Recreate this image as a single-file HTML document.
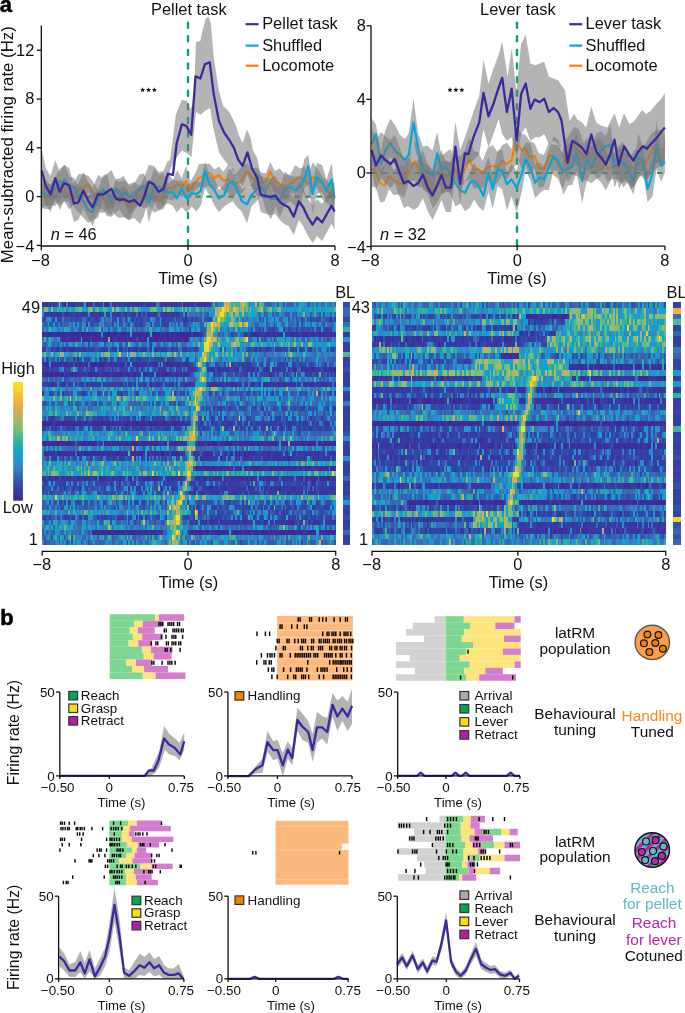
<!DOCTYPE html>
<html><head><meta charset="utf-8"><title>Figure</title>
<style>
html,body{margin:0;padding:0;background:#fff;overflow:hidden;}
svg{display:block;font-family:"Liberation Sans",sans-serif;will-change:transform;}
</style></head><body>
<svg width="685" height="1013" viewBox="0 0 685 1013">
<rect width="685" height="1013" fill="#fff"/>
<text x="-0.3" y="11.8" font-size="22" text-anchor="start" fill="#000" font-weight="bold" stroke="#000" stroke-width="0.5">a</text>
<line x1="41.3" y1="196.6" x2="335.0" y2="196.6" stroke="#04a95b" stroke-width="2.2" stroke-dasharray="5.5 5.5"/>
<line x1="188.0" y1="22.7" x2="188.0" y2="246.0" stroke="#04a95b" stroke-width="2.4" stroke-dasharray="5 8.6" stroke-linecap="round"/>
<polygon points="41.8,185.1 45.8,182.8 50.5,185.3 55.3,180.6 59.7,179.3 64.1,182.9 69.2,187.3 73.9,183.1 78.2,174.2 83.5,174.0 88.2,175.8 92.6,180.9 98.1,189.4 102.8,190.7 107.2,191.0 111.5,192.5 115.9,188.4 119.6,188.7 123.9,185.8 129.1,193.0 134.2,191.3 139.4,185.7 143.8,184.8 148.9,181.2 154.0,183.2 158.6,193.8 163.5,182.9 167.8,172.8 173.0,180.1 177.3,170.1 181.7,178.5 186.1,165.7 190.5,181.2 194.9,174.0 199.2,164.1 203.6,163.8 209.5,163.8 214.6,169.5 218.9,166.6 223.3,171.7 228.4,164.1 232.8,173.9 236.0,173.9 241.1,167.2 247.0,163.1 252.1,168.8 256.4,167.2 261.5,172.4 265.9,173.4 270.3,162.0 274.7,171.1 279.8,168.6 284.9,174.6 290.0,174.9 295.1,165.3 300.2,168.5 304.6,166.7 308.3,174.7 312.6,162.6 317.0,167.8 322.1,176.0 326.5,180.2 331.6,184.5 334.5,181.7 334.5,203.8 331.6,208.1 326.5,202.7 322.1,199.0 317.0,187.0 312.6,189.5 308.3,198.9 304.6,195.1 300.2,187.0 295.1,194.2 290.0,192.5 284.9,201.2 279.8,195.2 274.7,192.7 270.3,183.7 265.9,193.8 261.5,190.4 256.4,191.0 252.1,187.6 247.0,186.8 241.1,194.2 236.0,193.7 232.8,198.4 228.4,193.3 223.3,190.5 218.9,185.9 214.6,190.7 209.5,186.2 203.6,186.9 199.2,186.9 194.9,190.3 190.5,199.1 186.1,194.5 181.7,196.9 177.3,193.4 173.0,200.7 167.8,198.9 163.5,209.0 158.6,210.5 154.0,212.7 148.9,206.1 143.8,209.1 139.4,203.5 134.2,210.6 129.1,220.4 123.9,216.8 119.6,209.6 115.9,212.7 111.5,216.8 107.2,216.3 102.8,209.6 98.1,207.8 92.6,200.6 88.2,192.1 83.5,199.1 78.2,204.8 73.9,204.0 69.2,209.5 64.1,201.0 59.7,205.7 55.3,201.2 50.5,209.1 45.8,208.9 41.8,208.2" fill="#777777" fill-opacity="0.55"/>
<polyline points="41.8,196.2 45.8,197.7 50.5,196.9 55.3,189.6 59.7,191.8 64.1,191.1 69.2,195.5 73.9,196.2 78.2,189.6 83.5,186.7 88.2,184.5 92.6,192.6 98.1,198.4 102.8,198.4 107.2,202.0 111.5,204.2 115.9,199.9 119.6,199.9 123.9,201.3 129.1,207.2 134.2,201.3 139.4,195.5 143.8,198.4 148.9,195.5 154.0,198.4 158.6,201.3 163.5,197.7 167.8,188.2 173.0,188.2 177.3,183.8 181.7,186.7 186.1,180.9 190.5,189.6 194.9,182.3 199.2,178.0 203.6,175.8 209.5,172.8 214.6,178.0 218.9,175.0 223.3,180.9 228.4,179.4 232.8,183.8 236.0,183.1 241.1,181.6 247.0,171.4 252.1,178.0 256.4,180.9 261.5,182.3 265.9,181.6 270.3,171.4 274.7,181.6 279.8,183.8 284.9,186.7 290.0,183.8 295.1,180.1 300.2,178.0 304.6,180.1 308.3,183.8 312.6,177.2 317.0,178.7 322.1,183.8 326.5,189.6 331.6,194.0 334.5,194.0" fill="none" stroke="#f58200" stroke-width="2.2" stroke-linejoin="round" />
<polygon points="41.8,178.1 45.8,180.1 50.5,184.8 55.3,177.0 59.7,168.9 64.8,164.7 69.2,176.5 73.9,177.7 78.2,185.6 83.5,192.7 88.2,198.2 92.6,194.0 98.1,189.9 102.8,175.5 107.2,173.9 111.5,192.9 115.9,178.8 119.6,178.5 123.9,176.1 129.1,186.3 134.2,183.5 139.4,174.4 143.8,173.5 148.9,185.9 154.0,167.4 158.6,174.5 163.5,173.2 167.8,183.5 173.0,179.5 176.6,180.5 181.7,180.8 186.8,185.3 191.9,182.8 196.3,181.4 200.7,182.1 205.1,161.5 209.5,175.6 214.6,178.4 218.9,190.0 224.1,185.2 228.4,170.1 232.8,167.8 236.0,176.9 241.8,189.0 247.0,187.1 251.3,187.7 256.4,172.2 261.5,176.0 265.9,186.5 271.0,179.0 275.4,184.4 279.8,188.1 284.9,171.4 290.0,176.1 295.1,176.7 300.2,175.7 304.6,159.0 308.3,154.9 312.6,182.8 317.0,163.0 322.1,165.0 326.5,179.8 331.6,163.1 334.5,189.0 334.5,217.3 331.6,195.8 326.5,202.0 322.1,192.0 317.0,193.7 312.6,213.6 308.3,185.0 304.6,187.7 300.2,206.3 295.1,206.0 290.0,201.0 284.9,205.4 279.8,217.5 275.4,206.4 271.0,219.4 265.9,210.2 261.5,194.5 256.4,201.6 251.3,206.6 247.0,223.4 241.8,211.4 236.0,206.0 232.8,201.3 228.4,203.6 224.1,206.8 218.9,211.9 214.6,206.1 209.5,195.0 205.1,187.9 200.7,205.7 196.3,211.4 191.9,206.4 186.8,212.6 181.7,207.0 176.6,212.4 173.0,205.9 167.8,203.3 163.5,205.8 158.6,199.0 154.0,203.5 148.9,222.7 143.8,194.1 139.4,203.3 134.2,209.2 129.1,214.2 123.9,200.9 119.6,203.8 115.9,199.8 111.5,215.0 107.2,213.6 102.8,198.4 98.1,217.6 92.6,220.2 88.2,222.9 83.5,217.7 78.2,212.0 73.9,206.5 69.2,199.2 64.8,195.4 59.7,200.6 55.3,206.1 50.5,205.0 45.8,205.7 41.8,207.8" fill="#777777" fill-opacity="0.55"/>
<polyline points="41.8,191.8 45.8,196.2 50.5,192.6 55.3,188.2 59.7,185.3 64.8,179.4 69.2,186.0 73.9,187.4 78.2,194.0 83.5,201.3 88.2,210.1 92.6,212.3 98.1,198.4 102.8,189.6 107.2,194.0 111.5,202.0 115.9,188.2 119.6,194.0 123.9,192.6 129.1,196.2 134.2,196.2 139.4,189.6 143.8,186.0 148.9,202.8 154.0,187.4 158.6,186.7 163.5,189.6 167.8,192.6 173.0,191.8 176.6,198.4 181.7,188.9 186.8,198.4 191.9,193.3 196.3,194.0 200.7,191.1 205.1,171.4 209.5,183.8 214.6,190.4 218.9,198.4 224.1,195.5 228.4,183.8 232.8,181.6 236.0,186.7 241.8,201.3 247.0,204.2 251.3,195.5 256.4,189.6 261.5,186.7 265.9,194.7 271.0,199.1 275.4,198.4 279.8,199.9 284.9,189.6 290.0,186.7 295.1,190.4 300.2,186.7 304.6,178.0 308.3,166.3 312.6,194.0 317.0,177.2 322.1,181.6 326.5,191.1 331.6,179.4 334.5,198.4" fill="none" stroke="#05a6d8" stroke-width="2.2" stroke-linejoin="round" />
<polygon points="41.8,150.0 45.8,168.0 50.5,176.0 55.3,160.0 59.7,172.0 64.1,165.0 69.2,168.0 73.9,186.0 78.2,184.0 83.5,172.0 88.2,182.0 92.6,188.0 98.1,175.0 102.8,178.0 107.2,174.0 111.5,170.0 115.9,180.0 119.6,182.0 123.9,180.0 129.1,184.0 134.2,182.0 140.1,186.0 143.8,178.0 148.9,165.0 154.0,166.0 158.6,172.0 163.5,171.0 167.8,160.4 170.0,160.7 175.9,114.8 181.6,100.0 187.0,100.7 190.0,108.9 193.7,103.0 195.9,42.2 200.4,40.7 201.9,33.3 205.6,19.0 208.5,16.5 210.7,23.0 213.7,57.0 218.9,91.1 223.3,105.9 229.3,111.9 235.2,123.7 239.6,137.0 242.6,143.0 247.0,129.6 250.7,138.5 253.0,150.4 257.2,158.0 260.8,176.0 265.9,178.0 271.0,178.0 275.4,176.0 279.8,184.0 284.2,186.0 288.6,189.0 293.7,198.0 298.8,182.0 303.2,189.0 307.5,198.0 312.6,206.0 317.0,199.0 322.1,204.0 326.5,196.0 331.6,187.0 334.5,193.0 334.5,230.0 331.6,224.0 326.5,233.0 322.1,241.0 317.0,236.0 312.6,243.0 307.5,235.0 303.2,226.0 298.8,220.0 293.7,235.0 288.6,226.0 284.2,224.0 279.8,220.0 275.4,214.0 271.0,215.0 265.9,214.0 260.8,212.0 257.2,196.0 252.1,188.0 247.4,174.0 242.6,186.0 238.1,180.0 233.7,172.0 229.3,166.0 224.1,160.0 218.9,151.9 213.0,126.7 210.0,108.1 205.6,110.4 200.4,114.8 195.9,111.9 191.5,157.0 187.0,153.3 181.9,150.4 177.4,156.3 170.0,170.0 167.8,183.0 163.5,206.0 158.6,210.0 154.0,202.0 148.9,198.0 143.8,216.0 140.1,224.0 134.2,218.0 129.1,220.0 123.9,217.0 119.6,218.0 115.9,216.0 111.5,208.0 107.2,210.0 102.8,213.0 98.1,212.0 92.6,226.0 88.2,218.0 83.5,209.0 78.2,220.0 73.9,222.0 69.2,203.0 64.1,201.0 59.7,210.0 55.3,197.0 50.5,212.0 45.8,205.0 41.8,190.0" fill="#777777" fill-opacity="0.55"/>
<polyline points="41.8,170.7 45.8,186.0 50.5,194.3 55.3,178.2 59.7,191.8 64.1,183.1 69.2,185.3 73.9,203.5 78.2,202.5 83.5,190.4 88.2,200.6 92.6,207.4 98.1,194.0 102.8,194.7 107.2,191.8 111.5,188.9 115.9,198.4 119.6,199.9 123.9,199.1 129.1,202.0 134.2,199.9 140.1,205.7 143.8,197.7 148.9,181.6 154.0,184.5 158.6,191.8 163.5,188.9 167.8,173.6 173.0,175.0 176.7,143.0 181.9,124.4 186.3,125.9 191.2,134.8 195.5,76.3 200.4,78.5 204.8,64.4 209.7,62.2 213.7,94.1 218.9,120.7 224.1,132.6 229.3,140.0 233.7,147.4 238.1,159.3 242.6,165.9 247.4,152.4 252.1,168.5 257.2,178.0 260.8,194.7 265.9,196.2 271.0,196.9 275.4,195.5 279.8,202.0 284.2,205.0 288.6,207.2 293.7,216.6 298.8,201.3 303.2,207.2 307.5,216.6 312.6,224.7 317.0,217.4 322.1,222.5 326.5,214.5 331.6,205.7 334.5,211.5" fill="none" stroke="#3b2a9e" stroke-width="2.3" stroke-linejoin="round" />
<path d="M41.3,25.5 V246.0 H335.0" fill="none" stroke="#111" stroke-width="1.3"/>
<line x1="36.699999999999996" y1="245.4" x2="41.3" y2="245.4" stroke="#111" stroke-width="1.3"/>
<text x="34.3" y="252.2" font-size="16.4" text-anchor="end" fill="#111" font-weight="normal" >−4</text>
<line x1="36.699999999999996" y1="196.6" x2="41.3" y2="196.6" stroke="#111" stroke-width="1.3"/>
<text x="34.3" y="202.0" font-size="16.4" text-anchor="end" fill="#111" font-weight="normal" >0</text>
<line x1="36.699999999999996" y1="147.8" x2="41.3" y2="147.8" stroke="#111" stroke-width="1.3"/>
<text x="34.3" y="153.2" font-size="16.4" text-anchor="end" fill="#111" font-weight="normal" >4</text>
<line x1="36.699999999999996" y1="99.0" x2="41.3" y2="99.0" stroke="#111" stroke-width="1.3"/>
<text x="34.3" y="104.4" font-size="16.4" text-anchor="end" fill="#111" font-weight="normal" >8</text>
<line x1="36.699999999999996" y1="50.2" x2="41.3" y2="50.2" stroke="#111" stroke-width="1.3"/>
<text x="34.3" y="55.6" font-size="16.4" text-anchor="end" fill="#111" font-weight="normal" >12</text>
<line x1="41.3" y1="246.0" x2="41.3" y2="250.2" stroke="#111" stroke-width="1.3"/>
<text x="40.5" y="265.6" font-size="16.4" text-anchor="middle" fill="#111" font-weight="normal" >−8</text>
<line x1="188.0" y1="246.0" x2="188.0" y2="250.2" stroke="#111" stroke-width="1.3"/>
<text x="188.0" y="265.6" font-size="16.4" text-anchor="middle" fill="#111" font-weight="normal" >0</text>
<line x1="335.0" y1="246.0" x2="335.0" y2="250.2" stroke="#111" stroke-width="1.3"/>
<text x="335.0" y="265.6" font-size="16.4" text-anchor="middle" fill="#111" font-weight="normal" >8</text>
<text x="188.0" y="283.7" font-size="16.4" text-anchor="middle" fill="#111" font-weight="normal" >Time (s)</text>
<text x="188.8" y="15.3" font-size="16.4" text-anchor="middle" fill="#111" font-weight="normal" >Pellet task</text>
<line x1="245.6" y1="24.2" x2="258.6" y2="24.2" stroke="#3b2a9e" stroke-width="2.2"/>
<text x="262.2" y="29.4" font-size="16.4" text-anchor="start" fill="#111" font-weight="normal" >Pellet task</text>
<line x1="245.6" y1="45.6" x2="258.6" y2="45.6" stroke="#05a6d8" stroke-width="2.2"/>
<text x="262.2" y="50.8" font-size="16.4" text-anchor="start" fill="#111" font-weight="normal" >Shuffled</text>
<line x1="245.6" y1="65.7" x2="258.6" y2="65.7" stroke="#f58200" stroke-width="2.2"/>
<text x="262.2" y="70.9" font-size="16.4" text-anchor="start" fill="#111" font-weight="normal" >Locomote</text>
<polygon points="142.6,87.3 143.3,89.0 145.1,89.2 143.7,90.4 144.2,92.1 142.6,91.2 141.0,92.1 141.5,90.4 140.1,89.2 141.9,89.0" fill="#111"/>
<polygon points="148.5,87.3 149.2,89.0 151.0,89.2 149.6,90.4 150.1,92.1 148.5,91.2 146.9,92.1 147.4,90.4 146.0,89.2 147.8,89.0" fill="#111"/>
<polygon points="154.4,87.3 155.1,89.0 156.9,89.2 155.5,90.4 156.0,92.1 154.4,91.2 152.8,92.1 153.3,90.4 151.9,89.2 153.7,89.0" fill="#111"/>
<text x="50.7" y="239.9" font-size="16.4" fill="#111"><tspan font-style="italic">n</tspan> = 46</text>
<line x1="371.0" y1="173.0" x2="664.9" y2="173.0" stroke="#04a95b" stroke-width="2.2" stroke-dasharray="5.5 5.5"/>
<line x1="517.0" y1="22.7" x2="517.0" y2="246.1" stroke="#04a95b" stroke-width="2.4" stroke-dasharray="5 8.6" stroke-linecap="round"/>
<polygon points="371.8,156.4 375.8,154.0 380.2,170.4 384.6,166.0 389.0,159.8 393.4,169.9 399.2,166.2 404.3,165.4 408.7,158.5 414.5,139.7 418.9,149.9 423.3,162.2 427.7,165.8 432.5,172.3 437.2,171.1 441.5,161.2 445.9,160.4 451.0,161.7 455.4,156.1 460.5,155.8 465.0,150.1 469.2,137.8 474.2,151.1 478.4,152.3 482.6,160.8 487.7,147.8 492.7,145.1 497.7,152.5 502.2,145.3 506.9,142.7 511.6,149.3 515.3,125.6 518.7,129.7 522.0,134.1 525.4,134.5 529.6,140.8 534.6,143.4 538.8,153.2 543.9,154.9 548.9,142.0 553.6,144.7 558.1,145.1 562.3,152.8 564.7,141.6 569.5,134.5 574.2,126.7 578.9,129.2 583.7,142.8 588.4,137.2 593.2,143.0 597.9,138.3 602.6,140.7 607.4,155.1 612.1,151.7 616.8,154.1 621.6,141.6 626.3,146.5 631.1,155.2 635.8,149.0 640.5,151.4 646.1,142.3 650.8,133.9 654.7,131.1 659.5,129.6 664.9,133.6 664.9,163.5 659.5,163.3 654.7,163.2 650.8,171.3 646.1,181.4 640.5,174.9 635.8,183.9 631.1,189.5 626.3,181.1 621.6,183.5 616.8,179.5 612.1,179.1 607.4,182.0 602.6,171.5 597.9,173.2 593.2,173.6 588.4,169.6 583.7,170.6 578.9,165.4 574.2,164.9 569.5,171.0 564.7,183.2 562.3,188.9 558.1,178.8 553.6,175.3 548.9,167.4 543.9,186.3 538.8,188.3 534.6,168.1 529.6,174.8 525.4,164.6 522.0,169.5 518.7,161.6 515.3,165.5 511.6,171.4 506.9,178.9 502.2,175.5 497.7,182.0 492.7,186.1 487.7,180.2 482.6,188.3 478.4,187.8 474.2,188.9 469.2,179.5 465.0,181.9 460.5,188.9 455.4,179.4 451.0,191.7 445.9,192.5 441.5,193.8 437.2,202.8 432.5,207.9 427.7,193.5 423.3,187.1 418.9,187.4 414.5,180.0 408.7,182.4 404.3,197.7 399.2,194.4 393.4,194.9 389.0,188.9 384.6,201.5 380.2,202.5 375.8,187.3 371.8,186.7" fill="#777777" fill-opacity="0.55"/>
<polyline points="371.8,168.6 375.8,171.5 380.2,183.2 384.6,185.4 389.0,175.9 393.4,180.3 399.2,183.2 404.3,184.7 408.7,171.5 414.5,161.3 418.9,170.1 423.3,173.0 427.7,181.8 432.5,193.4 437.2,183.2 441.5,173.0 445.9,175.9 451.0,175.9 455.4,168.6 460.5,175.9 465.0,169.2 469.2,159.1 474.2,170.0 478.4,169.2 482.6,172.6 487.7,167.5 492.7,165.8 497.7,167.5 502.2,160.8 506.9,164.2 511.6,160.0 515.3,144.0 518.7,145.7 522.0,150.7 525.4,147.4 529.6,157.4 534.6,155.8 538.8,167.5 543.9,169.2 548.9,155.8 553.6,155.8 558.1,164.2 562.3,170.9 564.7,162.1 569.5,149.5 574.2,147.9 578.9,149.5 583.7,157.4 588.4,157.4 593.2,154.2 597.9,157.4 602.6,160.5 607.4,168.4 612.1,166.8 616.8,165.3 621.6,162.1 626.3,165.3 631.1,168.4 635.8,165.3 640.5,162.1 646.1,162.1 650.8,154.2 654.7,146.3 659.5,149.5 664.9,150.0" fill="none" stroke="#f58200" stroke-width="2.2" stroke-linejoin="round" />
<polygon points="371.8,118.4 375.8,124.0 380.9,151.3 385.3,129.9 390.4,118.8 395.5,125.7 399.9,135.1 405.0,138.9 408.7,133.3 413.5,98.4 418.2,133.3 422.8,146.4 427.7,145.7 432.5,150.4 437.2,132.1 441.5,156.0 445.9,152.2 451.0,149.1 455.4,171.0 460.5,169.8 465.0,182.0 470.0,172.2 474.2,162.8 478.4,169.5 483.5,171.3 488.5,156.6 492.7,174.6 497.7,150.5 502.2,150.1 506.9,173.0 511.6,163.6 516.7,171.3 521.2,150.6 525.7,142.7 530.4,143.1 535.1,163.8 539.7,162.4 544.2,166.3 548.9,148.9 553.6,136.2 558.1,139.7 563.2,155.0 567.9,143.6 572.3,143.2 576.6,134.2 582.1,155.1 586.8,141.4 591.6,147.3 596.3,133.2 601.1,131.3 605.8,136.1 610.2,124.5 614.5,154.1 618.7,145.2 623.2,151.5 627.9,154.4 633.4,167.7 638.2,133.5 642.9,146.1 647.6,171.5 652.4,159.2 656.6,120.6 661.1,155.6 664.9,138.3 664.9,172.4 661.1,182.1 656.6,168.9 652.4,196.5 647.6,202.3 642.9,172.0 638.2,170.2 633.4,195.1 627.9,181.8 623.2,187.7 618.7,176.4 614.5,187.9 610.2,160.1 605.8,164.3 601.1,176.3 596.3,179.0 591.6,183.2 586.8,180.7 582.1,203.0 576.6,172.0 572.3,184.8 567.9,185.8 563.2,194.9 558.1,171.5 553.6,169.8 548.9,190.3 544.2,189.8 539.7,193.3 535.1,198.2 530.4,180.2 525.7,170.6 521.2,194.1 516.7,212.7 511.6,196.2 506.9,210.3 502.2,189.4 497.7,186.1 492.7,208.8 488.5,191.9 483.5,210.9 478.4,206.6 474.2,199.2 470.0,207.5 465.0,211.2 460.5,203.4 455.4,206.5 451.0,194.9 445.9,189.8 441.5,195.5 437.2,173.1 432.5,195.0 427.7,193.2 422.8,189.4 418.2,161.2 413.5,142.1 408.7,165.4 405.0,184.8 399.9,179.7 395.5,166.2 390.4,156.8 385.3,165.9 380.9,176.1 375.8,160.4 371.8,156.0" fill="#777777" fill-opacity="0.55"/>
<polyline points="371.8,143.8 375.8,134.3 380.9,164.2 385.3,150.4 390.4,143.1 395.5,151.1 399.9,154.7 405.0,159.9 408.7,154.7 413.5,122.6 418.2,148.2 422.8,170.1 427.7,170.8 432.5,175.9 437.2,153.3 441.5,170.1 445.9,167.2 451.0,174.5 455.4,183.2 460.5,190.5 465.0,192.7 470.0,182.6 474.2,180.9 478.4,186.0 483.5,196.0 488.5,172.6 492.7,189.3 497.7,169.2 502.2,170.9 506.9,184.3 511.6,179.3 516.7,187.7 521.2,175.9 525.7,159.1 530.4,167.5 535.1,182.6 539.7,177.6 544.2,179.3 548.9,167.5 553.6,156.6 558.1,160.8 563.2,171.6 567.9,168.4 572.3,166.8 576.6,152.6 582.1,181.1 586.8,159.0 591.6,167.6 596.3,155.8 601.1,151.1 605.8,146.3 610.2,144.7 614.5,166.8 618.7,162.1 623.2,162.1 627.9,170.0 633.4,181.1 638.2,157.4 642.9,160.5 647.6,189.0 652.4,174.7 656.6,145.5 661.1,166.1 664.9,162.0" fill="none" stroke="#05a6d8" stroke-width="2.2" stroke-linejoin="round" />
<polygon points="371.8,128.0 375.8,140.0 380.9,132.0 385.3,136.0 390.4,140.0 394.8,135.0 399.2,146.0 403.9,160.0 408.2,158.0 413.5,163.0 418.2,160.0 422.8,150.0 427.7,164.0 432.5,170.0 437.2,160.0 441.5,150.0 445.9,162.0 451.0,163.0 455.4,122.0 460.2,150.0 465.0,137.3 473.4,112.1 479.3,95.4 483.5,60.1 488.5,83.6 493.5,68.5 498.6,55.1 502.2,41.7 507.6,77.2 511.7,48.0 516.4,92.0 521.0,44.5 525.7,34.6 530.4,63.5 535.5,65.2 539.7,63.5 544.2,61.8 548.9,76.9 553.6,78.6 558.1,80.3 561.5,85.3 565.0,90.3 569.5,121.1 574.2,113.9 577.4,119.5 582.1,122.6 586.1,127.4 591.3,106.8 596.3,122.6 601.1,125.8 607.4,127.4 614.5,113.2 619.2,127.4 624.0,113.2 629.5,124.2 634.2,121.1 642.1,110.0 646.1,113.9 650.8,110.8 656.3,103.7 661.1,98.9 664.9,93.0 664.9,160.0 661.1,165.3 656.3,168.4 651.6,173.2 646.8,181.1 642.9,174.7 638.2,177.9 633.4,187.4 628.7,182.6 624.0,177.9 619.2,189.0 614.5,168.4 610.5,181.1 605.8,190.5 601.1,182.6 596.3,177.9 591.6,171.6 586.8,181.1 582.1,179.5 577.4,176.3 572.6,174.7 567.6,182.6 561.5,149.1 558.1,144.0 553.6,140.7 548.9,144.0 544.2,134.0 539.7,137.3 535.5,137.3 530.4,140.7 525.7,127.2 521.2,134.0 516.7,157.4 511.6,137.3 506.9,140.7 502.2,134.0 498.6,118.9 493.5,134.0 488.5,147.4 483.5,128.9 479.3,154.1 473.4,160.8 465.0,165.8 460.2,205.0 455.4,172.0 451.0,212.0 445.9,212.0 441.5,200.0 437.2,210.0 432.5,220.0 427.7,211.0 422.8,198.0 418.2,207.0 413.5,210.0 408.2,206.0 403.9,208.0 399.2,196.0 394.8,183.0 390.4,188.0 385.3,183.0 380.9,178.0 375.8,190.0 371.8,172.0" fill="#777777" fill-opacity="0.55"/>
<polyline points="371.8,150.4 375.8,165.7 380.9,155.5 385.3,159.9 390.4,164.2 394.8,159.1 399.2,171.5 403.9,183.2 408.2,181.0 413.5,186.1 418.2,183.2 422.8,174.5 427.7,187.6 432.5,195.6 437.2,185.4 441.5,175.2 445.9,187.6 451.0,187.6 455.4,146.7 460.2,183.9 464.9,153.3 468.4,154.1 473.4,137.3 479.3,122.2 483.5,92.9 488.5,116.3 493.5,103.8 497.7,90.3 502.2,77.8 506.9,112.1 511.6,88.7 516.7,140.7 521.2,93.7 525.7,83.6 530.4,108.8 534.6,99.6 539.7,102.1 544.2,98.7 548.9,112.1 553.6,108.0 558.1,112.1 561.5,120.5 563.2,132.1 567.6,162.9 572.3,140.8 577.4,143.9 582.1,147.9 586.5,154.2 591.3,134.5 596.3,151.8 601.1,157.4 605.8,164.5 610.2,154.2 614.5,139.7 618.7,165.3 624.0,146.3 628.7,154.2 633.4,160.5 638.2,151.8 642.9,146.3 646.8,148.7 651.6,143.2 656.3,138.4 661.1,132.1 664.9,127.5" fill="none" stroke="#3b2a9e" stroke-width="2.3" stroke-linejoin="round" />
<path d="M371.0,25.5 V246.1 H664.9" fill="none" stroke="#111" stroke-width="1.3"/>
<line x1="366.4" y1="246.6" x2="371.0" y2="246.6" stroke="#111" stroke-width="1.3"/>
<text x="365.8" y="253.4" font-size="16.4" text-anchor="end" fill="#111" font-weight="normal" >−4</text>
<line x1="366.4" y1="173.0" x2="371.0" y2="173.0" stroke="#111" stroke-width="1.3"/>
<text x="365.8" y="178.4" font-size="16.4" text-anchor="end" fill="#111" font-weight="normal" >0</text>
<line x1="366.4" y1="99.4" x2="371.0" y2="99.4" stroke="#111" stroke-width="1.3"/>
<text x="365.8" y="104.8" font-size="16.4" text-anchor="end" fill="#111" font-weight="normal" >4</text>
<line x1="366.4" y1="25.8" x2="371.0" y2="25.8" stroke="#111" stroke-width="1.3"/>
<text x="365.8" y="31.2" font-size="16.4" text-anchor="end" fill="#111" font-weight="normal" >8</text>
<line x1="371.0" y1="246.1" x2="371.0" y2="250.29999999999998" stroke="#111" stroke-width="1.3"/>
<text x="370.2" y="265.6" font-size="16.4" text-anchor="middle" fill="#111" font-weight="normal" >−8</text>
<line x1="517.2" y1="246.1" x2="517.2" y2="250.29999999999998" stroke="#111" stroke-width="1.3"/>
<text x="517.2" y="265.6" font-size="16.4" text-anchor="middle" fill="#111" font-weight="normal" >0</text>
<line x1="664.9" y1="246.1" x2="664.9" y2="250.29999999999998" stroke="#111" stroke-width="1.3"/>
<text x="664.9" y="265.6" font-size="16.4" text-anchor="middle" fill="#111" font-weight="normal" >8</text>
<text x="517.0" y="283.7" font-size="16.4" text-anchor="middle" fill="#111" font-weight="normal" >Time (s)</text>
<text x="517.9" y="15.3" font-size="16.4" text-anchor="middle" fill="#111" font-weight="normal" >Lever task</text>
<line x1="569.3" y1="24.2" x2="582.3" y2="24.2" stroke="#3b2a9e" stroke-width="2.2"/>
<text x="585.6" y="29.4" font-size="16.4" text-anchor="start" fill="#111" font-weight="normal" >Lever task</text>
<line x1="569.3" y1="45.6" x2="582.3" y2="45.6" stroke="#05a6d8" stroke-width="2.2"/>
<text x="585.6" y="50.8" font-size="16.4" text-anchor="start" fill="#111" font-weight="normal" >Shuffled</text>
<line x1="569.3" y1="65.7" x2="582.3" y2="65.7" stroke="#f58200" stroke-width="2.2"/>
<text x="585.6" y="70.9" font-size="16.4" text-anchor="start" fill="#111" font-weight="normal" >Locomote</text>
<polygon points="450.0,87.3 450.7,89.0 452.5,89.2 451.1,90.4 451.6,92.1 450.0,91.2 448.4,92.1 448.9,90.4 447.5,89.2 449.3,89.0" fill="#111"/>
<polygon points="455.9,87.3 456.6,89.0 458.4,89.2 457.0,90.4 457.5,92.1 455.9,91.2 454.3,92.1 454.8,90.4 453.4,89.2 455.2,89.0" fill="#111"/>
<polygon points="461.8,87.3 462.5,89.0 464.3,89.2 462.9,90.4 463.4,92.1 461.8,91.2 460.2,92.1 460.7,90.4 459.3,89.2 461.1,89.0" fill="#111"/>
<text x="380.0" y="239.9" font-size="16.4" fill="#111"><tspan font-style="italic">n</tspan> = 32</text>
<text transform="translate(13.3,144.7) rotate(-90)" font-size="16.8" text-anchor="middle" fill="#111">Mean-subtracted firing rate (Hz)</text>
<g transform="translate(42.0,302.3) scale(1.83750,4.95306)" shape-rendering="crispEdges">
<path fill="#412896" d="M12 0h1v1H12zM77 0h1v1H77zM0 6h1v1H0zM3 6h3v1H3zM9 6h1v1H9zM11 6h2v1H11zM17 6h3v1H17zM21 6h5v1H21zM28 6h4v1H28zM33 6h1v1H33zM35 6h3v1H35zM39 6h2v1H39zM43 6h2v1H43zM50 6h1v1H50zM52 6h3v1H52zM56 6h3v1H56zM60 6h4v1H60zM65 6h1v1H65zM67 6h2v1H67zM70 6h2v1H70zM75 6h5v1H75zM82 6h3v1H82zM113 6h1v1H113zM115 6h2v1H115zM123 6h1v1H123zM130 6h1v1H130zM136 6h1v1H136zM138 6h1v1H138zM142 6h2v1H142zM147 6h1v1H147zM151 6h1v1H151zM153 6h1v1H153zM157 6h1v1H157zM16 7h2v1H16zM19 7h1v1H19zM23 7h1v1H23zM27 7h1v1H27zM37 7h1v1H37zM53 7h1v1H53zM61 7h2v1H61zM68 7h1v1H68zM70 7h1v1H70zM74 7h1v1H74zM78 7h2v1H78zM1 12h1v1H1zM10 12h1v1H10zM12 12h2v1H12zM16 12h1v1H16zM18 12h1v1H18zM20 12h1v1H20zM24 12h1v1H24zM26 12h1v1H26zM28 12h2v1H28zM31 12h1v1H31zM33 12h1v1H33zM40 12h1v1H40zM43 12h1v1H43zM46 12h1v1H46zM51 12h1v1H51zM61 12h2v1H61zM68 12h1v1H68zM70 12h1v1H70zM106 13h1v1H106zM122 13h1v1H122zM137 13h1v1H137zM159 13h1v1H159zM2 14h1v1H2zM4 14h2v1H4zM7 14h3v1H7zM11 14h1v1H11zM15 14h2v1H15zM18 14h1v1H18zM25 14h3v1H25zM30 14h1v1H30zM34 14h2v1H34zM41 14h2v1H41zM46 14h1v1H46zM50 14h1v1H50zM55 14h1v1H55zM60 14h1v1H60zM62 14h1v1H62zM67 14h2v1H67zM75 14h1v1H75zM78 14h1v1H78zM5 16h1v1H5zM80 16h1v1H80zM103 16h2v1H103zM121 16h1v1H121zM128 16h1v1H128zM132 16h1v1H132zM0 24h2v1H0zM4 24h1v1H4zM8 24h1v1H8zM10 24h6v1H10zM17 24h1v1H17zM20 24h2v1H20zM23 24h1v1H23zM30 24h1v1H30zM32 24h1v1H32zM34 24h1v1H34zM36 24h1v1H36zM38 24h1v1H38zM40 24h1v1H40zM45 24h2v1H45zM49 24h1v1H49zM51 24h1v1H51zM53 24h1v1H53zM55 24h1v1H55zM58 24h2v1H58zM61 24h1v1H61zM64 24h4v1H64zM71 24h3v1H71zM0 28h2v1H0zM3 28h1v1H3zM6 28h1v1H6zM8 28h2v1H8zM11 28h1v1H11zM13 28h3v1H13zM22 28h2v1H22zM25 28h1v1H25zM27 28h2v1H27zM34 28h1v1H34zM36 28h1v1H36zM41 28h1v1H41zM46 28h1v1H46zM48 28h4v1H48zM55 28h1v1H55zM58 28h1v1H58zM62 28h1v1H62zM67 28h1v1H67zM70 28h1v1H70zM72 28h2v1H72zM75 28h1v1H75zM85 28h1v1H85zM87 28h1v1H87zM90 28h1v1H90zM92 28h3v1H92zM99 28h5v1H99zM108 28h1v1H108zM110 28h2v1H110zM114 28h1v1H114zM117 28h1v1H117zM124 28h2v1H124zM127 28h1v1H127zM133 28h1v1H133zM141 28h2v1H141zM144 28h1v1H144zM146 28h3v1H146zM150 28h2v1H150zM154 28h1v1H154zM156 28h1v1H156zM159 28h1v1H159zM1 30h1v1H1zM8 30h1v1H8zM10 30h1v1H10zM19 30h1v1H19zM23 30h1v1H23zM28 30h1v1H28zM36 30h1v1H36zM41 30h1v1H41zM49 30h2v1H49zM52 30h3v1H52zM57 30h1v1H57zM65 30h2v1H65zM68 30h1v1H68zM71 30h4v1H71zM76 30h1v1H76zM110 30h1v1H110zM123 30h1v1H123zM134 31h1v1H134zM84 33h1v1H84zM93 33h1v1H93zM97 33h1v1H97zM101 33h1v1H101zM115 33h3v1H115zM123 33h2v1H123zM130 33h2v1H130zM134 33h1v1H134zM138 33h1v1H138zM143 33h1v1H143zM145 33h1v1H145zM157 33h2v1H157zM7 35h1v1H7zM15 35h1v1H15zM19 35h1v1H19zM31 35h1v1H31zM42 35h1v1H42zM48 35h1v1H48zM55 35h1v1H55zM58 35h1v1H58zM61 35h1v1H61zM88 35h1v1H88zM93 35h1v1H93zM111 35h1v1H111zM114 35h1v1H114zM141 35h1v1H141zM151 35h1v1H151zM154 35h2v1H154zM92 37h1v1H92zM110 37h1v1H110zM27 46h3v1H27zM31 46h3v1H31zM36 46h1v1H36zM39 46h1v1H39zM41 46h3v1H41zM46 46h1v1H46zM48 46h3v1H48zM53 46h1v1H53zM56 46h1v1H56zM81 46h1v1H81zM83 46h5v1H83zM89 46h2v1H89zM95 46h2v1H95zM98 46h2v1H98zM101 46h1v1H101zM104 46h3v1H104zM108 46h1v1H108zM110 46h4v1H110zM115 46h1v1H115zM119 46h4v1H119zM124 46h1v1H124zM126 46h2v1H126zM129 46h3v1H129zM134 46h1v1H134zM136 46h2v1H136zM140 46h2v1H140zM145 46h2v1H145zM148 46h1v1H148zM154 46h5v1H154z"/>
<path fill="#3e2d9b" d="M14 0h1v1H14zM24 0h1v1H24zM26 0h1v1H26zM57 0h1v1H57zM87 0h3v1H87zM5 2h1v1H5zM13 2h1v1H13zM31 2h1v1H31zM41 2h1v1H41zM45 2h1v1H45zM58 2h1v1H58zM67 2h1v1H67zM1 6h2v1H1zM7 6h2v1H7zM10 6h1v1H10zM13 6h3v1H13zM20 6h1v1H20zM26 6h2v1H26zM34 6h1v1H34zM38 6h1v1H38zM42 6h1v1H42zM45 6h1v1H45zM47 6h1v1H47zM49 6h1v1H49zM51 6h1v1H51zM55 6h1v1H55zM69 6h1v1H69zM72 6h3v1H72zM80 6h1v1H80zM85 6h1v1H85zM117 6h1v1H117zM122 6h1v1H122zM125 6h1v1H125zM128 6h2v1H128zM135 6h1v1H135zM140 6h1v1H140zM144 6h1v1H144zM146 6h1v1H146zM150 6h1v1H150zM159 6h1v1H159zM11 7h2v1H11zM15 7h1v1H15zM22 7h1v1H22zM25 7h1v1H25zM28 7h3v1H28zM33 7h2v1H33zM41 7h3v1H41zM45 7h1v1H45zM48 7h1v1H48zM50 7h1v1H50zM54 7h3v1H54zM59 7h2v1H59zM64 7h2v1H64zM71 7h3v1H71zM77 7h1v1H77zM12 9h1v1H12zM15 9h1v1H15zM47 9h1v1H47zM116 9h1v1H116zM2 12h1v1H2zM5 12h1v1H5zM7 12h1v1H7zM9 12h1v1H9zM22 12h1v1H22zM27 12h1v1H27zM32 12h1v1H32zM34 12h1v1H34zM37 12h1v1H37zM42 12h1v1H42zM50 12h1v1H50zM52 12h1v1H52zM54 12h2v1H54zM58 12h1v1H58zM64 12h1v1H64zM69 12h1v1H69zM71 12h1v1H71zM74 12h1v1H74zM78 12h1v1H78zM92 13h1v1H92zM96 13h1v1H96zM136 13h1v1H136zM141 13h1v1H141zM143 13h2v1H143zM147 13h1v1H147zM157 13h1v1H157zM0 14h2v1H0zM10 14h1v1H10zM13 14h1v1H13zM17 14h1v1H17zM21 14h1v1H21zM23 14h1v1H23zM29 14h1v1H29zM32 14h1v1H32zM36 14h1v1H36zM38 14h3v1H38zM43 14h1v1H43zM47 14h1v1H47zM49 14h1v1H49zM52 14h1v1H52zM63 14h1v1H63zM65 14h1v1H65zM69 14h1v1H69zM72 14h2v1H72zM79 14h1v1H79zM24 16h1v1H24zM42 16h1v1H42zM59 16h1v1H59zM78 16h1v1H78zM92 16h1v1H92zM97 16h2v1H97zM100 16h1v1H100zM105 16h1v1H105zM115 16h1v1H115zM122 16h1v1H122zM131 16h1v1H131zM135 16h1v1H135zM137 16h1v1H137zM142 16h1v1H142zM147 16h1v1H147zM5 23h1v1H5zM3 24h1v1H3zM7 24h1v1H7zM9 24h1v1H9zM16 24h1v1H16zM18 24h2v1H18zM24 24h1v1H24zM26 24h4v1H26zM33 24h1v1H33zM37 24h1v1H37zM41 24h2v1H41zM47 24h1v1H47zM50 24h1v1H50zM54 24h1v1H54zM57 24h1v1H57zM60 24h1v1H60zM62 24h1v1H62zM70 24h1v1H70zM74 24h3v1H74zM79 24h1v1H79zM92 24h1v1H92zM102 24h1v1H102zM144 24h1v1H144zM5 28h1v1H5zM7 28h1v1H7zM12 28h1v1H12zM16 28h1v1H16zM20 28h2v1H20zM24 28h1v1H24zM29 28h1v1H29zM38 28h2v1H38zM42 28h2v1H42zM45 28h1v1H45zM52 28h1v1H52zM54 28h1v1H54zM56 28h1v1H56zM59 28h3v1H59zM66 28h1v1H66zM71 28h1v1H71zM76 28h1v1H76zM86 28h1v1H86zM97 28h2v1H97zM105 28h1v1H105zM107 28h1v1H107zM109 28h1v1H109zM112 28h1v1H112zM115 28h1v1H115zM118 28h2v1H118zM122 28h2v1H122zM131 28h1v1H131zM135 28h1v1H135zM137 28h1v1H137zM139 28h2v1H139zM145 28h1v1H145zM153 28h1v1H153zM157 28h1v1H157zM3 30h1v1H3zM6 30h1v1H6zM9 30h1v1H9zM11 30h5v1H11zM17 30h1v1H17zM24 30h4v1H24zM29 30h2v1H29zM33 30h1v1H33zM39 30h1v1H39zM43 30h1v1H43zM45 30h1v1H45zM51 30h1v1H51zM70 30h1v1H70zM82 30h1v1H82zM89 30h2v1H89zM92 30h1v1H92zM103 30h1v1H103zM105 30h1v1H105zM107 30h1v1H107zM112 30h1v1H112zM115 30h1v1H115zM128 30h1v1H128zM132 30h1v1H132zM136 30h1v1H136zM150 30h1v1H150zM83 31h1v1H83zM97 31h1v1H97zM105 31h1v1H105zM142 31h1v1H142zM85 33h7v1H85zM94 33h2v1H94zM99 33h2v1H99zM103 33h1v1H103zM106 33h1v1H106zM108 33h1v1H108zM110 33h2v1H110zM113 33h1v1H113zM118 33h1v1H118zM127 33h1v1H127zM129 33h1v1H129zM133 33h1v1H133zM135 33h3v1H135zM140 33h2v1H140zM150 33h2v1H150zM154 33h1v1H154zM0 35h1v1H0zM4 35h1v1H4zM11 35h1v1H11zM13 35h1v1H13zM29 35h1v1H29zM32 35h3v1H32zM38 35h1v1H38zM40 35h1v1H40zM57 35h1v1H57zM60 35h1v1H60zM72 35h1v1H72zM74 35h1v1H74zM83 35h1v1H83zM91 35h1v1H91zM94 35h3v1H94zM103 35h1v1H103zM105 35h2v1H105zM108 35h2v1H108zM113 35h1v1H113zM115 35h1v1H115zM120 35h1v1H120zM124 35h2v1H124zM131 35h1v1H131zM143 35h1v1H143zM146 35h2v1H146zM149 35h1v1H149zM152 35h2v1H152zM156 35h1v1H156zM147 36h1v1H147zM91 37h1v1H91zM95 37h1v1H95zM107 37h1v1H107zM112 37h1v1H112zM124 37h1v1H124zM129 37h1v1H129zM136 37h2v1H136zM141 37h1v1H141zM158 37h1v1H158zM104 38h2v1H104zM113 38h1v1H113zM121 38h1v1H121zM134 38h1v1H134zM138 38h1v1H138zM152 38h1v1H152zM81 44h1v1H81zM83 44h1v1H83zM89 44h1v1H89zM92 44h1v1H92zM104 44h1v1H104zM110 44h1v1H110zM113 44h1v1H113zM121 44h1v1H121zM130 44h1v1H130zM134 44h3v1H134zM148 44h1v1H148zM150 44h1v1H150zM30 46h1v1H30zM34 46h1v1H34zM37 46h1v1H37zM40 46h1v1H40zM44 46h1v1H44zM47 46h1v1H47zM52 46h1v1H52zM55 46h1v1H55zM58 46h4v1H58zM80 46h1v1H80zM82 46h1v1H82zM94 46h1v1H94zM97 46h1v1H97zM100 46h1v1H100zM116 46h2v1H116zM123 46h1v1H123zM125 46h1v1H125zM128 46h1v1H128zM132 46h2v1H132zM135 46h1v1H135zM139 46h1v1H139zM144 46h1v1H144zM147 46h1v1H147z"/>
<path fill="#3c32a0" d="M0 0h3v1H0zM4 0h1v1H4zM17 0h1v1H17zM30 0h1v1H30zM34 0h2v1H34zM38 0h2v1H38zM47 0h1v1H47zM52 0h1v1H52zM54 0h1v1H54zM59 0h1v1H59zM61 0h1v1H61zM65 0h3v1H65zM70 0h2v1H70zM73 0h1v1H73zM78 0h2v1H78zM84 0h2v1H84zM90 0h2v1H90zM7 2h2v1H7zM10 2h1v1H10zM12 2h1v1H12zM15 2h1v1H15zM18 2h1v1H18zM23 2h1v1H23zM26 2h1v1H26zM39 2h1v1H39zM53 2h1v1H53zM55 2h1v1H55zM61 2h1v1H61zM71 2h1v1H71zM73 2h1v1H73zM78 2h1v1H78zM78 3h1v1H78zM157 3h1v1H157zM138 5h1v1H138zM6 6h1v1H6zM16 6h1v1H16zM46 6h1v1H46zM66 6h1v1H66zM86 6h1v1H86zM110 6h1v1H110zM119 6h1v1H119zM121 6h1v1H121zM124 6h1v1H124zM126 6h2v1H126zM132 6h2v1H132zM137 6h1v1H137zM139 6h1v1H139zM145 6h1v1H145zM148 6h2v1H148zM152 6h1v1H152zM154 6h3v1H154zM14 7h1v1H14zM18 7h1v1H18zM20 7h1v1H20zM24 7h1v1H24zM31 7h1v1H31zM35 7h1v1H35zM38 7h1v1H38zM40 7h1v1H40zM44 7h1v1H44zM47 7h1v1H47zM49 7h1v1H49zM58 7h1v1H58zM63 7h1v1H63zM66 7h1v1H66zM69 7h1v1H69zM75 7h2v1H75zM5 9h1v1H5zM8 9h1v1H8zM16 9h2v1H16zM39 9h1v1H39zM51 9h1v1H51zM61 9h2v1H61zM122 9h1v1H122zM0 12h1v1H0zM3 12h1v1H3zM6 12h1v1H6zM8 12h1v1H8zM15 12h1v1H15zM21 12h1v1H21zM23 12h1v1H23zM30 12h1v1H30zM36 12h1v1H36zM38 12h2v1H38zM44 12h1v1H44zM47 12h1v1H47zM53 12h1v1H53zM56 12h1v1H56zM60 12h1v1H60zM66 12h2v1H66zM72 12h2v1H72zM76 12h2v1H76zM79 12h1v1H79zM66 13h1v1H66zM80 13h2v1H80zM90 13h1v1H90zM98 13h1v1H98zM100 13h1v1H100zM111 13h1v1H111zM113 13h1v1H113zM115 13h1v1H115zM117 13h1v1H117zM121 13h1v1H121zM125 13h1v1H125zM128 13h1v1H128zM138 13h1v1H138zM142 13h1v1H142zM146 13h1v1H146zM148 13h2v1H148zM154 13h1v1H154zM156 13h1v1H156zM3 14h1v1H3zM6 14h1v1H6zM19 14h1v1H19zM22 14h1v1H22zM28 14h1v1H28zM33 14h1v1H33zM37 14h1v1H37zM45 14h1v1H45zM53 14h1v1H53zM56 14h1v1H56zM58 14h2v1H58zM64 14h1v1H64zM66 14h1v1H66zM70 14h1v1H70zM77 14h1v1H77zM116 14h1v1H116zM123 14h2v1H123zM3 16h1v1H3zM11 16h2v1H11zM28 16h1v1H28zM33 16h1v1H33zM62 16h1v1H62zM71 16h1v1H71zM75 16h1v1H75zM91 16h1v1H91zM93 16h4v1H93zM101 16h2v1H101zM107 16h1v1H107zM113 16h2v1H113zM120 16h1v1H120zM123 16h1v1H123zM126 16h1v1H126zM129 16h2v1H129zM134 16h1v1H134zM136 16h1v1H136zM143 16h4v1H143zM149 16h1v1H149zM152 16h4v1H152zM157 16h1v1H157zM159 16h1v1H159zM2 24h1v1H2zM5 24h1v1H5zM22 24h1v1H22zM31 24h1v1H31zM35 24h1v1H35zM39 24h1v1H39zM44 24h1v1H44zM48 24h1v1H48zM52 24h1v1H52zM56 24h1v1H56zM63 24h1v1H63zM68 24h2v1H68zM77 24h1v1H77zM86 24h1v1H86zM98 24h1v1H98zM101 24h1v1H101zM120 24h2v1H120zM134 24h1v1H134zM142 24h1v1H142zM156 24h1v1H156zM7 25h1v1H7zM130 25h1v1H130zM2 28h1v1H2zM4 28h1v1H4zM10 28h1v1H10zM17 28h1v1H17zM19 28h1v1H19zM26 28h1v1H26zM31 28h1v1H31zM35 28h1v1H35zM40 28h1v1H40zM44 28h1v1H44zM57 28h1v1H57zM63 28h2v1H63zM69 28h1v1H69zM74 28h1v1H74zM77 28h1v1H77zM91 28h1v1H91zM104 28h1v1H104zM113 28h1v1H113zM116 28h1v1H116zM120 28h2v1H120zM126 28h1v1H126zM128 28h1v1H128zM132 28h1v1H132zM138 28h1v1H138zM155 28h1v1H155zM158 28h1v1H158zM2 30h1v1H2zM4 30h2v1H4zM20 30h2v1H20zM31 30h2v1H31zM34 30h2v1H34zM38 30h1v1H38zM40 30h1v1H40zM42 30h1v1H42zM46 30h1v1H46zM48 30h1v1H48zM55 30h1v1H55zM58 30h6v1H58zM77 30h1v1H77zM84 30h1v1H84zM91 30h1v1H91zM96 30h1v1H96zM99 30h1v1H99zM113 30h2v1H113zM121 30h2v1H121zM127 30h1v1H127zM137 30h1v1H137zM141 30h1v1H141zM143 30h1v1H143zM145 30h2v1H145zM156 30h1v1H156zM158 30h2v1H158zM57 31h1v1H57zM86 31h1v1H86zM88 31h1v1H88zM95 31h1v1H95zM107 31h1v1H107zM110 31h2v1H110zM120 31h2v1H120zM123 31h1v1H123zM126 31h1v1H126zM129 31h1v1H129zM131 31h1v1H131zM133 31h1v1H133zM135 31h2v1H135zM147 31h1v1H147zM150 31h1v1H150zM153 31h1v1H153zM155 31h1v1H155zM158 31h1v1H158zM92 33h1v1H92zM105 33h1v1H105zM107 33h1v1H107zM114 33h1v1H114zM119 33h3v1H119zM125 33h2v1H125zM128 33h1v1H128zM139 33h1v1H139zM144 33h1v1H144zM146 33h1v1H146zM149 33h1v1H149zM152 33h2v1H152zM155 33h1v1H155zM159 33h1v1H159zM1 35h1v1H1zM5 35h1v1H5zM8 35h1v1H8zM14 35h1v1H14zM17 35h1v1H17zM22 35h4v1H22zM27 35h1v1H27zM35 35h1v1H35zM43 35h1v1H43zM47 35h1v1H47zM52 35h3v1H52zM56 35h1v1H56zM62 35h3v1H62zM68 35h1v1H68zM70 35h2v1H70zM73 35h1v1H73zM76 35h1v1H76zM84 35h2v1H84zM87 35h1v1H87zM89 35h1v1H89zM97 35h1v1H97zM99 35h1v1H99zM104 35h1v1H104zM107 35h1v1H107zM116 35h1v1H116zM118 35h1v1H118zM122 35h2v1H122zM126 35h3v1H126zM135 35h2v1H135zM139 35h2v1H139zM144 35h2v1H144zM148 35h1v1H148zM42 36h1v1H42zM123 36h1v1H123zM143 36h1v1H143zM148 36h1v1H148zM83 37h1v1H83zM89 37h2v1H89zM97 37h3v1H97zM104 37h1v1H104zM106 37h1v1H106zM119 37h1v1H119zM121 37h2v1H121zM127 37h2v1H127zM130 37h3v1H130zM135 37h1v1H135zM146 37h1v1H146zM152 37h1v1H152zM155 37h1v1H155zM157 37h1v1H157zM80 38h1v1H80zM82 38h2v1H82zM87 38h1v1H87zM93 38h2v1H93zM101 38h1v1H101zM103 38h1v1H103zM117 38h1v1H117zM123 38h2v1H123zM133 38h1v1H133zM141 38h1v1H141zM145 38h1v1H145zM147 38h1v1H147zM151 38h1v1H151zM154 38h1v1H154zM17 43h1v1H17zM56 43h1v1H56zM146 43h1v1H146zM93 44h1v1H93zM97 44h6v1H97zM105 44h3v1H105zM109 44h1v1H109zM111 44h1v1H111zM127 44h1v1H127zM131 44h1v1H131zM133 44h1v1H133zM145 44h1v1H145zM155 44h2v1H155zM158 44h2v1H158zM35 46h1v1H35zM38 46h1v1H38zM51 46h1v1H51zM54 46h1v1H54zM57 46h1v1H57zM63 46h3v1H63zM92 46h2v1H92zM107 46h1v1H107zM109 46h1v1H109zM118 46h1v1H118zM138 46h1v1H138zM142 46h2v1H142zM151 46h3v1H151zM159 46h1v1H159z"/>
<path fill="#3839a2" d="M11 0h1v1H11zM16 0h1v1H16zM21 0h1v1H21zM25 0h1v1H25zM29 0h1v1H29zM32 0h1v1H32zM42 0h1v1H42zM45 0h1v1H45zM49 0h1v1H49zM51 0h1v1H51zM53 0h1v1H53zM58 0h1v1H58zM64 0h1v1H64zM68 0h2v1H68zM72 0h1v1H72zM80 0h3v1H80zM86 0h1v1H86zM1 2h3v1H1zM14 2h1v1H14zM16 2h1v1H16zM19 2h4v1H19zM27 2h4v1H27zM33 2h1v1H33zM35 2h2v1H35zM40 2h1v1H40zM42 2h1v1H42zM49 2h2v1H49zM57 2h1v1H57zM59 2h1v1H59zM65 2h1v1H65zM69 2h1v1H69zM74 2h1v1H74zM76 2h1v1H76zM29 3h1v1H29zM66 3h1v1H66zM24 4h1v1H24zM157 5h1v1H157zM41 6h1v1H41zM64 6h1v1H64zM81 6h1v1H81zM103 6h1v1H103zM114 6h1v1H114zM118 6h1v1H118zM120 6h1v1H120zM134 6h1v1H134zM141 6h1v1H141zM158 6h1v1H158zM10 7h1v1H10zM13 7h1v1H13zM32 7h1v1H32zM39 7h1v1H39zM52 7h1v1H52zM67 7h1v1H67zM1 9h1v1H1zM7 9h1v1H7zM11 9h1v1H11zM14 9h1v1H14zM20 9h2v1H20zM23 9h1v1H23zM27 9h1v1H27zM32 9h4v1H32zM49 9h2v1H49zM53 9h3v1H53zM63 9h1v1H63zM65 9h1v1H65zM70 9h1v1H70zM76 9h1v1H76zM78 9h1v1H78zM118 9h1v1H118zM138 9h1v1H138zM146 9h1v1H146zM158 9h1v1H158zM34 11h1v1H34zM53 11h1v1H53zM65 11h1v1H65zM68 11h1v1H68zM71 11h1v1H71zM11 12h1v1H11zM14 12h1v1H14zM19 12h1v1H19zM35 12h1v1H35zM41 12h1v1H41zM49 12h1v1H49zM59 12h1v1H59zM75 12h1v1H75zM119 12h1v1H119zM126 12h1v1H126zM133 12h1v1H133zM154 12h1v1H154zM2 13h1v1H2zM5 13h1v1H5zM26 13h1v1H26zM33 13h1v1H33zM43 13h1v1H43zM65 13h1v1H65zM73 13h1v1H73zM82 13h2v1H82zM93 13h1v1H93zM97 13h1v1H97zM101 13h1v1H101zM104 13h1v1H104zM110 13h1v1H110zM112 13h1v1H112zM114 13h1v1H114zM120 13h1v1H120zM123 13h1v1H123zM127 13h1v1H127zM129 13h1v1H129zM131 13h2v1H131zM134 13h1v1H134zM145 13h1v1H145zM151 13h1v1H151zM153 13h1v1H153zM155 13h1v1H155zM158 13h1v1H158zM14 14h1v1H14zM20 14h1v1H20zM44 14h1v1H44zM48 14h1v1H48zM51 14h1v1H51zM57 14h1v1H57zM71 14h1v1H71zM74 14h1v1H74zM76 14h1v1H76zM131 14h1v1H131zM137 14h1v1H137zM146 14h1v1H146zM149 14h1v1H149zM2 16h1v1H2zM6 16h1v1H6zM21 16h1v1H21zM26 16h1v1H26zM30 16h2v1H30zM43 16h1v1H43zM47 16h1v1H47zM50 16h1v1H50zM52 16h1v1H52zM55 16h1v1H55zM60 16h1v1H60zM63 16h2v1H63zM77 16h1v1H77zM79 16h1v1H79zM106 16h1v1H106zM108 16h1v1H108zM110 16h2v1H110zM117 16h2v1H117zM124 16h2v1H124zM139 16h2v1H139zM148 16h1v1H148zM150 16h2v1H150zM22 18h1v1H22zM115 18h1v1H115zM93 21h1v1H93zM107 21h1v1H107zM119 21h2v1H119zM159 21h1v1H159zM15 23h1v1H15zM40 23h1v1H40zM50 23h1v1H50zM60 23h1v1H60zM62 23h1v1H62zM66 23h1v1H66zM146 23h1v1H146zM6 24h1v1H6zM25 24h1v1H25zM43 24h1v1H43zM78 24h1v1H78zM87 24h1v1H87zM94 24h1v1H94zM103 24h1v1H103zM108 24h1v1H108zM110 24h1v1H110zM113 24h1v1H113zM116 24h1v1H116zM118 24h1v1H118zM125 24h2v1H125zM129 24h1v1H129zM135 24h1v1H135zM137 24h1v1H137zM147 24h1v1H147zM149 24h1v1H149zM154 24h2v1H154zM1 25h1v1H1zM9 25h1v1H9zM35 25h1v1H35zM67 25h1v1H67zM74 25h1v1H74zM88 25h1v1H88zM119 25h1v1H119zM142 25h1v1H142zM145 25h1v1H145zM156 25h1v1H156zM32 28h1v1H32zM37 28h1v1H37zM47 28h1v1H47zM53 28h1v1H53zM65 28h1v1H65zM78 28h1v1H78zM84 28h1v1H84zM88 28h1v1H88zM106 28h1v1H106zM130 28h1v1H130zM136 28h1v1H136zM143 28h1v1H143zM16 30h1v1H16zM22 30h1v1H22zM37 30h1v1H37zM44 30h1v1H44zM67 30h1v1H67zM75 30h1v1H75zM83 30h1v1H83zM85 30h1v1H85zM87 30h2v1H87zM98 30h1v1H98zM102 30h1v1H102zM106 30h1v1H106zM111 30h1v1H111zM119 30h2v1H119zM124 30h3v1H124zM129 30h2v1H129zM133 30h1v1H133zM139 30h2v1H139zM142 30h1v1H142zM147 30h3v1H147zM151 30h3v1H151zM157 30h1v1H157zM6 31h2v1H6zM35 31h1v1H35zM42 31h1v1H42zM44 31h1v1H44zM61 31h1v1H61zM84 31h1v1H84zM87 31h1v1H87zM89 31h2v1H89zM99 31h1v1H99zM109 31h1v1H109zM112 31h1v1H112zM114 31h1v1H114zM116 31h1v1H116zM118 31h1v1H118zM122 31h1v1H122zM125 31h1v1H125zM127 31h2v1H127zM130 31h1v1H130zM132 31h1v1H132zM138 31h2v1H138zM141 31h1v1H141zM149 31h1v1H149zM151 31h1v1H151zM154 31h1v1H154zM83 33h1v1H83zM96 33h1v1H96zM98 33h1v1H98zM102 33h1v1H102zM112 33h1v1H112zM132 33h1v1H132zM142 33h1v1H142zM147 33h2v1H147zM6 35h1v1H6zM12 35h1v1H12zM16 35h1v1H16zM18 35h1v1H18zM20 35h2v1H20zM28 35h1v1H28zM36 35h1v1H36zM44 35h1v1H44zM50 35h1v1H50zM59 35h1v1H59zM67 35h1v1H67zM69 35h1v1H69zM77 35h1v1H77zM86 35h1v1H86zM92 35h1v1H92zM101 35h1v1H101zM110 35h1v1H110zM119 35h1v1H119zM121 35h1v1H121zM130 35h1v1H130zM133 35h2v1H133zM138 35h1v1H138zM157 35h2v1H157zM11 36h1v1H11zM15 36h1v1H15zM18 36h1v1H18zM37 36h1v1H37zM66 36h1v1H66zM71 36h1v1H71zM82 36h1v1H82zM86 36h1v1H86zM95 36h1v1H95zM99 36h1v1H99zM101 36h2v1H101zM111 36h1v1H111zM152 36h1v1H152zM156 36h1v1H156zM0 37h1v1H0zM12 37h1v1H12zM51 37h1v1H51zM53 37h1v1H53zM55 37h1v1H55zM72 37h1v1H72zM84 37h1v1H84zM87 37h2v1H87zM94 37h1v1H94zM100 37h1v1H100zM102 37h2v1H102zM105 37h1v1H105zM108 37h1v1H108zM113 37h3v1H113zM125 37h1v1H125zM133 37h1v1H133zM139 37h1v1H139zM143 37h1v1H143zM148 37h1v1H148zM153 37h2v1H153zM53 38h1v1H53zM81 38h1v1H81zM86 38h1v1H86zM88 38h1v1H88zM91 38h2v1H91zM95 38h2v1H95zM106 38h3v1H106zM110 38h2v1H110zM115 38h2v1H115zM125 38h1v1H125zM127 38h1v1H127zM129 38h1v1H129zM131 38h1v1H131zM135 38h1v1H135zM137 38h1v1H137zM139 38h2v1H139zM143 38h1v1H143zM146 38h1v1H146zM148 38h1v1H148zM153 38h1v1H153zM155 38h1v1H155zM157 38h1v1H157zM159 38h1v1H159zM101 40h1v1H101zM109 40h1v1H109zM126 40h1v1H126zM84 41h1v1H84zM93 41h2v1H93zM107 41h1v1H107zM112 41h1v1H112zM115 41h1v1H115zM119 41h1v1H119zM121 41h1v1H121zM134 41h1v1H134zM137 41h1v1H137zM154 41h1v1H154zM133 42h1v1H133zM144 42h1v1H144zM1 43h1v1H1zM4 43h1v1H4zM9 43h1v1H9zM30 43h1v1H30zM33 43h2v1H33zM41 43h2v1H41zM82 43h1v1H82zM92 43h1v1H92zM96 43h1v1H96zM110 43h1v1H110zM123 43h1v1H123zM139 43h1v1H139zM143 43h1v1H143zM152 43h1v1H152zM84 44h1v1H84zM86 44h3v1H86zM91 44h1v1H91zM94 44h2v1H94zM103 44h1v1H103zM112 44h1v1H112zM117 44h2v1H117zM122 44h1v1H122zM124 44h2v1H124zM132 44h1v1H132zM137 44h1v1H137zM141 44h1v1H141zM149 44h1v1H149zM151 44h1v1H151zM154 44h1v1H154zM45 46h1v1H45zM88 46h1v1H88zM103 46h1v1H103z"/>
<path fill="#333fa4" d="M5 0h3v1H5zM20 0h1v1H20zM31 0h1v1H31zM36 0h1v1H36zM40 0h2v1H40zM43 0h2v1H43zM46 0h1v1H46zM48 0h1v1H48zM50 0h1v1H50zM56 0h1v1H56zM60 0h1v1H60zM75 0h1v1H75zM4 2h1v1H4zM6 2h1v1H6zM9 2h1v1H9zM24 2h1v1H24zM32 2h1v1H32zM38 2h1v1H38zM44 2h1v1H44zM48 2h1v1H48zM52 2h1v1H52zM60 2h1v1H60zM64 2h1v1H64zM66 2h1v1H66zM68 2h1v1H68zM70 2h1v1H70zM72 2h1v1H72zM6 3h1v1H6zM9 3h1v1H9zM15 3h1v1H15zM21 3h1v1H21zM25 3h1v1H25zM30 3h1v1H30zM39 3h1v1H39zM42 3h1v1H42zM49 3h1v1H49zM51 3h1v1H51zM54 3h1v1H54zM58 3h1v1H58zM69 3h1v1H69zM77 3h1v1H77zM81 3h1v1H81zM84 3h1v1H84zM141 3h1v1H141zM156 3h1v1H156zM159 3h1v1H159zM26 4h1v1H26zM53 4h1v1H53zM66 4h1v1H66zM68 4h1v1H68zM80 5h1v1H80zM120 5h1v1H120zM125 5h2v1H125zM151 5h1v1H151zM154 5h2v1H154zM26 7h1v1H26zM46 7h1v1H46zM0 9h1v1H0zM13 9h1v1H13zM18 9h1v1H18zM22 9h1v1H22zM25 9h2v1H25zM38 9h1v1H38zM40 9h1v1H40zM42 9h2v1H42zM56 9h1v1H56zM59 9h1v1H59zM66 9h2v1H66zM71 9h1v1H71zM73 9h1v1H73zM84 9h1v1H84zM113 9h1v1H113zM127 9h4v1H127zM132 9h1v1H132zM136 9h1v1H136zM141 9h1v1H141zM2 11h1v1H2zM17 11h1v1H17zM19 11h1v1H19zM31 11h1v1H31zM41 11h1v1H41zM45 11h1v1H45zM79 11h1v1H79zM80 12h1v1H80zM89 12h1v1H89zM94 12h1v1H94zM101 12h1v1H101zM103 12h1v1H103zM107 12h1v1H107zM109 12h1v1H109zM111 12h3v1H111zM129 12h3v1H129zM136 12h1v1H136zM156 12h1v1H156zM0 13h2v1H0zM3 13h1v1H3zM12 13h1v1H12zM14 13h1v1H14zM20 13h2v1H20zM27 13h2v1H27zM31 13h1v1H31zM38 13h1v1H38zM48 13h1v1H48zM51 13h1v1H51zM54 13h1v1H54zM63 13h1v1H63zM75 13h1v1H75zM79 13h1v1H79zM91 13h1v1H91zM95 13h1v1H95zM99 13h1v1H99zM102 13h1v1H102zM105 13h1v1H105zM109 13h1v1H109zM126 13h1v1H126zM150 13h1v1H150zM12 14h1v1H12zM24 14h1v1H24zM31 14h1v1H31zM93 14h1v1H93zM95 14h2v1H95zM105 14h1v1H105zM110 14h2v1H110zM125 14h2v1H125zM128 14h1v1H128zM133 14h1v1H133zM143 14h2v1H143zM155 14h1v1H155zM157 14h1v1H157zM159 14h1v1H159zM1 16h1v1H1zM4 16h1v1H4zM7 16h1v1H7zM14 16h3v1H14zM18 16h1v1H18zM20 16h1v1H20zM22 16h1v1H22zM27 16h1v1H27zM29 16h1v1H29zM34 16h1v1H34zM36 16h5v1H36zM45 16h1v1H45zM48 16h1v1H48zM53 16h1v1H53zM56 16h1v1H56zM67 16h1v1H67zM69 16h2v1H69zM73 16h1v1H73zM76 16h1v1H76zM81 16h2v1H81zM90 16h1v1H90zM99 16h1v1H99zM127 16h1v1H127zM133 16h1v1H133zM0 18h1v1H0zM11 18h1v1H11zM23 18h1v1H23zM43 18h1v1H43zM51 18h1v1H51zM72 18h1v1H72zM91 18h1v1H91zM125 18h1v1H125zM157 18h1v1H157zM159 18h1v1H159zM89 21h1v1H89zM96 21h2v1H96zM102 21h1v1H102zM115 21h1v1H115zM126 21h1v1H126zM132 21h1v1H132zM141 21h2v1H141zM145 21h1v1H145zM155 21h1v1H155zM6 23h1v1H6zM30 23h3v1H30zM35 23h1v1H35zM46 23h2v1H46zM54 23h2v1H54zM58 23h1v1H58zM64 23h1v1H64zM71 23h1v1H71zM86 23h1v1H86zM88 23h1v1H88zM92 23h1v1H92zM99 23h1v1H99zM111 23h1v1H111zM120 23h1v1H120zM129 23h1v1H129zM152 23h1v1H152zM80 24h1v1H80zM90 24h1v1H90zM95 24h1v1H95zM99 24h2v1H99zM106 24h2v1H106zM111 24h1v1H111zM114 24h1v1H114zM117 24h1v1H117zM119 24h1v1H119zM122 24h3v1H122zM127 24h1v1H127zM133 24h1v1H133zM136 24h1v1H136zM140 24h1v1H140zM143 24h1v1H143zM150 24h1v1H150zM153 24h1v1H153zM0 25h1v1H0zM3 25h1v1H3zM5 25h1v1H5zM13 25h3v1H13zM17 25h1v1H17zM25 25h1v1H25zM28 25h1v1H28zM30 25h1v1H30zM36 25h1v1H36zM43 25h1v1H43zM45 25h2v1H45zM49 25h1v1H49zM51 25h1v1H51zM53 25h3v1H53zM59 25h1v1H59zM63 25h1v1H63zM68 25h2v1H68zM85 25h1v1H85zM90 25h1v1H90zM96 25h1v1H96zM100 25h1v1H100zM105 25h1v1H105zM115 25h2v1H115zM125 25h1v1H125zM129 25h1v1H129zM134 25h2v1H134zM140 25h1v1H140zM146 25h1v1H146zM151 25h1v1H151zM154 25h2v1H154zM89 28h1v1H89zM95 28h2v1H95zM152 28h1v1H152zM64 30h1v1H64zM94 30h1v1H94zM100 30h1v1H100zM108 30h2v1H108zM116 30h2v1H116zM144 30h1v1H144zM155 30h1v1H155zM11 31h1v1H11zM21 31h1v1H21zM26 31h1v1H26zM32 31h1v1H32zM36 31h1v1H36zM38 31h1v1H38zM40 31h1v1H40zM43 31h1v1H43zM50 31h1v1H50zM52 31h1v1H52zM54 31h1v1H54zM91 31h3v1H91zM98 31h1v1H98zM101 31h2v1H101zM113 31h1v1H113zM117 31h1v1H117zM124 31h1v1H124zM137 31h1v1H137zM140 31h1v1H140zM143 31h1v1H143zM148 31h1v1H148zM156 31h1v1H156zM122 33h1v1H122zM3 35h1v1H3zM10 35h1v1H10zM26 35h1v1H26zM37 35h1v1H37zM39 35h1v1H39zM41 35h1v1H41zM75 35h1v1H75zM100 35h1v1H100zM102 35h1v1H102zM112 35h1v1H112zM159 35h1v1H159zM1 36h1v1H1zM9 36h2v1H9zM12 36h1v1H12zM32 36h2v1H32zM48 36h3v1H48zM61 36h1v1H61zM69 36h1v1H69zM75 36h1v1H75zM81 36h1v1H81zM85 36h1v1H85zM88 36h1v1H88zM98 36h1v1H98zM103 36h3v1H103zM107 36h1v1H107zM112 36h1v1H112zM114 36h1v1H114zM116 36h1v1H116zM122 36h1v1H122zM126 36h1v1H126zM129 36h1v1H129zM131 36h1v1H131zM140 36h1v1H140zM142 36h1v1H142zM154 36h1v1H154zM158 36h1v1H158zM10 37h1v1H10zM17 37h1v1H17zM20 37h1v1H20zM24 37h1v1H24zM27 37h1v1H27zM34 37h1v1H34zM41 37h1v1H41zM47 37h1v1H47zM65 37h1v1H65zM70 37h2v1H70zM82 37h1v1H82zM93 37h1v1H93zM109 37h1v1H109zM117 37h1v1H117zM126 37h1v1H126zM134 37h1v1H134zM138 37h1v1H138zM140 37h1v1H140zM150 37h2v1H150zM156 37h1v1H156zM159 37h1v1H159zM20 38h1v1H20zM45 38h1v1H45zM56 38h1v1H56zM85 38h1v1H85zM90 38h1v1H90zM98 38h1v1H98zM102 38h1v1H102zM114 38h1v1H114zM126 38h1v1H126zM149 38h1v1H149zM156 38h1v1H156zM158 38h1v1H158zM12 40h1v1H12zM14 40h1v1H14zM58 40h1v1H58zM64 40h1v1H64zM132 40h1v1H132zM149 40h1v1H149zM85 41h1v1H85zM92 41h1v1H92zM97 41h1v1H97zM100 41h1v1H100zM105 41h1v1H105zM111 41h1v1H111zM124 41h1v1H124zM138 41h1v1H138zM142 41h1v1H142zM147 41h1v1H147zM156 41h1v1H156zM85 42h1v1H85zM95 42h1v1H95zM109 42h1v1H109zM127 42h2v1H127zM131 42h1v1H131zM12 43h3v1H12zM20 43h2v1H20zM32 43h1v1H32zM35 43h1v1H35zM43 43h1v1H43zM48 43h1v1H48zM51 43h1v1H51zM53 43h2v1H53zM58 43h1v1H58zM79 43h1v1H79zM89 43h1v1H89zM94 43h2v1H94zM97 43h1v1H97zM104 43h1v1H104zM109 43h1v1H109zM115 43h1v1H115zM119 43h1v1H119zM130 43h2v1H130zM134 43h1v1H134zM136 43h2v1H136zM144 43h1v1H144zM148 43h1v1H148zM150 43h1v1H150zM155 43h3v1H155zM116 44h1v1H116zM128 44h2v1H128zM138 44h1v1H138zM140 44h1v1H140zM152 44h1v1H152zM157 44h1v1H157zM62 46h1v1H62zM91 46h1v1H91zM114 46h1v1H114z"/>
<path fill="#3248a8" d="M3 0h1v1H3zM15 0h1v1H15zM18 0h2v1H18zM22 0h1v1H22zM27 0h1v1H27zM55 0h1v1H55zM74 0h1v1H74zM17 2h1v1H17zM47 2h1v1H47zM62 2h1v1H62zM0 3h2v1H0zM8 3h1v1H8zM10 3h1v1H10zM18 3h2v1H18zM28 3h1v1H28zM38 3h1v1H38zM45 3h1v1H45zM53 3h1v1H53zM62 3h1v1H62zM65 3h1v1H65zM67 3h2v1H67zM71 3h1v1H71zM73 3h1v1H73zM79 3h1v1H79zM88 3h1v1H88zM91 3h1v1H91zM138 3h1v1H138zM144 3h1v1H144zM146 3h1v1H146zM149 3h1v1H149zM151 3h1v1H151zM10 4h1v1H10zM27 4h1v1H27zM38 4h1v1H38zM47 4h1v1H47zM50 4h2v1H50zM54 4h1v1H54zM59 4h1v1H59zM67 4h1v1H67zM77 4h2v1H77zM118 5h1v1H118zM123 5h2v1H123zM127 5h1v1H127zM131 5h1v1H131zM134 5h2v1H134zM141 5h2v1H141zM144 5h2v1H144zM147 5h1v1H147zM149 5h2v1H149zM87 6h1v1H87zM111 6h1v1H111zM126 7h1v1H126zM25 8h1v1H25zM59 8h1v1H59zM6 9h1v1H6zM9 9h1v1H9zM19 9h1v1H19zM24 9h1v1H24zM28 9h1v1H28zM31 9h1v1H31zM37 9h1v1H37zM45 9h1v1H45zM48 9h1v1H48zM64 9h1v1H64zM72 9h1v1H72zM77 9h1v1H77zM80 9h1v1H80zM82 9h2v1H82zM112 9h1v1H112zM115 9h1v1H115zM119 9h1v1H119zM121 9h1v1H121zM123 9h2v1H123zM131 9h1v1H131zM133 9h1v1H133zM135 9h1v1H135zM137 9h1v1H137zM140 9h1v1H140zM145 9h1v1H145zM157 9h1v1H157zM0 11h1v1H0zM8 11h1v1H8zM21 11h1v1H21zM23 11h3v1H23zM32 11h1v1H32zM35 11h1v1H35zM37 11h1v1H37zM42 11h1v1H42zM48 11h2v1H48zM51 11h2v1H51zM55 11h1v1H55zM57 11h1v1H57zM61 11h4v1H61zM69 11h2v1H69zM123 11h1v1H123zM132 11h1v1H132zM57 12h1v1H57zM81 12h1v1H81zM99 12h1v1H99zM104 12h1v1H104zM108 12h1v1H108zM110 12h1v1H110zM122 12h2v1H122zM128 12h1v1H128zM137 12h1v1H137zM140 12h2v1H140zM146 12h2v1H146zM6 13h3v1H6zM13 13h1v1H13zM22 13h1v1H22zM24 13h1v1H24zM30 13h1v1H30zM32 13h1v1H32zM34 13h1v1H34zM36 13h1v1H36zM40 13h1v1H40zM42 13h1v1H42zM44 13h3v1H44zM52 13h1v1H52zM57 13h1v1H57zM61 13h1v1H61zM64 13h1v1H64zM67 13h1v1H67zM69 13h1v1H69zM74 13h1v1H74zM77 13h1v1H77zM84 13h1v1H84zM103 13h1v1H103zM130 13h1v1H130zM80 14h1v1H80zM97 14h1v1H97zM101 14h1v1H101zM108 14h2v1H108zM113 14h2v1H113zM119 14h1v1H119zM121 14h2v1H121zM145 14h1v1H145zM152 14h1v1H152zM129 15h1v1H129zM135 15h1v1H135zM0 16h1v1H0zM9 16h2v1H9zM25 16h1v1H25zM35 16h1v1H35zM41 16h1v1H41zM54 16h1v1H54zM58 16h1v1H58zM61 16h1v1H61zM65 16h1v1H65zM68 16h1v1H68zM156 16h1v1H156zM4 18h2v1H4zM13 18h1v1H13zM21 18h1v1H21zM30 18h2v1H30zM41 18h2v1H41zM52 18h1v1H52zM63 18h2v1H63zM75 18h1v1H75zM77 18h1v1H77zM94 18h1v1H94zM98 18h1v1H98zM108 18h1v1H108zM111 18h2v1H111zM120 18h1v1H120zM122 18h1v1H122zM131 18h1v1H131zM143 18h1v1H143zM150 18h2v1H150zM1 20h1v1H1zM29 20h1v1H29zM58 20h1v1H58zM72 20h1v1H72zM74 20h1v1H74zM87 21h1v1H87zM95 21h1v1H95zM101 21h1v1H101zM103 21h1v1H103zM109 21h2v1H109zM116 21h1v1H116zM122 21h1v1H122zM130 21h2v1H130zM137 21h1v1H137zM158 21h1v1H158zM91 22h1v1H91zM95 22h1v1H95zM121 22h1v1H121zM123 22h1v1H123zM3 23h2v1H3zM9 23h1v1H9zM12 23h3v1H12zM17 23h1v1H17zM20 23h1v1H20zM24 23h1v1H24zM28 23h1v1H28zM33 23h1v1H33zM38 23h1v1H38zM42 23h1v1H42zM44 23h2v1H44zM49 23h1v1H49zM63 23h1v1H63zM65 23h1v1H65zM72 23h1v1H72zM74 23h1v1H74zM77 23h1v1H77zM93 23h1v1H93zM96 23h2v1H96zM112 23h1v1H112zM124 23h1v1H124zM127 23h2v1H127zM133 23h1v1H133zM136 23h1v1H136zM85 24h1v1H85zM93 24h1v1H93zM97 24h1v1H97zM104 24h1v1H104zM128 24h1v1H128zM130 24h1v1H130zM139 24h1v1H139zM141 24h1v1H141zM158 24h1v1H158zM6 25h1v1H6zM16 25h1v1H16zM20 25h3v1H20zM27 25h1v1H27zM29 25h1v1H29zM31 25h2v1H31zM39 25h1v1H39zM41 25h1v1H41zM44 25h1v1H44zM47 25h1v1H47zM50 25h1v1H50zM52 25h1v1H52zM58 25h1v1H58zM61 25h2v1H61zM65 25h2v1H65zM72 25h2v1H72zM87 25h1v1H87zM94 25h1v1H94zM99 25h1v1H99zM101 25h1v1H101zM103 25h1v1H103zM108 25h3v1H108zM112 25h1v1H112zM120 25h2v1H120zM123 25h1v1H123zM126 25h2v1H126zM131 25h1v1H131zM133 25h1v1H133zM139 25h1v1H139zM143 25h1v1H143zM147 25h1v1H147zM149 25h2v1H149zM152 25h1v1H152zM157 25h1v1H157zM86 26h1v1H86zM122 26h1v1H122zM140 26h1v1H140zM50 29h1v1H50zM7 30h1v1H7zM69 30h1v1H69zM118 30h1v1H118zM2 31h2v1H2zM5 31h1v1H5zM14 31h1v1H14zM17 31h2v1H17zM20 31h1v1H20zM27 31h1v1H27zM31 31h1v1H31zM37 31h1v1H37zM39 31h1v1H39zM47 31h1v1H47zM55 31h1v1H55zM59 31h1v1H59zM63 31h1v1H63zM65 31h3v1H65zM69 31h1v1H69zM73 31h1v1H73zM94 31h1v1H94zM106 31h1v1H106zM115 31h1v1H115zM152 31h1v1H152zM159 31h1v1H159zM2 35h1v1H2zM65 35h1v1H65zM90 35h1v1H90zM132 35h1v1H132zM2 36h1v1H2zM5 36h1v1H5zM7 36h2v1H7zM17 36h1v1H17zM20 36h1v1H20zM25 36h1v1H25zM29 36h3v1H29zM34 36h2v1H34zM38 36h1v1H38zM40 36h1v1H40zM45 36h1v1H45zM54 36h2v1H54zM64 36h1v1H64zM67 36h2v1H67zM72 36h1v1H72zM80 36h1v1H80zM83 36h1v1H83zM87 36h1v1H87zM92 36h1v1H92zM97 36h1v1H97zM106 36h1v1H106zM108 36h2v1H108zM127 36h1v1H127zM132 36h4v1H132zM138 36h2v1H138zM144 36h1v1H144zM146 36h1v1H146zM150 36h2v1H150zM153 36h1v1H153zM157 36h1v1H157zM159 36h1v1H159zM4 37h1v1H4zM6 37h2v1H6zM11 37h1v1H11zM16 37h1v1H16zM19 37h1v1H19zM21 37h1v1H21zM32 37h1v1H32zM38 37h1v1H38zM40 37h1v1H40zM42 37h2v1H42zM52 37h1v1H52zM58 37h1v1H58zM62 37h1v1H62zM64 37h1v1H64zM68 37h1v1H68zM73 37h1v1H73zM96 37h1v1H96zM101 37h1v1H101zM123 37h1v1H123zM4 38h2v1H4zM9 38h1v1H9zM16 38h1v1H16zM30 38h2v1H30zM33 38h3v1H33zM37 38h3v1H37zM47 38h1v1H47zM63 38h2v1H63zM71 38h1v1H71zM120 38h1v1H120zM130 38h1v1H130zM136 38h1v1H136zM4 40h1v1H4zM9 40h2v1H9zM15 40h1v1H15zM18 40h4v1H18zM27 40h1v1H27zM33 40h2v1H33zM40 40h1v1H40zM44 40h1v1H44zM46 40h1v1H46zM48 40h1v1H48zM50 40h2v1H50zM54 40h2v1H54zM67 40h1v1H67zM79 40h1v1H79zM85 40h1v1H85zM90 40h1v1H90zM99 40h2v1H99zM102 40h1v1H102zM104 40h1v1H104zM111 40h1v1H111zM122 40h2v1H122zM133 40h1v1H133zM137 40h1v1H137zM143 40h1v1H143zM150 40h1v1H150zM155 40h2v1H155zM55 41h1v1H55zM80 41h1v1H80zM82 41h1v1H82zM88 41h1v1H88zM109 41h2v1H109zM113 41h1v1H113zM118 41h1v1H118zM122 41h1v1H122zM125 41h1v1H125zM129 41h1v1H129zM131 41h1v1H131zM133 41h1v1H133zM135 41h1v1H135zM141 41h1v1H141zM143 41h1v1H143zM148 41h1v1H148zM151 41h1v1H151zM153 41h1v1H153zM155 41h1v1H155zM81 42h1v1H81zM86 42h1v1H86zM88 42h1v1H88zM96 42h1v1H96zM98 42h1v1H98zM101 42h1v1H101zM116 42h1v1H116zM123 42h1v1H123zM130 42h1v1H130zM136 42h1v1H136zM146 42h1v1H146zM152 42h1v1H152zM16 43h1v1H16zM23 43h2v1H23zM37 43h1v1H37zM44 43h1v1H44zM47 43h1v1H47zM62 43h2v1H62zM67 43h1v1H67zM77 43h2v1H77zM86 43h1v1H86zM99 43h1v1H99zM106 43h2v1H106zM111 43h1v1H111zM118 43h1v1H118zM129 43h1v1H129zM132 43h1v1H132zM135 43h1v1H135zM141 43h2v1H141zM147 43h1v1H147zM151 43h1v1H151zM50 44h1v1H50zM80 44h1v1H80zM82 44h1v1H82zM108 44h1v1H108zM114 44h1v1H114zM119 44h2v1H119zM143 44h1v1H143zM146 44h2v1H146zM140 45h1v1H140zM46 48h1v1H46zM108 48h1v1H108zM141 48h1v1H141z"/>
<path fill="#3253ab" d="M11 2h1v1H11zM43 2h1v1H43zM46 2h1v1H46zM75 2h1v1H75zM90 2h1v1H90zM132 2h1v1H132zM138 2h1v1H138zM153 2h1v1H153zM12 3h2v1H12zM16 3h2v1H16zM20 3h1v1H20zM24 3h1v1H24zM26 3h2v1H26zM31 3h1v1H31zM40 3h1v1H40zM43 3h1v1H43zM48 3h1v1H48zM50 3h1v1H50zM52 3h1v1H52zM56 3h2v1H56zM63 3h1v1H63zM70 3h1v1H70zM74 3h3v1H74zM80 3h1v1H80zM82 3h2v1H82zM86 3h1v1H86zM90 3h1v1H90zM118 3h1v1H118zM120 3h1v1H120zM134 3h1v1H134zM147 3h2v1H147zM150 3h1v1H150zM154 3h2v1H154zM1 4h1v1H1zM5 4h1v1H5zM7 4h1v1H7zM18 4h1v1H18zM21 4h1v1H21zM28 4h1v1H28zM30 4h1v1H30zM42 4h2v1H42zM55 4h1v1H55zM61 4h3v1H61zM65 4h1v1H65zM74 4h1v1H74zM126 4h1v1H126zM139 4h1v1H139zM141 4h1v1H141zM153 4h1v1H153zM36 5h1v1H36zM87 5h1v1H87zM114 5h1v1H114zM116 5h2v1H116zM132 5h1v1H132zM139 5h1v1H139zM143 5h1v1H143zM153 5h1v1H153zM105 6h1v1H105zM112 6h1v1H112zM51 7h1v1H51zM117 7h1v1H117zM121 7h1v1H121zM151 7h1v1H151zM155 7h1v1H155zM1 8h1v1H1zM13 8h1v1H13zM34 8h1v1H34zM42 8h1v1H42zM46 8h1v1H46zM3 9h1v1H3zM10 9h1v1H10zM29 9h2v1H29zM58 9h1v1H58zM68 9h2v1H68zM79 9h1v1H79zM81 9h1v1H81zM97 9h1v1H97zM106 9h1v1H106zM111 9h1v1H111zM114 9h1v1H114zM117 9h1v1H117zM120 9h1v1H120zM142 9h1v1H142zM144 9h1v1H144zM151 9h1v1H151zM155 9h1v1H155zM3 11h1v1H3zM6 11h1v1H6zM10 11h2v1H10zM13 11h1v1H13zM15 11h1v1H15zM38 11h1v1H38zM43 11h2v1H43zM50 11h1v1H50zM54 11h1v1H54zM56 11h1v1H56zM59 11h2v1H59zM66 11h1v1H66zM72 11h1v1H72zM78 11h1v1H78zM83 11h1v1H83zM111 11h1v1H111zM139 11h1v1H139zM17 12h1v1H17zM90 12h1v1H90zM95 12h2v1H95zM105 12h2v1H105zM114 12h2v1H114zM118 12h1v1H118zM138 12h1v1H138zM142 12h2v1H142zM145 12h1v1H145zM148 12h1v1H148zM150 12h1v1H150zM153 12h1v1H153zM157 12h1v1H157zM4 13h1v1H4zM15 13h1v1H15zM19 13h1v1H19zM25 13h1v1H25zM35 13h1v1H35zM39 13h1v1H39zM49 13h1v1H49zM55 13h1v1H55zM70 13h2v1H70zM94 13h1v1H94zM116 13h1v1H116zM135 13h1v1H135zM152 13h1v1H152zM81 14h1v1H81zM94 14h1v1H94zM100 14h1v1H100zM102 14h2v1H102zM106 14h2v1H106zM118 14h1v1H118zM120 14h1v1H120zM134 14h1v1H134zM139 14h2v1H139zM147 14h2v1H147zM150 14h1v1H150zM153 14h1v1H153zM158 14h1v1H158zM12 15h2v1H12zM52 15h1v1H52zM55 15h1v1H55zM77 15h1v1H77zM44 16h1v1H44zM49 16h1v1H49zM116 16h1v1H116zM8 18h2v1H8zM16 18h1v1H16zM19 18h2v1H19zM26 18h1v1H26zM35 18h1v1H35zM37 18h1v1H37zM45 18h2v1H45zM50 18h1v1H50zM60 18h1v1H60zM66 18h1v1H66zM70 18h1v1H70zM76 18h1v1H76zM79 18h1v1H79zM102 18h4v1H102zM107 18h1v1H107zM109 18h1v1H109zM113 18h1v1H113zM118 18h1v1H118zM124 18h1v1H124zM128 18h1v1H128zM135 18h1v1H135zM138 18h1v1H138zM140 18h2v1H140zM155 18h2v1H155zM96 19h1v1H96zM108 19h1v1H108zM129 19h1v1H129zM14 20h1v1H14zM18 20h1v1H18zM24 20h1v1H24zM27 20h1v1H27zM31 20h2v1H31zM41 20h1v1H41zM60 20h1v1H60zM62 20h2v1H62zM69 20h1v1H69zM77 20h1v1H77zM89 20h1v1H89zM100 20h1v1H100zM103 20h1v1H103zM106 20h1v1H106zM111 20h1v1H111zM90 21h2v1H90zM94 21h1v1H94zM98 21h2v1H98zM104 21h1v1H104zM108 21h1v1H108zM114 21h1v1H114zM125 21h1v1H125zM127 21h2v1H127zM133 21h1v1H133zM135 21h2v1H135zM138 21h3v1H138zM146 21h4v1H146zM154 21h1v1H154zM97 22h1v1H97zM114 22h1v1H114zM131 22h1v1H131zM134 22h1v1H134zM140 22h1v1H140zM147 22h1v1H147zM149 22h1v1H149zM153 22h1v1H153zM158 22h1v1H158zM1 23h1v1H1zM7 23h1v1H7zM16 23h1v1H16zM19 23h1v1H19zM21 23h1v1H21zM27 23h1v1H27zM29 23h1v1H29zM34 23h1v1H34zM36 23h1v1H36zM43 23h1v1H43zM52 23h1v1H52zM56 23h1v1H56zM61 23h1v1H61zM69 23h2v1H69zM79 23h1v1H79zM85 23h1v1H85zM100 23h1v1H100zM104 23h1v1H104zM108 23h1v1H108zM113 23h1v1H113zM115 23h1v1H115zM131 23h2v1H131zM137 23h1v1H137zM140 23h1v1H140zM143 23h1v1H143zM147 23h2v1H147zM153 23h1v1H153zM115 24h1v1H115zM131 24h2v1H131zM138 24h1v1H138zM148 24h1v1H148zM8 25h1v1H8zM11 25h2v1H11zM37 25h1v1H37zM56 25h1v1H56zM60 25h1v1H60zM64 25h1v1H64zM75 25h1v1H75zM78 25h1v1H78zM86 25h1v1H86zM91 25h1v1H91zM95 25h1v1H95zM106 25h1v1H106zM113 25h1v1H113zM138 25h1v1H138zM141 25h1v1H141zM144 25h1v1H144zM148 25h1v1H148zM153 25h1v1H153zM159 25h1v1H159zM120 26h1v1H120zM139 26h1v1H139zM30 28h1v1H30zM83 28h1v1H83zM55 29h1v1H55zM109 29h1v1H109zM133 29h1v1H133zM153 29h1v1H153zM95 30h1v1H95zM134 30h1v1H134zM138 30h1v1H138zM9 31h1v1H9zM13 31h1v1H13zM24 31h1v1H24zM29 31h2v1H29zM46 31h1v1H46zM48 31h1v1H48zM70 31h1v1H70zM74 31h1v1H74zM77 31h2v1H77zM119 31h1v1H119zM146 31h1v1H146zM82 33h1v1H82zM9 35h1v1H9zM21 36h1v1H21zM27 36h1v1H27zM41 36h1v1H41zM44 36h1v1H44zM53 36h1v1H53zM70 36h1v1H70zM73 36h1v1H73zM94 36h1v1H94zM100 36h1v1H100zM110 36h1v1H110zM117 36h1v1H117zM120 36h1v1H120zM128 36h1v1H128zM136 36h2v1H136zM141 36h1v1H141zM1 37h3v1H1zM9 37h1v1H9zM13 37h2v1H13zM18 37h1v1H18zM23 37h1v1H23zM26 37h1v1H26zM28 37h1v1H28zM30 37h1v1H30zM33 37h1v1H33zM37 37h1v1H37zM61 37h1v1H61zM149 37h1v1H149zM0 38h3v1H0zM6 38h1v1H6zM8 38h1v1H8zM10 38h1v1H10zM13 38h1v1H13zM17 38h1v1H17zM36 38h1v1H36zM41 38h1v1H41zM51 38h2v1H51zM54 38h1v1H54zM60 38h1v1H60zM62 38h1v1H62zM65 38h1v1H65zM97 38h1v1H97zM118 38h1v1H118zM6 40h2v1H6zM23 40h2v1H23zM26 40h1v1H26zM30 40h1v1H30zM52 40h1v1H52zM60 40h1v1H60zM84 40h1v1H84zM86 40h1v1H86zM88 40h2v1H88zM91 40h2v1H91zM96 40h1v1H96zM105 40h2v1H105zM118 40h3v1H118zM134 40h1v1H134zM142 40h1v1H142zM146 40h1v1H146zM151 40h1v1H151zM154 40h1v1H154zM157 40h1v1H157zM10 41h2v1H10zM23 41h1v1H23zM30 41h1v1H30zM33 41h1v1H33zM39 41h1v1H39zM41 41h1v1H41zM53 41h1v1H53zM86 41h1v1H86zM89 41h1v1H89zM96 41h1v1H96zM99 41h1v1H99zM101 41h1v1H101zM106 41h1v1H106zM108 41h1v1H108zM117 41h1v1H117zM127 41h2v1H127zM140 41h1v1H140zM149 41h2v1H149zM158 41h1v1H158zM89 42h1v1H89zM91 42h1v1H91zM93 42h1v1H93zM97 42h1v1H97zM100 42h1v1H100zM102 42h2v1H102zM110 42h1v1H110zM112 42h1v1H112zM119 42h1v1H119zM125 42h2v1H125zM145 42h1v1H145zM151 42h1v1H151zM153 42h1v1H153zM157 42h1v1H157zM0 43h1v1H0zM2 43h2v1H2zM8 43h1v1H8zM11 43h1v1H11zM15 43h1v1H15zM31 43h1v1H31zM36 43h1v1H36zM38 43h2v1H38zM45 43h1v1H45zM57 43h1v1H57zM60 43h2v1H60zM80 43h1v1H80zM85 43h1v1H85zM91 43h1v1H91zM93 43h1v1H93zM98 43h1v1H98zM100 43h3v1H100zM116 43h1v1H116zM120 43h1v1H120zM125 43h1v1H125zM128 43h1v1H128zM154 43h1v1H154zM32 44h1v1H32zM37 44h1v1H37zM47 44h1v1H47zM58 44h1v1H58zM61 44h1v1H61zM65 44h1v1H65zM90 44h1v1H90zM96 44h1v1H96zM96 45h1v1H96zM124 45h1v1H124zM126 45h1v1H126zM139 45h1v1H139zM154 45h1v1H154zM25 46h1v1H25zM76 46h1v1H76zM79 46h1v1H79zM5 47h1v1H5zM16 47h1v1H16zM1 48h1v1H1zM9 48h1v1H9zM13 48h1v1H13zM16 48h1v1H16zM21 48h1v1H21zM25 48h1v1H25zM82 48h1v1H82zM92 48h1v1H92zM117 48h1v1H117zM133 48h1v1H133zM159 48h1v1H159z"/>
<path fill="#345daf" d="M8 0h1v1H8zM10 0h1v1H10zM83 0h1v1H83zM94 0h1v1H94zM123 0h1v1H123zM128 0h1v1H128zM131 0h1v1H131zM144 0h2v1H144zM54 2h1v1H54zM83 2h1v1H83zM86 2h1v1H86zM121 2h1v1H121zM125 2h1v1H125zM128 2h1v1H128zM133 2h2v1H133zM146 2h1v1H146zM151 2h1v1H151zM157 2h1v1H157zM5 3h1v1H5zM14 3h1v1H14zM34 3h1v1H34zM36 3h1v1H36zM46 3h1v1H46zM55 3h1v1H55zM85 3h1v1H85zM89 3h1v1H89zM92 3h1v1H92zM122 3h1v1H122zM126 3h1v1H126zM129 3h1v1H129zM136 3h1v1H136zM139 3h1v1H139zM142 3h1v1H142zM145 3h1v1H145zM158 3h1v1H158zM2 4h1v1H2zM4 4h1v1H4zM8 4h1v1H8zM12 4h2v1H12zM20 4h1v1H20zM29 4h1v1H29zM34 4h2v1H34zM40 4h1v1H40zM46 4h1v1H46zM52 4h1v1H52zM70 4h1v1H70zM79 4h1v1H79zM86 4h2v1H86zM116 4h1v1H116zM122 4h1v1H122zM138 4h1v1H138zM156 4h1v1H156zM158 4h1v1H158zM20 5h1v1H20zM32 5h1v1H32zM39 5h1v1H39zM51 5h1v1H51zM54 5h1v1H54zM83 5h1v1H83zM86 5h1v1H86zM88 5h1v1H88zM119 5h1v1H119zM122 5h1v1H122zM128 5h1v1H128zM133 5h1v1H133zM136 5h2v1H136zM140 5h1v1H140zM146 5h1v1H146zM156 5h1v1H156zM88 6h1v1H88zM96 6h1v1H96zM101 6h1v1H101zM104 6h1v1H104zM109 6h1v1H109zM86 7h1v1H86zM113 7h1v1H113zM119 7h1v1H119zM132 7h1v1H132zM142 7h1v1H142zM144 7h1v1H144zM156 7h1v1H156zM6 8h1v1H6zM8 8h2v1H8zM22 8h1v1H22zM29 8h1v1H29zM38 8h1v1H38zM45 8h1v1H45zM51 8h1v1H51zM58 8h1v1H58zM62 8h2v1H62zM71 8h1v1H71zM73 8h1v1H73zM4 9h1v1H4zM44 9h1v1H44zM52 9h1v1H52zM99 9h1v1H99zM125 9h1v1H125zM148 9h1v1H148zM159 9h1v1H159zM121 10h1v1H121zM5 11h1v1H5zM14 11h1v1H14zM18 11h1v1H18zM20 11h1v1H20zM29 11h1v1H29zM33 11h1v1H33zM46 11h1v1H46zM73 11h3v1H73zM97 11h1v1H97zM112 11h1v1H112zM115 11h1v1H115zM128 11h2v1H128zM134 11h1v1H134zM136 11h1v1H136zM143 11h2v1H143zM158 11h1v1H158zM45 12h1v1H45zM82 12h2v1H82zM116 12h1v1H116zM132 12h1v1H132zM139 12h1v1H139zM152 12h1v1H152zM158 12h1v1H158zM37 13h1v1H37zM50 13h1v1H50zM60 13h1v1H60zM62 13h1v1H62zM139 13h1v1H139zM98 14h1v1H98zM135 14h1v1H135zM154 14h1v1H154zM2 15h1v1H2zM5 15h1v1H5zM7 15h1v1H7zM10 15h1v1H10zM14 15h1v1H14zM18 15h1v1H18zM20 15h1v1H20zM41 15h1v1H41zM50 15h1v1H50zM59 15h1v1H59zM61 15h1v1H61zM63 15h1v1H63zM66 15h1v1H66zM73 15h1v1H73zM82 15h1v1H82zM93 15h1v1H93zM96 15h1v1H96zM98 15h1v1H98zM107 15h1v1H107zM111 15h1v1H111zM118 15h1v1H118zM124 15h1v1H124zM130 15h2v1H130zM141 15h1v1H141zM151 15h1v1H151zM153 15h1v1H153zM155 15h1v1H155zM19 16h1v1H19zM72 16h1v1H72zM6 18h1v1H6zM12 18h1v1H12zM14 18h2v1H14zM24 18h1v1H24zM32 18h1v1H32zM34 18h1v1H34zM44 18h1v1H44zM58 18h1v1H58zM61 18h1v1H61zM65 18h1v1H65zM73 18h1v1H73zM92 18h1v1H92zM95 18h1v1H95zM116 18h2v1H116zM127 18h1v1H127zM132 18h2v1H132zM136 18h2v1H136zM142 18h1v1H142zM148 18h1v1H148zM153 18h1v1H153zM97 19h1v1H97zM0 20h1v1H0zM2 20h2v1H2zM5 20h2v1H5zM10 20h1v1H10zM16 20h1v1H16zM19 20h2v1H19zM28 20h1v1H28zM36 20h1v1H36zM50 20h1v1H50zM53 20h1v1H53zM56 20h1v1H56zM66 20h1v1H66zM70 20h2v1H70zM75 20h1v1H75zM94 20h1v1H94zM116 20h1v1H116zM119 20h1v1H119zM126 20h1v1H126zM139 20h1v1H139zM142 20h1v1H142zM155 20h1v1H155zM19 21h1v1H19zM80 21h1v1H80zM100 21h1v1H100zM105 21h1v1H105zM111 21h1v1H111zM124 21h1v1H124zM143 21h1v1H143zM153 21h1v1H153zM93 22h1v1H93zM101 22h1v1H101zM110 22h1v1H110zM115 22h3v1H115zM120 22h1v1H120zM129 22h1v1H129zM136 22h1v1H136zM142 22h3v1H142zM156 22h1v1H156zM8 23h1v1H8zM22 23h1v1H22zM25 23h1v1H25zM57 23h1v1H57zM73 23h1v1H73zM76 23h1v1H76zM80 23h1v1H80zM91 23h1v1H91zM101 23h1v1H101zM103 23h1v1H103zM105 23h1v1H105zM114 23h1v1H114zM119 23h1v1H119zM126 23h1v1H126zM145 23h1v1H145zM149 23h3v1H149zM154 23h1v1H154zM157 23h3v1H157zM84 24h1v1H84zM96 24h1v1H96zM145 24h1v1H145zM2 25h1v1H2zM89 25h1v1H89zM102 25h1v1H102zM117 25h1v1H117zM96 26h1v1H96zM103 26h1v1H103zM110 26h1v1H110zM112 26h1v1H112zM123 26h1v1H123zM130 26h1v1H130zM144 26h1v1H144zM148 26h1v1H148zM150 26h2v1H150zM18 28h1v1H18zM3 29h1v1H3zM42 29h1v1H42zM48 29h1v1H48zM58 29h2v1H58zM61 29h1v1H61zM64 29h1v1H64zM69 29h1v1H69zM72 29h1v1H72zM84 29h1v1H84zM86 29h1v1H86zM88 29h1v1H88zM93 29h3v1H93zM102 29h1v1H102zM105 29h1v1H105zM111 29h1v1H111zM118 29h1v1H118zM121 29h1v1H121zM123 29h1v1H123zM130 29h2v1H130zM137 29h1v1H137zM86 30h1v1H86zM10 31h1v1H10zM16 31h1v1H16zM25 31h1v1H25zM41 31h1v1H41zM45 31h1v1H45zM157 31h1v1H157zM82 35h1v1H82zM142 35h1v1H142zM0 36h1v1H0zM14 36h1v1H14zM23 36h1v1H23zM26 36h1v1H26zM36 36h1v1H36zM57 36h1v1H57zM62 36h1v1H62zM91 36h1v1H91zM121 36h1v1H121zM25 37h1v1H25zM29 37h1v1H29zM49 37h1v1H49zM60 37h1v1H60zM85 37h2v1H85zM142 37h1v1H142zM145 37h1v1H145zM7 38h1v1H7zM11 38h1v1H11zM24 38h3v1H24zM42 38h1v1H42zM44 38h1v1H44zM67 38h1v1H67zM69 38h1v1H69zM78 38h2v1H78zM89 38h1v1H89zM109 38h1v1H109zM112 38h1v1H112zM122 38h1v1H122zM1 40h1v1H1zM11 40h1v1H11zM41 40h1v1H41zM45 40h1v1H45zM56 40h1v1H56zM65 40h1v1H65zM83 40h1v1H83zM87 40h1v1H87zM95 40h1v1H95zM103 40h1v1H103zM107 40h1v1H107zM116 40h1v1H116zM125 40h1v1H125zM129 40h1v1H129zM136 40h1v1H136zM141 40h1v1H141zM0 41h1v1H0zM2 41h2v1H2zM6 41h1v1H6zM8 41h1v1H8zM14 41h1v1H14zM18 41h1v1H18zM20 41h1v1H20zM24 41h1v1H24zM26 41h1v1H26zM35 41h1v1H35zM38 41h1v1H38zM48 41h1v1H48zM54 41h1v1H54zM58 41h1v1H58zM62 41h1v1H62zM65 41h1v1H65zM67 41h1v1H67zM98 41h1v1H98zM136 41h1v1H136zM144 41h2v1H144zM152 41h1v1H152zM82 42h1v1H82zM87 42h1v1H87zM92 42h1v1H92zM99 42h1v1H99zM111 42h1v1H111zM114 42h1v1H114zM124 42h1v1H124zM132 42h1v1H132zM134 42h1v1H134zM138 42h4v1H138zM143 42h1v1H143zM148 42h1v1H148zM150 42h1v1H150zM154 42h2v1H154zM5 43h2v1H5zM28 43h2v1H28zM76 43h1v1H76zM81 43h1v1H81zM87 43h1v1H87zM145 43h1v1H145zM149 43h1v1H149zM159 43h1v1H159zM1 44h2v1H1zM5 44h1v1H5zM9 44h1v1H9zM14 44h2v1H14zM20 44h1v1H20zM31 44h1v1H31zM41 44h1v1H41zM51 44h1v1H51zM53 44h1v1H53zM66 44h1v1H66zM77 44h2v1H77zM139 44h1v1H139zM144 44h1v1H144zM86 45h1v1H86zM100 45h1v1H100zM108 45h1v1H108zM110 45h1v1H110zM123 45h1v1H123zM136 45h1v1H136zM142 45h1v1H142zM151 45h1v1H151zM156 45h2v1H156zM0 46h1v1H0zM2 46h1v1H2zM6 46h1v1H6zM20 46h1v1H20zM67 46h1v1H67zM1 47h1v1H1zM12 47h1v1H12zM30 47h1v1H30zM38 47h1v1H38zM50 47h1v1H50zM123 47h1v1H123zM133 47h1v1H133zM2 48h1v1H2zM29 48h1v1H29zM31 48h1v1H31zM33 48h1v1H33zM50 48h1v1H50zM67 48h1v1H67zM79 48h1v1H79zM81 48h1v1H81zM104 48h1v1H104zM107 48h1v1H107zM109 48h2v1H109zM123 48h4v1H123zM135 48h1v1H135zM146 48h3v1H146zM152 48h1v1H152zM154 48h1v1H154z"/>
<path fill="#3767b3" d="M28 0h1v1H28zM63 0h1v1H63zM92 0h1v1H92zM122 0h1v1H122zM124 0h1v1H124zM133 0h4v1H133zM138 0h1v1H138zM149 0h1v1H149zM152 0h1v1H152zM157 0h1v1H157zM159 0h1v1H159zM56 2h1v1H56zM81 2h1v1H81zM88 2h2v1H88zM118 2h1v1H118zM122 2h1v1H122zM127 2h1v1H127zM136 2h2v1H136zM150 2h1v1H150zM159 2h1v1H159zM72 3h1v1H72zM109 3h1v1H109zM130 3h1v1H130zM153 3h1v1H153zM11 4h1v1H11zM16 4h1v1H16zM36 4h2v1H36zM45 4h1v1H45zM72 4h1v1H72zM117 4h1v1H117zM130 4h2v1H130zM134 4h3v1H134zM142 4h1v1H142zM144 4h1v1H144zM146 4h1v1H146zM149 4h2v1H149zM152 4h1v1H152zM155 4h1v1H155zM157 4h1v1H157zM0 5h1v1H0zM16 5h1v1H16zM23 5h1v1H23zM40 5h1v1H40zM44 5h2v1H44zM49 5h1v1H49zM64 5h1v1H64zM67 5h2v1H67zM75 5h1v1H75zM78 5h1v1H78zM101 5h1v1H101zM112 5h1v1H112zM98 6h1v1H98zM108 6h1v1H108zM2 7h1v1H2zM120 7h1v1H120zM122 7h1v1H122zM124 7h1v1H124zM141 7h1v1H141zM145 7h1v1H145zM153 7h2v1H153zM157 7h1v1H157zM11 8h1v1H11zM28 8h1v1H28zM43 8h1v1H43zM55 8h1v1H55zM66 8h1v1H66zM76 8h3v1H76zM57 9h1v1H57zM74 9h1v1H74zM107 9h1v1H107zM147 9h1v1H147zM150 9h1v1H150zM148 10h1v1H148zM40 11h1v1H40zM113 11h1v1H113zM119 11h2v1H119zM122 11h1v1H122zM124 11h1v1H124zM126 11h1v1H126zM131 11h1v1H131zM137 11h2v1H137zM141 11h1v1H141zM145 11h2v1H145zM151 11h1v1H151zM153 11h1v1H153zM155 11h3v1H155zM159 11h1v1H159zM97 12h2v1H97zM41 13h1v1H41zM108 13h1v1H108zM119 13h1v1H119zM140 13h1v1H140zM90 14h1v1H90zM127 14h1v1H127zM1 15h1v1H1zM4 15h1v1H4zM8 15h1v1H8zM17 15h1v1H17zM19 15h1v1H19zM29 15h1v1H29zM32 15h1v1H32zM35 15h1v1H35zM38 15h3v1H38zM47 15h1v1H47zM58 15h1v1H58zM62 15h1v1H62zM65 15h1v1H65zM69 15h1v1H69zM71 15h1v1H71zM80 15h2v1H80zM83 15h1v1H83zM92 15h1v1H92zM94 15h1v1H94zM100 15h1v1H100zM108 15h1v1H108zM110 15h1v1H110zM126 15h1v1H126zM147 15h1v1H147zM152 15h1v1H152zM158 15h1v1H158zM13 16h1v1H13zM23 16h1v1H23zM89 16h1v1H89zM138 16h1v1H138zM13 17h1v1H13zM55 17h1v1H55zM57 17h1v1H57zM64 17h1v1H64zM73 17h1v1H73zM98 17h1v1H98zM120 17h1v1H120zM150 17h1v1H150zM48 18h1v1H48zM74 18h1v1H74zM96 18h1v1H96zM99 18h1v1H99zM101 18h1v1H101zM106 18h1v1H106zM144 18h1v1H144zM146 18h1v1H146zM80 19h1v1H80zM91 19h1v1H91zM94 19h2v1H94zM109 19h2v1H109zM112 19h1v1H112zM116 19h1v1H116zM120 19h2v1H120zM131 19h1v1H131zM133 19h1v1H133zM137 19h1v1H137zM143 19h2v1H143zM149 19h1v1H149zM151 19h1v1H151zM153 19h1v1H153zM155 19h1v1H155zM8 20h2v1H8zM11 20h1v1H11zM23 20h1v1H23zM35 20h1v1H35zM47 20h3v1H47zM51 20h2v1H51zM55 20h1v1H55zM64 20h1v1H64zM76 20h1v1H76zM92 20h1v1H92zM97 20h1v1H97zM102 20h1v1H102zM104 20h1v1H104zM110 20h1v1H110zM112 20h1v1H112zM123 20h3v1H123zM127 20h1v1H127zM130 20h2v1H130zM136 20h2v1H136zM149 20h1v1H149zM154 20h1v1H154zM158 20h1v1H158zM25 21h1v1H25zM88 21h1v1H88zM118 21h1v1H118zM89 22h1v1H89zM92 22h1v1H92zM94 22h1v1H94zM100 22h1v1H100zM105 22h2v1H105zM111 22h1v1H111zM118 22h1v1H118zM122 22h1v1H122zM124 22h1v1H124zM127 22h1v1H127zM139 22h1v1H139zM141 22h1v1H141zM151 22h1v1H151zM154 22h2v1H154zM37 23h1v1H37zM68 23h1v1H68zM102 23h1v1H102zM106 23h1v1H106zM89 24h1v1H89zM38 25h1v1H38zM48 25h1v1H48zM57 25h1v1H57zM107 25h1v1H107zM55 26h2v1H55zM89 26h1v1H89zM91 26h1v1H91zM93 26h1v1H93zM95 26h1v1H95zM102 26h1v1H102zM104 26h1v1H104zM114 26h1v1H114zM119 26h1v1H119zM124 26h1v1H124zM128 26h2v1H128zM133 26h1v1H133zM135 26h1v1H135zM137 26h2v1H137zM142 26h1v1H142zM146 26h2v1H146zM149 26h1v1H149zM152 26h5v1H152zM100 27h1v1H100zM107 27h1v1H107zM122 27h1v1H122zM127 27h1v1H127zM141 27h1v1H141zM1 29h1v1H1zM6 29h1v1H6zM8 29h1v1H8zM14 29h4v1H14zM44 29h1v1H44zM71 29h1v1H71zM85 29h1v1H85zM90 29h1v1H90zM98 29h1v1H98zM108 29h1v1H108zM113 29h1v1H113zM120 29h1v1H120zM124 29h1v1H124zM127 29h1v1H127zM135 29h1v1H135zM142 29h1v1H142zM145 29h2v1H145zM148 29h1v1H148zM155 29h1v1H155zM81 30h1v1H81zM1 31h1v1H1zM68 31h1v1H68zM25 32h1v1H25zM104 33h1v1H104zM30 35h1v1H30zM45 35h1v1H45zM51 35h1v1H51zM81 35h1v1H81zM129 35h1v1H129zM47 36h1v1H47zM52 36h1v1H52zM96 36h1v1H96zM149 36h1v1H149zM31 37h1v1H31zM66 37h1v1H66zM81 37h1v1H81zM111 37h1v1H111zM116 37h1v1H116zM120 37h1v1H120zM147 37h1v1H147zM32 38h1v1H32zM73 38h1v1H73zM119 38h1v1H119zM132 38h1v1H132zM150 38h1v1H150zM0 40h1v1H0zM28 40h1v1H28zM35 40h1v1H35zM43 40h1v1H43zM93 40h1v1H93zM113 40h1v1H113zM1 41h1v1H1zM5 41h1v1H5zM16 41h1v1H16zM21 41h2v1H21zM25 41h1v1H25zM27 41h2v1H27zM31 41h1v1H31zM37 41h1v1H37zM45 41h2v1H45zM49 41h2v1H49zM56 41h2v1H56zM60 41h1v1H60zM66 41h1v1H66zM81 41h1v1H81zM108 42h1v1H108zM129 42h1v1H129zM137 42h1v1H137zM19 43h1v1H19zM22 43h1v1H22zM3 44h1v1H3zM19 44h1v1H19zM21 44h1v1H21zM24 44h1v1H24zM29 44h1v1H29zM40 44h1v1H40zM42 44h1v1H42zM45 44h1v1H45zM59 44h2v1H59zM62 44h2v1H62zM48 45h1v1H48zM80 45h2v1H80zM88 45h1v1H88zM90 45h1v1H90zM92 45h2v1H92zM99 45h1v1H99zM103 45h1v1H103zM105 45h2v1H105zM111 45h1v1H111zM114 45h1v1H114zM120 45h2v1H120zM125 45h1v1H125zM127 45h2v1H127zM134 45h1v1H134zM143 45h1v1H143zM145 45h1v1H145zM147 45h1v1H147zM159 45h1v1H159zM5 46h1v1H5zM10 46h2v1H10zM16 46h1v1H16zM18 46h1v1H18zM24 46h1v1H24zM66 46h1v1H66zM0 47h1v1H0zM9 47h1v1H9zM22 47h2v1H22zM25 47h1v1H25zM34 47h1v1H34zM40 47h1v1H40zM49 47h1v1H49zM52 47h1v1H52zM57 47h1v1H57zM59 47h1v1H59zM61 47h2v1H61zM78 47h1v1H78zM86 47h1v1H86zM121 47h1v1H121zM125 47h1v1H125zM127 47h2v1H127zM142 47h2v1H142zM3 48h2v1H3zM6 48h1v1H6zM14 48h1v1H14zM26 48h1v1H26zM30 48h1v1H30zM32 48h1v1H32zM38 48h1v1H38zM42 48h2v1H42zM48 48h1v1H48zM52 48h3v1H52zM56 48h2v1H56zM84 48h2v1H84zM90 48h1v1H90zM101 48h1v1H101zM103 48h1v1H103zM106 48h1v1H106zM111 48h1v1H111zM113 48h2v1H113zM119 48h2v1H119zM122 48h1v1H122zM127 48h1v1H127zM130 48h1v1H130zM134 48h1v1H134zM143 48h1v1H143zM153 48h1v1H153z"/>
<path fill="#3770b8" d="M95 0h1v1H95zM121 0h1v1H121zM139 0h1v1H139zM147 0h1v1H147zM153 0h1v1H153zM156 0h1v1H156zM51 2h1v1H51zM80 2h1v1H80zM84 2h2v1H84zM126 2h1v1H126zM131 2h1v1H131zM143 2h1v1H143zM22 3h2v1H22zM111 3h1v1H111zM119 3h1v1H119zM140 3h1v1H140zM152 3h1v1H152zM14 4h1v1H14zM49 4h1v1H49zM80 4h2v1H80zM83 4h1v1H83zM123 4h1v1H123zM127 4h1v1H127zM2 5h1v1H2zM8 5h1v1H8zM19 5h1v1H19zM21 5h1v1H21zM25 5h1v1H25zM27 5h1v1H27zM38 5h1v1H38zM43 5h1v1H43zM53 5h1v1H53zM55 5h1v1H55zM57 5h1v1H57zM72 5h1v1H72zM77 5h1v1H77zM79 5h1v1H79zM104 5h1v1H104zM107 5h1v1H107zM113 5h1v1H113zM158 5h1v1H158zM97 6h1v1H97zM102 6h1v1H102zM106 6h1v1H106zM0 7h1v1H0zM6 7h2v1H6zM80 7h1v1H80zM112 7h1v1H112zM114 7h1v1H114zM127 7h1v1H127zM136 7h1v1H136zM138 7h2v1H138zM150 7h1v1H150zM2 8h1v1H2zM5 8h1v1H5zM17 8h1v1H17zM27 8h1v1H27zM30 8h1v1H30zM50 8h1v1H50zM52 8h1v1H52zM54 8h1v1H54zM56 8h1v1H56zM67 8h1v1H67zM2 9h1v1H2zM75 9h1v1H75zM85 9h1v1H85zM83 10h1v1H83zM112 10h2v1H112zM125 10h1v1H125zM152 10h1v1H152zM16 11h1v1H16zM26 11h1v1H26zM58 11h1v1H58zM84 11h1v1H84zM110 11h1v1H110zM117 11h2v1H117zM125 11h1v1H125zM127 11h1v1H127zM130 11h1v1H130zM147 11h2v1H147zM152 11h1v1H152zM25 12h1v1H25zM63 12h1v1H63zM91 12h1v1H91zM9 13h1v1H9zM23 13h1v1H23zM53 13h1v1H53zM85 13h1v1H85zM82 14h1v1H82zM104 14h1v1H104zM132 14h1v1H132zM156 14h1v1H156zM0 15h1v1H0zM6 15h1v1H6zM9 15h1v1H9zM15 15h2v1H15zM23 15h1v1H23zM26 15h1v1H26zM36 15h1v1H36zM42 15h3v1H42zM49 15h1v1H49zM76 15h1v1H76zM79 15h1v1H79zM103 15h2v1H103zM109 15h1v1H109zM117 15h1v1H117zM125 15h1v1H125zM127 15h1v1H127zM139 15h1v1H139zM142 15h1v1H142zM144 15h1v1H144zM149 15h1v1H149zM154 15h1v1H154zM159 15h1v1H159zM46 16h1v1H46zM57 16h1v1H57zM66 16h1v1H66zM3 17h1v1H3zM15 17h1v1H15zM22 17h1v1H22zM25 17h1v1H25zM27 17h1v1H27zM39 17h1v1H39zM53 17h1v1H53zM65 17h1v1H65zM77 17h1v1H77zM99 17h1v1H99zM105 17h1v1H105zM110 17h1v1H110zM112 17h1v1H112zM146 17h2v1H146zM57 18h1v1H57zM87 18h1v1H87zM89 18h1v1H89zM110 18h1v1H110zM154 18h1v1H154zM43 19h1v1H43zM89 19h1v1H89zM92 19h2v1H92zM98 19h2v1H98zM139 19h2v1H139zM148 19h1v1H148zM150 19h1v1H150zM15 20h1v1H15zM21 20h1v1H21zM25 20h2v1H25zM37 20h1v1H37zM57 20h1v1H57zM87 20h1v1H87zM93 20h1v1H93zM95 20h1v1H95zM113 20h2v1H113zM117 20h2v1H117zM132 20h1v1H132zM135 20h1v1H135zM138 20h1v1H138zM140 20h1v1H140zM145 20h1v1H145zM147 20h2v1H147zM150 20h1v1H150zM152 20h1v1H152zM156 20h1v1H156zM6 21h1v1H6zM16 21h1v1H16zM23 21h1v1H23zM26 21h2v1H26zM47 21h1v1H47zM49 21h1v1H49zM53 21h2v1H53zM68 21h1v1H68zM86 21h1v1H86zM35 22h1v1H35zM69 22h1v1H69zM85 22h1v1H85zM102 22h1v1H102zM112 22h1v1H112zM126 22h1v1H126zM128 22h1v1H128zM130 22h1v1H130zM152 22h1v1H152zM159 22h1v1H159zM10 23h1v1H10zM122 23h1v1H122zM130 23h1v1H130zM142 23h1v1H142zM109 24h1v1H109zM4 25h1v1H4zM18 25h1v1H18zM71 25h1v1H71zM76 25h1v1H76zM23 26h1v1H23zM41 26h1v1H41zM49 26h1v1H49zM94 26h1v1H94zM107 26h2v1H107zM113 26h1v1H113zM118 26h1v1H118zM121 26h1v1H121zM143 26h1v1H143zM157 26h1v1H157zM2 27h1v1H2zM85 27h1v1H85zM95 27h1v1H95zM110 27h1v1H110zM128 27h1v1H128zM132 27h1v1H132zM143 27h1v1H143zM148 27h1v1H148zM11 29h3v1H11zM18 29h2v1H18zM21 29h1v1H21zM28 29h1v1H28zM31 29h1v1H31zM35 29h1v1H35zM37 29h1v1H37zM45 29h1v1H45zM47 29h1v1H47zM87 29h1v1H87zM91 29h2v1H91zM96 29h2v1H96zM107 29h1v1H107zM122 29h1v1H122zM125 29h1v1H125zM128 29h1v1H128zM150 29h1v1H150zM152 29h1v1H152zM158 29h1v1H158zM18 30h1v1H18zM78 30h1v1H78zM93 30h1v1H93zM101 30h1v1H101zM104 30h1v1H104zM12 31h1v1H12zM60 31h1v1H60zM62 31h1v1H62zM76 31h1v1H76zM108 31h1v1H108zM87 32h1v1H87zM104 32h1v1H104zM134 32h1v1H134zM140 32h1v1H140zM54 33h1v1H54zM57 33h1v1H57zM156 33h1v1H156zM78 35h1v1H78zM137 35h1v1H137zM150 35h1v1H150zM3 36h1v1H3zM22 36h1v1H22zM46 36h1v1H46zM60 36h1v1H60zM76 36h1v1H76zM84 36h1v1H84zM145 36h1v1H145zM8 37h1v1H8zM144 37h1v1H144zM70 38h1v1H70zM72 38h1v1H72zM38 40h1v1H38zM59 40h1v1H59zM77 40h1v1H77zM9 41h1v1H9zM19 41h1v1H19zM44 41h1v1H44zM95 41h1v1H95zM104 41h1v1H104zM130 41h1v1H130zM13 42h1v1H13zM15 42h1v1H15zM43 42h1v1H43zM63 42h1v1H63zM66 43h1v1H66zM90 43h1v1H90zM113 43h1v1H113zM138 43h1v1H138zM26 44h3v1H26zM33 44h1v1H33zM44 44h1v1H44zM49 44h1v1H49zM52 44h1v1H52zM56 44h1v1H56zM64 44h1v1H64zM76 44h1v1H76zM6 45h1v1H6zM17 45h1v1H17zM19 45h2v1H19zM29 45h1v1H29zM33 45h1v1H33zM38 45h1v1H38zM53 45h1v1H53zM56 45h1v1H56zM64 45h2v1H64zM83 45h1v1H83zM85 45h1v1H85zM98 45h1v1H98zM101 45h1v1H101zM104 45h1v1H104zM109 45h1v1H109zM112 45h2v1H112zM116 45h1v1H116zM132 45h1v1H132zM3 46h1v1H3zM13 46h1v1H13zM17 46h1v1H17zM19 46h1v1H19zM23 46h1v1H23zM26 46h1v1H26zM4 47h1v1H4zM8 47h1v1H8zM39 47h1v1H39zM41 47h1v1H41zM45 47h1v1H45zM51 47h1v1H51zM53 47h1v1H53zM55 47h1v1H55zM79 47h2v1H79zM106 47h1v1H106zM113 47h1v1H113zM117 47h1v1H117zM122 47h1v1H122zM146 47h1v1H146zM151 47h1v1H151zM156 47h1v1H156zM5 48h1v1H5zM11 48h1v1H11zM22 48h1v1H22zM24 48h1v1H24zM27 48h1v1H27zM34 48h1v1H34zM39 48h1v1H39zM75 48h2v1H75zM87 48h1v1H87zM91 48h1v1H91zM97 48h2v1H97zM102 48h1v1H102zM115 48h1v1H115zM137 48h1v1H137zM139 48h1v1H139zM142 48h1v1H142zM145 48h1v1H145zM155 48h1v1H155zM158 48h1v1H158z"/>
<path fill="#3779bd" d="M97 0h1v1H97zM117 0h1v1H117zM125 0h2v1H125zM155 0h1v1H155zM63 2h1v1H63zM82 2h1v1H82zM117 2h1v1H117zM130 2h1v1H130zM140 2h1v1H140zM147 2h1v1H147zM149 2h1v1H149zM155 2h1v1H155zM11 3h1v1H11zM44 3h1v1H44zM61 3h1v1H61zM110 3h1v1H110zM115 3h1v1H115zM0 4h1v1H0zM56 4h1v1H56zM71 4h1v1H71zM85 4h1v1H85zM115 4h1v1H115zM119 4h1v1H119zM125 4h1v1H125zM137 4h1v1H137zM9 5h1v1H9zM11 5h1v1H11zM15 5h1v1H15zM17 5h1v1H17zM28 5h1v1H28zM47 5h1v1H47zM50 5h1v1H50zM52 5h1v1H52zM60 5h2v1H60zM65 5h2v1H65zM97 5h1v1H97zM100 5h1v1H100zM82 7h1v1H82zM85 7h1v1H85zM148 7h1v1H148zM159 7h1v1H159zM0 8h1v1H0zM7 8h1v1H7zM20 8h1v1H20zM35 8h2v1H35zM64 8h1v1H64zM68 8h1v1H68zM70 8h1v1H70zM72 8h1v1H72zM75 8h1v1H75zM36 9h1v1H36zM46 9h1v1H46zM101 9h1v1H101zM104 9h1v1H104zM109 9h1v1H109zM126 9h1v1H126zM74 10h1v1H74zM104 10h1v1H104zM116 10h1v1H116zM118 10h3v1H118zM122 10h3v1H122zM128 10h2v1H128zM141 10h1v1H141zM144 10h1v1H144zM146 10h2v1H146zM155 10h2v1H155zM158 10h2v1H158zM4 11h1v1H4zM100 11h1v1H100zM107 11h1v1H107zM135 11h1v1H135zM120 12h1v1H120zM10 13h1v1H10zM16 13h1v1H16zM68 13h1v1H68zM78 13h1v1H78zM107 13h1v1H107zM129 14h1v1H129zM21 15h1v1H21zM37 15h1v1H37zM46 15h1v1H46zM48 15h1v1H48zM90 15h1v1H90zM112 15h1v1H112zM114 15h1v1H114zM128 15h1v1H128zM136 15h1v1H136zM145 15h1v1H145zM8 16h1v1H8zM32 16h1v1H32zM109 16h1v1H109zM112 16h1v1H112zM141 16h1v1H141zM158 16h1v1H158zM0 17h1v1H0zM16 17h1v1H16zM23 17h2v1H23zM28 17h1v1H28zM30 17h1v1H30zM33 17h1v1H33zM36 17h1v1H36zM41 17h1v1H41zM44 17h2v1H44zM48 17h1v1H48zM50 17h1v1H50zM56 17h1v1H56zM59 17h1v1H59zM61 17h3v1H61zM74 17h1v1H74zM107 17h1v1H107zM125 17h1v1H125zM128 17h1v1H128zM141 17h1v1H141zM143 17h1v1H143zM148 17h1v1H148zM151 17h1v1H151zM1 18h1v1H1zM90 18h1v1H90zM114 18h1v1H114zM22 19h1v1H22zM88 19h1v1H88zM114 19h1v1H114zM126 19h1v1H126zM132 19h1v1H132zM136 19h1v1H136zM141 19h1v1H141zM145 19h1v1H145zM90 20h2v1H90zM101 20h1v1H101zM105 20h1v1H105zM107 20h1v1H107zM109 20h1v1H109zM121 20h1v1H121zM144 20h1v1H144zM159 20h1v1H159zM0 21h2v1H0zM3 21h1v1H3zM10 21h2v1H10zM15 21h1v1H15zM20 21h1v1H20zM22 21h1v1H22zM29 21h2v1H29zM37 21h1v1H37zM40 21h1v1H40zM45 21h1v1H45zM51 21h1v1H51zM55 21h1v1H55zM58 21h1v1H58zM65 21h3v1H65zM72 21h1v1H72zM75 21h1v1H75zM78 21h2v1H78zM112 21h1v1H112zM117 21h1v1H117zM6 22h1v1H6zM22 22h1v1H22zM58 22h1v1H58zM65 22h1v1H65zM80 22h1v1H80zM86 22h1v1H86zM104 22h1v1H104zM137 22h1v1H137zM0 23h1v1H0zM11 23h1v1H11zM26 23h1v1H26zM41 23h1v1H41zM48 23h1v1H48zM121 23h1v1H121zM91 24h1v1H91zM105 24h1v1H105zM151 24h2v1H151zM10 25h1v1H10zM19 25h1v1H19zM84 25h1v1H84zM93 25h1v1H93zM111 25h1v1H111zM114 25h1v1H114zM124 25h1v1H124zM137 25h1v1H137zM158 25h1v1H158zM6 26h5v1H6zM13 26h1v1H13zM20 26h1v1H20zM31 26h1v1H31zM34 26h1v1H34zM42 26h1v1H42zM44 26h1v1H44zM47 26h1v1H47zM51 26h1v1H51zM57 26h1v1H57zM64 26h1v1H64zM74 26h3v1H74zM85 26h1v1H85zM134 26h1v1H134zM158 26h1v1H158zM14 27h1v1H14zM29 27h1v1H29zM69 27h2v1H69zM86 27h1v1H86zM89 27h1v1H89zM91 27h1v1H91zM98 27h1v1H98zM108 27h1v1H108zM111 27h2v1H111zM121 27h1v1H121zM126 27h1v1H126zM133 27h1v1H133zM137 27h1v1H137zM139 27h2v1H139zM146 27h2v1H146zM149 27h1v1H149zM151 27h1v1H151zM149 28h1v1H149zM4 29h1v1H4zM23 29h2v1H23zM27 29h1v1H27zM29 29h1v1H29zM34 29h1v1H34zM40 29h1v1H40zM46 29h1v1H46zM53 29h2v1H53zM70 29h1v1H70zM101 29h1v1H101zM103 29h1v1H103zM115 29h1v1H115zM134 29h1v1H134zM157 29h1v1H157zM0 30h1v1H0zM34 31h1v1H34zM64 31h1v1H64zM100 31h1v1H100zM0 32h1v1H0zM26 32h1v1H26zM41 32h1v1H41zM52 32h1v1H52zM54 32h1v1H54zM65 32h1v1H65zM67 32h1v1H67zM108 32h2v1H108zM115 32h1v1H115zM120 32h2v1H120zM128 32h1v1H128zM149 32h1v1H149zM14 33h1v1H14zM22 33h1v1H22zM27 33h1v1H27zM43 33h1v1H43zM47 33h1v1H47zM53 33h1v1H53zM62 33h1v1H62zM72 33h2v1H72zM46 35h1v1H46zM98 35h1v1H98zM43 36h1v1H43zM44 37h1v1H44zM56 37h1v1H56zM118 37h1v1H118zM15 38h1v1H15zM18 38h1v1H18zM21 38h1v1H21zM57 38h1v1H57zM29 40h1v1H29zM39 40h1v1H39zM97 40h1v1H97zM145 40h1v1H145zM153 40h1v1H153zM36 41h1v1H36zM78 41h1v1H78zM116 41h1v1H116zM120 41h1v1H120zM123 41h1v1H123zM132 41h1v1H132zM139 41h1v1H139zM5 42h1v1H5zM9 42h1v1H9zM12 42h1v1H12zM50 42h1v1H50zM58 42h1v1H58zM117 42h1v1H117zM149 42h1v1H149zM7 43h1v1H7zM40 43h1v1H40zM59 43h1v1H59zM88 43h1v1H88zM126 43h1v1H126zM153 43h1v1H153zM158 43h1v1H158zM8 44h1v1H8zM18 44h1v1H18zM43 44h1v1H43zM79 44h1v1H79zM0 45h1v1H0zM8 45h1v1H8zM21 45h1v1H21zM24 45h1v1H24zM27 45h1v1H27zM45 45h2v1H45zM49 45h1v1H49zM51 45h2v1H51zM54 45h1v1H54zM61 45h1v1H61zM66 45h2v1H66zM77 45h1v1H77zM79 45h1v1H79zM102 45h1v1H102zM122 45h1v1H122zM135 45h1v1H135zM4 46h1v1H4zM19 47h1v1H19zM28 47h1v1H28zM35 47h1v1H35zM47 47h1v1H47zM54 47h1v1H54zM66 47h1v1H66zM75 47h1v1H75zM83 47h3v1H83zM94 47h1v1H94zM108 47h1v1H108zM110 47h2v1H110zM116 47h1v1H116zM120 47h1v1H120zM124 47h1v1H124zM135 47h3v1H135zM141 47h1v1H141zM153 47h2v1H153zM7 48h1v1H7zM18 48h1v1H18zM41 48h1v1H41zM65 48h2v1H65zM96 48h1v1H96z"/>
<path fill="#3382c3" d="M37 0h1v1H37zM62 0h1v1H62zM76 0h1v1H76zM96 0h1v1H96zM113 0h1v1H113zM146 0h1v1H146zM13 1h1v1H13zM28 1h1v1H28zM88 1h1v1H88zM91 1h1v1H91zM121 1h1v1H121zM0 2h1v1H0zM79 2h1v1H79zM92 2h1v1H92zM145 2h1v1H145zM2 3h1v1H2zM35 3h1v1H35zM37 3h1v1H37zM60 3h1v1H60zM106 3h1v1H106zM112 3h2v1H112zM116 3h1v1H116zM132 3h1v1H132zM135 3h1v1H135zM137 3h1v1H137zM143 3h1v1H143zM23 4h1v1H23zM32 4h1v1H32zM57 4h1v1H57zM75 4h1v1H75zM114 4h1v1H114zM118 4h1v1H118zM26 5h1v1H26zM34 5h1v1H34zM89 5h1v1H89zM109 5h1v1H109zM121 5h1v1H121zM148 5h1v1H148zM95 6h1v1H95zM99 6h1v1H99zM107 6h1v1H107zM3 7h1v1H3zM8 7h1v1H8zM98 7h1v1H98zM147 7h1v1H147zM23 8h1v1H23zM60 8h1v1H60zM80 8h1v1H80zM112 8h1v1H112zM123 8h1v1H123zM128 8h1v1H128zM135 8h1v1H135zM143 8h1v1H143zM148 8h1v1H148zM96 9h1v1H96zM110 9h1v1H110zM134 9h1v1H134zM152 9h1v1H152zM154 9h1v1H154zM16 10h1v1H16zM64 10h1v1H64zM84 10h1v1H84zM110 10h1v1H110zM114 10h1v1H114zM133 10h1v1H133zM138 10h1v1H138zM149 10h1v1H149zM151 10h1v1H151zM153 10h1v1H153zM7 11h1v1H7zM36 11h1v1H36zM67 11h1v1H67zM95 11h2v1H95zM108 11h1v1H108zM133 11h1v1H133zM154 11h1v1H154zM151 12h1v1H151zM159 12h1v1H159zM56 13h1v1H56zM72 13h1v1H72zM118 13h1v1H118zM133 13h1v1H133zM130 14h1v1H130zM136 14h1v1H136zM142 14h1v1H142zM27 15h1v1H27zM84 15h1v1H84zM134 15h1v1H134zM83 16h1v1H83zM1 17h1v1H1zM8 17h2v1H8zM12 17h1v1H12zM17 17h1v1H17zM31 17h1v1H31zM46 17h1v1H46zM68 17h1v1H68zM71 17h1v1H71zM75 17h1v1H75zM78 17h2v1H78zM103 17h1v1H103zM109 17h1v1H109zM113 17h1v1H113zM122 17h1v1H122zM127 17h1v1H127zM132 17h1v1H132zM134 17h1v1H134zM136 17h2v1H136zM149 17h1v1H149zM154 17h1v1H154zM157 17h1v1H157zM7 18h1v1H7zM78 18h1v1H78zM100 18h1v1H100zM31 19h1v1H31zM39 19h1v1H39zM102 19h2v1H102zM106 19h1v1H106zM122 20h1v1H122zM157 20h1v1H157zM5 21h1v1H5zM28 21h1v1H28zM31 21h1v1H31zM33 21h1v1H33zM41 21h1v1H41zM56 21h1v1H56zM59 21h2v1H59zM62 21h1v1H62zM76 21h1v1H76zM92 21h1v1H92zM1 22h1v1H1zM12 22h1v1H12zM17 22h1v1H17zM31 22h1v1H31zM36 22h2v1H36zM39 22h1v1H39zM42 22h1v1H42zM56 22h1v1H56zM59 22h1v1H59zM62 22h1v1H62zM72 22h2v1H72zM75 22h1v1H75zM108 22h1v1H108zM150 22h1v1H150zM2 23h1v1H2zM78 23h1v1H78zM94 23h1v1H94zM110 23h1v1H110zM155 23h1v1H155zM146 24h1v1H146zM157 24h1v1H157zM159 24h1v1H159zM33 25h1v1H33zM40 25h1v1H40zM42 25h1v1H42zM118 25h1v1H118zM128 25h1v1H128zM136 25h1v1H136zM0 26h1v1H0zM15 26h1v1H15zM17 26h2v1H17zM24 26h1v1H24zM28 26h1v1H28zM32 26h1v1H32zM39 26h1v1H39zM48 26h1v1H48zM50 26h1v1H50zM52 26h1v1H52zM60 26h1v1H60zM67 26h1v1H67zM69 26h1v1H69zM71 26h1v1H71zM77 26h1v1H77zM88 26h1v1H88zM141 26h1v1H141zM23 27h1v1H23zM49 27h1v1H49zM55 27h1v1H55zM62 27h1v1H62zM68 27h1v1H68zM88 27h1v1H88zM105 27h1v1H105zM129 27h2v1H129zM142 27h1v1H142zM145 27h1v1H145zM153 27h1v1H153zM155 27h2v1H155zM159 27h1v1H159zM73 29h1v1H73zM99 29h1v1H99zM126 29h1v1H126zM138 29h1v1H138zM131 30h1v1H131zM154 30h1v1H154zM0 31h1v1H0zM33 31h1v1H33zM85 31h1v1H85zM103 31h1v1H103zM2 32h1v1H2zM11 32h1v1H11zM13 32h1v1H13zM18 32h2v1H18zM48 32h1v1H48zM70 32h2v1H70zM84 32h2v1H84zM88 32h1v1H88zM90 32h1v1H90zM92 32h1v1H92zM94 32h1v1H94zM114 32h1v1H114zM122 32h1v1H122zM126 32h1v1H126zM130 32h1v1H130zM132 32h1v1H132zM5 33h1v1H5zM11 33h1v1H11zM17 33h1v1H17zM24 33h1v1H24zM28 33h1v1H28zM37 33h2v1H37zM48 33h2v1H48zM55 33h1v1H55zM66 33h1v1H66zM68 33h1v1H68zM42 34h1v1H42zM49 34h1v1H49zM73 34h1v1H73zM102 34h1v1H102zM107 34h1v1H107zM118 34h1v1H118zM128 34h1v1H128zM133 34h1v1H133zM135 34h1v1H135zM141 34h1v1H141zM147 34h1v1H147zM151 34h1v1H151zM155 34h1v1H155zM117 35h1v1H117zM16 36h1v1H16zM19 36h1v1H19zM63 36h1v1H63zM89 36h1v1H89zM124 36h2v1H124zM15 37h1v1H15zM74 37h1v1H74zM14 38h1v1H14zM28 38h1v1H28zM99 38h1v1H99zM144 38h1v1H144zM115 39h1v1H115zM138 39h1v1H138zM149 39h1v1H149zM153 39h1v1H153zM16 40h1v1H16zM25 40h1v1H25zM31 40h1v1H31zM61 40h1v1H61zM63 40h1v1H63zM66 40h1v1H66zM127 40h1v1H127zM135 40h1v1H135zM158 40h1v1H158zM7 41h1v1H7zM8 42h1v1H8zM32 42h1v1H32zM34 42h1v1H34zM42 42h1v1H42zM44 42h1v1H44zM53 42h1v1H53zM104 42h1v1H104zM107 42h1v1H107zM10 43h1v1H10zM49 43h1v1H49zM122 43h1v1H122zM13 44h1v1H13zM25 44h1v1H25zM67 44h1v1H67zM4 45h1v1H4zM18 45h1v1H18zM32 45h1v1H32zM35 45h1v1H35zM50 45h1v1H50zM62 45h2v1H62zM89 45h1v1H89zM153 45h1v1H153zM14 46h1v1H14zM2 47h1v1H2zM13 47h1v1H13zM20 47h1v1H20zM67 47h1v1H67zM88 47h1v1H88zM92 47h2v1H92zM96 47h1v1H96zM101 47h1v1H101zM115 47h1v1H115zM130 47h2v1H130zM138 47h1v1H138zM147 47h2v1H147zM150 47h1v1H150zM159 47h1v1H159zM36 48h2v1H36zM132 48h1v1H132zM156 48h1v1H156z"/>
<path fill="#2d8bc9" d="M130 0h1v1H130zM4 1h1v1H4zM7 1h1v1H7zM44 1h1v1H44zM46 1h2v1H46zM55 1h3v1H55zM63 1h1v1H63zM65 1h1v1H65zM82 1h1v1H82zM86 1h1v1H86zM90 1h1v1H90zM133 1h1v1H133zM142 1h1v1H142zM144 1h1v1H144zM147 1h1v1H147zM152 1h1v1H152zM25 2h1v1H25zM37 2h1v1H37zM87 2h1v1H87zM3 3h1v1H3zM32 3h1v1H32zM108 3h1v1H108zM123 3h2v1H123zM39 4h1v1H39zM44 4h1v1H44zM120 4h1v1H120zM124 4h1v1H124zM41 5h1v1H41zM56 5h1v1H56zM73 5h1v1H73zM98 5h1v1H98zM106 5h1v1H106zM32 6h1v1H32zM100 6h1v1H100zM116 7h1v1H116zM125 7h1v1H125zM152 7h1v1H152zM12 8h1v1H12zM14 8h1v1H14zM16 8h1v1H16zM49 8h1v1H49zM81 8h1v1H81zM83 8h2v1H83zM109 8h1v1H109zM120 8h1v1H120zM125 8h1v1H125zM139 8h1v1H139zM142 8h1v1H142zM150 8h1v1H150zM152 8h1v1H152zM41 9h1v1H41zM102 9h1v1H102zM149 9h1v1H149zM3 10h1v1H3zM14 10h1v1H14zM21 10h1v1H21zM25 10h1v1H25zM27 10h1v1H27zM29 10h1v1H29zM43 10h1v1H43zM76 10h2v1H76zM127 10h1v1H127zM130 10h1v1H130zM140 10h1v1H140zM154 10h1v1H154zM157 10h1v1H157zM12 11h1v1H12zM47 11h1v1H47zM76 11h1v1H76zM91 11h1v1H91zM99 11h1v1H99zM106 11h1v1H106zM140 11h1v1H140zM150 11h1v1H150zM4 12h1v1H4zM92 12h1v1H92zM127 12h1v1H127zM134 12h1v1H134zM155 12h1v1H155zM89 14h1v1H89zM99 14h1v1H99zM117 14h1v1H117zM141 14h1v1H141zM64 15h1v1H64zM75 15h1v1H75zM106 15h1v1H106zM146 15h1v1H146zM17 16h1v1H17zM11 17h1v1H11zM14 17h1v1H14zM29 17h1v1H29zM35 17h1v1H35zM52 17h1v1H52zM72 17h1v1H72zM135 17h1v1H135zM144 17h1v1H144zM158 17h1v1H158zM2 18h1v1H2zM27 18h1v1H27zM49 18h1v1H49zM54 18h1v1H54zM69 18h1v1H69zM130 18h1v1H130zM152 18h1v1H152zM11 19h1v1H11zM14 19h1v1H14zM16 19h1v1H16zM33 19h3v1H33zM48 19h1v1H48zM50 19h1v1H50zM60 19h1v1H60zM65 19h1v1H65zM73 19h1v1H73zM75 19h1v1H75zM154 19h1v1H154zM159 19h1v1H159zM34 20h1v1H34zM42 20h1v1H42zM86 20h1v1H86zM8 21h1v1H8zM13 21h2v1H13zM46 21h1v1H46zM63 21h1v1H63zM82 21h1v1H82zM106 21h1v1H106zM121 21h1v1H121zM123 21h1v1H123zM2 22h1v1H2zM10 22h2v1H10zM14 22h1v1H14zM18 22h1v1H18zM20 22h1v1H20zM30 22h1v1H30zM48 22h5v1H48zM76 22h1v1H76zM88 22h1v1H88zM109 22h1v1H109zM119 22h1v1H119zM67 23h1v1H67zM89 23h1v1H89zM118 23h1v1H118zM135 23h1v1H135zM88 24h1v1H88zM112 24h1v1H112zM97 25h1v1H97zM132 25h1v1H132zM5 26h1v1H5zM11 26h1v1H11zM33 26h1v1H33zM59 26h1v1H59zM62 26h1v1H62zM106 26h1v1H106zM109 26h1v1H109zM116 26h1v1H116zM3 27h1v1H3zM10 27h1v1H10zM19 27h1v1H19zM24 27h1v1H24zM44 27h1v1H44zM52 27h1v1H52zM54 27h1v1H54zM56 27h1v1H56zM61 27h1v1H61zM64 27h1v1H64zM71 27h1v1H71zM87 27h1v1H87zM90 27h1v1H90zM101 27h1v1H101zM104 27h1v1H104zM113 27h1v1H113zM43 29h1v1H43zM83 29h1v1H83zM114 29h1v1H114zM144 29h1v1H144zM4 31h1v1H4zM15 31h1v1H15zM51 31h1v1H51zM104 31h1v1H104zM5 32h1v1H5zM9 32h1v1H9zM16 32h1v1H16zM20 32h1v1H20zM23 32h1v1H23zM29 32h1v1H29zM34 32h2v1H34zM43 32h1v1H43zM50 32h1v1H50zM55 32h1v1H55zM57 32h1v1H57zM69 32h1v1H69zM91 32h1v1H91zM93 32h1v1H93zM96 32h1v1H96zM98 32h1v1H98zM101 32h1v1H101zM103 32h1v1H103zM105 32h2v1H105zM110 32h1v1H110zM117 32h1v1H117zM137 32h1v1H137zM143 32h1v1H143zM154 32h2v1H154zM1 33h1v1H1zM16 33h1v1H16zM29 33h2v1H29zM34 33h1v1H34zM39 33h1v1H39zM44 33h2v1H44zM50 33h1v1H50zM58 33h1v1H58zM60 33h1v1H60zM63 33h1v1H63zM70 33h1v1H70zM76 33h1v1H76zM11 34h1v1H11zM41 34h1v1H41zM54 34h1v1H54zM61 34h1v1H61zM86 34h1v1H86zM91 34h2v1H91zM94 34h1v1H94zM96 34h1v1H96zM105 34h1v1H105zM112 34h1v1H112zM115 34h1v1H115zM122 34h2v1H122zM126 34h1v1H126zM129 34h1v1H129zM136 34h1v1H136zM138 34h1v1H138zM143 34h1v1H143zM49 35h1v1H49zM66 35h1v1H66zM6 36h1v1H6zM24 36h1v1H24zM39 36h1v1H39zM79 36h1v1H79zM113 36h1v1H113zM35 37h1v1H35zM48 37h1v1H48zM67 37h1v1H67zM75 37h1v1H75zM3 38h1v1H3zM43 38h1v1H43zM46 38h1v1H46zM50 38h1v1H50zM58 38h1v1H58zM84 38h1v1H84zM142 38h1v1H142zM35 39h1v1H35zM44 39h1v1H44zM54 39h1v1H54zM97 39h1v1H97zM111 39h1v1H111zM128 39h1v1H128zM133 39h1v1H133zM137 39h1v1H137zM154 39h1v1H154zM156 39h1v1H156zM2 40h1v1H2zM5 40h1v1H5zM13 40h1v1H13zM82 40h1v1H82zM110 40h1v1H110zM117 40h1v1H117zM128 40h1v1H128zM130 40h2v1H130zM42 41h1v1H42zM68 41h1v1H68zM87 41h1v1H87zM4 42h1v1H4zM6 42h1v1H6zM10 42h2v1H10zM16 42h1v1H16zM20 42h1v1H20zM22 42h1v1H22zM25 42h1v1H25zM37 42h1v1H37zM40 42h2v1H40zM45 42h1v1H45zM48 42h1v1H48zM51 42h1v1H51zM55 42h1v1H55zM57 42h1v1H57zM67 42h1v1H67zM105 42h1v1H105zM142 42h1v1H142zM18 43h1v1H18zM27 43h1v1H27zM46 43h1v1H46zM52 43h1v1H52zM124 43h1v1H124zM140 43h1v1H140zM10 44h1v1H10zM57 44h1v1H57zM123 44h1v1H123zM126 44h1v1H126zM1 45h1v1H1zM31 45h1v1H31zM34 45h1v1H34zM47 45h1v1H47zM55 45h1v1H55zM94 45h1v1H94zM155 45h1v1H155zM9 46h1v1H9zM18 47h1v1H18zM21 47h1v1H21zM24 47h1v1H24zM95 47h1v1H95zM129 47h1v1H129zM8 48h1v1H8zM20 48h1v1H20zM58 48h2v1H58zM68 48h1v1H68zM118 48h1v1H118zM128 48h1v1H128zM157 48h1v1H157z"/>
<path fill="#2493ce" d="M13 0h1v1H13zM114 0h1v1H114zM150 0h1v1H150zM24 1h1v1H24zM36 1h1v1H36zM49 1h1v1H49zM72 1h1v1H72zM81 1h1v1H81zM92 1h1v1H92zM130 1h1v1H130zM132 1h1v1H132zM137 1h2v1H137zM153 1h1v1H153zM158 1h1v1H158zM111 2h1v1H111zM120 2h1v1H120zM135 2h1v1H135zM154 2h1v1H154zM128 3h1v1H128zM131 3h1v1H131zM133 3h1v1H133zM6 4h1v1H6zM25 4h1v1H25zM31 4h1v1H31zM33 4h1v1H33zM69 4h1v1H69zM73 4h1v1H73zM89 4h1v1H89zM112 4h2v1H112zM121 4h1v1H121zM154 4h1v1H154zM3 5h1v1H3zM37 5h1v1H37zM63 5h1v1H63zM82 5h1v1H82zM102 5h1v1H102zM110 5h1v1H110zM152 5h1v1H152zM159 5h1v1H159zM93 6h1v1H93zM83 7h1v1H83zM104 7h1v1H104zM123 7h1v1H123zM135 7h1v1H135zM158 7h1v1H158zM19 8h1v1H19zM86 8h1v1H86zM111 8h1v1H111zM113 8h1v1H113zM117 8h2v1H117zM127 8h1v1H127zM131 8h1v1H131zM140 8h1v1H140zM144 8h1v1H144zM154 8h1v1H154zM157 8h2v1H157zM86 9h1v1H86zM100 9h1v1H100zM139 9h1v1H139zM6 10h1v1H6zM19 10h1v1H19zM24 10h1v1H24zM26 10h1v1H26zM37 10h1v1H37zM44 10h1v1H44zM47 10h1v1H47zM51 10h2v1H51zM61 10h1v1H61zM71 10h1v1H71zM81 10h1v1H81zM99 10h1v1H99zM106 10h1v1H106zM108 10h1v1H108zM131 10h1v1H131zM145 10h1v1H145zM28 11h1v1H28zM39 11h1v1H39zM65 12h1v1H65zM93 12h1v1H93zM29 13h1v1H29zM47 13h1v1H47zM91 14h1v1H91zM74 15h1v1H74zM102 15h1v1H102zM150 15h1v1H150zM157 15h1v1H157zM51 16h1v1H51zM81 17h1v1H81zM89 17h1v1H89zM102 17h1v1H102zM28 18h1v1H28zM47 18h1v1H47zM56 18h1v1H56zM93 18h1v1H93zM97 18h1v1H97zM123 18h1v1H123zM145 18h1v1H145zM3 19h1v1H3zM5 19h1v1H5zM25 19h1v1H25zM37 19h1v1H37zM59 19h1v1H59zM64 19h1v1H64zM74 19h1v1H74zM77 19h1v1H77zM122 19h1v1H122zM124 19h1v1H124zM130 19h1v1H130zM142 19h1v1H142zM30 20h1v1H30zM39 20h2v1H39zM45 20h1v1H45zM54 20h1v1H54zM98 20h1v1H98zM12 21h1v1H12zM21 21h1v1H21zM52 21h1v1H52zM77 21h1v1H77zM134 21h1v1H134zM151 21h1v1H151zM156 21h1v1H156zM9 22h1v1H9zM43 22h1v1H43zM99 22h1v1H99zM132 22h1v1H132zM145 22h1v1H145zM23 23h1v1H23zM53 23h1v1H53zM125 23h1v1H125zM138 23h1v1H138zM81 24h1v1H81zM34 25h1v1H34zM77 25h1v1H77zM92 25h1v1H92zM16 26h1v1H16zM97 26h1v1H97zM111 26h1v1H111zM0 27h1v1H0zM20 27h1v1H20zM22 27h1v1H22zM26 27h1v1H26zM30 27h2v1H30zM34 27h2v1H34zM38 27h1v1H38zM41 27h1v1H41zM43 27h1v1H43zM53 27h1v1H53zM65 27h1v1H65zM72 27h1v1H72zM76 27h1v1H76zM96 27h1v1H96zM109 27h1v1H109zM68 28h1v1H68zM129 28h1v1H129zM0 29h1v1H0zM5 29h1v1H5zM26 29h1v1H26zM30 29h1v1H30zM33 29h1v1H33zM36 29h1v1H36zM67 29h1v1H67zM89 29h1v1H89zM104 29h1v1H104zM132 29h1v1H132zM143 29h1v1H143zM97 30h1v1H97zM22 31h1v1H22zM53 31h1v1H53zM56 31h1v1H56zM71 31h1v1H71zM7 32h1v1H7zM17 32h1v1H17zM22 32h1v1H22zM36 32h1v1H36zM44 32h1v1H44zM47 32h1v1H47zM51 32h1v1H51zM58 32h1v1H58zM89 32h1v1H89zM97 32h1v1H97zM99 32h1v1H99zM119 32h1v1H119zM124 32h1v1H124zM158 32h1v1H158zM0 33h1v1H0zM4 33h1v1H4zM26 33h1v1H26zM33 33h1v1H33zM56 33h1v1H56zM61 33h1v1H61zM74 33h1v1H74zM2 34h1v1H2zM9 34h2v1H9zM12 34h1v1H12zM20 34h1v1H20zM33 34h1v1H33zM40 34h1v1H40zM57 34h1v1H57zM65 34h2v1H65zM69 34h1v1H69zM82 34h1v1H82zM84 34h1v1H84zM87 34h1v1H87zM99 34h1v1H99zM110 34h1v1H110zM116 34h1v1H116zM124 34h1v1H124zM131 34h1v1H131zM153 34h1v1H153zM13 36h1v1H13zM28 36h1v1H28zM51 36h1v1H51zM59 36h1v1H59zM118 36h1v1H118zM5 37h1v1H5zM45 37h1v1H45zM50 37h1v1H50zM48 38h1v1H48zM77 38h1v1H77zM100 38h1v1H100zM2 39h1v1H2zM12 39h1v1H12zM16 39h1v1H16zM32 39h1v1H32zM40 39h1v1H40zM51 39h2v1H51zM58 39h1v1H58zM65 39h1v1H65zM67 39h1v1H67zM72 39h1v1H72zM79 39h1v1H79zM86 39h1v1H86zM91 39h2v1H91zM94 39h3v1H94zM106 39h1v1H106zM122 39h1v1H122zM126 39h1v1H126zM140 39h1v1H140zM144 39h1v1H144zM81 40h1v1H81zM98 40h1v1H98zM108 40h1v1H108zM114 40h1v1H114zM148 40h1v1H148zM43 41h1v1H43zM47 41h1v1H47zM52 41h1v1H52zM75 41h2v1H75zM91 41h1v1H91zM102 41h2v1H102zM114 41h1v1H114zM18 42h2v1H18zM29 42h2v1H29zM60 42h1v1H60zM62 42h1v1H62zM66 42h1v1H66zM69 42h1v1H69zM121 42h1v1H121zM159 42h1v1H159zM26 43h1v1H26zM65 43h1v1H65zM103 43h1v1H103zM105 43h1v1H105zM108 43h1v1H108zM17 44h1v1H17zM22 44h1v1H22zM39 44h1v1H39zM11 45h1v1H11zM26 45h1v1H26zM41 45h1v1H41zM68 45h1v1H68zM95 45h1v1H95zM138 45h1v1H138zM158 45h1v1H158zM1 46h1v1H1zM32 47h1v1H32zM99 47h1v1H99zM105 47h1v1H105zM112 47h1v1H112zM0 48h1v1H0zM44 48h1v1H44zM62 48h1v1H62zM64 48h1v1H64zM80 48h1v1H80zM100 48h1v1H100zM131 48h1v1H131zM136 48h1v1H136z"/>
<path fill="#199bd2" d="M33 0h1v1H33zM115 0h1v1H115zM143 0h1v1H143zM0 1h1v1H0zM6 1h1v1H6zM14 1h1v1H14zM16 1h2v1H16zM31 1h1v1H31zM37 1h1v1H37zM52 1h1v1H52zM54 1h1v1H54zM73 1h1v1H73zM77 1h1v1H77zM79 1h1v1H79zM125 1h1v1H125zM134 1h2v1H134zM139 1h1v1H139zM141 1h1v1H141zM149 1h1v1H149zM154 1h1v1H154zM77 2h1v1H77zM93 2h1v1H93zM110 2h1v1H110zM123 2h1v1H123zM129 2h1v1H129zM139 2h1v1H139zM33 3h1v1H33zM87 3h1v1H87zM117 3h1v1H117zM127 3h1v1H127zM48 4h1v1H48zM64 4h1v1H64zM76 4h1v1H76zM140 4h1v1H140zM148 4h1v1H148zM5 5h1v1H5zM30 5h1v1H30zM84 5h1v1H84zM94 6h1v1H94zM57 7h1v1H57zM84 7h1v1H84zM95 7h1v1H95zM99 7h1v1H99zM103 7h1v1H103zM115 7h1v1H115zM146 7h1v1H146zM149 7h1v1H149zM3 8h1v1H3zM24 8h1v1H24zM26 8h1v1H26zM48 8h1v1H48zM79 8h1v1H79zM108 8h1v1H108zM122 8h1v1H122zM149 8h1v1H149zM153 8h1v1H153zM159 8h1v1H159zM143 9h1v1H143zM4 10h1v1H4zM12 10h1v1H12zM28 10h1v1H28zM31 10h1v1H31zM38 10h1v1H38zM45 10h1v1H45zM59 10h1v1H59zM67 10h1v1H67zM80 10h1v1H80zM86 10h1v1H86zM93 10h1v1H93zM97 10h1v1H97zM117 10h1v1H117zM137 10h1v1H137zM1 11h1v1H1zM22 11h1v1H22zM81 11h2v1H81zM94 11h1v1H94zM102 11h3v1H102zM142 11h1v1H142zM117 12h1v1H117zM135 12h1v1H135zM144 12h1v1H144zM149 12h1v1H149zM11 13h1v1H11zM89 13h1v1H89zM115 14h1v1H115zM60 15h1v1H60zM67 15h2v1H67zM72 15h1v1H72zM105 15h1v1H105zM143 15h1v1H143zM87 16h1v1H87zM4 17h1v1H4zM19 17h1v1H19zM70 17h1v1H70zM115 17h1v1H115zM130 17h1v1H130zM159 17h1v1H159zM3 18h1v1H3zM17 18h1v1H17zM55 18h1v1H55zM88 18h1v1H88zM126 18h1v1H126zM139 18h1v1H139zM147 18h1v1H147zM8 19h1v1H8zM17 19h1v1H17zM23 19h2v1H23zM26 19h1v1H26zM30 19h1v1H30zM58 19h1v1H58zM66 19h1v1H66zM78 19h1v1H78zM90 19h1v1H90zM125 19h1v1H125zM138 19h1v1H138zM147 19h1v1H147zM158 19h1v1H158zM7 20h1v1H7zM22 20h1v1H22zM68 20h1v1H68zM73 20h1v1H73zM79 20h1v1H79zM129 20h1v1H129zM35 21h1v1H35zM38 21h1v1H38zM50 21h1v1H50zM129 21h1v1H129zM152 21h1v1H152zM16 22h1v1H16zM23 22h1v1H23zM38 22h1v1H38zM54 22h2v1H54zM57 22h1v1H57zM63 22h1v1H63zM103 22h1v1H103zM18 23h1v1H18zM39 23h1v1H39zM51 23h1v1H51zM59 23h1v1H59zM75 23h1v1H75zM109 23h1v1H109zM116 23h1v1H116zM123 23h1v1H123zM141 23h1v1H141zM23 25h1v1H23zM26 25h1v1H26zM2 26h1v1H2zM25 26h1v1H25zM73 26h1v1H73zM90 26h1v1H90zM99 26h1v1H99zM105 26h1v1H105zM132 26h1v1H132zM145 26h1v1H145zM17 27h1v1H17zM33 27h1v1H33zM37 27h1v1H37zM39 27h1v1H39zM50 27h1v1H50zM59 27h1v1H59zM84 27h1v1H84zM22 29h1v1H22zM52 29h1v1H52zM56 29h1v1H56zM65 29h2v1H65zM117 29h1v1H117zM119 29h1v1H119zM140 29h1v1H140zM8 31h1v1H8zM19 31h1v1H19zM28 31h1v1H28zM79 31h1v1H79zM82 31h1v1H82zM144 31h1v1H144zM6 32h1v1H6zM37 32h1v1H37zM60 32h1v1H60zM64 32h1v1H64zM77 32h1v1H77zM129 32h1v1H129zM135 32h1v1H135zM59 33h1v1H59zM4 34h1v1H4zM15 34h1v1H15zM18 34h1v1H18zM31 34h1v1H31zM34 34h1v1H34zM36 34h1v1H36zM43 34h1v1H43zM51 34h1v1H51zM59 34h1v1H59zM67 34h1v1H67zM76 34h1v1H76zM121 34h1v1H121zM134 34h1v1H134zM137 34h1v1H137zM4 36h1v1H4zM56 36h1v1H56zM58 36h1v1H58zM119 36h1v1H119zM36 37h1v1H36zM69 37h1v1H69zM19 38h1v1H19zM27 38h1v1H27zM40 38h1v1H40zM55 38h1v1H55zM61 38h1v1H61zM3 39h1v1H3zM5 39h2v1H5zM9 39h1v1H9zM14 39h1v1H14zM19 39h1v1H19zM25 39h1v1H25zM46 39h1v1H46zM48 39h1v1H48zM53 39h1v1H53zM55 39h1v1H55zM68 39h1v1H68zM70 39h1v1H70zM81 39h1v1H81zM89 39h1v1H89zM105 39h1v1H105zM107 39h1v1H107zM109 39h1v1H109zM117 39h1v1H117zM130 39h1v1H130zM142 39h1v1H142zM152 39h1v1H152zM155 39h1v1H155zM8 40h1v1H8zM42 40h1v1H42zM69 40h1v1H69zM72 40h1v1H72zM121 40h1v1H121zM139 40h2v1H139zM147 40h1v1H147zM152 40h1v1H152zM4 41h1v1H4zM29 41h1v1H29zM32 41h1v1H32zM90 41h1v1H90zM157 41h1v1H157zM2 42h1v1H2zM94 42h1v1H94zM118 42h1v1H118zM156 42h1v1H156zM55 43h1v1H55zM69 43h2v1H69zM114 43h1v1H114zM117 43h1v1H117zM23 44h1v1H23zM48 44h1v1H48zM153 44h1v1H153zM7 45h1v1H7zM14 45h1v1H14zM28 45h1v1H28zM78 45h1v1H78zM82 45h1v1H82zM107 45h1v1H107zM117 45h1v1H117zM150 45h1v1H150zM152 45h1v1H152zM7 46h1v1H7zM68 46h1v1H68zM70 46h1v1H70zM149 46h1v1H149zM29 47h1v1H29zM31 47h1v1H31zM44 47h1v1H44zM68 47h1v1H68zM119 47h1v1H119zM149 47h1v1H149zM12 48h1v1H12zM35 48h1v1H35zM55 48h1v1H55zM77 48h1v1H77zM140 48h1v1H140zM149 48h1v1H149z"/>
<path fill="#149fd0" d="M98 0h1v1H98zM127 0h1v1H127zM151 0h1v1H151zM158 0h1v1H158zM9 1h1v1H9zM39 1h1v1H39zM64 1h1v1H64zM70 1h1v1H70zM83 1h1v1H83zM136 1h1v1H136zM143 1h1v1H143zM34 2h1v1H34zM107 2h1v1H107zM7 3h1v1H7zM41 3h1v1H41zM59 3h1v1H59zM114 3h1v1H114zM121 3h1v1H121zM3 4h1v1H3zM17 4h1v1H17zM22 4h1v1H22zM41 4h1v1H41zM58 4h1v1H58zM60 4h1v1H60zM99 4h1v1H99zM101 4h1v1H101zM129 4h1v1H129zM6 5h2v1H6zM10 5h1v1H10zM18 5h1v1H18zM33 5h1v1H33zM35 5h1v1H35zM71 5h1v1H71zM74 5h1v1H74zM81 5h1v1H81zM99 5h1v1H99zM108 5h1v1H108zM111 5h1v1H111zM115 5h1v1H115zM5 7h1v1H5zM87 7h1v1H87zM102 7h1v1H102zM130 7h1v1H130zM134 7h1v1H134zM140 7h1v1H140zM10 8h1v1H10zM40 8h1v1H40zM95 9h1v1H95zM105 9h1v1H105zM153 9h1v1H153zM2 10h1v1H2zM15 10h1v1H15zM96 10h1v1H96zM101 10h1v1H101zM105 10h1v1H105zM107 10h1v1H107zM143 10h1v1H143zM30 11h1v1H30zM98 11h1v1H98zM121 11h1v1H121zM88 12h1v1H88zM121 12h1v1H121zM58 13h1v1H58zM76 13h1v1H76zM86 13h1v1H86zM83 14h1v1H83zM25 15h1v1H25zM51 15h1v1H51zM56 15h2v1H56zM116 15h1v1H116zM120 15h1v1H120zM156 15h1v1H156zM85 16h1v1H85zM7 17h1v1H7zM21 17h1v1H21zM82 17h1v1H82zM100 17h1v1H100zM124 17h1v1H124zM152 17h1v1H152zM18 18h1v1H18zM25 18h1v1H25zM38 18h1v1H38zM53 18h1v1H53zM59 18h1v1H59zM67 18h2v1H67zM80 18h1v1H80zM129 18h1v1H129zM158 18h1v1H158zM1 19h1v1H1zM4 20h1v1H4zM33 20h1v1H33zM46 20h1v1H46zM88 20h1v1H88zM96 20h1v1H96zM115 20h1v1H115zM153 20h1v1H153zM9 21h1v1H9zM57 21h1v1H57zM74 21h1v1H74zM144 21h1v1H144zM0 22h1v1H0zM34 22h1v1H34zM40 22h1v1H40zM96 22h1v1H96zM135 22h1v1H135zM146 22h1v1H146zM98 23h1v1H98zM134 23h1v1H134zM139 23h1v1H139zM24 25h1v1H24zM1 26h1v1H1zM12 26h1v1H12zM40 26h1v1H40zM61 26h1v1H61zM115 26h1v1H115zM117 26h1v1H117zM127 26h1v1H127zM16 27h1v1H16zM93 27h1v1H93zM116 27h1v1H116zM124 27h1v1H124zM134 27h1v1H134zM138 27h1v1H138zM79 28h1v1H79zM38 29h1v1H38zM106 29h1v1H106zM151 29h1v1H151zM56 30h1v1H56zM23 31h1v1H23zM72 31h1v1H72zM30 32h1v1H30zM45 32h1v1H45zM111 32h1v1H111zM133 32h1v1H133zM151 32h2v1H151zM65 33h1v1H65zM75 33h1v1H75zM77 33h1v1H77zM109 33h1v1H109zM17 34h1v1H17zM26 34h1v1H26zM50 34h1v1H50zM52 34h1v1H52zM63 34h1v1H63zM75 34h1v1H75zM97 34h1v1H97zM139 34h1v1H139zM65 36h1v1H65zM74 36h1v1H74zM90 36h1v1H90zM93 36h1v1H93zM130 36h1v1H130zM46 37h1v1H46zM54 37h1v1H54zM57 37h1v1H57zM12 38h1v1H12zM59 38h1v1H59zM27 39h2v1H27zM50 39h1v1H50zM82 39h1v1H82zM112 39h3v1H112zM134 39h1v1H134zM136 39h1v1H136zM148 39h1v1H148zM3 40h1v1H3zM17 40h1v1H17zM32 40h1v1H32zM57 40h1v1H57zM80 40h1v1H80zM94 40h1v1H94zM159 40h1v1H159zM63 41h1v1H63zM146 41h1v1H146zM159 41h1v1H159zM28 42h1v1H28zM38 42h2v1H38zM47 42h1v1H47zM65 42h1v1H65zM113 42h1v1H113zM135 42h1v1H135zM158 42h1v1H158zM75 43h1v1H75zM127 43h1v1H127zM4 44h1v1H4zM12 44h1v1H12zM46 44h1v1H46zM59 45h1v1H59zM97 45h1v1H97zM146 45h1v1H146zM8 46h1v1H8zM21 46h2v1H21zM69 46h1v1H69zM75 46h1v1H75zM77 46h2v1H77zM102 46h1v1H102zM11 47h1v1H11zM97 47h1v1H97zM109 47h1v1H109zM114 47h1v1H114zM139 47h1v1H139zM155 47h1v1H155zM23 48h1v1H23zM40 48h1v1H40zM51 48h1v1H51zM70 48h1v1H70zM89 48h1v1H89zM99 48h1v1H99zM129 48h1v1H129z"/>
<path fill="#0fa3cd" d="M112 0h1v1H112zM140 0h1v1H140zM142 0h1v1H142zM23 1h1v1H23zM43 1h1v1H43zM58 1h1v1H58zM93 1h1v1H93zM131 1h1v1H131zM150 1h1v1H150zM91 2h1v1H91zM114 2h2v1H114zM124 2h1v1H124zM141 2h1v1H141zM152 2h1v1H152zM156 2h1v1H156zM4 3h1v1H4zM105 3h1v1H105zM125 3h1v1H125zM15 4h1v1H15zM19 4h1v1H19zM82 4h1v1H82zM84 4h1v1H84zM100 4h1v1H100zM132 4h1v1H132zM145 4h1v1H145zM147 4h1v1H147zM151 4h1v1H151zM159 4h1v1H159zM1 5h1v1H1zM46 5h1v1H46zM62 5h1v1H62zM85 5h1v1H85zM95 5h1v1H95zM103 5h1v1H103zM107 7h1v1H107zM129 7h1v1H129zM21 8h1v1H21zM31 8h2v1H31zM37 8h1v1H37zM39 8h1v1H39zM57 8h1v1H57zM61 8h1v1H61zM65 8h1v1H65zM94 8h1v1H94zM98 8h1v1H98zM110 8h1v1H110zM60 9h1v1H60zM87 9h1v1H87zM94 9h1v1H94zM108 9h1v1H108zM156 9h1v1H156zM7 10h1v1H7zM22 10h1v1H22zM40 10h1v1H40zM78 10h1v1H78zM85 10h1v1H85zM91 10h1v1H91zM139 10h1v1H139zM27 11h1v1H27zM80 11h1v1H80zM114 11h1v1H114zM116 11h1v1H116zM87 12h1v1H87zM18 13h1v1H18zM59 13h1v1H59zM54 14h1v1H54zM92 14h1v1H92zM112 14h1v1H112zM22 15h1v1H22zM33 15h1v1H33zM45 15h1v1H45zM91 15h1v1H91zM115 15h1v1H115zM119 15h1v1H119zM137 15h1v1H137zM74 16h1v1H74zM86 16h1v1H86zM119 16h1v1H119zM18 17h1v1H18zM42 17h1v1H42zM67 17h1v1H67zM91 17h1v1H91zM108 17h1v1H108zM116 17h2v1H116zM138 17h1v1H138zM142 17h1v1H142zM29 18h1v1H29zM36 18h1v1H36zM40 18h1v1H40zM62 18h1v1H62zM119 18h1v1H119zM121 18h1v1H121zM2 19h1v1H2zM19 19h1v1H19zM63 19h1v1H63zM111 19h1v1H111zM119 19h1v1H119zM135 19h1v1H135zM146 19h1v1H146zM13 20h1v1H13zM43 20h1v1H43zM59 20h1v1H59zM65 20h1v1H65zM133 20h1v1H133zM141 20h1v1H141zM143 20h1v1H143zM151 20h1v1H151zM43 21h1v1H43zM71 21h1v1H71zM113 21h1v1H113zM150 21h1v1H150zM157 21h1v1H157zM3 22h1v1H3zM8 22h1v1H8zM32 22h2v1H32zM81 22h1v1H81zM87 22h1v1H87zM113 22h1v1H113zM148 22h1v1H148zM90 23h1v1H90zM117 23h1v1H117zM70 25h1v1H70zM21 26h1v1H21zM29 26h1v1H29zM35 26h1v1H35zM66 26h1v1H66zM68 26h1v1H68zM98 26h1v1H98zM125 26h1v1H125zM131 26h1v1H131zM136 26h1v1H136zM46 27h1v1H46zM103 27h1v1H103zM114 27h1v1H114zM154 27h1v1H154zM33 28h1v1H33zM100 29h1v1H100zM79 30h1v1H79zM58 31h1v1H58zM56 32h1v1H56zM75 32h1v1H75zM125 32h1v1H125zM131 32h1v1H131zM136 32h1v1H136zM148 32h1v1H148zM7 33h1v1H7zM15 33h1v1H15zM36 33h1v1H36zM41 33h1v1H41zM64 33h1v1H64zM22 34h1v1H22zM45 34h1v1H45zM140 34h1v1H140zM22 37h1v1H22zM80 37h1v1H80zM22 38h2v1H22zM66 38h1v1H66zM0 39h1v1H0zM26 39h1v1H26zM78 39h1v1H78zM151 39h1v1H151zM49 40h1v1H49zM53 40h1v1H53zM62 40h1v1H62zM124 40h1v1H124zM12 41h1v1H12zM17 41h1v1H17zM34 41h1v1H34zM51 41h1v1H51zM61 41h1v1H61zM36 42h1v1H36zM70 42h1v1H70zM80 42h1v1H80zM115 42h1v1H115zM120 42h1v1H120zM25 43h1v1H25zM50 43h1v1H50zM64 43h1v1H64zM121 43h1v1H121zM85 44h1v1H85zM23 45h1v1H23zM30 45h1v1H30zM40 45h1v1H40zM44 45h1v1H44zM58 45h1v1H58zM74 45h1v1H74zM130 45h1v1H130zM141 45h1v1H141zM15 46h1v1H15zM150 46h1v1H150zM6 47h1v1H6zM37 47h1v1H37zM42 47h1v1H42zM76 47h1v1H76zM89 47h1v1H89zM107 47h1v1H107zM144 47h1v1H144zM10 48h1v1H10zM17 48h1v1H17zM45 48h1v1H45zM63 48h1v1H63zM83 48h1v1H83zM86 48h1v1H86zM88 48h1v1H88zM116 48h1v1H116zM121 48h1v1H121z"/>
<path fill="#17a8c1" d="M129 0h1v1H129zM137 0h1v1H137zM141 0h1v1H141zM148 0h1v1H148zM3 1h1v1H3zM11 1h1v1H11zM22 1h1v1H22zM74 1h1v1H74zM114 1h1v1H114zM120 1h1v1H120zM145 1h2v1H145zM155 1h1v1H155zM104 2h1v1H104zM108 2h1v1H108zM119 2h1v1H119zM144 2h1v1H144zM158 2h1v1H158zM47 3h1v1H47zM64 3h1v1H64zM9 4h1v1H9zM143 4h1v1H143zM14 5h1v1H14zM29 5h1v1H29zM69 5h1v1H69zM129 5h2v1H129zM48 6h1v1H48zM131 6h1v1H131zM81 7h1v1H81zM131 7h1v1H131zM133 7h1v1H133zM143 7h1v1H143zM33 8h1v1H33zM41 8h1v1H41zM44 8h1v1H44zM93 8h1v1H93zM97 8h1v1H97zM99 8h4v1H99zM116 8h1v1H116zM133 8h1v1H133zM151 8h1v1H151zM93 9h1v1H93zM23 10h1v1H23zM57 10h1v1H57zM92 10h1v1H92zM102 10h1v1H102zM115 10h1v1H115zM126 10h1v1H126zM9 11h1v1H9zM93 11h1v1H93zM101 11h1v1H101zM149 11h1v1H149zM100 12h1v1H100zM124 12h1v1H124zM61 14h1v1H61zM85 14h1v1H85zM88 14h1v1H88zM3 15h1v1H3zM11 15h1v1H11zM24 15h1v1H24zM34 15h1v1H34zM53 15h1v1H53zM89 15h1v1H89zM95 15h1v1H95zM97 15h1v1H97zM133 15h1v1H133zM138 15h1v1H138zM88 16h1v1H88zM10 17h1v1H10zM47 17h1v1H47zM66 17h1v1H66zM96 17h2v1H96zM118 17h1v1H118zM123 17h1v1H123zM129 17h1v1H129zM131 17h1v1H131zM39 18h1v1H39zM81 18h1v1H81zM134 18h1v1H134zM12 19h1v1H12zM38 19h1v1H38zM61 19h1v1H61zM87 19h1v1H87zM104 19h2v1H104zM113 19h1v1H113zM115 19h1v1H115zM123 19h1v1H123zM127 19h2v1H127zM134 19h1v1H134zM17 20h1v1H17zM38 20h1v1H38zM44 20h1v1H44zM61 20h1v1H61zM67 20h1v1H67zM99 20h1v1H99zM24 21h1v1H24zM36 21h1v1H36zM47 22h1v1H47zM61 22h1v1H61zM90 22h1v1H90zM98 22h1v1H98zM138 22h1v1H138zM95 23h1v1H95zM144 23h1v1H144zM83 24h1v1H83zM22 26h1v1H22zM43 26h1v1H43zM46 26h1v1H46zM92 26h1v1H92zM100 26h2v1H100zM7 27h1v1H7zM32 27h1v1H32zM48 27h1v1H48zM74 27h1v1H74zM92 27h1v1H92zM97 27h1v1H97zM99 27h1v1H99zM117 27h1v1H117zM136 27h1v1H136zM150 27h1v1H150zM2 29h1v1H2zM10 29h1v1H10zM51 29h1v1H51zM63 29h1v1H63zM116 29h1v1H116zM129 29h1v1H129zM149 29h1v1H149zM159 29h1v1H159zM96 31h1v1H96zM145 31h1v1H145zM53 32h1v1H53zM59 32h1v1H59zM62 32h1v1H62zM118 32h1v1H118zM123 32h1v1H123zM139 32h1v1H139zM153 32h1v1H153zM8 33h1v1H8zM13 33h1v1H13zM20 33h1v1H20zM31 33h1v1H31zM42 33h1v1H42zM71 33h1v1H71zM19 34h1v1H19zM39 34h1v1H39zM81 34h1v1H81zM85 34h1v1H85zM155 36h1v1H155zM39 37h1v1H39zM76 37h1v1H76zM49 38h1v1H49zM10 39h1v1H10zM33 39h1v1H33zM62 39h1v1H62zM69 39h1v1H69zM22 40h1v1H22zM36 40h1v1H36zM47 40h1v1H47zM78 40h1v1H78zM115 40h1v1H115zM138 40h1v1H138zM13 41h1v1H13zM40 41h1v1H40zM59 41h1v1H59zM70 41h1v1H70zM77 41h1v1H77zM27 42h1v1H27zM31 42h1v1H31zM79 42h1v1H79zM122 42h1v1H122zM147 42h1v1H147zM0 44h1v1H0zM11 44h1v1H11zM38 44h1v1H38zM54 44h1v1H54zM75 44h1v1H75zM115 44h1v1H115zM15 45h1v1H15zM25 45h1v1H25zM42 45h1v1H42zM57 45h1v1H57zM87 45h1v1H87zM91 45h1v1H91zM115 45h1v1H115zM118 45h2v1H118zM133 45h1v1H133zM144 45h1v1H144zM12 46h1v1H12zM26 47h1v1H26zM43 47h1v1H43zM63 47h1v1H63zM70 47h1v1H70zM91 47h1v1H91zM100 47h1v1H100zM118 47h1v1H118zM19 48h1v1H19zM28 48h1v1H28zM49 48h1v1H49zM94 48h1v1H94zM112 48h1v1H112zM138 48h1v1H138z"/>
<path fill="#1facb5" d="M23 0h1v1H23zM132 0h1v1H132zM154 0h1v1H154zM32 1h1v1H32zM112 1h1v1H112zM116 1h1v1H116zM122 1h1v1H122zM127 1h1v1H127zM151 1h1v1H151zM156 1h2v1H156zM101 2h1v1H101zM116 2h1v1H116zM94 3h1v1H94zM100 3h3v1H100zM97 4h2v1H97zM128 4h1v1H128zM133 4h1v1H133zM12 5h2v1H12zM22 5h1v1H22zM42 5h1v1H42zM70 5h1v1H70zM9 7h1v1H9zM128 7h1v1H128zM4 8h1v1H4zM53 8h1v1H53zM69 8h1v1H69zM124 8h1v1H124zM138 8h1v1H138zM147 8h1v1H147zM92 9h1v1H92zM13 10h1v1H13zM39 10h1v1H39zM58 10h1v1H58zM65 10h1v1H65zM150 10h1v1H150zM77 11h1v1H77zM105 11h1v1H105zM48 12h1v1H48zM125 12h1v1H125zM84 14h1v1H84zM28 15h1v1H28zM54 15h1v1H54zM70 15h1v1H70zM122 15h1v1H122zM140 15h1v1H140zM84 16h1v1H84zM2 17h1v1H2zM5 17h1v1H5zM32 17h1v1H32zM76 17h1v1H76zM90 17h1v1H90zM101 17h1v1H101zM106 17h1v1H106zM145 17h1v1H145zM7 19h1v1H7zM28 19h1v1H28zM32 19h1v1H32zM54 19h1v1H54zM57 19h1v1H57zM82 19h1v1H82zM107 19h1v1H107zM117 19h1v1H117zM152 19h1v1H152zM12 20h1v1H12zM78 20h1v1H78zM81 20h1v1H81zM2 21h1v1H2zM4 21h1v1H4zM34 21h1v1H34zM81 21h1v1H81zM83 21h1v1H83zM28 22h1v1H28zM46 22h1v1H46zM60 22h1v1H60zM68 22h1v1H68zM79 22h1v1H79zM107 22h1v1H107zM125 22h1v1H125zM157 22h1v1H157zM156 23h1v1H156zM14 26h1v1H14zM27 26h1v1H27zM30 26h1v1H30zM36 26h1v1H36zM38 26h1v1H38zM72 26h1v1H72zM83 26h1v1H83zM87 26h1v1H87zM1 27h1v1H1zM25 27h1v1H25zM57 27h1v1H57zM115 27h1v1H115zM82 28h1v1H82zM7 29h1v1H7zM9 29h1v1H9zM39 29h1v1H39zM41 29h1v1H41zM77 29h1v1H77zM136 29h1v1H136zM139 29h1v1H139zM141 29h1v1H141zM154 29h1v1H154zM1 32h1v1H1zM3 32h1v1H3zM12 32h1v1H12zM38 32h1v1H38zM76 32h1v1H76zM100 32h1v1H100zM145 32h1v1H145zM156 32h1v1H156zM159 32h1v1H159zM12 33h1v1H12zM18 33h1v1H18zM46 33h1v1H46zM47 34h1v1H47zM70 34h1v1H70zM113 34h1v1H113zM119 34h1v1H119zM127 34h1v1H127zM146 34h1v1H146zM152 34h1v1H152zM156 34h1v1H156zM29 38h1v1H29zM23 39h1v1H23zM29 39h1v1H29zM37 39h1v1H37zM60 39h1v1H60zM64 39h1v1H64zM93 39h1v1H93zM118 39h1v1H118zM123 39h1v1H123zM125 39h1v1H125zM139 39h1v1H139zM83 41h1v1H83zM0 42h2v1H0zM90 42h1v1H90zM6 44h1v1H6zM16 44h1v1H16zM30 44h1v1H30zM35 44h1v1H35zM3 45h1v1H3zM5 45h1v1H5zM13 45h1v1H13zM22 45h1v1H22zM148 45h2v1H148zM3 47h1v1H3zM10 47h1v1H10zM33 47h1v1H33zM56 47h1v1H56zM58 47h1v1H58zM73 47h1v1H73zM77 47h1v1H77zM158 47h1v1H158zM15 48h1v1H15zM47 48h1v1H47zM78 48h1v1H78zM150 48h1v1H150z"/>
<path fill="#29b0a5" d="M103 0h1v1H103zM10 1h1v1H10zM42 1h1v1H42zM53 1h1v1H53zM67 1h1v1H67zM75 1h1v1H75zM85 1h1v1H85zM115 1h1v1H115zM148 1h1v1H148zM112 2h2v1H112zM76 5h1v1H76zM59 6h1v1H59zM21 7h1v1H21zM97 7h1v1H97zM108 7h1v1H108zM118 7h1v1H118zM15 8h1v1H15zM87 8h1v1H87zM121 8h1v1H121zM129 8h1v1H129zM155 8h1v1H155zM103 9h1v1H103zM8 10h2v1H8zM30 10h1v1H30zM53 10h2v1H53zM62 10h2v1H62zM73 10h1v1H73zM79 10h1v1H79zM82 10h1v1H82zM136 10h1v1H136zM85 11h1v1H85zM30 15h2v1H30zM99 15h1v1H99zM113 15h1v1H113zM121 15h1v1H121zM132 15h1v1H132zM20 17h1v1H20zM54 17h1v1H54zM69 17h1v1H69zM80 17h1v1H80zM111 17h1v1H111zM119 17h1v1H119zM121 17h1v1H121zM139 17h1v1H139zM4 19h1v1H4zM9 19h1v1H9zM27 19h1v1H27zM46 19h1v1H46zM67 19h1v1H67zM100 19h1v1H100zM118 19h1v1H118zM156 19h2v1H156zM85 20h1v1H85zM108 20h1v1H108zM120 20h1v1H120zM128 20h1v1H128zM146 20h1v1H146zM42 21h1v1H42zM61 21h1v1H61zM69 21h2v1H69zM5 22h1v1H5zM45 22h1v1H45zM70 22h1v1H70zM77 22h1v1H77zM84 22h1v1H84zM133 22h1v1H133zM81 23h1v1H81zM79 25h1v1H79zM83 25h1v1H83zM19 26h1v1H19zM53 26h1v1H53zM79 26h1v1H79zM159 26h1v1H159zM5 27h1v1H5zM28 27h1v1H28zM45 27h1v1H45zM47 27h1v1H47zM94 27h1v1H94zM106 27h1v1H106zM118 27h1v1H118zM158 27h1v1H158zM81 28h1v1H81zM25 29h1v1H25zM57 29h1v1H57zM62 29h1v1H62zM78 29h1v1H78zM110 29h1v1H110zM147 29h1v1H147zM135 30h1v1H135zM8 32h1v1H8zM15 32h1v1H15zM21 32h1v1H21zM28 32h1v1H28zM40 32h1v1H40zM46 32h1v1H46zM63 32h1v1H63zM73 32h1v1H73zM112 32h1v1H112zM116 32h1v1H116zM127 32h1v1H127zM2 33h1v1H2zM9 33h2v1H9zM40 33h1v1H40zM51 33h1v1H51zM24 34h1v1H24zM48 34h1v1H48zM104 34h1v1H104zM108 34h1v1H108zM132 34h1v1H132zM142 34h1v1H142zM144 34h1v1H144zM157 34h1v1H157zM77 36h1v1H77zM59 37h1v1H59zM79 37h1v1H79zM74 38h1v1H74zM8 39h1v1H8zM24 39h1v1H24zM34 39h1v1H34zM56 39h2v1H56zM85 39h1v1H85zM90 39h1v1H90zM121 39h1v1H121zM131 39h1v1H131zM37 40h1v1H37zM15 41h1v1H15zM64 41h1v1H64zM49 42h1v1H49zM61 42h1v1H61zM64 42h1v1H64zM76 42h2v1H76zM68 43h1v1H68zM133 43h1v1H133zM7 44h1v1H7zM2 45h1v1H2zM10 45h1v1H10zM16 45h1v1H16zM39 45h1v1H39zM43 45h1v1H43zM69 45h1v1H69zM73 45h1v1H73zM129 45h1v1H129zM137 45h1v1H137zM60 47h1v1H60zM65 47h1v1H65zM82 47h1v1H82zM87 47h1v1H87zM90 47h1v1H90zM98 47h1v1H98zM102 47h1v1H102zM140 47h1v1H140zM60 48h1v1H60zM93 48h1v1H93zM95 48h1v1H95zM144 48h1v1H144z"/>
<path fill="#34b495" d="M93 0h1v1H93zM105 0h3v1H105zM120 0h1v1H120zM12 1h1v1H12zM35 1h1v1H35zM62 1h1v1H62zM87 1h1v1H87zM89 1h1v1H89zM126 1h1v1H126zM140 1h1v1H140zM100 2h1v1H100zM148 2h1v1H148zM109 4h1v1H109zM24 5h1v1H24zM48 5h1v1H48zM58 5h2v1H58zM94 5h1v1H94zM4 7h1v1H4zM137 7h1v1H137zM18 8h1v1H18zM74 8h1v1H74zM82 8h1v1H82zM136 8h1v1H136zM0 10h1v1H0zM17 10h1v1H17zM33 10h1v1H33zM56 10h1v1H56zM66 10h1v1H66zM84 12h1v1H84zM124 13h1v1H124zM78 15h1v1H78zM85 15h1v1H85zM101 15h1v1H101zM123 15h1v1H123zM34 17h1v1H34zM37 17h2v1H37zM40 17h1v1H40zM51 17h1v1H51zM10 18h1v1H10zM20 19h2v1H20zM47 19h1v1H47zM49 19h1v1H49zM52 19h2v1H52zM70 19h1v1H70zM81 19h1v1H81zM7 21h1v1H7zM17 21h2v1H17zM32 21h1v1H32zM4 22h1v1H4zM21 22h1v1H21zM29 22h1v1H29zM41 22h1v1H41zM71 22h1v1H71zM81 25h1v1H81zM4 26h1v1H4zM26 26h1v1H26zM63 26h1v1H63zM65 26h1v1H65zM70 26h1v1H70zM6 27h1v1H6zM18 27h1v1H18zM119 27h1v1H119zM123 27h1v1H123zM144 27h1v1H144zM152 27h1v1H152zM80 28h1v1H80zM60 29h1v1H60zM112 29h1v1H112zM156 29h1v1H156zM10 32h1v1H10zM31 32h1v1H31zM42 32h1v1H42zM49 32h1v1H49zM66 32h1v1H66zM86 32h1v1H86zM95 32h1v1H95zM107 32h1v1H107zM146 32h1v1H146zM23 33h1v1H23zM35 33h1v1H35zM52 33h1v1H52zM0 34h1v1H0zM13 34h2v1H13zM35 34h1v1H35zM58 34h1v1H58zM68 34h1v1H68zM90 34h1v1H90zM98 34h1v1H98zM103 34h1v1H103zM106 34h1v1H106zM109 34h1v1H109zM117 34h1v1H117zM4 39h1v1H4zM13 39h1v1H13zM17 39h1v1H17zM20 39h2v1H20zM31 39h1v1H31zM36 39h1v1H36zM47 39h1v1H47zM73 39h2v1H73zM127 39h1v1H127zM143 39h1v1H143zM76 40h1v1H76zM3 42h1v1H3zM17 42h1v1H17zM21 42h1v1H21zM26 42h1v1H26zM33 42h1v1H33zM56 42h1v1H56zM72 42h1v1H72zM71 43h1v1H71zM112 43h1v1H112zM36 44h1v1H36zM9 45h1v1H9zM37 45h1v1H37zM75 45h2v1H75zM84 45h1v1H84zM7 47h1v1H7zM14 47h1v1H14zM17 47h1v1H17zM48 47h1v1H48zM69 47h1v1H69zM103 47h1v1H103zM126 47h1v1H126zM132 47h1v1H132zM134 47h1v1H134zM74 48h1v1H74zM105 48h1v1H105z"/>
<path fill="#4ab88c" d="M119 0h1v1H119zM8 1h1v1H8zM18 1h2v1H18zM27 1h1v1H27zM29 1h1v1H29zM33 1h2v1H33zM80 1h1v1H80zM107 1h1v1H107zM110 1h1v1H110zM99 3h1v1H99zM88 4h1v1H88zM106 4h1v1H106zM4 5h1v1H4zM89 6h1v1H89zM1 7h1v1H1zM88 7h1v1H88zM96 7h1v1H96zM109 7h1v1H109zM95 8h1v1H95zM115 8h1v1H115zM132 8h1v1H132zM18 10h1v1H18zM41 10h1v1H41zM69 10h2v1H69zM90 10h1v1H90zM98 10h1v1H98zM134 10h1v1H134zM90 11h1v1H90zM17 13h1v1H17zM87 14h1v1H87zM138 14h1v1H138zM148 15h1v1H148zM6 17h1v1H6zM43 17h1v1H43zM49 17h1v1H49zM58 17h1v1H58zM60 17h1v1H60zM104 17h1v1H104zM114 17h1v1H114zM126 17h1v1H126zM140 17h1v1H140zM153 17h1v1H153zM156 17h1v1H156zM13 19h1v1H13zM29 19h1v1H29zM40 19h1v1H40zM42 19h1v1H42zM56 19h1v1H56zM84 19h1v1H84zM101 19h1v1H101zM44 21h1v1H44zM15 22h1v1H15zM26 22h2v1H26zM44 22h1v1H44zM64 22h1v1H64zM74 22h1v1H74zM87 23h1v1H87zM80 25h1v1H80zM37 26h1v1H37zM45 26h1v1H45zM54 26h1v1H54zM58 26h1v1H58zM78 26h1v1H78zM12 27h1v1H12zM21 27h1v1H21zM27 27h1v1H27zM66 27h2v1H66zM102 27h1v1H102zM120 27h1v1H120zM32 29h1v1H32zM68 29h1v1H68zM75 29h1v1H75zM47 30h1v1H47zM75 31h1v1H75zM74 32h1v1H74zM82 32h1v1H82zM102 32h1v1H102zM138 32h1v1H138zM142 32h1v1H142zM25 33h1v1H25zM32 33h1v1H32zM1 34h1v1H1zM30 34h1v1H30zM37 34h1v1H37zM62 34h1v1H62zM64 34h1v1H64zM72 34h1v1H72zM93 34h1v1H93zM130 34h1v1H130zM150 34h1v1H150zM154 34h1v1H154zM115 36h1v1H115zM1 39h1v1H1zM15 39h1v1H15zM18 39h1v1H18zM41 39h1v1H41zM59 39h1v1H59zM63 39h1v1H63zM102 39h1v1H102zM108 39h1v1H108zM116 39h1v1H116zM119 39h2v1H119zM135 39h1v1H135zM146 39h1v1H146zM157 39h1v1H157zM68 40h1v1H68zM144 40h1v1H144zM7 42h1v1H7zM14 42h1v1H14zM24 42h1v1H24zM35 42h1v1H35zM59 42h1v1H59zM71 42h1v1H71zM75 42h1v1H75zM78 42h1v1H78zM106 42h1v1H106zM84 43h1v1H84zM34 44h1v1H34zM71 45h1v1H71zM27 47h1v1H27zM36 47h1v1H36zM46 47h1v1H46zM157 47h1v1H157zM61 48h1v1H61z"/>
<path fill="#60bc83" d="M104 0h1v1H104zM111 0h1v1H111zM118 0h1v1H118zM15 1h1v1H15zM21 1h1v1H21zM25 1h1v1H25zM30 1h1v1H30zM48 1h1v1H48zM50 1h1v1H50zM59 1h2v1H59zM78 1h1v1H78zM84 1h1v1H84zM95 1h1v1H95zM102 1h2v1H102zM117 1h1v1H117zM123 1h1v1H123zM128 1h1v1H128zM159 1h1v1H159zM102 2h1v1H102zM104 3h1v1H104zM104 4h2v1H104zM31 5h1v1H31zM91 5h1v1H91zM105 5h1v1H105zM100 7h2v1H100zM114 8h1v1H114zM119 8h1v1H119zM126 8h1v1H126zM134 8h1v1H134zM156 8h1v1H156zM98 9h1v1H98zM32 10h1v1H32zM34 10h1v1H34zM103 10h1v1H103zM109 10h1v1H109zM111 10h1v1H111zM132 10h1v1H132zM142 10h1v1H142zM109 11h1v1H109zM151 14h1v1H151zM26 17h1v1H26zM84 17h1v1H84zM95 17h1v1H95zM155 17h1v1H155zM18 19h1v1H18zM36 19h1v1H36zM45 19h1v1H45zM68 19h1v1H68zM72 19h1v1H72zM76 19h1v1H76zM86 19h1v1H86zM7 22h1v1H7zM25 22h1v1H25zM66 22h2v1H66zM3 26h1v1H3zM84 26h1v1H84zM15 27h1v1H15zM60 27h1v1H60zM79 27h1v1H79zM157 27h1v1H157zM20 29h1v1H20zM81 31h1v1H81zM4 32h1v1H4zM14 32h1v1H14zM24 32h1v1H24zM150 32h1v1H150zM157 32h1v1H157zM6 33h1v1H6zM19 33h1v1H19zM67 33h1v1H67zM78 33h1v1H78zM3 34h1v1H3zM8 34h1v1H8zM23 34h1v1H23zM27 34h1v1H27zM32 34h1v1H32zM44 34h1v1H44zM53 34h1v1H53zM83 34h1v1H83zM88 34h2v1H88zM148 34h1v1H148zM11 39h1v1H11zM22 39h1v1H22zM39 39h1v1H39zM83 39h1v1H83zM98 39h2v1H98zM104 39h1v1H104zM145 39h1v1H145zM147 39h1v1H147zM158 39h1v1H158zM126 41h1v1H126zM23 42h1v1H23zM52 42h1v1H52zM54 42h1v1H54zM12 45h1v1H12zM60 45h1v1H60zM71 46h1v1H71zM104 47h1v1H104zM145 47h1v1H145zM152 47h1v1H152zM69 48h1v1H69z"/>
<path fill="#74bd7b" d="M1 1h1v1H1zM20 1h1v1H20zM41 1h1v1H41zM45 1h1v1H45zM51 1h1v1H51zM61 1h1v1H61zM69 1h1v1H69zM108 1h1v1H108zM111 1h1v1H111zM106 2h1v1H106zM93 3h1v1H93zM97 3h1v1H97zM107 3h1v1H107zM90 4h1v1H90zM95 4h1v1H95zM36 7h1v1H36zM105 7h1v1H105zM103 8h1v1H103zM106 8h1v1H106zM130 8h1v1H130zM91 9h1v1H91zM1 10h1v1H1zM36 10h1v1H36zM49 10h2v1H49zM55 10h1v1H55zM68 10h1v1H68zM75 10h1v1H75zM100 10h1v1H100zM88 13h1v1H88zM86 14h1v1H86zM33 18h1v1H33zM82 18h1v1H82zM51 19h1v1H51zM55 19h1v1H55zM62 19h1v1H62zM79 19h1v1H79zM134 20h1v1H134zM39 21h1v1H39zM73 21h1v1H73zM13 22h1v1H13zM19 22h1v1H19zM53 22h1v1H53zM78 22h1v1H78zM82 22h1v1H82zM122 25h1v1H122zM4 27h1v1H4zM11 27h1v1H11zM36 27h1v1H36zM40 27h1v1H40zM42 27h1v1H42zM63 27h1v1H63zM73 27h1v1H73zM125 27h1v1H125zM134 28h1v1H134zM39 32h1v1H39zM61 32h1v1H61zM141 32h1v1H141zM144 32h1v1H144zM147 32h1v1H147zM3 33h1v1H3zM21 33h1v1H21zM69 33h1v1H69zM81 33h1v1H81zM7 34h1v1H7zM21 34h1v1H21zM46 34h1v1H46zM77 34h2v1H77zM95 34h1v1H95zM111 34h1v1H111zM114 34h1v1H114zM145 34h1v1H145zM149 34h1v1H149zM159 34h1v1H159zM77 37h1v1H77zM76 38h1v1H76zM128 38h1v1H128zM42 39h1v1H42zM45 39h1v1H45zM49 39h1v1H49zM61 39h1v1H61zM71 39h1v1H71zM87 39h1v1H87zM103 39h1v1H103zM124 39h1v1H124zM129 39h1v1H129zM132 39h1v1H132zM70 40h2v1H70zM112 40h1v1H112zM46 42h1v1H46zM69 44h2v1H69zM81 47h1v1H81z"/>
<path fill="#86bb74" d="M108 0h1v1H108zM40 1h1v1H40zM66 1h1v1H66zM68 1h1v1H68zM71 1h1v1H71zM118 1h1v1H118zM124 1h1v1H124zM129 1h1v1H129zM142 2h1v1H142zM103 3h1v1H103zM91 4h1v1H91zM96 5h1v1H96zM47 8h1v1H47zM85 8h1v1H85zM107 8h1v1H107zM141 8h1v1H141zM146 8h1v1H146zM5 10h1v1H5zM11 10h1v1H11zM35 10h1v1H35zM60 10h1v1H60zM92 11h1v1H92zM88 17h1v1H88zM0 19h1v1H0zM6 19h1v1H6zM10 19h1v1H10zM69 19h1v1H69zM80 20h1v1H80zM48 21h1v1H48zM75 27h1v1H75zM77 27h1v1H77zM131 27h1v1H131zM135 27h1v1H135zM76 29h1v1H76zM27 32h1v1H27zM32 32h2v1H32zM68 32h1v1H68zM78 32h1v1H78zM113 32h1v1H113zM80 33h1v1H80zM5 34h1v1H5zM16 34h1v1H16zM38 34h1v1H38zM71 34h1v1H71zM100 34h1v1H100zM120 34h1v1H120zM125 34h1v1H125zM63 37h1v1H63zM30 39h1v1H30zM38 39h1v1H38zM101 39h1v1H101zM159 39h1v1H159zM142 44h1v1H142zM74 47h1v1H74z"/>
<path fill="#97b96e" d="M102 0h1v1H102zM2 1h1v1H2zM5 1h1v1H5zM76 1h1v1H76zM95 2h1v1H95zM99 2h1v1H99zM105 2h1v1H105zM95 3h1v1H95zM98 3h1v1H98zM105 8h1v1H105zM145 8h1v1H145zM20 10h1v1H20zM48 10h1v1H48zM94 10h1v1H94zM86 11h2v1H86zM89 11h1v1H89zM86 18h1v1H86zM44 19h1v1H44zM85 19h1v1H85zM82 20h1v1H82zM24 22h1v1H24zM104 25h1v1H104zM13 27h1v1H13zM83 27h1v1H83zM74 29h1v1H74zM81 29h1v1H81zM80 31h1v1H80zM6 34h1v1H6zM55 34h2v1H55zM80 35h1v1H80zM43 39h1v1H43zM66 39h1v1H66zM88 39h1v1H88zM100 39h1v1H100zM73 40h1v1H73zM71 41h1v1H71zM79 41h1v1H79zM68 42h1v1H68zM74 42h1v1H74zM72 46h1v1H72zM72 48h1v1H72z"/>
<path fill="#a6b76a" d="M110 0h1v1H110zM26 1h1v1H26zM113 1h1v1H113zM109 2h1v1H109zM90 5h1v1H90zM91 6h1v1H91zM89 7h1v1H89zM92 7h1v1H92zM106 7h1v1H106zM137 8h1v1H137zM10 10h1v1H10zM85 18h1v1H85zM84 20h1v1H84zM64 21h1v1H64zM84 23h1v1H84zM98 25h1v1H98zM81 26h1v1H81zM78 27h1v1H78zM80 30h1v1H80zM72 32h1v1H72zM28 34h2v1H28zM78 37h1v1H78zM68 38h1v1H68zM80 39h1v1H80zM110 39h1v1H110zM150 39h1v1H150zM72 44h1v1H72zM72 45h1v1H72zM131 45h1v1H131z"/>
<path fill="#b5b565" d="M9 0h1v1H9zM101 0h1v1H101zM38 1h1v1H38zM106 1h1v1H106zM93 5h1v1H93zM92 8h1v1H92zM72 10h1v1H72zM88 10h1v1H88zM95 10h1v1H95zM86 12h1v1H86zM86 15h1v1H86zM93 17h2v1H93zM71 18h1v1H71zM83 18h1v1H83zM85 21h1v1H85zM82 23h2v1H82zM82 24h1v1H82zM83 32h1v1H83zM75 39h1v1H75zM141 39h1v1H141zM72 43h1v1H72zM70 45h1v1H70zM15 47h1v1H15zM73 48h1v1H73z"/>
<path fill="#c0b260" d="M116 0h1v1H116zM94 1h1v1H94zM96 1h2v1H96zM94 2h1v1H94zM96 4h1v1H96zM102 4h1v1H102zM94 7h1v1H94zM110 7h1v1H110zM96 8h1v1H96zM89 10h1v1H89zM87 17h1v1H87zM92 17h1v1H92zM126 26h1v1H126zM9 27h1v1H9zM73 41h1v1H73zM71 44h1v1H71zM64 47h1v1H64zM72 47h1v1H72z"/>
<path fill="#cbae5b" d="M100 0h1v1H100zM109 1h1v1H109zM103 2h1v1H103zM110 4h1v1H110zM90 6h1v1H90zM46 10h1v1H46zM102 12h1v1H102zM87 13h1v1H87zM88 15h1v1H88zM83 22h1v1H83zM80 26h1v1H80zM8 27h1v1H8zM79 33h1v1H79zM101 34h1v1H101zM74 41h1v1H74zM73 42h1v1H73zM83 43h1v1H83zM71 48h1v1H71z"/>
<path fill="#d7ac55" d="M119 1h1v1H119zM93 4h1v1H93zM107 4h1v1H107zM104 8h1v1H104zM135 10h1v1H135zM133 17h1v1H133zM82 25h1v1H82zM80 27h1v1H80zM79 29h1v1H79zM49 31h1v1H49zM79 32h1v1H79zM79 35h1v1H79z"/>
<path fill="#e3ac4b" d="M99 0h1v1H99zM100 1h1v1H100zM96 2h1v1H96zM83 17h1v1H83zM149 18h1v1H149zM41 19h1v1H41zM71 19h1v1H71zM80 29h1v1H80zM77 39h1v1H77zM84 39h1v1H84z"/>
<path fill="#f0ac42" d="M109 0h1v1H109zM105 1h1v1H105zM103 4h1v1H103zM92 6h1v1H92zM91 8h1v1H91zM85 17h1v1H85zM84 18h1v1H84zM82 27h1v1H82zM49 29h1v1H49zM82 29h1v1H82zM25 34h1v1H25zM72 41h1v1H72zM84 42h1v1H84zM36 45h1v1H36zM151 48h1v1H151z"/>
<path fill="#f7b338" d="M94 4h1v1H94zM108 4h1v1H108zM93 7h1v1H93zM81 27h1v1H81zM80 32h2v1H80zM78 36h1v1H78zM74 46h1v1H74z"/>
<path fill="#f7be2f" d="M99 1h1v1H99zM104 1h1v1H104zM111 4h1v1H111zM87 10h1v1H87zM85 12h1v1H85zM7 39h1v1H7zM55 44h1v1H55z"/>
<path fill="#f6c727" d="M92 5h1v1H92zM89 9h1v1H89zM42 10h1v1H42zM83 20h1v1H83zM107 23h1v1H107zM74 40h1v1H74zM69 41h1v1H69zM73 44h2v1H73z"/>
<path fill="#f5d120" d="M101 1h1v1H101zM15 19h1v1H15zM83 19h1v1H83zM84 21h1v1H84zM58 27h1v1H58zM60 34h1v1H60zM79 34h2v1H79z"/>
<path fill="#f3d820" d="M91 7h1v1H91zM86 17h1v1H86zM82 26h1v1H82zM74 34h1v1H74zM75 40h1v1H75zM68 44h1v1H68zM73 46h1v1H73z"/>
<path fill="#f1de23" d="M111 7h1v1H111zM88 8h1v1H88zM87 15h1v1H87zM51 27h1v1H51zM158 34h1v1H158z"/>
<path fill="#eee426" d="M98 1h1v1H98zM97 2h2v1H97zM96 3h1v1H96zM92 4h1v1H92zM90 7h1v1H90zM89 8h2v1H89zM88 9h1v1H88zM90 9h1v1H90zM88 11h1v1H88zM75 38h1v1H75zM76 39h1v1H76zM83 42h1v1H83zM73 43h2v1H73zM71 47h1v1H71z"/>
</g>
<g transform="translate(372.0,302.3) scale(1.83750,5.64419)" shape-rendering="crispEdges">
<path fill="#412896" d="M84 2h2v1H84zM89 2h1v1H89zM95 2h1v1H95zM98 2h2v1H98zM103 2h1v1H103zM105 2h1v1H105zM1 6h1v1H1zM18 6h1v1H18zM22 6h1v1H22zM25 6h1v1H25zM72 6h2v1H72zM36 7h1v1H36zM70 9h1v1H70zM75 9h1v1H75zM124 11h1v1H124zM129 11h2v1H129zM133 11h1v1H133zM135 11h1v1H135zM143 11h3v1H143zM157 11h1v1H157zM159 11h1v1H159zM1 13h1v1H1zM15 13h1v1H15zM17 13h1v1H17zM37 13h2v1H37zM114 13h2v1H114zM119 13h1v1H119zM127 13h1v1H127zM134 13h2v1H134zM145 13h5v1H145zM156 13h2v1H156zM159 13h1v1H159zM92 15h1v1H92zM96 15h2v1H96zM113 15h1v1H113zM126 15h1v1H126zM132 15h1v1H132zM134 15h1v1H134zM138 15h1v1H138zM148 15h1v1H148zM1 17h1v1H1zM3 17h1v1H3zM5 17h1v1H5zM8 17h1v1H8zM11 17h2v1H11zM21 17h3v1H21zM27 17h5v1H27zM34 17h1v1H34zM37 17h2v1H37zM40 17h1v1H40zM42 17h1v1H42zM44 17h2v1H44zM47 17h1v1H47zM58 17h1v1H58zM63 17h3v1H63zM93 17h1v1H93zM99 17h2v1H99zM122 17h2v1H122zM132 17h1v1H132zM141 17h1v1H141zM155 17h1v1H155zM1 21h3v1H1zM5 21h3v1H5zM10 21h1v1H10zM13 21h5v1H13zM19 21h1v1H19zM21 21h5v1H21zM27 21h2v1H27zM30 21h1v1H30zM32 21h1v1H32zM38 21h1v1H38zM42 21h1v1H42zM44 21h1v1H44zM46 21h2v1H46zM49 21h2v1H49zM52 21h3v1H52zM58 21h1v1H58zM61 21h1v1H61zM65 21h1v1H65zM67 21h6v1H67zM77 21h1v1H77zM86 21h3v1H86zM90 21h1v1H90zM92 21h1v1H92zM94 21h2v1H94zM97 21h2v1H97zM101 21h2v1H101zM104 21h5v1H104zM110 21h5v1H110zM116 21h1v1H116zM118 21h1v1H118zM120 21h1v1H120zM123 21h1v1H123zM125 21h2v1H125zM128 21h1v1H128zM133 21h2v1H133zM138 21h2v1H138zM142 21h1v1H142zM144 21h5v1H144zM150 21h4v1H150zM157 21h1v1H157zM60 24h1v1H60zM18 25h2v1H18zM32 25h1v1H32zM34 25h1v1H34zM47 25h1v1H47zM57 25h1v1H57zM77 25h1v1H77zM86 25h1v1H86zM91 25h4v1H91zM100 25h1v1H100zM116 25h1v1H116zM123 25h1v1H123zM126 25h1v1H126zM128 25h1v1H128zM132 25h1v1H132zM137 25h1v1H137zM139 25h1v1H139zM142 25h1v1H142zM146 25h1v1H146zM150 25h1v1H150zM153 25h1v1H153zM155 25h2v1H155zM16 27h1v1H16zM143 28h1v1H143zM14 32h1v1H14zM21 32h1v1H21zM82 32h1v1H82zM87 32h1v1H87zM103 32h1v1H103zM111 32h1v1H111zM145 32h1v1H145zM149 32h1v1H149zM20 35h1v1H20zM22 35h2v1H22zM25 35h1v1H25zM28 35h3v1H28zM36 35h2v1H36zM43 35h2v1H43zM46 35h1v1H46zM51 35h1v1H51zM55 35h3v1H55zM59 35h2v1H59zM67 35h1v1H67zM69 35h1v1H69zM81 35h3v1H81zM85 35h5v1H85zM92 35h2v1H92zM95 35h1v1H95zM98 35h3v1H98zM103 35h2v1H103zM107 35h2v1H107zM110 35h1v1H110zM112 35h2v1H112zM116 35h3v1H116zM120 35h8v1H120zM130 35h4v1H130zM135 35h1v1H135zM138 35h2v1H138zM143 35h1v1H143zM146 35h1v1H146zM150 35h1v1H150zM154 35h3v1H154zM158 35h2v1H158zM89 40h1v1H89zM99 40h1v1H99zM148 40h1v1H148z"/>
<path fill="#3e2d9b" d="M86 2h3v1H86zM100 2h1v1H100zM104 2h1v1H104zM11 6h1v1H11zM24 6h1v1H24zM42 6h1v1H42zM49 6h1v1H49zM68 6h1v1H68zM7 7h2v1H7zM58 7h1v1H58zM67 7h1v1H67zM70 7h1v1H70zM72 9h1v1H72zM77 9h3v1H77zM110 11h2v1H110zM114 11h1v1H114zM116 11h1v1H116zM118 11h2v1H118zM123 11h1v1H123zM128 11h1v1H128zM132 11h1v1H132zM141 11h1v1H141zM146 11h1v1H146zM148 11h3v1H148zM153 11h1v1H153zM155 11h2v1H155zM2 13h1v1H2zM5 13h1v1H5zM7 13h1v1H7zM19 13h1v1H19zM23 13h1v1H23zM26 13h1v1H26zM33 13h1v1H33zM35 13h1v1H35zM41 13h1v1H41zM44 13h1v1H44zM50 13h2v1H50zM113 13h1v1H113zM121 13h4v1H121zM128 13h2v1H128zM131 13h1v1H131zM139 13h1v1H139zM141 13h1v1H141zM150 13h2v1H150zM155 13h1v1H155zM13 15h1v1H13zM31 15h1v1H31zM49 15h1v1H49zM55 15h1v1H55zM75 15h1v1H75zM80 15h1v1H80zM82 15h1v1H82zM103 15h1v1H103zM107 15h1v1H107zM114 15h2v1H114zM117 15h1v1H117zM119 15h3v1H119zM123 15h1v1H123zM127 15h4v1H127zM137 15h1v1H137zM141 15h2v1H141zM144 15h1v1H144zM153 15h1v1H153zM2 17h1v1H2zM4 17h1v1H4zM9 17h1v1H9zM14 17h1v1H14zM16 17h1v1H16zM19 17h1v1H19zM24 17h1v1H24zM33 17h1v1H33zM35 17h1v1H35zM39 17h1v1H39zM48 17h1v1H48zM54 17h1v1H54zM56 17h1v1H56zM62 17h1v1H62zM92 17h1v1H92zM95 17h1v1H95zM98 17h1v1H98zM108 17h1v1H108zM115 17h1v1H115zM119 17h1v1H119zM126 17h1v1H126zM128 17h1v1H128zM137 17h2v1H137zM140 17h1v1H140zM146 17h1v1H146zM149 17h1v1H149zM151 17h2v1H151zM0 21h1v1H0zM4 21h1v1H4zM8 21h1v1H8zM11 21h2v1H11zM18 21h1v1H18zM20 21h1v1H20zM26 21h1v1H26zM29 21h1v1H29zM31 21h1v1H31zM33 21h3v1H33zM37 21h1v1H37zM39 21h3v1H39zM43 21h1v1H43zM48 21h1v1H48zM51 21h1v1H51zM56 21h2v1H56zM62 21h1v1H62zM66 21h1v1H66zM73 21h4v1H73zM91 21h1v1H91zM93 21h1v1H93zM96 21h1v1H96zM109 21h1v1H109zM117 21h1v1H117zM119 21h1v1H119zM121 21h1v1H121zM127 21h1v1H127zM129 21h1v1H129zM135 21h3v1H135zM154 21h3v1H154zM15 23h1v1H15zM18 23h1v1H18zM35 23h1v1H35zM40 23h1v1H40zM51 23h1v1H51zM23 24h1v1H23zM59 24h1v1H59zM0 25h1v1H0zM2 25h1v1H2zM12 25h1v1H12zM15 25h1v1H15zM26 25h1v1H26zM46 25h1v1H46zM48 25h1v1H48zM52 25h1v1H52zM63 25h1v1H63zM65 25h1v1H65zM69 25h1v1H69zM90 25h1v1H90zM96 25h1v1H96zM98 25h1v1H98zM101 25h2v1H101zM104 25h2v1H104zM108 25h2v1H108zM112 25h1v1H112zM117 25h1v1H117zM119 25h1v1H119zM122 25h1v1H122zM124 25h1v1H124zM133 25h2v1H133zM136 25h1v1H136zM138 25h1v1H138zM140 25h1v1H140zM143 25h1v1H143zM149 25h1v1H149zM151 25h1v1H151zM157 25h1v1H157zM159 25h1v1H159zM5 27h1v1H5zM10 27h1v1H10zM29 27h1v1H29zM34 27h2v1H34zM40 27h1v1H40zM49 27h1v1H49zM54 27h1v1H54zM58 27h1v1H58zM107 28h1v1H107zM130 28h1v1H130zM5 32h1v1H5zM11 32h1v1H11zM34 32h2v1H34zM55 32h1v1H55zM57 32h1v1H57zM95 32h1v1H95zM104 32h1v1H104zM110 32h1v1H110zM115 32h1v1H115zM121 32h1v1H121zM134 32h1v1H134zM137 32h1v1H137zM140 32h1v1H140zM153 32h1v1H153zM21 35h1v1H21zM24 35h1v1H24zM26 35h2v1H26zM32 35h3v1H32zM39 35h2v1H39zM42 35h1v1H42zM47 35h4v1H47zM52 35h1v1H52zM61 35h1v1H61zM64 35h2v1H64zM70 35h2v1H70zM91 35h1v1H91zM105 35h2v1H105zM115 35h1v1H115zM119 35h1v1H119zM128 35h2v1H128zM136 35h2v1H136zM141 35h2v1H141zM147 35h3v1H147zM151 35h3v1H151zM157 35h1v1H157zM4 38h1v1H4zM24 38h1v1H24zM38 38h1v1H38zM46 38h1v1H46zM104 39h1v1H104zM115 39h1v1H115zM156 39h1v1H156zM80 40h1v1H80zM94 40h1v1H94zM102 40h2v1H102zM105 40h1v1H105zM115 40h2v1H115z"/>
<path fill="#3c32a0" d="M90 2h1v1H90zM92 2h2v1H92zM96 2h1v1H96zM101 2h1v1H101zM106 2h1v1H106zM92 3h1v1H92zM57 4h1v1H57zM81 5h1v1H81zM86 5h2v1H86zM97 5h1v1H97zM4 6h2v1H4zM8 6h2v1H8zM26 6h1v1H26zM32 6h1v1H32zM34 6h1v1H34zM38 6h3v1H38zM59 6h1v1H59zM62 6h1v1H62zM66 6h1v1H66zM69 6h1v1H69zM74 6h3v1H74zM79 6h1v1H79zM13 7h1v1H13zM16 7h2v1H16zM22 7h1v1H22zM26 7h1v1H26zM45 7h1v1H45zM55 7h1v1H55zM76 7h2v1H76zM71 9h1v1H71zM73 9h2v1H73zM76 9h1v1H76zM107 11h3v1H107zM112 11h2v1H112zM115 11h1v1H115zM121 11h2v1H121zM125 11h3v1H125zM134 11h1v1H134zM136 11h5v1H136zM152 11h1v1H152zM6 13h1v1H6zM16 13h1v1H16zM18 13h1v1H18zM20 13h1v1H20zM25 13h1v1H25zM28 13h1v1H28zM31 13h1v1H31zM42 13h1v1H42zM45 13h1v1H45zM53 13h2v1H53zM56 13h1v1H56zM58 13h1v1H58zM109 13h2v1H109zM117 13h1v1H117zM130 13h1v1H130zM132 13h2v1H132zM136 13h1v1H136zM142 13h1v1H142zM152 13h1v1H152zM154 13h1v1H154zM158 13h1v1H158zM2 15h1v1H2zM5 15h1v1H5zM8 15h1v1H8zM14 15h1v1H14zM16 15h1v1H16zM20 15h1v1H20zM25 15h1v1H25zM35 15h1v1H35zM40 15h1v1H40zM42 15h2v1H42zM46 15h1v1H46zM48 15h1v1H48zM50 15h1v1H50zM57 15h1v1H57zM59 15h1v1H59zM61 15h1v1H61zM68 15h1v1H68zM77 15h1v1H77zM81 15h1v1H81zM90 15h2v1H90zM94 15h1v1H94zM98 15h3v1H98zM102 15h1v1H102zM104 15h3v1H104zM108 15h2v1H108zM111 15h2v1H111zM118 15h1v1H118zM131 15h1v1H131zM133 15h1v1H133zM136 15h1v1H136zM140 15h1v1H140zM143 15h1v1H143zM151 15h1v1H151zM155 15h1v1H155zM157 15h1v1H157zM159 15h1v1H159zM53 16h1v1H53zM0 17h1v1H0zM17 17h1v1H17zM32 17h1v1H32zM36 17h1v1H36zM49 17h4v1H49zM55 17h1v1H55zM57 17h1v1H57zM59 17h2v1H59zM67 17h1v1H67zM80 17h3v1H80zM89 17h3v1H89zM96 17h2v1H96zM101 17h2v1H101zM104 17h1v1H104zM106 17h1v1H106zM110 17h1v1H110zM113 17h2v1H113zM118 17h1v1H118zM121 17h1v1H121zM129 17h2v1H129zM143 17h2v1H143zM148 17h1v1H148zM150 17h1v1H150zM154 17h1v1H154zM156 17h1v1H156zM158 17h1v1H158zM123 18h1v1H123zM9 21h1v1H9zM36 21h1v1H36zM45 21h1v1H45zM55 21h1v1H55zM63 21h2v1H63zM78 21h1v1H78zM84 21h1v1H84zM89 21h1v1H89zM103 21h1v1H103zM115 21h1v1H115zM122 21h1v1H122zM130 21h3v1H130zM141 21h1v1H141zM158 21h2v1H158zM4 23h1v1H4zM16 23h1v1H16zM31 23h1v1H31zM38 23h1v1H38zM56 23h1v1H56zM64 23h1v1H64zM69 23h2v1H69zM140 23h1v1H140zM12 24h1v1H12zM19 24h1v1H19zM27 24h1v1H27zM31 24h1v1H31zM36 24h1v1H36zM66 24h1v1H66zM6 25h2v1H6zM9 25h1v1H9zM13 25h2v1H13zM17 25h1v1H17zM21 25h4v1H21zM27 25h2v1H27zM31 25h1v1H31zM33 25h1v1H33zM35 25h1v1H35zM38 25h1v1H38zM40 25h2v1H40zM43 25h2v1H43zM51 25h1v1H51zM54 25h1v1H54zM56 25h1v1H56zM59 25h4v1H59zM68 25h1v1H68zM73 25h1v1H73zM75 25h1v1H75zM85 25h1v1H85zM88 25h1v1H88zM95 25h1v1H95zM106 25h1v1H106zM110 25h2v1H110zM113 25h3v1H113zM118 25h1v1H118zM127 25h1v1H127zM131 25h1v1H131zM141 25h1v1H141zM144 25h2v1H144zM147 25h1v1H147zM10 26h1v1H10zM75 26h1v1H75zM130 26h1v1H130zM2 27h1v1H2zM12 27h1v1H12zM18 27h1v1H18zM21 27h2v1H21zM25 27h1v1H25zM30 27h1v1H30zM36 27h1v1H36zM39 27h1v1H39zM44 27h1v1H44zM50 27h1v1H50zM55 27h1v1H55zM57 27h1v1H57zM65 27h2v1H65zM68 27h2v1H68zM94 27h1v1H94zM115 27h1v1H115zM130 27h1v1H130zM155 27h1v1H155zM25 28h1v1H25zM85 28h1v1H85zM90 28h1v1H90zM97 28h1v1H97zM109 28h1v1H109zM120 28h1v1H120zM122 28h3v1H122zM128 28h1v1H128zM138 28h1v1H138zM148 28h1v1H148zM91 29h1v1H91zM100 29h1v1H100zM0 32h1v1H0zM3 32h2v1H3zM16 32h1v1H16zM26 32h1v1H26zM32 32h1v1H32zM37 32h1v1H37zM39 32h2v1H39zM43 32h1v1H43zM49 32h1v1H49zM60 32h1v1H60zM63 32h1v1H63zM83 32h1v1H83zM89 32h2v1H89zM92 32h1v1H92zM94 32h1v1H94zM96 32h1v1H96zM100 32h1v1H100zM102 32h1v1H102zM105 32h2v1H105zM109 32h1v1H109zM114 32h1v1H114zM116 32h1v1H116zM120 32h1v1H120zM130 32h2v1H130zM138 32h2v1H138zM147 32h2v1H147zM150 32h1v1H150zM155 32h1v1H155zM158 32h2v1H158zM19 35h1v1H19zM31 35h1v1H31zM38 35h1v1H38zM41 35h1v1H41zM45 35h1v1H45zM53 35h2v1H53zM62 35h2v1H62zM66 35h1v1H66zM68 35h1v1H68zM80 35h1v1H80zM84 35h1v1H84zM90 35h1v1H90zM94 35h1v1H94zM101 35h1v1H101zM109 35h1v1H109zM111 35h1v1H111zM134 35h1v1H134zM140 35h1v1H140zM145 35h1v1H145zM15 36h1v1H15zM20 36h1v1H20zM119 37h1v1H119zM135 37h1v1H135zM1 38h1v1H1zM6 38h1v1H6zM13 38h1v1H13zM15 38h1v1H15zM28 38h1v1H28zM30 38h1v1H30zM32 38h2v1H32zM43 38h1v1H43zM54 38h1v1H54zM79 38h1v1H79zM91 39h1v1H91zM99 39h1v1H99zM109 39h1v1H109zM116 39h1v1H116zM126 39h1v1H126zM135 39h1v1H135zM140 39h1v1H140zM143 39h1v1H143zM151 39h1v1H151zM29 40h1v1H29zM53 40h1v1H53zM58 40h1v1H58zM83 40h2v1H83zM91 40h1v1H91zM95 40h1v1H95zM97 40h1v1H97zM104 40h1v1H104zM107 40h1v1H107zM112 40h1v1H112zM117 40h1v1H117zM120 40h1v1H120zM127 40h2v1H127zM133 40h2v1H133zM136 40h1v1H136zM141 40h1v1H141zM143 40h2v1H143zM149 40h1v1H149zM155 40h1v1H155zM159 40h1v1H159z"/>
<path fill="#3839a2" d="M3 2h1v1H3zM7 2h1v1H7zM31 2h1v1H31zM41 2h1v1H41zM48 2h1v1H48zM60 2h2v1H60zM77 2h1v1H77zM94 2h1v1H94zM97 2h1v1H97zM102 2h1v1H102zM88 3h1v1H88zM0 4h2v1H0zM23 4h1v1H23zM39 4h1v1H39zM46 4h1v1H46zM55 4h1v1H55zM62 4h1v1H62zM66 4h1v1H66zM70 4h1v1H70zM72 4h1v1H72zM74 4h2v1H74zM80 5h1v1H80zM84 5h1v1H84zM99 5h1v1H99zM7 6h1v1H7zM10 6h1v1H10zM13 6h3v1H13zM19 6h2v1H19zM23 6h1v1H23zM28 6h2v1H28zM33 6h1v1H33zM35 6h2v1H35zM45 6h3v1H45zM50 6h1v1H50zM53 6h2v1H53zM60 6h1v1H60zM63 6h2v1H63zM67 6h1v1H67zM77 6h1v1H77zM80 6h1v1H80zM82 6h1v1H82zM1 7h1v1H1zM3 7h1v1H3zM5 7h1v1H5zM9 7h1v1H9zM15 7h1v1H15zM21 7h1v1H21zM25 7h1v1H25zM27 7h2v1H27zM37 7h2v1H37zM40 7h1v1H40zM43 7h1v1H43zM48 7h3v1H48zM54 7h1v1H54zM57 7h1v1H57zM62 7h2v1H62zM65 7h1v1H65zM68 7h1v1H68zM74 7h2v1H74zM50 10h1v1H50zM53 10h1v1H53zM154 11h1v1H154zM3 13h2v1H3zM8 13h3v1H8zM12 13h2v1H12zM22 13h1v1H22zM30 13h1v1H30zM36 13h1v1H36zM40 13h1v1H40zM43 13h1v1H43zM48 13h2v1H48zM52 13h1v1H52zM116 13h1v1H116zM120 13h1v1H120zM125 13h2v1H125zM137 13h2v1H137zM140 13h1v1H140zM153 13h1v1H153zM1 15h1v1H1zM3 15h2v1H3zM7 15h1v1H7zM9 15h2v1H9zM12 15h1v1H12zM23 15h2v1H23zM30 15h1v1H30zM33 15h2v1H33zM36 15h1v1H36zM44 15h1v1H44zM51 15h1v1H51zM53 15h2v1H53zM58 15h1v1H58zM65 15h1v1H65zM71 15h2v1H71zM74 15h1v1H74zM76 15h1v1H76zM79 15h1v1H79zM83 15h1v1H83zM89 15h1v1H89zM95 15h1v1H95zM110 15h1v1H110zM116 15h1v1H116zM135 15h1v1H135zM152 15h1v1H152zM156 15h1v1H156zM158 15h1v1H158zM0 16h1v1H0zM11 16h1v1H11zM6 17h2v1H6zM13 17h1v1H13zM15 17h1v1H15zM18 17h1v1H18zM25 17h1v1H25zM43 17h1v1H43zM46 17h1v1H46zM53 17h1v1H53zM61 17h1v1H61zM88 17h1v1H88zM94 17h1v1H94zM105 17h1v1H105zM107 17h1v1H107zM111 17h2v1H111zM116 17h1v1H116zM133 17h4v1H133zM139 17h1v1H139zM147 17h1v1H147zM153 17h1v1H153zM159 17h1v1H159zM1 18h1v1H1zM5 18h1v1H5zM9 18h1v1H9zM18 18h1v1H18zM20 18h1v1H20zM54 18h2v1H54zM58 18h1v1H58zM88 18h1v1H88zM93 18h1v1H93zM102 18h1v1H102zM116 18h1v1H116zM124 18h1v1H124zM139 18h1v1H139zM157 18h1v1H157zM59 21h1v1H59zM85 21h1v1H85zM140 21h1v1H140zM149 21h1v1H149zM130 22h1v1H130zM134 22h1v1H134zM145 22h1v1H145zM3 23h1v1H3zM12 23h1v1H12zM14 23h1v1H14zM19 23h1v1H19zM24 23h1v1H24zM32 23h1v1H32zM42 23h1v1H42zM46 23h1v1H46zM55 23h1v1H55zM59 23h2v1H59zM62 23h1v1H62zM67 23h1v1H67zM72 23h1v1H72zM76 23h1v1H76zM125 23h1v1H125zM144 23h1v1H144zM1 24h1v1H1zM3 24h1v1H3zM7 24h1v1H7zM11 24h1v1H11zM15 24h2v1H15zM21 24h1v1H21zM24 24h2v1H24zM28 24h3v1H28zM35 24h1v1H35zM39 24h1v1H39zM48 24h1v1H48zM51 24h1v1H51zM55 24h1v1H55zM57 24h2v1H57zM61 24h2v1H61zM65 24h1v1H65zM70 24h1v1H70zM72 24h1v1H72zM75 24h1v1H75zM108 24h1v1H108zM1 25h1v1H1zM4 25h2v1H4zM8 25h1v1H8zM10 25h1v1H10zM29 25h1v1H29zM37 25h1v1H37zM39 25h1v1H39zM42 25h1v1H42zM45 25h1v1H45zM49 25h2v1H49zM55 25h1v1H55zM64 25h1v1H64zM66 25h1v1H66zM71 25h2v1H71zM74 25h1v1H74zM83 25h2v1H83zM120 25h1v1H120zM125 25h1v1H125zM129 25h1v1H129zM135 25h1v1H135zM148 25h1v1H148zM158 25h1v1H158zM2 26h1v1H2zM8 26h1v1H8zM11 26h1v1H11zM13 26h1v1H13zM27 26h1v1H27zM33 26h1v1H33zM37 26h1v1H37zM48 26h1v1H48zM51 26h1v1H51zM53 26h1v1H53zM61 26h1v1H61zM85 26h1v1H85zM90 26h1v1H90zM111 26h1v1H111zM116 26h2v1H116zM120 26h1v1H120zM0 27h1v1H0zM4 27h1v1H4zM6 27h2v1H6zM9 27h1v1H9zM15 27h1v1H15zM17 27h1v1H17zM20 27h1v1H20zM27 27h1v1H27zM31 27h1v1H31zM33 27h1v1H33zM38 27h1v1H38zM41 27h1v1H41zM47 27h1v1H47zM52 27h1v1H52zM67 27h1v1H67zM72 27h2v1H72zM75 27h1v1H75zM77 27h1v1H77zM86 27h1v1H86zM101 27h1v1H101zM104 27h1v1H104zM111 27h1v1H111zM122 27h1v1H122zM134 27h1v1H134zM137 27h1v1H137zM146 27h1v1H146zM151 27h1v1H151zM5 28h1v1H5zM12 28h2v1H12zM17 28h1v1H17zM27 28h1v1H27zM29 28h2v1H29zM33 28h1v1H33zM42 28h1v1H42zM61 28h1v1H61zM66 28h1v1H66zM95 28h2v1H95zM98 28h1v1H98zM103 28h1v1H103zM108 28h1v1H108zM111 28h1v1H111zM118 28h1v1H118zM125 28h2v1H125zM132 28h2v1H132zM139 28h2v1H139zM157 28h1v1H157zM40 29h1v1H40zM63 29h1v1H63zM2 32h1v1H2zM13 32h1v1H13zM17 32h1v1H17zM22 32h1v1H22zM24 32h2v1H24zM29 32h1v1H29zM33 32h1v1H33zM44 32h3v1H44zM48 32h1v1H48zM54 32h1v1H54zM56 32h1v1H56zM58 32h2v1H58zM62 32h1v1H62zM84 32h2v1H84zM88 32h1v1H88zM91 32h1v1H91zM97 32h1v1H97zM107 32h1v1H107zM113 32h1v1H113zM117 32h1v1H117zM122 32h2v1H122zM128 32h2v1H128zM136 32h1v1H136zM141 32h4v1H141zM152 32h1v1H152zM154 32h1v1H154zM72 35h1v1H72zM96 35h1v1H96zM102 35h1v1H102zM12 36h1v1H12zM22 36h1v1H22zM40 36h1v1H40zM50 36h2v1H50zM66 36h1v1H66zM80 37h1v1H80zM84 37h1v1H84zM88 37h1v1H88zM93 37h1v1H93zM101 37h3v1H101zM117 37h1v1H117zM120 37h1v1H120zM137 37h1v1H137zM139 37h1v1H139zM155 37h1v1H155zM159 37h1v1H159zM11 38h1v1H11zM16 38h1v1H16zM19 38h2v1H19zM27 38h1v1H27zM29 38h1v1H29zM31 38h1v1H31zM34 38h1v1H34zM44 38h1v1H44zM51 38h1v1H51zM53 38h1v1H53zM77 38h1v1H77zM80 39h1v1H80zM82 39h2v1H82zM85 39h1v1H85zM90 39h1v1H90zM92 39h1v1H92zM94 39h1v1H94zM97 39h1v1H97zM100 39h1v1H100zM110 39h2v1H110zM113 39h1v1H113zM117 39h2v1H117zM124 39h1v1H124zM128 39h1v1H128zM131 39h2v1H131zM141 39h2v1H141zM145 39h2v1H145zM153 39h3v1H153zM158 39h2v1H158zM2 40h1v1H2zM18 40h1v1H18zM38 40h2v1H38zM49 40h1v1H49zM81 40h1v1H81zM85 40h2v1H85zM90 40h1v1H90zM93 40h1v1H93zM100 40h2v1H100zM106 40h1v1H106zM111 40h1v1H111zM119 40h1v1H119zM121 40h4v1H121zM126 40h1v1H126zM129 40h1v1H129zM131 40h1v1H131zM140 40h1v1H140zM142 40h1v1H142zM145 40h1v1H145zM157 40h2v1H157z"/>
<path fill="#333fa4" d="M12 2h1v1H12zM19 2h1v1H19zM26 2h1v1H26zM28 2h1v1H28zM46 2h1v1H46zM56 2h1v1H56zM63 2h1v1H63zM68 2h1v1H68zM91 2h1v1H91zM85 3h1v1H85zM90 3h1v1H90zM98 3h1v1H98zM103 3h1v1H103zM14 4h1v1H14zM18 4h1v1H18zM28 4h1v1H28zM30 4h1v1H30zM34 4h1v1H34zM38 4h1v1H38zM50 4h1v1H50zM59 4h1v1H59zM64 4h1v1H64zM67 4h1v1H67zM78 4h1v1H78zM90 5h1v1H90zM94 5h1v1H94zM96 5h1v1H96zM98 5h1v1H98zM2 6h2v1H2zM12 6h1v1H12zM30 6h1v1H30zM48 6h1v1H48zM51 6h1v1H51zM61 6h1v1H61zM70 6h1v1H70zM85 6h2v1H85zM90 6h1v1H90zM0 7h1v1H0zM11 7h1v1H11zM19 7h2v1H19zM23 7h2v1H23zM35 7h1v1H35zM41 7h2v1H41zM44 7h1v1H44zM47 7h1v1H47zM51 7h1v1H51zM64 7h1v1H64zM66 7h1v1H66zM69 7h1v1H69zM72 7h2v1H72zM79 7h2v1H79zM87 7h1v1H87zM94 7h1v1H94zM6 10h2v1H6zM13 10h1v1H13zM16 10h1v1H16zM22 10h1v1H22zM31 10h1v1H31zM36 10h1v1H36zM47 10h1v1H47zM51 10h1v1H51zM0 13h1v1H0zM24 13h1v1H24zM27 13h1v1H27zM29 13h1v1H29zM32 13h1v1H32zM46 13h2v1H46zM57 13h1v1H57zM59 13h1v1H59zM0 15h1v1H0zM6 15h1v1H6zM11 15h1v1H11zM15 15h1v1H15zM17 15h3v1H17zM22 15h1v1H22zM27 15h1v1H27zM29 15h1v1H29zM32 15h1v1H32zM37 15h1v1H37zM41 15h1v1H41zM56 15h1v1H56zM60 15h1v1H60zM64 15h1v1H64zM66 15h1v1H66zM122 15h1v1H122zM125 15h1v1H125zM147 15h1v1H147zM150 15h1v1H150zM154 15h1v1H154zM6 16h1v1H6zM8 16h1v1H8zM24 16h3v1H24zM30 16h1v1H30zM35 16h1v1H35zM44 16h1v1H44zM64 16h1v1H64zM26 17h1v1H26zM109 17h1v1H109zM125 17h1v1H125zM127 17h1v1H127zM0 18h1v1H0zM8 18h1v1H8zM14 18h1v1H14zM17 18h1v1H17zM37 18h1v1H37zM43 18h1v1H43zM45 18h1v1H45zM56 18h2v1H56zM64 18h2v1H64zM94 18h1v1H94zM99 18h1v1H99zM103 18h1v1H103zM108 18h1v1H108zM115 18h1v1H115zM130 18h1v1H130zM135 18h2v1H135zM141 18h1v1H141zM144 18h1v1H144zM148 18h1v1H148zM152 18h3v1H152zM156 18h1v1H156zM159 18h1v1H159zM79 21h1v1H79zM143 21h1v1H143zM9 22h1v1H9zM14 22h1v1H14zM35 22h1v1H35zM44 22h1v1H44zM61 22h1v1H61zM99 22h1v1H99zM111 22h1v1H111zM133 22h1v1H133zM146 22h1v1H146zM1 23h1v1H1zM13 23h1v1H13zM17 23h1v1H17zM20 23h1v1H20zM23 23h1v1H23zM26 23h5v1H26zM33 23h2v1H33zM39 23h1v1H39zM43 23h2v1H43zM48 23h1v1H48zM50 23h1v1H50zM53 23h2v1H53zM61 23h1v1H61zM63 23h1v1H63zM65 23h2v1H65zM71 23h1v1H71zM86 23h1v1H86zM88 23h1v1H88zM96 23h1v1H96zM101 23h1v1H101zM109 23h1v1H109zM119 23h1v1H119zM121 23h1v1H121zM126 23h1v1H126zM128 23h1v1H128zM133 23h1v1H133zM143 23h1v1H143zM157 23h1v1H157zM4 24h3v1H4zM8 24h2v1H8zM17 24h2v1H17zM20 24h1v1H20zM32 24h1v1H32zM40 24h2v1H40zM45 24h1v1H45zM68 24h2v1H68zM74 24h1v1H74zM76 24h2v1H76zM102 24h1v1H102zM112 24h1v1H112zM117 24h1v1H117zM120 24h1v1H120zM124 24h1v1H124zM132 24h1v1H132zM135 24h1v1H135zM139 24h2v1H139zM143 24h1v1H143zM147 24h1v1H147zM156 24h1v1H156zM158 24h1v1H158zM16 25h1v1H16zM30 25h1v1H30zM36 25h1v1H36zM53 25h1v1H53zM97 25h1v1H97zM1 26h1v1H1zM4 26h1v1H4zM7 26h1v1H7zM21 26h1v1H21zM32 26h1v1H32zM34 26h1v1H34zM38 26h2v1H38zM45 26h1v1H45zM47 26h1v1H47zM50 26h1v1H50zM58 26h2v1H58zM62 26h1v1H62zM91 26h2v1H91zM94 26h2v1H94zM100 26h1v1H100zM102 26h1v1H102zM107 26h2v1H107zM114 26h1v1H114zM122 26h1v1H122zM126 26h1v1H126zM131 26h1v1H131zM133 26h3v1H133zM137 26h1v1H137zM143 26h2v1H143zM146 26h1v1H146zM148 26h2v1H148zM153 26h1v1H153zM158 26h1v1H158zM13 27h1v1H13zM37 27h1v1H37zM43 27h1v1H43zM45 27h2v1H45zM60 27h3v1H60zM64 27h1v1H64zM71 27h1v1H71zM74 27h1v1H74zM89 27h1v1H89zM91 27h1v1H91zM96 27h1v1H96zM100 27h1v1H100zM105 27h2v1H105zM108 27h1v1H108zM113 27h1v1H113zM116 27h2v1H116zM125 27h3v1H125zM131 27h1v1H131zM133 27h1v1H133zM135 27h1v1H135zM149 27h2v1H149zM153 27h1v1H153zM156 27h2v1H156zM2 28h1v1H2zM6 28h1v1H6zM10 28h1v1H10zM15 28h2v1H15zM20 28h2v1H20zM28 28h1v1H28zM37 28h1v1H37zM41 28h1v1H41zM43 28h1v1H43zM45 28h1v1H45zM48 28h2v1H48zM53 28h2v1H53zM57 28h1v1H57zM59 28h2v1H59zM62 28h3v1H62zM70 28h1v1H70zM94 28h1v1H94zM100 28h1v1H100zM105 28h1v1H105zM119 28h1v1H119zM121 28h1v1H121zM129 28h1v1H129zM153 28h2v1H153zM156 28h1v1H156zM158 28h2v1H158zM1 29h1v1H1zM9 29h1v1H9zM12 29h1v1H12zM20 29h1v1H20zM23 29h1v1H23zM28 29h1v1H28zM30 29h3v1H30zM35 29h2v1H35zM38 29h1v1H38zM45 29h1v1H45zM49 29h1v1H49zM51 29h1v1H51zM56 29h1v1H56zM61 29h2v1H61zM72 29h1v1H72zM74 29h1v1H74zM97 29h2v1H97zM103 29h1v1H103zM108 29h1v1H108zM113 29h2v1H113zM119 29h1v1H119zM131 29h1v1H131zM133 29h2v1H133zM144 29h1v1H144zM153 29h2v1H153zM8 32h3v1H8zM15 32h1v1H15zM18 32h2v1H18zM30 32h2v1H30zM38 32h1v1H38zM41 32h2v1H41zM47 32h1v1H47zM50 32h1v1H50zM61 32h1v1H61zM64 32h1v1H64zM86 32h1v1H86zM98 32h1v1H98zM118 32h2v1H118zM124 32h2v1H124zM127 32h1v1H127zM135 32h1v1H135zM109 34h2v1H109zM153 34h1v1H153zM157 34h1v1H157zM97 35h1v1H97zM0 36h1v1H0zM5 36h2v1H5zM8 36h1v1H8zM23 36h1v1H23zM31 36h2v1H31zM43 36h1v1H43zM48 36h1v1H48zM57 36h1v1H57zM64 36h1v1H64zM67 36h1v1H67zM85 37h1v1H85zM90 37h2v1H90zM95 37h1v1H95zM97 37h1v1H97zM100 37h1v1H100zM109 37h1v1H109zM115 37h1v1H115zM122 37h1v1H122zM125 37h5v1H125zM134 37h1v1H134zM147 37h1v1H147zM152 37h1v1H152zM154 37h1v1H154zM7 38h1v1H7zM10 38h1v1H10zM17 38h2v1H17zM21 38h3v1H21zM25 38h2v1H25zM35 38h3v1H35zM39 38h4v1H39zM47 38h2v1H47zM30 39h1v1H30zM81 39h1v1H81zM88 39h2v1H88zM93 39h1v1H93zM95 39h1v1H95zM98 39h1v1H98zM101 39h1v1H101zM106 39h3v1H106zM119 39h3v1H119zM123 39h1v1H123zM129 39h1v1H129zM134 39h1v1H134zM137 39h3v1H137zM148 39h2v1H148zM157 39h1v1H157zM3 40h3v1H3zM11 40h1v1H11zM15 40h1v1H15zM31 40h1v1H31zM37 40h1v1H37zM41 40h1v1H41zM48 40h1v1H48zM52 40h1v1H52zM60 40h1v1H60zM62 40h1v1H62zM67 40h1v1H67zM78 40h1v1H78zM82 40h1v1H82zM87 40h2v1H87zM92 40h1v1H92zM98 40h1v1H98zM109 40h1v1H109zM114 40h1v1H114zM118 40h1v1H118zM138 40h2v1H138zM150 40h2v1H150zM154 40h1v1H154zM156 40h1v1H156z"/>
<path fill="#3248a8" d="M85 0h1v1H85zM128 0h1v1H128zM150 0h1v1H150zM1 2h1v1H1zM4 2h1v1H4zM6 2h1v1H6zM16 2h1v1H16zM20 2h1v1H20zM32 2h1v1H32zM37 2h1v1H37zM50 2h1v1H50zM54 2h2v1H54zM57 2h1v1H57zM70 2h3v1H70zM74 2h1v1H74zM76 2h1v1H76zM79 2h1v1H79zM91 3h1v1H91zM93 3h3v1H93zM101 3h2v1H101zM104 3h1v1H104zM9 4h1v1H9zM11 4h1v1H11zM19 4h1v1H19zM21 4h2v1H21zM29 4h1v1H29zM31 4h1v1H31zM42 4h1v1H42zM53 4h1v1H53zM58 4h1v1H58zM63 4h1v1H63zM68 4h2v1H68zM71 4h1v1H71zM73 4h1v1H73zM82 5h2v1H82zM88 5h2v1H88zM92 5h1v1H92zM21 6h1v1H21zM31 6h1v1H31zM37 6h1v1H37zM52 6h1v1H52zM58 6h1v1H58zM71 6h1v1H71zM84 6h1v1H84zM87 6h2v1H87zM91 6h3v1H91zM2 7h1v1H2zM12 7h1v1H12zM29 7h1v1H29zM34 7h1v1H34zM46 7h1v1H46zM52 7h1v1H52zM59 7h2v1H59zM81 7h1v1H81zM92 7h2v1H92zM17 9h1v1H17zM22 9h1v1H22zM58 9h1v1H58zM100 9h2v1H100zM114 9h1v1H114zM123 9h1v1H123zM0 10h1v1H0zM2 10h1v1H2zM5 10h1v1H5zM11 10h1v1H11zM17 10h1v1H17zM19 10h1v1H19zM33 10h3v1H33zM37 10h2v1H37zM41 10h1v1H41zM46 10h1v1H46zM49 10h1v1H49zM52 10h1v1H52zM39 13h1v1H39zM26 15h1v1H26zM38 15h1v1H38zM47 15h1v1H47zM62 15h1v1H62zM139 15h1v1H139zM3 16h1v1H3zM17 16h2v1H17zM22 16h1v1H22zM28 16h1v1H28zM31 16h1v1H31zM34 16h1v1H34zM38 16h1v1H38zM40 16h1v1H40zM45 16h1v1H45zM47 16h1v1H47zM50 16h1v1H50zM55 16h1v1H55zM57 16h2v1H57zM61 16h1v1H61zM155 16h1v1H155zM124 17h1v1H124zM3 18h2v1H3zM11 18h1v1H11zM13 18h1v1H13zM15 18h2v1H15zM21 18h1v1H21zM28 18h1v1H28zM32 18h1v1H32zM34 18h1v1H34zM36 18h1v1H36zM38 18h1v1H38zM40 18h1v1H40zM49 18h2v1H49zM52 18h2v1H52zM92 18h1v1H92zM100 18h1v1H100zM104 18h1v1H104zM110 18h3v1H110zM117 18h3v1H117zM122 18h1v1H122zM125 18h1v1H125zM131 18h1v1H131zM133 18h1v1H133zM140 18h1v1H140zM143 18h1v1H143zM146 18h2v1H146zM149 18h2v1H149zM158 18h1v1H158zM106 20h1v1H106zM99 21h1v1H99zM1 22h1v1H1zM5 22h1v1H5zM20 22h1v1H20zM22 22h1v1H22zM24 22h2v1H24zM31 22h1v1H31zM39 22h3v1H39zM47 22h3v1H47zM54 22h1v1H54zM57 22h1v1H57zM60 22h1v1H60zM69 22h2v1H69zM74 22h2v1H74zM96 22h1v1H96zM101 22h2v1H101zM104 22h1v1H104zM107 22h1v1H107zM110 22h1v1H110zM113 22h1v1H113zM117 22h2v1H117zM120 22h1v1H120zM126 22h1v1H126zM129 22h1v1H129zM131 22h1v1H131zM139 22h2v1H139zM143 22h1v1H143zM147 22h1v1H147zM150 22h1v1H150zM157 22h1v1H157zM159 22h1v1H159zM7 23h1v1H7zM10 23h1v1H10zM22 23h1v1H22zM37 23h1v1H37zM45 23h1v1H45zM49 23h1v1H49zM57 23h1v1H57zM68 23h1v1H68zM78 23h1v1H78zM84 23h1v1H84zM91 23h1v1H91zM93 23h1v1H93zM100 23h1v1H100zM103 23h3v1H103zM108 23h1v1H108zM111 23h1v1H111zM113 23h2v1H113zM116 23h1v1H116zM120 23h1v1H120zM130 23h1v1H130zM147 23h2v1H147zM150 23h2v1H150zM155 23h2v1H155zM0 24h1v1H0zM2 24h1v1H2zM13 24h1v1H13zM22 24h1v1H22zM26 24h1v1H26zM34 24h1v1H34zM37 24h1v1H37zM42 24h3v1H42zM46 24h2v1H46zM52 24h2v1H52zM67 24h1v1H67zM71 24h1v1H71zM87 24h1v1H87zM89 24h1v1H89zM93 24h1v1H93zM96 24h2v1H96zM105 24h1v1H105zM110 24h2v1H110zM116 24h1v1H116zM119 24h1v1H119zM122 24h2v1H122zM126 24h1v1H126zM130 24h2v1H130zM134 24h1v1H134zM136 24h1v1H136zM142 24h1v1H142zM146 24h1v1H146zM150 24h2v1H150zM67 25h1v1H67zM87 25h1v1H87zM0 26h1v1H0zM5 26h1v1H5zM9 26h1v1H9zM12 26h1v1H12zM15 26h1v1H15zM17 26h1v1H17zM19 26h2v1H19zM23 26h3v1H23zM36 26h1v1H36zM41 26h1v1H41zM49 26h1v1H49zM55 26h1v1H55zM63 26h1v1H63zM68 26h1v1H68zM70 26h2v1H70zM84 26h1v1H84zM86 26h2v1H86zM96 26h1v1H96zM99 26h1v1H99zM101 26h1v1H101zM104 26h2v1H104zM119 26h1v1H119zM123 26h1v1H123zM132 26h1v1H132zM138 26h2v1H138zM141 26h1v1H141zM145 26h1v1H145zM147 26h1v1H147zM150 26h1v1H150zM154 26h3v1H154zM1 27h1v1H1zM11 27h1v1H11zM14 27h1v1H14zM19 27h1v1H19zM24 27h1v1H24zM32 27h1v1H32zM48 27h1v1H48zM51 27h1v1H51zM53 27h1v1H53zM56 27h1v1H56zM76 27h1v1H76zM83 27h3v1H83zM87 27h1v1H87zM92 27h1v1H92zM95 27h1v1H95zM98 27h2v1H98zM103 27h1v1H103zM107 27h1v1H107zM110 27h1v1H110zM112 27h1v1H112zM129 27h1v1H129zM139 27h1v1H139zM141 27h1v1H141zM145 27h1v1H145zM147 27h2v1H147zM154 27h1v1H154zM0 28h1v1H0zM3 28h1v1H3zM8 28h1v1H8zM11 28h1v1H11zM23 28h1v1H23zM34 28h2v1H34zM44 28h1v1H44zM51 28h2v1H51zM55 28h1v1H55zM68 28h2v1H68zM72 28h2v1H72zM76 28h1v1H76zM84 28h1v1H84zM89 28h1v1H89zM91 28h1v1H91zM99 28h1v1H99zM101 28h1v1H101zM106 28h1v1H106zM134 28h2v1H134zM141 28h2v1H141zM144 28h2v1H144zM149 28h2v1H149zM0 29h1v1H0zM3 29h1v1H3zM6 29h1v1H6zM16 29h3v1H16zM21 29h1v1H21zM29 29h1v1H29zM33 29h2v1H33zM43 29h2v1H43zM47 29h1v1H47zM50 29h1v1H50zM52 29h1v1H52zM57 29h3v1H57zM65 29h1v1H65zM67 29h1v1H67zM69 29h1v1H69zM71 29h1v1H71zM83 29h4v1H83zM88 29h1v1H88zM92 29h1v1H92zM94 29h1v1H94zM107 29h1v1H107zM116 29h2v1H116zM121 29h1v1H121zM139 29h1v1H139zM143 29h1v1H143zM152 29h1v1H152zM155 29h1v1H155zM159 29h1v1H159zM146 30h1v1H146zM7 32h1v1H7zM79 32h2v1H79zM99 32h1v1H99zM133 32h1v1H133zM146 32h1v1H146zM157 32h1v1H157zM116 33h1v1H116zM55 34h1v1H55zM99 34h1v1H99zM102 34h1v1H102zM108 34h1v1H108zM113 34h1v1H113zM115 34h1v1H115zM120 34h1v1H120zM122 34h1v1H122zM128 34h2v1H128zM139 34h1v1H139zM144 34h1v1H144zM3 36h1v1H3zM11 36h1v1H11zM14 36h1v1H14zM16 36h1v1H16zM19 36h1v1H19zM36 36h1v1H36zM39 36h1v1H39zM42 36h1v1H42zM44 36h1v1H44zM46 36h1v1H46zM53 36h2v1H53zM60 36h4v1H60zM70 36h2v1H70zM92 37h1v1H92zM96 37h1v1H96zM104 37h1v1H104zM108 37h1v1H108zM111 37h1v1H111zM116 37h1v1H116zM118 37h1v1H118zM131 37h1v1H131zM133 37h1v1H133zM145 37h2v1H145zM150 37h2v1H150zM156 37h1v1H156zM0 38h1v1H0zM50 38h1v1H50zM52 38h1v1H52zM78 38h1v1H78zM128 38h1v1H128zM20 39h1v1H20zM22 39h1v1H22zM52 39h1v1H52zM84 39h1v1H84zM87 39h1v1H87zM96 39h1v1H96zM102 39h1v1H102zM105 39h1v1H105zM112 39h1v1H112zM125 39h1v1H125zM130 39h1v1H130zM1 40h1v1H1zM8 40h1v1H8zM10 40h1v1H10zM14 40h1v1H14zM19 40h2v1H19zM26 40h2v1H26zM32 40h5v1H32zM42 40h3v1H42zM46 40h1v1H46zM55 40h1v1H55zM57 40h1v1H57zM64 40h1v1H64zM69 40h1v1H69zM73 40h1v1H73zM76 40h1v1H76zM110 40h1v1H110zM135 40h1v1H135zM146 40h1v1H146zM152 40h1v1H152zM89 41h1v1H89zM97 41h1v1H97zM109 41h1v1H109zM143 41h1v1H143z"/>
<path fill="#3253ab" d="M1 0h1v1H1zM48 0h1v1H48zM60 0h1v1H60zM62 0h1v1H62zM71 0h1v1H71zM79 0h1v1H79zM93 0h1v1H93zM103 0h1v1H103zM113 0h1v1H113zM118 0h3v1H118zM127 0h1v1H127zM141 0h2v1H141zM159 0h1v1H159zM9 2h1v1H9zM11 2h1v1H11zM14 2h1v1H14zM18 2h1v1H18zM30 2h1v1H30zM33 2h1v1H33zM38 2h2v1H38zM42 2h1v1H42zM45 2h1v1H45zM47 2h1v1H47zM58 2h1v1H58zM64 2h2v1H64zM67 2h1v1H67zM78 2h1v1H78zM86 3h2v1H86zM89 3h1v1H89zM96 3h1v1H96zM100 3h1v1H100zM7 4h1v1H7zM10 4h1v1H10zM13 4h1v1H13zM20 4h1v1H20zM25 4h1v1H25zM27 4h1v1H27zM32 4h1v1H32zM37 4h1v1H37zM41 4h1v1H41zM49 4h1v1H49zM91 4h1v1H91zM91 5h1v1H91zM6 6h1v1H6zM81 6h1v1H81zM83 6h1v1H83zM10 7h1v1H10zM61 7h1v1H61zM82 7h1v1H82zM1 9h1v1H1zM15 9h1v1H15zM31 9h2v1H31zM35 9h1v1H35zM39 9h1v1H39zM44 9h1v1H44zM46 9h1v1H46zM92 9h1v1H92zM99 9h1v1H99zM109 9h1v1H109zM111 9h1v1H111zM116 9h1v1H116zM127 9h1v1H127zM137 9h1v1H137zM141 9h1v1H141zM144 9h1v1H144zM150 9h1v1H150zM1 10h1v1H1zM9 10h1v1H9zM14 10h1v1H14zM23 10h2v1H23zM28 10h1v1H28zM30 10h1v1H30zM42 10h2v1H42zM48 10h1v1H48zM107 10h1v1H107zM113 10h1v1H113zM122 10h2v1H122zM155 10h1v1H155zM55 13h1v1H55zM112 13h1v1H112zM45 15h1v1H45zM67 15h1v1H67zM73 15h1v1H73zM145 15h1v1H145zM149 15h1v1H149zM2 16h1v1H2zM7 16h1v1H7zM12 16h1v1H12zM16 16h1v1H16zM33 16h1v1H33zM36 16h1v1H36zM39 16h1v1H39zM42 16h1v1H42zM51 16h1v1H51zM95 16h1v1H95zM108 16h1v1H108zM140 16h1v1H140zM83 17h1v1H83zM117 17h1v1H117zM12 18h1v1H12zM22 18h1v1H22zM33 18h1v1H33zM35 18h1v1H35zM39 18h1v1H39zM41 18h1v1H41zM46 18h2v1H46zM62 18h1v1H62zM97 18h2v1H97zM105 18h1v1H105zM113 18h1v1H113zM120 18h1v1H120zM127 18h2v1H127zM132 18h1v1H132zM137 18h2v1H137zM142 18h1v1H142zM8 19h1v1H8zM43 19h1v1H43zM56 19h1v1H56zM73 19h1v1H73zM110 20h1v1H110zM0 22h1v1H0zM3 22h2v1H3zM28 22h1v1H28zM33 22h1v1H33zM36 22h1v1H36zM38 22h1v1H38zM46 22h1v1H46zM55 22h1v1H55zM59 22h1v1H59zM67 22h2v1H67zM73 22h1v1H73zM77 22h1v1H77zM109 22h1v1H109zM112 22h1v1H112zM116 22h1v1H116zM121 22h2v1H121zM135 22h1v1H135zM137 22h1v1H137zM144 22h1v1H144zM151 22h1v1H151zM153 22h1v1H153zM158 22h1v1H158zM21 23h1v1H21zM58 23h1v1H58zM73 23h1v1H73zM89 23h1v1H89zM92 23h1v1H92zM94 23h2v1H94zM99 23h1v1H99zM107 23h1v1H107zM112 23h1v1H112zM117 23h2v1H117zM122 23h1v1H122zM131 23h2v1H131zM134 23h1v1H134zM136 23h1v1H136zM138 23h1v1H138zM142 23h1v1H142zM145 23h1v1H145zM153 23h1v1H153zM64 24h1v1H64zM92 24h1v1H92zM94 24h2v1H94zM98 24h1v1H98zM100 24h1v1H100zM103 24h2v1H103zM113 24h1v1H113zM121 24h1v1H121zM125 24h1v1H125zM129 24h1v1H129zM137 24h2v1H137zM141 24h1v1H141zM159 24h1v1H159zM11 25h1v1H11zM78 25h1v1H78zM130 25h1v1H130zM6 26h1v1H6zM28 26h2v1H28zM54 26h1v1H54zM56 26h1v1H56zM65 26h3v1H65zM76 26h1v1H76zM106 26h1v1H106zM109 26h1v1H109zM115 26h1v1H115zM118 26h1v1H118zM121 26h1v1H121zM124 26h1v1H124zM157 26h1v1H157zM23 27h1v1H23zM42 27h1v1H42zM88 27h1v1H88zM93 27h1v1H93zM114 27h1v1H114zM118 27h1v1H118zM123 27h1v1H123zM132 27h1v1H132zM136 27h1v1H136zM138 27h1v1H138zM140 27h1v1H140zM143 27h2v1H143zM7 28h1v1H7zM14 28h1v1H14zM19 28h1v1H19zM31 28h2v1H31zM38 28h1v1H38zM46 28h1v1H46zM50 28h1v1H50zM71 28h1v1H71zM75 28h1v1H75zM87 28h1v1H87zM114 28h1v1H114zM117 28h1v1H117zM127 28h1v1H127zM137 28h1v1H137zM8 29h1v1H8zM11 29h1v1H11zM19 29h1v1H19zM37 29h1v1H37zM46 29h1v1H46zM48 29h1v1H48zM53 29h2v1H53zM75 29h1v1H75zM90 29h1v1H90zM93 29h1v1H93zM95 29h1v1H95zM99 29h1v1H99zM101 29h1v1H101zM104 29h1v1H104zM106 29h1v1H106zM110 29h1v1H110zM112 29h1v1H112zM128 29h1v1H128zM136 29h3v1H136zM141 29h1v1H141zM147 29h1v1H147zM149 29h3v1H149zM156 29h1v1H156zM158 29h1v1H158zM32 30h1v1H32zM36 30h1v1H36zM103 30h1v1H103zM106 30h1v1H106zM156 30h1v1H156zM36 32h1v1H36zM51 32h1v1H51zM132 32h1v1H132zM156 32h1v1H156zM54 33h1v1H54zM56 33h1v1H56zM80 33h1v1H80zM147 33h1v1H147zM10 34h1v1H10zM96 34h1v1H96zM117 34h2v1H117zM124 34h2v1H124zM133 34h1v1H133zM136 34h1v1H136zM138 34h1v1H138zM140 34h1v1H140zM142 34h1v1H142zM148 34h1v1H148zM154 34h2v1H154zM1 36h1v1H1zM10 36h1v1H10zM17 36h1v1H17zM21 36h1v1H21zM29 36h1v1H29zM33 36h1v1H33zM38 36h1v1H38zM49 36h1v1H49zM52 36h1v1H52zM55 36h2v1H55zM65 36h1v1H65zM69 36h1v1H69zM78 36h1v1H78zM93 36h1v1H93zM97 36h1v1H97zM119 36h1v1H119zM149 36h2v1H149zM82 37h1v1H82zM94 37h1v1H94zM98 37h1v1H98zM106 37h2v1H106zM112 37h1v1H112zM114 37h1v1H114zM123 37h2v1H123zM132 37h1v1H132zM138 37h1v1H138zM140 37h2v1H140zM143 37h1v1H143zM148 37h1v1H148zM3 38h1v1H3zM8 38h2v1H8zM76 38h1v1H76zM89 38h1v1H89zM121 38h1v1H121zM134 38h1v1H134zM1 39h1v1H1zM6 39h1v1H6zM18 39h1v1H18zM24 39h1v1H24zM28 39h1v1H28zM42 39h1v1H42zM51 39h1v1H51zM79 39h1v1H79zM133 39h1v1H133zM13 40h1v1H13zM24 40h1v1H24zM28 40h1v1H28zM56 40h1v1H56zM63 40h1v1H63zM68 40h1v1H68zM147 40h1v1H147zM103 41h1v1H103zM108 41h1v1H108zM118 41h1v1H118zM124 41h1v1H124zM128 41h1v1H128zM135 41h1v1H135zM140 41h1v1H140zM147 41h1v1H147zM150 41h1v1H150zM158 41h1v1H158z"/>
<path fill="#345daf" d="M16 0h1v1H16zM35 0h1v1H35zM38 0h1v1H38zM45 0h1v1H45zM64 0h1v1H64zM69 0h1v1H69zM74 0h1v1H74zM77 0h1v1H77zM96 0h1v1H96zM98 0h1v1H98zM104 0h1v1H104zM107 0h2v1H107zM112 0h1v1H112zM115 0h1v1H115zM121 0h1v1H121zM123 0h1v1H123zM125 0h1v1H125zM131 0h2v1H131zM135 0h1v1H135zM146 0h1v1H146zM153 0h1v1H153zM2 2h1v1H2zM21 2h1v1H21zM23 2h1v1H23zM29 2h1v1H29zM34 2h1v1H34zM44 2h1v1H44zM49 2h1v1H49zM52 2h1v1H52zM59 2h1v1H59zM6 4h1v1H6zM24 4h1v1H24zM26 4h1v1H26zM44 4h2v1H44zM56 4h1v1H56zM76 4h1v1H76zM88 4h1v1H88zM93 4h1v1H93zM100 4h1v1H100zM95 5h1v1H95zM17 6h1v1H17zM57 6h1v1H57zM94 6h1v1H94zM14 7h1v1H14zM33 7h1v1H33zM6 9h2v1H6zM14 9h1v1H14zM20 9h1v1H20zM28 9h1v1H28zM36 9h1v1H36zM40 9h1v1H40zM47 9h3v1H47zM51 9h2v1H51zM56 9h1v1H56zM61 9h1v1H61zM66 9h1v1H66zM69 9h1v1H69zM98 9h1v1H98zM103 9h1v1H103zM110 9h1v1H110zM113 9h1v1H113zM120 9h1v1H120zM126 9h1v1H126zM130 9h1v1H130zM132 9h1v1H132zM135 9h1v1H135zM143 9h1v1H143zM147 9h1v1H147zM151 9h1v1H151zM159 9h1v1H159zM15 10h1v1H15zM21 10h1v1H21zM29 10h1v1H29zM40 10h1v1H40zM112 10h1v1H112zM116 10h1v1H116zM128 10h1v1H128zM144 10h1v1H144zM148 10h1v1H148zM159 10h1v1H159zM0 11h1v1H0zM10 11h1v1H10zM19 11h1v1H19zM25 11h1v1H25zM28 11h2v1H28zM34 11h1v1H34zM36 11h1v1H36zM41 11h1v1H41zM52 11h1v1H52zM120 11h1v1H120zM70 15h1v1H70zM93 15h1v1H93zM21 16h1v1H21zM41 16h1v1H41zM54 16h1v1H54zM104 16h1v1H104zM113 16h1v1H113zM119 16h1v1H119zM124 16h1v1H124zM126 16h2v1H126zM131 16h1v1H131zM141 16h1v1H141zM143 16h1v1H143zM149 16h1v1H149zM151 16h2v1H151zM157 16h2v1H157zM87 17h1v1H87zM19 18h1v1H19zM42 18h1v1H42zM51 18h1v1H51zM59 18h1v1H59zM66 18h1v1H66zM126 18h1v1H126zM19 19h1v1H19zM37 19h1v1H37zM39 19h1v1H39zM79 19h1v1H79zM104 19h1v1H104zM135 19h1v1H135zM152 19h1v1H152zM87 20h1v1H87zM91 20h1v1H91zM113 20h1v1H113zM117 20h2v1H117zM124 20h1v1H124zM131 20h1v1H131zM139 20h1v1H139zM149 20h1v1H149zM153 20h1v1H153zM124 21h1v1H124zM18 22h1v1H18zM23 22h1v1H23zM43 22h1v1H43zM62 22h1v1H62zM72 22h1v1H72zM76 22h1v1H76zM78 22h1v1H78zM103 22h1v1H103zM114 22h2v1H114zM125 22h1v1H125zM127 22h1v1H127zM36 23h1v1H36zM52 23h1v1H52zM77 23h1v1H77zM135 23h1v1H135zM99 24h1v1H99zM109 24h1v1H109zM114 24h2v1H114zM144 24h1v1H144zM153 24h2v1H153zM157 24h1v1H157zM20 25h1v1H20zM76 25h1v1H76zM14 26h1v1H14zM46 26h1v1H46zM52 26h1v1H52zM74 26h1v1H74zM97 26h1v1H97zM103 26h1v1H103zM97 27h1v1H97zM119 27h1v1H119zM159 27h1v1H159zM9 28h1v1H9zM26 28h1v1H26zM4 29h2v1H4zM10 29h1v1H10zM26 29h1v1H26zM76 29h1v1H76zM89 29h1v1H89zM96 29h1v1H96zM102 29h1v1H102zM118 29h1v1H118zM120 29h1v1H120zM124 29h3v1H124zM146 29h1v1H146zM18 30h1v1H18zM22 30h1v1H22zM40 30h2v1H40zM47 30h1v1H47zM49 30h1v1H49zM54 30h1v1H54zM71 30h1v1H71zM98 30h1v1H98zM101 30h2v1H101zM110 30h1v1H110zM115 30h1v1H115zM118 30h1v1H118zM130 30h3v1H130zM148 30h1v1H148zM155 30h1v1H155zM110 31h1v1H110zM114 31h1v1H114zM3 33h1v1H3zM96 33h1v1H96zM98 33h1v1H98zM107 33h1v1H107zM120 33h2v1H120zM146 33h1v1H146zM154 33h1v1H154zM3 34h2v1H3zM16 34h1v1H16zM18 34h1v1H18zM20 34h2v1H20zM23 34h1v1H23zM26 34h2v1H26zM29 34h1v1H29zM39 34h1v1H39zM58 34h2v1H58zM61 34h1v1H61zM64 34h1v1H64zM67 34h2v1H67zM72 34h1v1H72zM95 34h1v1H95zM104 34h1v1H104zM111 34h1v1H111zM114 34h1v1H114zM123 34h1v1H123zM132 34h1v1H132zM135 34h1v1H135zM137 34h1v1H137zM141 34h1v1H141zM146 34h1v1H146zM2 36h1v1H2zM9 36h1v1H9zM26 36h1v1H26zM35 36h1v1H35zM83 36h2v1H83zM90 36h1v1H90zM96 36h1v1H96zM122 36h1v1H122zM124 36h1v1H124zM128 36h1v1H128zM136 36h2v1H136zM144 36h1v1H144zM87 37h1v1H87zM113 37h1v1H113zM157 37h1v1H157zM85 38h1v1H85zM104 38h1v1H104zM112 38h1v1H112zM114 38h1v1H114zM116 38h2v1H116zM132 38h1v1H132zM138 38h1v1H138zM142 38h1v1H142zM148 38h1v1H148zM157 38h1v1H157zM159 38h1v1H159zM2 39h1v1H2zM4 39h1v1H4zM8 39h1v1H8zM10 39h2v1H10zM29 39h1v1H29zM31 39h1v1H31zM40 39h1v1H40zM43 39h1v1H43zM46 39h1v1H46zM49 39h1v1H49zM76 39h1v1H76zM127 39h1v1H127zM30 40h1v1H30zM47 40h1v1H47zM50 40h1v1H50zM54 40h1v1H54zM59 40h1v1H59zM60 41h1v1H60zM80 41h2v1H80zM83 41h1v1H83zM88 41h1v1H88zM91 41h1v1H91zM94 41h1v1H94zM98 41h1v1H98zM105 41h2v1H105zM113 41h1v1H113zM116 41h1v1H116zM119 41h1v1H119zM129 41h2v1H129zM132 41h1v1H132zM137 41h1v1H137zM141 41h1v1H141zM146 41h1v1H146zM157 41h1v1H157zM46 42h1v1H46z"/>
<path fill="#3767b3" d="M0 0h1v1H0zM7 0h1v1H7zM14 0h1v1H14zM23 0h1v1H23zM27 0h4v1H27zM37 0h1v1H37zM39 0h2v1H39zM42 0h1v1H42zM44 0h1v1H44zM53 0h1v1H53zM65 0h2v1H65zM72 0h2v1H72zM82 0h2v1H82zM90 0h1v1H90zM99 0h1v1H99zM102 0h1v1H102zM109 0h2v1H109zM129 0h1v1H129zM133 0h2v1H133zM138 0h1v1H138zM143 0h1v1H143zM155 0h1v1H155zM6 3h1v1H6zM12 3h1v1H12zM20 3h1v1H20zM97 3h1v1H97zM36 4h1v1H36zM83 4h3v1H83zM98 4h2v1H98zM27 6h1v1H27zM89 6h1v1H89zM18 7h1v1H18zM53 7h1v1H53zM84 7h1v1H84zM4 9h2v1H4zM33 9h1v1H33zM43 9h1v1H43zM64 9h1v1H64zM93 9h1v1H93zM97 9h1v1H97zM115 9h1v1H115zM121 9h1v1H121zM128 9h2v1H128zM139 9h2v1H139zM146 9h1v1H146zM148 9h1v1H148zM153 9h1v1H153zM157 9h1v1H157zM3 10h2v1H3zM54 10h1v1H54zM109 10h1v1H109zM129 10h1v1H129zM132 10h1v1H132zM137 10h2v1H137zM143 10h1v1H143zM145 10h2v1H145zM152 10h1v1H152zM154 10h1v1H154zM156 10h1v1H156zM2 11h1v1H2zM6 11h2v1H6zM12 11h1v1H12zM16 11h1v1H16zM18 11h1v1H18zM21 11h1v1H21zM27 11h1v1H27zM32 11h2v1H32zM39 11h2v1H39zM42 11h2v1H42zM49 11h1v1H49zM131 11h1v1H131zM52 15h1v1H52zM63 15h1v1H63zM88 15h1v1H88zM124 15h1v1H124zM146 15h1v1H146zM14 16h1v1H14zM23 16h1v1H23zM27 16h1v1H27zM82 16h1v1H82zM92 16h1v1H92zM96 16h3v1H96zM112 16h1v1H112zM121 16h2v1H121zM128 16h1v1H128zM137 16h2v1H137zM142 16h1v1H142zM145 16h3v1H145zM153 16h1v1H153zM103 17h1v1H103zM44 18h1v1H44zM48 18h1v1H48zM90 18h1v1H90zM96 18h1v1H96zM155 18h1v1H155zM0 19h1v1H0zM12 19h1v1H12zM18 19h1v1H18zM20 19h1v1H20zM26 19h1v1H26zM36 19h1v1H36zM41 19h1v1H41zM52 19h1v1H52zM58 19h1v1H58zM72 19h1v1H72zM90 19h2v1H90zM105 19h1v1H105zM110 19h1v1H110zM120 19h2v1H120zM123 19h1v1H123zM128 19h1v1H128zM131 19h1v1H131zM142 19h2v1H142zM153 19h1v1H153zM88 20h1v1H88zM98 20h2v1H98zM102 20h1v1H102zM105 20h1v1H105zM108 20h2v1H108zM116 20h1v1H116zM127 20h1v1H127zM132 20h1v1H132zM138 20h1v1H138zM142 20h1v1H142zM146 20h1v1H146zM158 20h2v1H158zM12 22h1v1H12zM29 22h1v1H29zM34 22h1v1H34zM45 22h1v1H45zM65 22h1v1H65zM124 22h1v1H124zM128 22h1v1H128zM141 22h1v1H141zM0 23h1v1H0zM9 23h1v1H9zM79 23h1v1H79zM87 23h1v1H87zM102 23h1v1H102zM127 23h1v1H127zM50 24h1v1H50zM63 24h1v1H63zM83 24h1v1H83zM90 24h1v1H90zM101 24h1v1H101zM25 25h1v1H25zM22 26h1v1H22zM26 26h1v1H26zM72 26h1v1H72zM88 26h1v1H88zM127 26h1v1H127zM28 27h1v1H28zM4 28h1v1H4zM39 28h1v1H39zM88 28h1v1H88zM92 28h1v1H92zM151 28h1v1H151zM55 29h1v1H55zM82 29h1v1H82zM105 29h1v1H105zM132 29h1v1H132zM2 30h2v1H2zM10 30h1v1H10zM14 30h2v1H14zM19 30h1v1H19zM27 30h2v1H27zM30 30h1v1H30zM33 30h1v1H33zM39 30h1v1H39zM46 30h1v1H46zM50 30h1v1H50zM52 30h1v1H52zM56 30h2v1H56zM59 30h1v1H59zM61 30h3v1H61zM88 30h1v1H88zM90 30h1v1H90zM104 30h2v1H104zM108 30h1v1H108zM112 30h1v1H112zM117 30h1v1H117zM124 30h1v1H124zM129 30h1v1H129zM135 30h1v1H135zM138 30h3v1H138zM143 30h1v1H143zM151 30h2v1H151zM154 30h1v1H154zM157 30h2v1H157zM2 31h1v1H2zM6 31h1v1H6zM41 31h1v1H41zM86 31h1v1H86zM118 31h1v1H118zM126 31h1v1H126zM23 32h1v1H23zM52 32h1v1H52zM112 32h1v1H112zM14 33h1v1H14zM16 33h1v1H16zM27 33h1v1H27zM45 33h2v1H45zM50 33h2v1H50zM53 33h1v1H53zM61 33h1v1H61zM63 33h1v1H63zM89 33h1v1H89zM95 33h1v1H95zM101 33h1v1H101zM105 33h1v1H105zM108 33h1v1H108zM113 33h1v1H113zM123 33h1v1H123zM136 33h1v1H136zM138 33h4v1H138zM151 33h1v1H151zM153 33h1v1H153zM156 33h1v1H156zM1 34h2v1H1zM6 34h1v1H6zM8 34h1v1H8zM14 34h1v1H14zM17 34h1v1H17zM25 34h1v1H25zM38 34h1v1H38zM40 34h3v1H40zM47 34h1v1H47zM56 34h1v1H56zM60 34h1v1H60zM98 34h1v1H98zM101 34h1v1H101zM112 34h1v1H112zM126 34h1v1H126zM11 35h2v1H11zM14 35h1v1H14zM35 35h1v1H35zM34 36h1v1H34zM82 36h1v1H82zM86 36h1v1H86zM91 36h1v1H91zM101 36h1v1H101zM103 36h1v1H103zM105 36h1v1H105zM107 36h2v1H107zM111 36h2v1H111zM114 36h2v1H114zM117 36h1v1H117zM125 36h1v1H125zM129 36h1v1H129zM131 36h3v1H131zM145 36h1v1H145zM147 36h1v1H147zM158 36h1v1H158zM136 37h1v1H136zM49 38h1v1H49zM109 38h1v1H109zM118 38h1v1H118zM122 38h1v1H122zM126 38h1v1H126zM149 38h1v1H149zM156 38h1v1H156zM5 39h1v1H5zM12 39h2v1H12zM16 39h1v1H16zM19 39h1v1H19zM23 39h1v1H23zM35 39h1v1H35zM41 39h1v1H41zM47 39h2v1H47zM6 40h1v1H6zM9 40h1v1H9zM23 40h1v1H23zM132 40h1v1H132zM137 40h1v1H137zM153 40h1v1H153zM16 41h1v1H16zM51 41h1v1H51zM78 41h1v1H78zM85 41h1v1H85zM95 41h1v1H95zM102 41h1v1H102zM104 41h1v1H104zM110 41h2v1H110zM123 41h1v1H123zM125 41h1v1H125zM127 41h1v1H127zM131 41h1v1H131zM133 41h2v1H133zM148 41h1v1H148zM152 41h1v1H152zM156 41h1v1H156zM0 42h1v1H0zM3 42h1v1H3zM5 42h1v1H5zM7 42h1v1H7zM16 42h1v1H16zM22 42h1v1H22zM35 42h1v1H35zM38 42h1v1H38zM60 42h2v1H60zM65 42h1v1H65zM70 42h1v1H70zM73 42h2v1H73zM81 42h1v1H81zM83 42h1v1H83zM131 42h1v1H131z"/>
<path fill="#3770b8" d="M3 0h2v1H3zM20 0h1v1H20zM24 0h1v1H24zM33 0h2v1H33zM41 0h1v1H41zM55 0h1v1H55zM58 0h1v1H58zM63 0h1v1H63zM70 0h1v1H70zM75 0h1v1H75zM89 0h1v1H89zM111 0h1v1H111zM122 0h1v1H122zM137 0h1v1H137zM139 0h1v1H139zM144 0h1v1H144zM148 0h1v1H148zM18 1h1v1H18zM50 1h1v1H50zM17 2h1v1H17zM27 2h1v1H27zM53 2h1v1H53zM9 3h1v1H9zM13 3h2v1H13zM34 3h1v1H34zM45 3h1v1H45zM47 3h3v1H47zM52 3h1v1H52zM59 3h1v1H59zM8 4h1v1H8zM52 4h1v1H52zM90 4h1v1H90zM85 5h1v1H85zM0 6h1v1H0zM55 6h2v1H55zM65 6h1v1H65zM78 6h1v1H78zM89 7h2v1H89zM116 8h1v1H116zM25 9h1v1H25zM62 9h1v1H62zM65 9h1v1H65zM133 9h1v1H133zM142 9h1v1H142zM149 9h1v1H149zM126 10h1v1H126zM134 10h1v1H134zM139 10h1v1H139zM142 10h1v1H142zM149 10h1v1H149zM3 11h2v1H3zM14 11h1v1H14zM17 11h1v1H17zM53 11h1v1H53zM117 11h1v1H117zM151 11h1v1H151zM138 12h1v1H138zM14 13h1v1H14zM143 13h2v1H143zM28 15h1v1H28zM4 16h1v1H4zM10 16h1v1H10zM15 16h1v1H15zM32 16h1v1H32zM56 16h1v1H56zM81 16h1v1H81zM90 16h1v1H90zM93 16h1v1H93zM105 16h3v1H105zM115 16h1v1H115zM117 16h2v1H117zM123 16h1v1H123zM134 16h1v1H134zM136 16h1v1H136zM20 17h1v1H20zM2 18h1v1H2zM7 18h1v1H7zM10 18h1v1H10zM24 18h1v1H24zM81 18h2v1H81zM89 18h1v1H89zM91 18h1v1H91zM3 19h1v1H3zM9 19h1v1H9zM15 19h2v1H15zM24 19h2v1H24zM31 19h1v1H31zM35 19h1v1H35zM38 19h1v1H38zM42 19h1v1H42zM54 19h1v1H54zM57 19h1v1H57zM60 19h4v1H60zM66 19h1v1H66zM68 19h1v1H68zM71 19h1v1H71zM76 19h1v1H76zM78 19h1v1H78zM80 19h1v1H80zM88 19h2v1H88zM95 19h1v1H95zM97 19h1v1H97zM100 19h1v1H100zM102 19h1v1H102zM108 19h1v1H108zM115 19h2v1H115zM127 19h1v1H127zM145 19h2v1H145zM150 19h1v1H150zM156 19h1v1H156zM92 20h2v1H92zM96 20h2v1H96zM103 20h1v1H103zM111 20h1v1H111zM114 20h1v1H114zM119 20h1v1H119zM129 20h1v1H129zM135 20h1v1H135zM141 20h1v1H141zM147 20h2v1H147zM152 20h1v1H152zM157 20h1v1H157zM83 21h1v1H83zM13 22h1v1H13zM21 22h1v1H21zM30 22h1v1H30zM88 22h2v1H88zM95 22h1v1H95zM105 22h1v1H105zM108 22h1v1H108zM119 22h1v1H119zM123 22h1v1H123zM6 23h1v1H6zM41 23h1v1H41zM98 23h1v1H98zM139 23h1v1H139zM49 24h1v1H49zM152 24h1v1H152zM40 26h1v1H40zM89 26h1v1H89zM82 27h1v1H82zM158 27h1v1H158zM22 28h1v1H22zM40 28h1v1H40zM67 28h1v1H67zM77 28h1v1H77zM82 28h1v1H82zM112 28h2v1H112zM152 28h1v1H152zM15 29h1v1H15zM27 29h1v1H27zM0 30h1v1H0zM12 30h1v1H12zM16 30h1v1H16zM34 30h1v1H34zM37 30h1v1H37zM42 30h1v1H42zM45 30h1v1H45zM58 30h1v1H58zM68 30h1v1H68zM91 30h1v1H91zM109 30h1v1H109zM111 30h1v1H111zM113 30h1v1H113zM119 30h1v1H119zM133 30h1v1H133zM136 30h2v1H136zM145 30h1v1H145zM153 30h1v1H153zM159 30h1v1H159zM7 31h1v1H7zM18 31h1v1H18zM29 31h1v1H29zM31 31h1v1H31zM42 31h1v1H42zM47 31h1v1H47zM64 31h2v1H64zM82 31h1v1H82zM95 31h1v1H95zM98 31h1v1H98zM103 31h1v1H103zM106 31h1v1H106zM130 31h1v1H130zM133 31h1v1H133zM138 31h1v1H138zM149 31h1v1H149zM158 31h1v1H158zM66 32h1v1H66zM72 32h1v1H72zM126 32h1v1H126zM151 32h1v1H151zM0 33h1v1H0zM2 33h1v1H2zM8 33h1v1H8zM11 33h1v1H11zM21 33h1v1H21zM25 33h2v1H25zM31 33h1v1H31zM38 33h1v1H38zM44 33h1v1H44zM49 33h1v1H49zM52 33h1v1H52zM62 33h1v1H62zM64 33h2v1H64zM69 33h1v1H69zM73 33h1v1H73zM84 33h1v1H84zM86 33h1v1H86zM111 33h1v1H111zM117 33h1v1H117zM129 33h1v1H129zM131 33h1v1H131zM137 33h1v1H137zM142 33h1v1H142zM155 33h1v1H155zM15 34h1v1H15zM19 34h1v1H19zM24 34h1v1H24zM37 34h1v1H37zM45 34h1v1H45zM50 34h1v1H50zM63 34h1v1H63zM66 34h1v1H66zM69 34h1v1H69zM100 34h1v1H100zM106 34h1v1H106zM152 34h1v1H152zM3 35h1v1H3zM7 35h1v1H7zM9 35h2v1H9zM13 35h1v1H13zM15 35h1v1H15zM18 35h1v1H18zM4 36h1v1H4zM13 36h1v1H13zM18 36h1v1H18zM100 36h1v1H100zM104 36h1v1H104zM106 36h1v1H106zM109 36h1v1H109zM121 36h1v1H121zM130 36h1v1H130zM134 36h1v1H134zM138 36h3v1H138zM151 36h1v1H151zM155 36h1v1H155zM99 37h1v1H99zM105 37h1v1H105zM130 37h1v1H130zM86 38h2v1H86zM92 38h1v1H92zM94 38h1v1H94zM96 38h1v1H96zM107 38h1v1H107zM110 38h1v1H110zM124 38h1v1H124zM127 38h1v1H127zM136 38h2v1H136zM140 38h2v1H140zM146 38h1v1H146zM150 38h1v1H150zM152 38h1v1H152zM33 39h1v1H33zM36 39h4v1H36zM44 39h1v1H44zM122 39h1v1H122zM152 39h1v1H152zM16 40h1v1H16zM51 40h1v1H51zM9 41h1v1H9zM18 41h1v1H18zM22 41h2v1H22zM32 41h2v1H32zM36 41h1v1H36zM44 41h2v1H44zM65 41h1v1H65zM71 41h1v1H71zM74 41h1v1H74zM82 41h1v1H82zM100 41h1v1H100zM149 41h1v1H149zM151 41h1v1H151zM6 42h1v1H6zM8 42h1v1H8zM11 42h1v1H11zM14 42h1v1H14zM24 42h4v1H24zM30 42h1v1H30zM34 42h1v1H34zM36 42h1v1H36zM43 42h1v1H43zM45 42h1v1H45zM47 42h2v1H47zM50 42h1v1H50zM52 42h1v1H52zM54 42h2v1H54zM67 42h1v1H67zM84 42h1v1H84zM87 42h1v1H87zM94 42h1v1H94zM103 42h1v1H103zM115 42h1v1H115zM117 42h1v1H117zM125 42h1v1H125zM157 42h1v1H157z"/>
<path fill="#3779bd" d="M8 0h1v1H8zM19 0h1v1H19zM46 0h1v1H46zM78 0h1v1H78zM33 1h1v1H33zM44 1h1v1H44zM46 1h1v1H46zM52 1h1v1H52zM60 1h1v1H60zM153 1h2v1H153zM8 2h1v1H8zM10 2h1v1H10zM40 2h1v1H40zM1 3h1v1H1zM17 3h1v1H17zM25 3h1v1H25zM29 3h2v1H29zM32 3h1v1H32zM36 3h3v1H36zM42 3h2v1H42zM55 3h1v1H55zM81 3h1v1H81zM5 4h1v1H5zM51 4h1v1H51zM79 4h1v1H79zM81 4h1v1H81zM87 4h1v1H87zM92 4h1v1H92zM95 4h1v1H95zM103 4h1v1H103zM3 5h1v1H3zM11 5h1v1H11zM14 5h1v1H14zM19 5h1v1H19zM29 5h1v1H29zM33 5h1v1H33zM51 5h1v1H51zM6 7h1v1H6zM56 7h1v1H56zM83 7h1v1H83zM51 8h1v1H51zM123 8h1v1H123zM16 9h1v1H16zM27 9h1v1H27zM124 9h1v1H124zM145 9h1v1H145zM158 9h1v1H158zM39 10h1v1H39zM45 10h1v1H45zM110 10h1v1H110zM157 10h1v1H157zM15 11h1v1H15zM26 11h1v1H26zM37 11h1v1H37zM45 11h1v1H45zM140 12h1v1H140zM34 13h1v1H34zM125 14h1v1H125zM20 16h1v1H20zM43 16h1v1H43zM52 16h1v1H52zM63 16h1v1H63zM132 16h1v1H132zM145 17h1v1H145zM26 18h1v1H26zM80 18h1v1H80zM109 18h1v1H109zM129 18h1v1H129zM2 19h1v1H2zM17 19h1v1H17zM23 19h1v1H23zM30 19h1v1H30zM40 19h1v1H40zM44 19h1v1H44zM50 19h2v1H50zM55 19h1v1H55zM64 19h1v1H64zM67 19h1v1H67zM70 19h1v1H70zM74 19h2v1H74zM86 19h2v1H86zM101 19h1v1H101zM106 19h1v1H106zM136 19h1v1H136zM151 19h1v1H151zM154 19h2v1H154zM13 20h1v1H13zM20 20h1v1H20zM30 20h2v1H30zM86 20h1v1H86zM104 20h1v1H104zM107 20h1v1H107zM121 20h1v1H121zM134 20h1v1H134zM140 20h1v1H140zM151 20h1v1H151zM17 22h1v1H17zM27 22h1v1H27zM84 22h2v1H84zM90 22h1v1H90zM47 23h1v1H47zM74 23h1v1H74zM110 23h1v1H110zM154 23h1v1H154zM158 23h1v1H158zM33 24h1v1H33zM38 24h1v1H38zM73 24h1v1H73zM84 24h1v1H84zM106 24h1v1H106zM127 24h1v1H127zM58 25h1v1H58zM129 26h1v1H129zM102 27h1v1H102zM142 27h1v1H142zM24 28h1v1H24zM58 28h1v1H58zM65 28h1v1H65zM93 28h1v1H93zM131 28h1v1H131zM136 28h1v1H136zM68 29h1v1H68zM122 29h1v1H122zM25 30h1v1H25zM67 30h1v1H67zM81 30h1v1H81zM99 30h1v1H99zM114 30h1v1H114zM125 30h1v1H125zM142 30h1v1H142zM147 30h1v1H147zM11 31h1v1H11zM25 31h1v1H25zM28 31h1v1H28zM30 31h1v1H30zM38 31h1v1H38zM40 31h1v1H40zM46 31h1v1H46zM48 31h1v1H48zM52 31h1v1H52zM61 31h1v1H61zM68 31h2v1H68zM73 31h1v1H73zM83 31h2v1H83zM87 31h2v1H87zM91 31h1v1H91zM93 31h2v1H93zM96 31h1v1H96zM107 31h2v1H107zM111 31h1v1H111zM115 31h2v1H115zM119 31h2v1H119zM127 31h1v1H127zM137 31h1v1H137zM143 31h1v1H143zM145 31h1v1H145zM151 31h1v1H151zM154 31h1v1H154zM1 32h1v1H1zM12 32h1v1H12zM53 32h1v1H53zM65 32h1v1H65zM5 33h1v1H5zM19 33h2v1H19zM23 33h1v1H23zM39 33h2v1H39zM43 33h1v1H43zM58 33h1v1H58zM71 33h1v1H71zM81 33h2v1H81zM104 33h1v1H104zM132 33h1v1H132zM7 34h1v1H7zM11 34h1v1H11zM70 34h1v1H70zM78 34h1v1H78zM144 35h1v1H144zM30 36h1v1H30zM79 36h1v1H79zM92 36h1v1H92zM142 36h1v1H142zM152 36h1v1H152zM154 36h1v1H154zM156 36h1v1H156zM83 37h1v1H83zM110 37h1v1H110zM158 37h1v1H158zM93 38h1v1H93zM131 38h1v1H131zM144 38h1v1H144zM0 39h1v1H0zM7 39h1v1H7zM15 39h1v1H15zM26 39h1v1H26zM114 39h1v1H114zM144 39h1v1H144zM147 39h1v1H147zM12 40h1v1H12zM25 40h1v1H25zM45 40h1v1H45zM71 40h1v1H71zM130 40h1v1H130zM1 41h1v1H1zM3 41h1v1H3zM11 41h1v1H11zM13 41h1v1H13zM28 41h1v1H28zM35 41h1v1H35zM49 41h1v1H49zM52 41h1v1H52zM54 41h2v1H54zM66 41h1v1H66zM69 41h2v1H69zM76 41h1v1H76zM79 41h1v1H79zM96 41h1v1H96zM101 41h1v1H101zM153 41h1v1H153zM159 41h1v1H159zM10 42h1v1H10zM13 42h1v1H13zM18 42h2v1H18zM29 42h1v1H29zM39 42h2v1H39zM68 42h1v1H68zM72 42h1v1H72zM75 42h1v1H75zM77 42h2v1H77zM80 42h1v1H80zM85 42h1v1H85zM90 42h1v1H90zM92 42h1v1H92zM101 42h1v1H101zM114 42h1v1H114zM118 42h1v1H118zM120 42h1v1H120zM124 42h1v1H124zM127 42h1v1H127zM130 42h1v1H130zM132 42h1v1H132zM135 42h1v1H135zM140 42h1v1H140zM146 42h1v1H146zM153 42h2v1H153zM158 42h1v1H158z"/>
<path fill="#3382c3" d="M50 0h1v1H50zM67 0h1v1H67zM76 0h1v1H76zM86 0h1v1H86zM100 0h1v1H100zM158 0h1v1H158zM1 1h1v1H1zM4 1h1v1H4zM8 1h1v1H8zM10 1h1v1H10zM23 1h1v1H23zM49 1h1v1H49zM51 1h1v1H51zM59 1h1v1H59zM62 1h1v1H62zM66 1h1v1H66zM70 1h1v1H70zM72 1h1v1H72zM66 2h1v1H66zM69 2h1v1H69zM75 2h1v1H75zM11 3h1v1H11zM16 3h1v1H16zM18 3h1v1H18zM24 3h1v1H24zM50 3h2v1H50zM17 4h1v1H17zM54 4h1v1H54zM61 4h1v1H61zM65 4h1v1H65zM102 4h1v1H102zM4 5h2v1H4zM9 5h1v1H9zM20 5h2v1H20zM28 5h1v1H28zM32 5h1v1H32zM47 5h1v1H47zM58 5h1v1H58zM101 5h1v1H101zM112 5h3v1H112zM116 5h1v1H116zM119 5h1v1H119zM124 5h1v1H124zM147 5h1v1H147zM151 5h1v1H151zM30 7h1v1H30zM32 7h1v1H32zM85 7h1v1H85zM113 7h1v1H113zM0 8h1v1H0zM36 8h1v1H36zM46 8h1v1H46zM48 8h1v1H48zM101 8h1v1H101zM105 8h1v1H105zM126 8h1v1H126zM133 8h1v1H133zM144 8h1v1H144zM146 8h2v1H146zM150 8h1v1H150zM155 8h1v1H155zM10 9h1v1H10zM95 9h1v1H95zM25 10h1v1H25zM111 10h1v1H111zM118 10h1v1H118zM120 10h1v1H120zM13 11h1v1H13zM142 11h1v1H142zM81 12h1v1H81zM114 12h1v1H114zM127 12h1v1H127zM151 12h1v1H151zM71 13h1v1H71zM93 13h2v1H93zM97 13h2v1H97zM108 13h1v1H108zM0 14h1v1H0zM34 14h1v1H34zM100 14h1v1H100zM105 14h1v1H105zM107 14h1v1H107zM117 14h1v1H117zM130 14h1v1H130zM21 15h1v1H21zM69 15h1v1H69zM78 15h1v1H78zM84 15h1v1H84zM101 15h1v1H101zM9 16h1v1H9zM13 16h1v1H13zM49 16h1v1H49zM67 16h1v1H67zM72 16h1v1H72zM78 16h2v1H78zM83 16h1v1H83zM129 16h1v1H129zM150 16h1v1H150zM10 17h1v1H10zM157 17h1v1H157zM23 18h1v1H23zM25 18h1v1H25zM29 18h1v1H29zM31 18h1v1H31zM114 18h1v1H114zM145 18h1v1H145zM14 19h1v1H14zM27 19h1v1H27zM48 19h2v1H48zM96 19h1v1H96zM113 19h1v1H113zM126 19h1v1H126zM132 19h1v1H132zM139 19h1v1H139zM2 20h1v1H2zM32 20h2v1H32zM37 20h1v1H37zM71 20h1v1H71zM95 20h1v1H95zM112 20h1v1H112zM123 20h1v1H123zM137 20h1v1H137zM156 20h1v1H156zM80 21h1v1H80zM8 22h1v1H8zM32 22h1v1H32zM64 22h1v1H64zM91 22h1v1H91zM93 22h2v1H93zM106 22h1v1H106zM138 22h1v1H138zM142 22h1v1H142zM8 23h1v1H8zM106 23h1v1H106zM115 23h1v1H115zM88 24h1v1H88zM91 24h1v1H91zM145 24h1v1H145zM70 25h1v1H70zM89 25h1v1H89zM3 26h1v1H3zM30 26h1v1H30zM35 26h1v1H35zM42 26h1v1H42zM64 26h1v1H64zM69 26h1v1H69zM125 26h1v1H125zM136 26h1v1H136zM140 26h1v1H140zM151 26h2v1H151zM3 27h1v1H3zM78 27h1v1H78zM90 27h1v1H90zM74 28h1v1H74zM81 28h1v1H81zM102 28h1v1H102zM2 29h1v1H2zM64 29h1v1H64zM109 29h1v1H109zM135 29h1v1H135zM142 29h1v1H142zM120 30h1v1H120zM0 31h1v1H0zM3 31h1v1H3zM21 31h1v1H21zM24 31h1v1H24zM27 31h1v1H27zM50 31h1v1H50zM54 31h1v1H54zM56 31h1v1H56zM63 31h1v1H63zM71 31h1v1H71zM85 31h1v1H85zM101 31h1v1H101zM105 31h1v1H105zM112 31h1v1H112zM125 31h1v1H125zM135 31h1v1H135zM139 31h1v1H139zM144 31h1v1H144zM68 32h1v1H68zM71 32h1v1H71zM6 33h2v1H6zM10 33h1v1H10zM29 33h1v1H29zM32 33h1v1H32zM35 33h1v1H35zM66 33h1v1H66zM83 33h1v1H83zM106 33h1v1H106zM115 33h1v1H115zM143 33h2v1H143zM30 34h1v1H30zM46 34h1v1H46zM85 34h1v1H85zM17 35h1v1H17zM27 36h1v1H27zM47 36h1v1H47zM68 36h1v1H68zM76 36h1v1H76zM25 37h1v1H25zM81 37h1v1H81zM12 38h1v1H12zM113 38h1v1H113zM145 38h1v1H145zM154 38h1v1H154zM53 39h1v1H53zM103 39h1v1H103zM0 40h1v1H0zM21 40h1v1H21zM65 40h1v1H65zM74 40h1v1H74zM77 40h1v1H77zM2 41h1v1H2zM4 41h1v1H4zM6 41h1v1H6zM10 41h1v1H10zM39 41h1v1H39zM47 41h2v1H47zM64 41h1v1H64zM67 41h1v1H67zM92 41h1v1H92zM112 41h1v1H112zM136 41h1v1H136zM28 42h1v1H28zM33 42h1v1H33zM88 42h1v1H88zM108 42h1v1H108zM112 42h1v1H112zM133 42h2v1H133zM138 42h1v1H138zM141 42h1v1H141zM143 42h1v1H143z"/>
<path fill="#2d8bc9" d="M21 0h1v1H21zM25 0h1v1H25zM36 0h1v1H36zM47 0h1v1H47zM106 0h1v1H106zM149 0h1v1H149zM6 1h1v1H6zM9 1h1v1H9zM11 1h1v1H11zM20 1h1v1H20zM24 1h1v1H24zM55 1h1v1H55zM57 1h1v1H57zM61 1h1v1H61zM101 1h1v1H101zM104 1h1v1H104zM106 1h1v1H106zM123 1h1v1H123zM134 1h1v1H134zM141 1h1v1H141zM149 1h1v1H149zM22 2h1v1H22zM35 2h1v1H35zM51 2h1v1H51zM8 3h1v1H8zM22 3h1v1H22zM31 3h1v1H31zM35 3h1v1H35zM46 3h1v1H46zM54 3h1v1H54zM80 3h1v1H80zM4 4h1v1H4zM15 4h2v1H15zM33 4h1v1H33zM43 4h1v1H43zM146 4h1v1H146zM8 5h1v1H8zM15 5h1v1H15zM22 5h1v1H22zM36 5h1v1H36zM39 5h1v1H39zM44 5h1v1H44zM46 5h1v1H46zM49 5h1v1H49zM59 5h1v1H59zM93 5h1v1H93zM103 5h2v1H103zM121 5h1v1H121zM125 5h1v1H125zM129 5h1v1H129zM133 5h1v1H133zM137 5h2v1H137zM141 5h2v1H141zM153 5h2v1H153zM44 6h1v1H44zM31 7h1v1H31zM96 7h1v1H96zM111 7h1v1H111zM117 7h1v1H117zM129 7h1v1H129zM132 7h1v1H132zM3 8h1v1H3zM9 8h1v1H9zM13 8h1v1H13zM15 8h1v1H15zM21 8h1v1H21zM37 8h1v1H37zM41 8h1v1H41zM59 8h1v1H59zM81 8h2v1H81zM95 8h1v1H95zM97 8h1v1H97zM104 8h1v1H104zM107 8h2v1H107zM124 8h2v1H124zM135 8h1v1H135zM138 8h1v1H138zM140 8h2v1H140zM145 8h1v1H145zM157 8h1v1H157zM24 9h1v1H24zM45 9h1v1H45zM50 9h1v1H50zM53 9h1v1H53zM59 9h1v1H59zM88 9h2v1H88zM105 9h1v1H105zM119 9h1v1H119zM134 9h1v1H134zM138 9h1v1H138zM32 10h1v1H32zM150 10h1v1H150zM23 11h1v1H23zM87 11h1v1H87zM84 12h1v1H84zM116 12h1v1H116zM123 12h1v1H123zM125 12h1v1H125zM128 12h1v1H128zM135 12h1v1H135zM137 12h1v1H137zM139 12h1v1H139zM156 12h2v1H156zM60 13h1v1H60zM63 13h1v1H63zM68 13h1v1H68zM80 13h1v1H80zM83 13h1v1H83zM96 13h1v1H96zM103 13h2v1H103zM6 14h1v1H6zM22 14h2v1H22zM30 14h1v1H30zM51 14h1v1H51zM59 14h2v1H59zM79 14h1v1H79zM91 14h1v1H91zM93 14h1v1H93zM96 14h2v1H96zM99 14h1v1H99zM101 14h2v1H101zM104 14h1v1H104zM106 14h1v1H106zM127 14h1v1H127zM129 14h1v1H129zM142 14h1v1H142zM147 14h3v1H147zM153 14h4v1H153zM159 14h1v1H159zM1 16h1v1H1zM48 16h1v1H48zM59 16h1v1H59zM68 16h1v1H68zM88 16h1v1H88zM66 17h1v1H66zM120 17h1v1H120zM107 18h1v1H107zM53 19h1v1H53zM98 19h1v1H98zM130 19h1v1H130zM141 19h1v1H141zM0 20h2v1H0zM5 20h1v1H5zM9 20h1v1H9zM15 20h1v1H15zM21 20h1v1H21zM35 20h1v1H35zM45 20h1v1H45zM52 20h1v1H52zM61 20h1v1H61zM63 20h1v1H63zM85 20h1v1H85zM6 22h1v1H6zM26 22h1v1H26zM37 22h1v1H37zM53 22h1v1H53zM92 22h1v1H92zM97 22h1v1H97zM100 22h1v1H100zM136 22h1v1H136zM149 22h1v1H149zM155 22h2v1H155zM83 23h1v1H83zM85 23h1v1H85zM137 23h1v1H137zM141 23h1v1H141zM152 23h1v1H152zM86 24h1v1H86zM118 24h1v1H118zM148 24h1v1H148zM99 25h1v1H99zM107 25h1v1H107zM121 25h1v1H121zM43 26h1v1H43zM57 26h1v1H57zM98 26h1v1H98zM142 26h1v1H142zM8 27h1v1H8zM63 27h1v1H63zM109 27h1v1H109zM120 27h1v1H120zM1 28h1v1H1zM86 28h1v1H86zM104 28h1v1H104zM116 28h1v1H116zM147 28h1v1H147zM155 28h1v1H155zM77 29h1v1H77zM81 29h1v1H81zM111 29h1v1H111zM129 29h1v1H129zM23 30h1v1H23zM64 30h1v1H64zM82 30h1v1H82zM10 31h1v1H10zM35 31h1v1H35zM43 31h1v1H43zM55 31h1v1H55zM59 31h1v1H59zM62 31h1v1H62zM67 31h1v1H67zM70 31h1v1H70zM92 31h1v1H92zM97 31h1v1H97zM146 31h1v1H146zM153 31h1v1H153zM156 31h1v1H156zM27 32h1v1H27zM108 32h1v1H108zM22 33h1v1H22zM72 33h1v1H72zM157 33h1v1H157zM0 34h1v1H0zM35 34h1v1H35zM62 34h1v1H62zM83 34h1v1H83zM88 34h1v1H88zM91 34h1v1H91zM94 34h1v1H94zM97 34h1v1H97zM119 34h1v1H119zM121 34h1v1H121zM94 36h1v1H94zM141 36h1v1H141zM146 36h1v1H146zM2 37h1v1H2zM6 37h1v1H6zM22 37h1v1H22zM26 37h1v1H26zM36 37h1v1H36zM42 37h2v1H42zM144 37h1v1H144zM153 37h1v1H153zM2 38h1v1H2zM108 38h1v1H108zM130 38h1v1H130zM133 38h1v1H133zM45 39h1v1H45zM86 39h1v1H86zM150 39h1v1H150zM22 40h1v1H22zM66 40h1v1H66zM96 40h1v1H96zM108 40h1v1H108zM24 41h1v1H24zM37 41h1v1H37zM62 41h2v1H62zM77 41h1v1H77zM99 41h1v1H99zM114 41h1v1H114zM120 41h1v1H120zM20 42h1v1H20zM82 42h1v1H82zM89 42h1v1H89zM128 42h1v1H128zM139 42h1v1H139z"/>
<path fill="#2493ce" d="M2 0h1v1H2zM6 0h1v1H6zM13 0h1v1H13zM80 0h1v1H80zM145 0h1v1H145zM22 1h1v1H22zM31 1h1v1H31zM45 1h1v1H45zM53 1h2v1H53zM88 1h1v1H88zM94 1h1v1H94zM97 1h1v1H97zM114 1h3v1H114zM122 1h1v1H122zM124 1h1v1H124zM144 1h1v1H144zM146 1h1v1H146zM151 1h1v1H151zM0 2h1v1H0zM24 2h1v1H24zM73 2h1v1H73zM109 2h1v1H109zM135 2h1v1H135zM62 3h1v1H62zM75 3h1v1H75zM99 3h1v1H99zM122 3h1v1H122zM158 3h1v1H158zM2 4h2v1H2zM40 4h1v1H40zM60 4h1v1H60zM140 4h1v1H140zM145 4h1v1H145zM6 5h1v1H6zM18 5h1v1H18zM24 5h2v1H24zM38 5h1v1H38zM41 5h1v1H41zM43 5h1v1H43zM55 5h2v1H55zM62 5h1v1H62zM109 5h1v1H109zM128 5h1v1H128zM130 5h1v1H130zM139 5h1v1H139zM144 5h2v1H144zM152 5h1v1H152zM39 7h1v1H39zM102 7h1v1H102zM105 7h1v1H105zM109 7h1v1H109zM130 7h1v1H130zM140 7h1v1H140zM146 7h1v1H146zM154 7h1v1H154zM14 8h1v1H14zM16 8h1v1H16zM27 8h2v1H27zM47 8h1v1H47zM49 8h2v1H49zM52 8h1v1H52zM58 8h1v1H58zM80 8h1v1H80zM85 8h1v1H85zM90 8h1v1H90zM93 8h1v1H93zM96 8h1v1H96zM102 8h1v1H102zM113 8h1v1H113zM159 8h1v1H159zM38 9h1v1H38zM42 9h1v1H42zM55 9h1v1H55zM91 9h1v1H91zM94 9h1v1H94zM108 9h1v1H108zM125 9h1v1H125zM155 9h2v1H155zM12 10h1v1H12zM20 10h1v1H20zM27 10h1v1H27zM127 10h1v1H127zM130 10h1v1H130zM141 10h1v1H141zM31 11h1v1H31zM44 11h1v1H44zM50 11h1v1H50zM3 12h1v1H3zM88 12h1v1H88zM130 12h1v1H130zM132 12h1v1H132zM141 12h1v1H141zM143 12h1v1H143zM147 12h1v1H147zM150 12h1v1H150zM153 12h1v1H153zM158 12h1v1H158zM61 13h1v1H61zM67 13h1v1H67zM78 13h1v1H78zM82 13h1v1H82zM91 13h1v1H91zM7 14h1v1H7zM13 14h1v1H13zM31 14h1v1H31zM40 14h1v1H40zM42 14h3v1H42zM55 14h1v1H55zM66 14h1v1H66zM69 14h2v1H69zM73 14h1v1H73zM82 14h1v1H82zM90 14h1v1H90zM95 14h1v1H95zM118 14h1v1H118zM121 14h1v1H121zM134 14h1v1H134zM145 14h1v1H145zM152 14h1v1H152zM60 16h1v1H60zM70 16h2v1H70zM116 16h1v1H116zM144 16h1v1H144zM60 18h2v1H60zM67 18h1v1H67zM95 18h1v1H95zM121 18h1v1H121zM134 18h1v1H134zM5 19h2v1H5zM34 19h1v1H34zM59 19h1v1H59zM122 19h1v1H122zM140 19h1v1H140zM144 19h1v1H144zM158 19h1v1H158zM3 20h2v1H3zM22 20h1v1H22zM34 20h1v1H34zM51 20h1v1H51zM59 20h1v1H59zM67 20h1v1H67zM125 20h1v1H125zM128 20h1v1H128zM136 20h1v1H136zM154 20h1v1H154zM51 22h2v1H51zM56 22h1v1H56zM66 22h1v1H66zM79 22h1v1H79zM98 22h1v1H98zM154 22h1v1H154zM5 23h1v1H5zM11 23h1v1H11zM97 23h1v1H97zM123 23h1v1H123zM146 23h1v1H146zM54 24h1v1H54zM107 24h1v1H107zM128 24h1v1H128zM133 24h1v1H133zM149 24h1v1H149zM82 25h1v1H82zM82 26h1v1H82zM112 26h2v1H112zM128 26h1v1H128zM121 27h1v1H121zM128 27h1v1H128zM36 28h1v1H36zM56 28h1v1H56zM83 28h1v1H83zM146 28h1v1H146zM22 29h1v1H22zM24 29h1v1H24zM39 29h1v1H39zM60 29h1v1H60zM66 29h1v1H66zM70 29h1v1H70zM73 29h1v1H73zM127 29h1v1H127zM130 29h1v1H130zM140 29h1v1H140zM20 30h1v1H20zM55 30h1v1H55zM60 30h1v1H60zM107 30h1v1H107zM116 30h1v1H116zM12 31h1v1H12zM14 31h1v1H14zM20 31h1v1H20zM33 31h1v1H33zM72 31h1v1H72zM100 31h1v1H100zM131 31h1v1H131zM6 32h1v1H6zM78 32h1v1H78zM37 33h1v1H37zM70 33h1v1H70zM85 33h1v1H85zM90 33h1v1H90zM93 33h1v1H93zM119 33h1v1H119zM134 33h1v1H134zM51 34h1v1H51zM90 34h1v1H90zM105 34h1v1H105zM107 34h1v1H107zM116 34h1v1H116zM130 34h1v1H130zM147 34h1v1H147zM7 36h1v1H7zM24 36h1v1H24zM41 36h1v1H41zM59 36h1v1H59zM77 36h1v1H77zM143 36h1v1H143zM153 36h1v1H153zM12 37h1v1H12zM15 37h1v1H15zM44 37h1v1H44zM49 37h2v1H49zM77 37h1v1H77zM86 37h1v1H86zM89 37h1v1H89zM121 37h1v1H121zM149 37h1v1H149zM5 38h1v1H5zM45 38h1v1H45zM65 38h1v1H65zM81 38h2v1H81zM105 38h1v1H105zM119 38h1v1H119zM151 38h1v1H151zM153 38h1v1H153zM9 39h1v1H9zM17 39h1v1H17zM34 39h1v1H34zM54 39h1v1H54zM136 39h1v1H136zM40 40h1v1H40zM70 40h1v1H70zM75 40h1v1H75zM17 41h1v1H17zM38 41h1v1H38zM121 41h1v1H121zM138 41h1v1H138zM144 41h1v1H144zM154 41h1v1H154zM1 42h1v1H1zM9 42h1v1H9zM49 42h1v1H49zM66 42h1v1H66zM142 42h1v1H142z"/>
<path fill="#199bd2" d="M5 0h1v1H5zM9 0h2v1H9zM15 0h1v1H15zM22 0h1v1H22zM26 0h1v1H26zM49 0h1v1H49zM81 0h1v1H81zM91 0h1v1H91zM94 0h1v1H94zM105 0h1v1H105zM116 0h2v1H116zM126 0h1v1H126zM136 0h1v1H136zM0 1h1v1H0zM7 1h1v1H7zM43 1h1v1H43zM58 1h1v1H58zM67 1h1v1H67zM79 1h1v1H79zM83 1h3v1H83zM92 1h1v1H92zM129 1h1v1H129zM135 1h1v1H135zM152 1h1v1H152zM156 1h3v1H156zM13 2h1v1H13zM107 2h1v1H107zM40 3h1v1H40zM68 3h1v1H68zM82 3h1v1H82zM106 3h1v1H106zM118 3h1v1H118zM123 3h1v1H123zM149 3h1v1H149zM153 3h1v1H153zM155 3h2v1H155zM47 4h2v1H47zM116 4h1v1H116zM122 4h1v1H122zM135 4h1v1H135zM137 4h2v1H137zM149 4h1v1H149zM154 4h1v1H154zM7 5h1v1H7zM63 5h1v1H63zM67 5h1v1H67zM70 5h1v1H70zM108 5h1v1H108zM113 6h1v1H113zM138 6h1v1H138zM141 6h1v1H141zM71 7h1v1H71zM91 7h1v1H91zM114 7h1v1H114zM119 7h2v1H119zM125 7h1v1H125zM142 7h1v1H142zM145 7h1v1H145zM153 7h1v1H153zM1 8h2v1H1zM17 8h1v1H17zM20 8h1v1H20zM22 8h2v1H22zM29 8h1v1H29zM35 8h1v1H35zM57 8h1v1H57zM88 8h1v1H88zM98 8h1v1H98zM115 8h1v1H115zM137 8h1v1H137zM149 8h1v1H149zM9 9h1v1H9zM26 9h1v1H26zM30 9h1v1H30zM63 9h1v1H63zM82 9h1v1H82zM96 9h1v1H96zM106 9h1v1H106zM18 10h1v1H18zM44 10h1v1H44zM70 10h1v1H70zM91 10h1v1H91zM105 10h2v1H105zM119 10h1v1H119zM125 10h1v1H125zM153 10h1v1H153zM24 11h1v1H24zM46 11h1v1H46zM94 11h1v1H94zM106 11h1v1H106zM70 12h1v1H70zM80 12h1v1H80zM119 12h1v1H119zM126 12h1v1H126zM133 12h1v1H133zM152 12h1v1H152zM154 12h1v1H154zM159 12h1v1H159zM65 13h1v1H65zM70 13h1v1H70zM8 14h1v1H8zM19 14h1v1H19zM25 14h1v1H25zM35 14h1v1H35zM39 14h1v1H39zM50 14h1v1H50zM52 14h1v1H52zM83 14h1v1H83zM143 14h1v1H143zM146 14h1v1H146zM157 14h1v1H157zM19 16h1v1H19zM37 16h1v1H37zM80 16h1v1H80zM89 16h1v1H89zM91 16h1v1H91zM94 16h1v1H94zM100 16h1v1H100zM109 16h2v1H109zM154 16h1v1H154zM131 17h1v1H131zM6 18h1v1H6zM63 18h1v1H63zM71 18h1v1H71zM151 18h1v1H151zM22 19h1v1H22zM109 19h1v1H109zM133 19h2v1H133zM149 19h1v1H149zM7 20h1v1H7zM12 20h1v1H12zM28 20h1v1H28zM39 20h1v1H39zM57 20h2v1H57zM69 20h1v1H69zM74 20h1v1H74zM79 20h1v1H79zM89 20h1v1H89zM145 20h1v1H145zM7 22h1v1H7zM15 22h1v1H15zM148 22h1v1H148zM2 23h1v1H2zM75 23h1v1H75zM149 23h1v1H149zM85 24h1v1H85zM79 25h1v1H79zM103 25h1v1H103zM152 25h1v1H152zM16 26h1v1H16zM31 26h1v1H31zM73 26h1v1H73zM77 26h1v1H77zM83 26h1v1H83zM110 26h1v1H110zM70 27h1v1H70zM124 27h1v1H124zM47 28h1v1H47zM7 29h1v1H7zM14 29h1v1H14zM42 29h1v1H42zM157 29h1v1H157zM31 30h1v1H31zM53 30h1v1H53zM65 30h1v1H65zM70 30h1v1H70zM72 30h2v1H72zM89 30h1v1H89zM127 30h1v1H127zM144 30h1v1H144zM13 31h1v1H13zM60 31h1v1H60zM75 31h1v1H75zM89 31h1v1H89zM99 31h1v1H99zM123 31h1v1H123zM73 32h1v1H73zM101 32h1v1H101zM30 33h1v1H30zM36 33h1v1H36zM48 33h1v1H48zM59 33h1v1H59zM67 33h1v1H67zM74 33h1v1H74zM78 33h1v1H78zM103 33h1v1H103zM128 33h1v1H128zM148 33h1v1H148zM158 33h1v1H158zM5 34h1v1H5zM34 34h1v1H34zM65 34h1v1H65zM77 34h1v1H77zM92 34h1v1H92zM145 34h1v1H145zM0 35h1v1H0zM8 35h1v1H8zM58 35h1v1H58zM73 35h1v1H73zM37 36h1v1H37zM88 36h1v1H88zM113 36h1v1H113zM135 36h1v1H135zM157 36h1v1H157zM1 37h1v1H1zM11 37h1v1H11zM18 37h1v1H18zM31 37h1v1H31zM40 37h1v1H40zM52 37h2v1H52zM14 38h1v1H14zM97 38h1v1H97zM70 39h1v1H70zM17 40h1v1H17zM12 41h1v1H12zM29 41h1v1H29zM43 41h1v1H43zM68 41h1v1H68zM117 41h1v1H117zM142 41h1v1H142zM23 42h1v1H23zM31 42h1v1H31zM41 42h1v1H41zM58 42h1v1H58zM64 42h1v1H64zM79 42h1v1H79z"/>
<path fill="#149fd0" d="M32 0h1v1H32zM43 0h1v1H43zM84 0h1v1H84zM87 0h1v1H87zM95 0h1v1H95zM97 0h1v1H97zM140 0h1v1H140zM151 0h2v1H151zM38 1h1v1H38zM91 1h1v1H91zM98 1h1v1H98zM102 1h1v1H102zM132 1h1v1H132zM145 1h1v1H145zM150 1h1v1H150zM159 1h1v1H159zM5 2h1v1H5zM43 2h1v1H43zM82 2h2v1H82zM113 2h1v1H113zM128 2h1v1H128zM134 2h1v1H134zM136 2h1v1H136zM139 2h1v1H139zM142 2h2v1H142zM145 2h1v1H145zM153 2h1v1H153zM7 3h1v1H7zM39 3h1v1H39zM53 3h1v1H53zM63 3h1v1H63zM69 3h1v1H69zM72 3h1v1H72zM76 3h1v1H76zM79 3h1v1H79zM83 3h2v1H83zM108 3h1v1H108zM115 3h1v1H115zM120 3h1v1H120zM143 3h1v1H143zM151 3h1v1H151zM157 3h1v1H157zM12 4h1v1H12zM35 4h1v1H35zM94 4h1v1H94zM96 4h1v1H96zM101 4h1v1H101zM107 4h2v1H107zM125 4h1v1H125zM128 4h1v1H128zM141 4h1v1H141zM152 4h1v1H152zM155 4h1v1H155zM61 5h1v1H61zM72 5h1v1H72zM78 5h1v1H78zM105 5h1v1H105zM131 5h1v1H131zM97 6h1v1H97zM114 6h1v1H114zM120 6h1v1H120zM122 6h1v1H122zM125 6h1v1H125zM131 6h1v1H131zM137 6h1v1H137zM140 6h1v1H140zM145 6h1v1H145zM147 6h1v1H147zM149 6h1v1H149zM152 6h2v1H152zM101 7h1v1H101zM103 7h1v1H103zM116 7h1v1H116zM128 7h1v1H128zM135 7h1v1H135zM152 7h1v1H152zM157 7h1v1H157zM53 8h1v1H53zM0 9h1v1H0zM2 9h1v1H2zM23 9h1v1H23zM54 9h1v1H54zM60 9h1v1H60zM67 9h1v1H67zM81 9h1v1H81zM84 9h1v1H84zM112 9h1v1H112zM118 9h1v1H118zM154 9h1v1H154zM10 10h1v1H10zM26 10h1v1H26zM55 10h1v1H55zM72 10h1v1H72zM74 10h1v1H74zM76 10h1v1H76zM83 10h1v1H83zM86 10h1v1H86zM99 10h1v1H99zM117 10h1v1H117zM5 11h1v1H5zM47 11h2v1H47zM54 11h2v1H54zM59 11h2v1H59zM65 11h1v1H65zM75 11h1v1H75zM88 11h1v1H88zM92 11h1v1H92zM95 11h1v1H95zM98 11h1v1H98zM104 11h1v1H104zM147 11h1v1H147zM5 12h1v1H5zM17 12h1v1H17zM23 12h1v1H23zM25 12h1v1H25zM37 12h1v1H37zM45 12h1v1H45zM62 12h2v1H62zM113 12h1v1H113zM118 13h1v1H118zM20 14h1v1H20zM26 14h1v1H26zM29 14h1v1H29zM61 14h1v1H61zM78 14h1v1H78zM94 14h1v1H94zM124 14h1v1H124zM39 15h1v1H39zM29 16h1v1H29zM62 16h1v1H62zM103 16h1v1H103zM72 17h1v1H72zM142 17h1v1H142zM30 18h1v1H30zM70 18h1v1H70zM72 18h1v1H72zM74 18h1v1H74zM76 18h1v1H76zM79 18h1v1H79zM83 18h1v1H83zM10 19h2v1H10zM81 19h1v1H81zM94 19h1v1H94zM99 19h1v1H99zM103 19h1v1H103zM129 19h1v1H129zM137 19h1v1H137zM148 19h1v1H148zM50 20h1v1H50zM62 20h1v1H62zM77 20h1v1H77zM155 20h1v1H155zM50 22h1v1H50zM63 22h1v1H63zM86 22h1v1H86zM152 22h1v1H152zM90 23h1v1H90zM129 23h1v1H129zM56 24h1v1H56zM78 24h1v1H78zM154 25h1v1H154zM4 30h1v1H4zM43 30h1v1H43zM84 30h1v1H84zM100 30h1v1H100zM122 30h1v1H122zM34 31h1v1H34zM45 31h1v1H45zM49 31h1v1H49zM58 31h1v1H58zM147 31h1v1H147zM157 31h1v1H157zM28 32h1v1H28zM67 32h1v1H67zM74 32h2v1H74zM12 33h1v1H12zM17 33h1v1H17zM28 33h1v1H28zM57 33h1v1H57zM79 33h1v1H79zM88 33h1v1H88zM99 33h1v1H99zM102 33h1v1H102zM118 33h1v1H118zM152 33h1v1H152zM31 34h1v1H31zM73 34h1v1H73zM84 34h1v1H84zM127 34h1v1H127zM131 34h1v1H131zM134 34h1v1H134zM156 34h1v1H156zM158 34h2v1H158zM28 36h1v1H28zM45 36h1v1H45zM102 36h1v1H102zM61 37h1v1H61zM71 37h1v1H71zM142 37h1v1H142zM125 38h1v1H125zM3 39h1v1H3zM62 39h1v1H62zM66 39h1v1H66zM68 39h2v1H68zM78 39h1v1H78zM5 41h1v1H5zM19 41h1v1H19zM31 41h1v1H31zM46 41h1v1H46zM90 41h1v1H90zM93 41h1v1H93zM122 41h1v1H122zM139 41h1v1H139zM15 42h1v1H15zM32 42h1v1H32zM37 42h1v1H37zM57 42h1v1H57zM145 42h1v1H145zM150 42h1v1H150zM152 42h1v1H152z"/>
<path fill="#0fa3cd" d="M18 0h1v1H18zM52 0h1v1H52zM54 0h1v1H54zM59 0h1v1H59zM61 0h1v1H61zM114 0h1v1H114zM147 0h1v1H147zM157 0h1v1H157zM32 1h1v1H32zM42 1h1v1H42zM65 1h1v1H65zM68 1h1v1H68zM80 1h1v1H80zM36 2h1v1H36zM62 2h1v1H62zM110 2h1v1H110zM120 2h1v1H120zM125 2h1v1H125zM132 2h1v1H132zM144 2h1v1H144zM149 2h2v1H149zM10 3h1v1H10zM23 3h1v1H23zM57 3h2v1H57zM67 3h1v1H67zM127 3h1v1H127zM132 3h1v1H132zM139 3h1v1H139zM80 4h1v1H80zM104 4h1v1H104zM113 4h1v1H113zM123 4h1v1H123zM153 4h1v1H153zM31 5h1v1H31zM37 5h1v1H37zM52 5h1v1H52zM54 5h1v1H54zM68 5h1v1H68zM77 5h1v1H77zM143 5h1v1H143zM41 6h1v1H41zM43 6h1v1H43zM109 6h2v1H109zM129 6h2v1H129zM136 6h1v1H136zM88 7h1v1H88zM123 7h1v1H123zM133 7h1v1H133zM11 8h1v1H11zM68 8h1v1H68zM94 8h1v1H94zM99 8h1v1H99zM151 8h1v1H151zM3 9h1v1H3zM34 9h1v1H34zM37 9h1v1H37zM68 9h1v1H68zM104 9h1v1H104zM122 9h1v1H122zM73 10h1v1H73zM75 10h1v1H75zM84 10h1v1H84zM87 10h1v1H87zM92 10h1v1H92zM94 10h1v1H94zM100 10h1v1H100zM136 10h1v1H136zM140 10h1v1H140zM9 11h1v1H9zM11 11h1v1H11zM76 11h1v1H76zM78 11h1v1H78zM84 11h1v1H84zM91 11h1v1H91zM93 11h1v1H93zM27 12h1v1H27zM29 12h1v1H29zM36 12h1v1H36zM48 12h1v1H48zM61 12h1v1H61zM65 12h1v1H65zM92 12h1v1H92zM11 13h1v1H11zM2 14h1v1H2zM12 14h1v1H12zM24 14h1v1H24zM74 14h1v1H74zM116 14h1v1H116zM87 16h1v1H87zM125 16h1v1H125zM139 16h1v1H139zM70 17h1v1H70zM73 17h2v1H73zM68 18h2v1H68zM87 18h1v1H87zM46 19h1v1H46zM65 19h1v1H65zM69 19h1v1H69zM107 19h1v1H107zM114 19h1v1H114zM119 19h1v1H119zM36 20h1v1H36zM150 20h1v1H150zM60 21h1v1H60zM100 21h1v1H100zM10 22h2v1H10zM25 23h1v1H25zM124 23h1v1H124zM159 23h1v1H159zM60 26h1v1H60zM159 26h1v1H159zM152 27h1v1H152zM25 29h1v1H25zM87 29h1v1H87zM115 29h1v1H115zM123 29h1v1H123zM148 29h1v1H148zM9 30h1v1H9zM13 30h1v1H13zM24 30h1v1H24zM29 30h1v1H29zM134 30h1v1H134zM9 31h1v1H9zM17 31h1v1H17zM22 31h1v1H22zM44 31h1v1H44zM121 31h1v1H121zM132 31h1v1H132zM142 31h1v1H142zM81 32h1v1H81zM94 33h1v1H94zM97 33h1v1H97zM100 33h1v1H100zM109 33h2v1H109zM126 33h1v1H126zM130 33h1v1H130zM28 34h1v1H28zM33 34h1v1H33zM43 34h1v1H43zM87 34h1v1H87zM93 34h1v1H93zM103 34h1v1H103zM149 34h1v1H149zM151 34h1v1H151zM2 35h1v1H2zM4 35h2v1H4zM25 36h1v1H25zM80 36h1v1H80zM98 36h1v1H98zM127 36h1v1H127zM16 37h1v1H16zM67 37h1v1H67zM73 37h1v1H73zM55 38h1v1H55zM62 38h1v1H62zM68 38h1v1H68zM74 38h2v1H74zM80 38h1v1H80zM91 38h1v1H91zM106 38h1v1H106zM111 38h1v1H111zM115 38h1v1H115zM135 38h1v1H135zM59 39h1v1H59zM71 39h1v1H71zM34 41h1v1H34zM42 41h1v1H42zM73 41h1v1H73zM87 41h1v1H87zM126 41h1v1H126zM145 41h1v1H145zM4 42h1v1H4zM63 42h1v1H63zM95 42h1v1H95zM98 42h2v1H98zM110 42h1v1H110zM129 42h1v1H129zM136 42h2v1H136zM148 42h1v1H148z"/>
<path fill="#17a8c1" d="M31 0h1v1H31zM56 0h1v1H56zM88 0h1v1H88zM101 0h1v1H101zM130 0h1v1H130zM2 1h1v1H2zM14 1h1v1H14zM17 1h1v1H17zM21 1h1v1H21zM26 1h1v1H26zM30 1h1v1H30zM41 1h1v1H41zM139 1h1v1H139zM81 2h1v1H81zM19 3h1v1H19zM26 3h1v1H26zM56 3h1v1H56zM89 4h1v1H89zM105 4h1v1H105zM0 5h1v1H0zM12 5h2v1H12zM17 5h1v1H17zM27 5h1v1H27zM48 5h1v1H48zM60 5h1v1H60zM79 5h1v1H79zM135 5h2v1H135zM150 5h1v1H150zM157 5h1v1H157zM102 6h1v1H102zM105 6h1v1H105zM119 6h1v1H119zM126 6h1v1H126zM133 6h1v1H133zM158 6h1v1H158zM126 7h2v1H126zM151 7h1v1H151zM7 8h1v1H7zM65 8h1v1H65zM71 8h1v1H71zM76 8h1v1H76zM83 8h2v1H83zM109 8h1v1H109zM139 8h1v1H139zM8 9h1v1H8zM18 9h2v1H18zM57 9h1v1H57zM102 9h1v1H102zM117 9h1v1H117zM152 9h1v1H152zM8 10h1v1H8zM93 10h1v1H93zM102 10h1v1H102zM108 10h1v1H108zM124 10h1v1H124zM131 10h1v1H131zM151 10h1v1H151zM30 11h1v1H30zM57 11h1v1H57zM64 11h1v1H64zM71 11h1v1H71zM9 12h1v1H9zM50 12h1v1H50zM69 12h1v1H69zM72 12h1v1H72zM95 12h1v1H95zM101 12h2v1H101zM111 12h1v1H111zM69 13h1v1H69zM95 13h1v1H95zM33 14h1v1H33zM56 14h1v1H56zM122 14h1v1H122zM136 14h1v1H136zM150 14h1v1H150zM158 14h1v1H158zM46 16h1v1H46zM101 16h2v1H101zM114 16h1v1H114zM135 16h1v1H135zM159 16h1v1H159zM68 17h1v1H68zM75 17h1v1H75zM79 17h1v1H79zM84 17h1v1H84zM1 19h1v1H1zM7 19h1v1H7zM21 19h1v1H21zM45 19h1v1H45zM47 19h1v1H47zM93 19h1v1H93zM117 19h2v1H117zM124 19h1v1H124zM138 19h1v1H138zM157 19h1v1H157zM159 19h1v1H159zM14 20h1v1H14zM23 20h1v1H23zM66 20h1v1H66zM90 20h1v1H90zM94 20h1v1H94zM120 20h1v1H120zM130 20h1v1H130zM133 20h1v1H133zM143 20h1v1H143zM2 22h1v1H2zM16 22h1v1H16zM19 22h1v1H19zM42 22h1v1H42zM58 22h1v1H58zM132 22h1v1H132zM78 26h1v1H78zM93 26h1v1H93zM145 29h1v1H145zM5 30h1v1H5zM11 30h1v1H11zM21 30h1v1H21zM86 30h1v1H86zM96 30h2v1H96zM149 30h1v1H149zM32 31h1v1H32zM36 31h1v1H36zM81 31h1v1H81zM104 31h1v1H104zM4 33h1v1H4zM15 33h1v1H15zM18 33h1v1H18zM42 33h1v1H42zM60 33h1v1H60zM92 33h1v1H92zM112 33h1v1H112zM122 33h1v1H122zM124 33h2v1H124zM133 33h1v1H133zM135 33h1v1H135zM145 33h1v1H145zM150 33h1v1H150zM159 33h1v1H159zM32 34h1v1H32zM79 34h1v1H79zM81 34h1v1H81zM143 34h1v1H143zM73 36h1v1H73zM95 36h1v1H95zM116 36h1v1H116zM118 36h1v1H118zM120 36h1v1H120zM148 36h1v1H148zM159 36h1v1H159zM3 37h1v1H3zM28 37h1v1H28zM30 37h1v1H30zM56 37h1v1H56zM63 37h1v1H63zM64 38h1v1H64zM88 38h1v1H88zM95 38h1v1H95zM101 38h1v1H101zM139 38h1v1H139zM147 38h1v1H147zM14 39h1v1H14zM21 39h1v1H21zM25 39h1v1H25zM27 39h1v1H27zM14 41h2v1H14zM25 41h1v1H25zM41 41h1v1H41zM57 41h1v1H57zM61 41h1v1H61zM75 41h1v1H75zM84 41h1v1H84zM86 41h1v1H86zM115 41h1v1H115zM44 42h1v1H44zM62 42h1v1H62zM76 42h1v1H76zM107 42h1v1H107zM109 42h1v1H109zM121 42h1v1H121zM144 42h1v1H144zM151 42h1v1H151zM156 42h1v1H156z"/>
<path fill="#1facb5" d="M12 0h1v1H12zM68 0h1v1H68zM64 1h1v1H64zM74 1h1v1H74zM95 1h1v1H95zM100 1h1v1H100zM140 1h1v1H140zM142 1h1v1H142zM25 2h1v1H25zM126 2h1v1H126zM147 2h1v1H147zM21 3h1v1H21zM141 3h1v1H141zM154 3h1v1H154zM82 4h1v1H82zM86 4h1v1H86zM114 4h1v1H114zM144 4h1v1H144zM151 4h1v1H151zM57 5h1v1H57zM86 7h1v1H86zM18 8h1v1H18zM42 8h1v1H42zM44 8h1v1H44zM54 8h1v1H54zM56 8h1v1H56zM66 8h1v1H66zM69 8h1v1H69zM73 8h1v1H73zM87 8h1v1H87zM89 8h1v1H89zM111 8h2v1H111zM118 8h1v1H118zM122 8h1v1H122zM142 8h2v1H142zM154 8h1v1H154zM13 9h1v1H13zM131 9h1v1H131zM136 9h1v1H136zM114 10h2v1H114zM133 10h1v1H133zM135 10h1v1H135zM38 11h1v1H38zM51 11h1v1H51zM63 11h1v1H63zM158 11h1v1H158zM41 12h1v1H41zM85 12h1v1H85zM93 12h1v1H93zM148 12h1v1H148zM155 12h1v1H155zM84 13h1v1H84zM102 13h1v1H102zM105 13h1v1H105zM48 14h1v1H48zM54 14h1v1H54zM76 14h1v1H76zM80 14h2v1H80zM132 14h1v1H132zM138 14h1v1H138zM140 14h1v1H140zM85 15h1v1H85zM66 16h1v1H66zM69 16h1v1H69zM73 16h1v1H73zM78 17h1v1H78zM86 18h1v1H86zM4 19h1v1H4zM29 19h1v1H29zM32 19h2v1H32zM11 20h1v1H11zM47 20h1v1H47zM49 20h1v1H49zM115 20h1v1H115zM144 20h1v1H144zM78 28h1v1H78zM41 29h1v1H41zM1 30h1v1H1zM6 30h1v1H6zM17 30h1v1H17zM26 30h1v1H26zM35 30h1v1H35zM38 30h1v1H38zM44 30h1v1H44zM48 30h1v1H48zM83 30h1v1H83zM87 30h1v1H87zM123 30h1v1H123zM128 30h1v1H128zM150 30h1v1H150zM1 31h1v1H1zM4 31h2v1H4zM26 31h1v1H26zM37 31h1v1H37zM39 31h1v1H39zM53 31h1v1H53zM80 31h1v1H80zM90 31h1v1H90zM102 31h1v1H102zM129 31h1v1H129zM150 31h1v1H150zM93 32h1v1H93zM13 33h1v1H13zM24 33h1v1H24zM47 33h1v1H47zM68 33h1v1H68zM13 34h1v1H13zM22 34h1v1H22zM44 34h1v1H44zM53 34h2v1H53zM57 34h1v1H57zM71 34h1v1H71zM89 34h1v1H89zM77 35h1v1H77zM114 35h1v1H114zM85 36h1v1H85zM87 36h1v1H87zM110 36h1v1H110zM4 37h1v1H4zM14 37h1v1H14zM51 37h1v1H51zM90 38h1v1H90zM143 38h1v1H143zM158 38h1v1H158zM32 39h1v1H32zM77 39h1v1H77zM20 41h1v1H20zM40 41h1v1H40zM107 41h1v1H107zM155 41h1v1H155zM12 42h1v1H12zM21 42h1v1H21zM59 42h1v1H59zM86 42h1v1H86zM102 42h1v1H102zM106 42h1v1H106zM126 42h1v1H126z"/>
<path fill="#29b0a5" d="M11 0h1v1H11zM57 0h1v1H57zM124 0h1v1H124zM154 0h1v1H154zM156 0h1v1H156zM19 1h1v1H19zM29 1h1v1H29zM34 1h1v1H34zM36 1h1v1H36zM40 1h1v1H40zM47 1h1v1H47zM56 1h1v1H56zM63 1h1v1H63zM71 1h1v1H71zM75 1h1v1H75zM77 1h1v1H77zM81 1h1v1H81zM87 1h1v1H87zM138 1h1v1H138zM146 2h1v1H146zM2 3h1v1H2zM15 3h1v1H15zM27 3h1v1H27zM66 3h1v1H66zM109 3h1v1H109zM129 3h1v1H129zM134 3h1v1H134zM138 3h1v1H138zM97 4h1v1H97zM111 4h1v1H111zM1 5h2v1H1zM40 5h1v1H40zM73 5h1v1H73zM111 5h1v1H111zM115 5h1v1H115zM132 5h1v1H132zM148 5h1v1H148zM158 5h1v1H158zM100 6h1v1H100zM106 6h1v1H106zM134 7h1v1H134zM141 7h1v1H141zM156 7h1v1H156zM12 8h1v1H12zM24 8h1v1H24zM31 8h1v1H31zM40 8h1v1H40zM29 9h1v1H29zM41 9h1v1H41zM107 9h1v1H107zM103 10h1v1H103zM121 10h1v1H121zM147 10h1v1H147zM158 10h1v1H158zM1 11h1v1H1zM8 11h1v1H8zM20 11h1v1H20zM35 11h1v1H35zM97 11h1v1H97zM53 12h1v1H53zM86 12h1v1H86zM98 12h1v1H98zM100 12h1v1H100zM108 12h1v1H108zM115 12h1v1H115zM145 12h1v1H145zM66 13h1v1H66zM75 13h1v1H75zM79 13h1v1H79zM106 13h1v1H106zM111 13h1v1H111zM4 14h1v1H4zM28 14h1v1H28zM46 14h1v1H46zM92 14h1v1H92zM112 14h2v1H112zM115 14h1v1H115zM123 14h1v1H123zM144 14h1v1H144zM84 16h1v1H84zM99 16h1v1H99zM120 16h1v1H120zM130 16h1v1H130zM13 19h1v1H13zM77 19h1v1H77zM85 19h1v1H85zM111 19h1v1H111zM125 19h1v1H125zM147 19h1v1H147zM10 20h1v1H10zM17 20h3v1H17zM25 20h1v1H25zM29 20h1v1H29zM42 20h1v1H42zM72 20h1v1H72zM84 20h1v1H84zM100 20h1v1H100zM10 24h1v1H10zM18 28h1v1H18zM51 30h1v1H51zM66 30h1v1H66zM92 30h1v1H92zM95 30h1v1H95zM8 31h1v1H8zM16 31h1v1H16zM79 31h1v1H79zM113 31h1v1H113zM117 31h1v1H117zM122 31h1v1H122zM136 31h1v1H136zM69 32h1v1H69zM33 33h2v1H33zM41 33h1v1H41zM87 33h1v1H87zM149 33h1v1H149zM36 34h1v1H36zM82 34h1v1H82zM6 35h1v1H6zM81 36h1v1H81zM10 37h1v1H10zM27 37h1v1H27zM32 37h1v1H32zM41 37h1v1H41zM83 38h2v1H83zM123 38h1v1H123zM57 39h1v1H57zM113 40h1v1H113zM0 41h1v1H0zM30 41h1v1H30zM50 41h1v1H50zM56 41h1v1H56zM17 42h1v1H17zM51 42h1v1H51zM53 42h1v1H53zM56 42h1v1H56zM69 42h1v1H69zM71 42h1v1H71zM91 42h1v1H91zM97 42h1v1H97zM104 42h1v1H104zM113 42h1v1H113zM119 42h1v1H119zM122 42h1v1H122zM155 42h1v1H155zM159 42h1v1H159z"/>
<path fill="#34b495" d="M17 0h1v1H17zM13 1h1v1H13zM16 1h1v1H16zM25 1h1v1H25zM28 1h1v1H28zM69 1h1v1H69zM73 1h1v1H73zM89 1h1v1H89zM96 1h1v1H96zM99 1h1v1H99zM103 1h1v1H103zM120 1h1v1H120zM130 1h1v1H130zM136 1h1v1H136zM141 2h1v1H141zM3 3h1v1H3zM5 3h1v1H5zM65 3h1v1H65zM105 3h1v1H105zM121 3h1v1H121zM136 3h2v1H136zM150 3h1v1H150zM152 3h1v1H152zM106 4h1v1H106zM109 4h1v1H109zM120 4h2v1H120zM126 4h1v1H126zM157 4h1v1H157zM10 5h1v1H10zM45 5h1v1H45zM64 5h1v1H64zM75 5h1v1H75zM117 5h1v1H117zM120 5h1v1H120zM156 5h1v1H156zM111 6h1v1H111zM115 6h1v1H115zM159 6h1v1H159zM98 7h1v1H98zM107 7h2v1H107zM115 7h1v1H115zM124 7h1v1H124zM143 7h1v1H143zM155 7h1v1H155zM19 8h1v1H19zM38 8h1v1H38zM45 8h1v1H45zM55 8h1v1H55zM92 8h1v1H92zM117 8h1v1H117zM128 8h1v1H128zM132 8h1v1H132zM148 8h1v1H148zM156 8h1v1H156zM80 9h1v1H80zM90 9h1v1H90zM71 10h1v1H71zM88 10h1v1H88zM89 11h1v1H89zM96 11h1v1H96zM100 11h1v1H100zM105 11h1v1H105zM1 12h1v1H1zM7 12h1v1H7zM67 12h1v1H67zM82 12h2v1H82zM120 12h1v1H120zM131 12h1v1H131zM136 12h1v1H136zM81 13h1v1H81zM107 13h1v1H107zM3 14h1v1H3zM27 14h1v1H27zM36 14h1v1H36zM47 14h1v1H47zM67 14h1v1H67zM126 14h1v1H126zM135 14h1v1H135zM87 15h1v1H87zM65 16h1v1H65zM148 16h1v1H148zM41 17h1v1H41zM77 17h1v1H77zM28 19h1v1H28zM82 19h1v1H82zM92 19h1v1H92zM6 20h1v1H6zM8 20h1v1H8zM80 20h1v1H80zM122 20h1v1H122zM83 22h1v1H83zM82 23h1v1H82zM14 24h1v1H14zM79 24h1v1H79zM69 30h1v1H69zM74 30h1v1H74zM126 30h1v1H126zM141 30h1v1H141zM19 31h1v1H19zM74 31h1v1H74zM124 31h1v1H124zM128 31h1v1H128zM134 31h1v1H134zM159 31h1v1H159zM77 32h1v1H77zM1 33h1v1H1zM9 33h1v1H9zM91 33h1v1H91zM127 33h1v1H127zM9 34h1v1H9zM12 34h1v1H12zM48 34h1v1H48zM52 34h1v1H52zM80 34h1v1H80zM79 35h1v1H79zM89 36h1v1H89zM123 36h1v1H123zM126 36h1v1H126zM39 37h1v1H39zM54 37h1v1H54zM66 37h1v1H66zM78 37h1v1H78zM100 38h1v1H100zM129 38h1v1H129zM155 38h1v1H155zM60 39h2v1H60zM7 40h1v1H7zM7 41h1v1H7zM21 41h1v1H21zM2 42h1v1H2zM93 42h1v1H93zM105 42h1v1H105zM149 42h1v1H149z"/>
<path fill="#4ab88c" d="M51 0h1v1H51zM92 0h1v1H92zM27 1h1v1H27zM35 1h1v1H35zM86 1h1v1H86zM107 1h1v1H107zM126 1h1v1H126zM147 1h1v1H147zM155 1h1v1H155zM15 2h1v1H15zM116 2h1v1H116zM137 2h1v1H137zM0 3h1v1H0zM33 3h1v1H33zM41 3h1v1H41zM44 3h1v1H44zM110 3h1v1H110zM125 3h1v1H125zM146 3h1v1H146zM159 3h1v1H159zM110 4h1v1H110zM136 4h1v1H136zM148 4h1v1H148zM26 5h1v1H26zM42 5h1v1H42zM66 5h1v1H66zM100 5h1v1H100zM102 5h1v1H102zM110 5h1v1H110zM122 5h1v1H122zM127 5h1v1H127zM134 5h1v1H134zM154 6h1v1H154zM100 7h1v1H100zM110 7h1v1H110zM137 7h1v1H137zM26 8h1v1H26zM39 8h1v1H39zM86 8h1v1H86zM121 8h1v1H121zM153 8h1v1H153zM85 9h1v1H85zM60 10h1v1H60zM66 11h1v1H66zM81 11h1v1H81zM0 12h1v1H0zM2 12h1v1H2zM6 12h1v1H6zM20 12h1v1H20zM28 12h1v1H28zM109 12h1v1H109zM144 12h1v1H144zM62 13h1v1H62zM72 13h1v1H72zM100 13h1v1H100zM14 14h2v1H14zM41 14h1v1H41zM72 14h1v1H72zM75 14h1v1H75zM84 14h1v1H84zM98 14h1v1H98zM108 14h1v1H108zM111 14h1v1H111zM131 14h1v1H131zM156 16h1v1H156zM78 18h1v1H78zM101 18h1v1H101zM16 20h1v1H16zM38 20h1v1H38zM41 20h1v1H41zM43 20h1v1H43zM54 20h1v1H54zM56 20h1v1H56zM65 20h1v1H65zM70 20h1v1H70zM76 20h1v1H76zM26 27h1v1H26zM115 28h1v1H115zM80 30h1v1H80zM85 30h1v1H85zM109 31h1v1H109zM140 31h1v1H140zM148 31h1v1H148zM152 31h1v1H152zM155 31h1v1H155zM20 32h1v1H20zM55 33h1v1H55zM74 34h1v1H74zM86 34h1v1H86zM150 34h1v1H150zM1 35h1v1H1zM5 37h1v1H5zM8 37h1v1H8zM17 37h1v1H17zM61 38h1v1H61zM71 38h1v1H71zM8 41h1v1H8zM27 41h1v1H27zM58 41h1v1H58zM72 41h1v1H72zM111 42h1v1H111zM116 42h1v1H116zM147 42h1v1H147z"/>
<path fill="#60bc83" d="M15 1h1v1H15zM39 1h1v1H39zM48 1h1v1H48zM76 1h1v1H76zM78 1h1v1H78zM113 1h1v1H113zM122 2h1v1H122zM70 3h1v1H70zM113 3h1v1H113zM147 3h1v1H147zM117 4h1v1H117zM127 4h1v1H127zM134 4h1v1H134zM16 5h1v1H16zM23 5h1v1H23zM106 5h1v1H106zM118 5h1v1H118zM123 5h1v1H123zM126 5h1v1H126zM155 5h1v1H155zM159 5h1v1H159zM16 6h1v1H16zM103 6h1v1H103zM112 6h1v1H112zM127 6h1v1H127zM150 6h1v1H150zM78 7h1v1H78zM131 7h1v1H131zM136 7h1v1H136zM139 7h1v1H139zM147 7h2v1H147zM4 8h2v1H4zM43 8h1v1H43zM91 8h1v1H91zM114 8h1v1H114zM119 8h1v1H119zM152 8h1v1H152zM158 8h1v1H158zM87 9h1v1H87zM56 10h1v1H56zM66 10h1v1H66zM81 10h1v1H81zM72 11h1v1H72zM83 11h1v1H83zM86 11h1v1H86zM101 11h1v1H101zM4 12h1v1H4zM8 12h1v1H8zM10 12h1v1H10zM24 12h1v1H24zM38 12h1v1H38zM47 12h1v1H47zM56 12h1v1H56zM60 12h1v1H60zM75 12h1v1H75zM90 12h1v1H90zM110 12h1v1H110zM121 12h1v1H121zM77 13h1v1H77zM85 13h1v1H85zM21 14h1v1H21zM37 14h1v1H37zM103 14h1v1H103zM109 14h1v1H109zM128 14h1v1H128zM137 14h1v1H137zM141 14h1v1H141zM151 14h1v1H151zM5 16h1v1H5zM76 16h2v1H76zM133 16h1v1H133zM106 18h1v1H106zM26 20h1v1H26zM40 20h1v1H40zM55 20h1v1H55zM60 20h1v1H60zM81 20h1v1H81zM126 20h1v1H126zM80 22h1v1H80zM87 22h1v1H87zM3 25h1v1H3zM18 26h1v1H18zM44 26h1v1H44zM80 26h1v1H80zM79 28h1v1H79zM13 29h1v1H13zM7 30h1v1H7zM75 30h2v1H75zM121 30h1v1H121zM23 31h1v1H23zM141 31h1v1H141zM70 32h1v1H70zM16 35h1v1H16zM20 37h2v1H20zM23 37h1v1H23zM29 37h1v1H29zM34 37h2v1H34zM38 37h1v1H38zM47 37h1v1H47zM70 37h1v1H70zM59 38h1v1H59zM69 38h1v1H69zM50 39h1v1H50zM79 40h1v1H79zM26 41h1v1H26zM59 41h1v1H59zM96 42h1v1H96zM123 42h1v1H123z"/>
<path fill="#74bd7b" d="M3 1h1v1H3zM5 1h1v1H5zM37 1h1v1H37zM82 1h1v1H82zM90 1h1v1H90zM105 1h1v1H105zM121 1h1v1H121zM128 1h1v1H128zM133 1h1v1H133zM112 2h1v1H112zM127 2h1v1H127zM130 2h1v1H130zM140 2h1v1H140zM148 2h1v1H148zM157 2h1v1H157zM4 3h1v1H4zM28 3h1v1H28zM61 3h1v1H61zM71 3h1v1H71zM111 3h1v1H111zM117 3h1v1H117zM124 3h1v1H124zM130 3h1v1H130zM115 4h1v1H115zM142 4h1v1H142zM34 5h1v1H34zM53 5h1v1H53zM107 5h1v1H107zM116 6h1v1H116zM124 6h1v1H124zM132 6h1v1H132zM134 6h1v1H134zM146 6h1v1H146zM106 7h1v1H106zM118 7h1v1H118zM138 7h1v1H138zM144 7h1v1H144zM149 7h1v1H149zM158 7h1v1H158zM10 8h1v1H10zM106 8h1v1H106zM110 8h1v1H110zM130 8h2v1H130zM134 8h1v1H134zM63 10h3v1H63zM67 10h2v1H67zM80 10h1v1H80zM73 11h1v1H73zM79 11h2v1H79zM82 11h1v1H82zM103 11h1v1H103zM16 12h1v1H16zM52 12h1v1H52zM64 12h1v1H64zM68 12h1v1H68zM91 12h1v1H91zM103 12h1v1H103zM117 12h1v1H117zM122 12h1v1H122zM124 12h1v1H124zM129 12h1v1H129zM142 12h1v1H142zM149 12h1v1H149zM74 13h1v1H74zM76 13h1v1H76zM11 14h1v1H11zM16 14h1v1H16zM18 14h1v1H18zM32 14h1v1H32zM77 14h1v1H77zM85 14h1v1H85zM89 14h1v1H89zM110 14h1v1H110zM119 14h1v1H119zM139 14h1v1H139zM74 16h2v1H74zM86 17h1v1H86zM75 18h1v1H75zM48 20h1v1H48zM53 20h1v1H53zM64 20h1v1H64zM73 20h1v1H73zM80 23h1v1H80zM80 24h1v1H80zM80 25h1v1H80zM110 28h1v1H110zM80 29h1v1H80zM51 31h1v1H51zM57 31h1v1H57zM78 35h1v1H78zM72 36h1v1H72zM75 36h1v1H75zM0 37h1v1H0zM19 37h1v1H19zM33 37h1v1H33zM59 37h1v1H59zM64 37h1v1H64zM69 37h1v1H69zM74 37h1v1H74zM63 38h1v1H63zM74 39h1v1H74zM72 40h1v1H72z"/>
<path fill="#86bb74" d="M12 1h1v1H12zM93 1h1v1H93zM108 1h2v1H108zM111 1h2v1H111zM117 1h1v1H117zM127 1h1v1H127zM137 1h1v1H137zM143 1h1v1H143zM117 2h2v1H117zM121 2h1v1H121zM124 2h1v1H124zM152 2h1v1H152zM154 2h1v1H154zM156 2h1v1H156zM158 2h1v1H158zM74 3h1v1H74zM77 3h2v1H77zM116 3h1v1H116zM119 3h1v1H119zM126 3h1v1H126zM133 3h1v1H133zM135 3h1v1H135zM142 3h1v1H142zM124 4h1v1H124zM129 4h1v1H129zM132 4h2v1H132zM143 4h1v1H143zM159 4h1v1H159zM30 5h1v1H30zM35 5h1v1H35zM65 5h1v1H65zM69 5h1v1H69zM140 5h1v1H140zM95 6h1v1H95zM101 6h1v1H101zM121 6h1v1H121zM128 6h1v1H128zM135 6h1v1H135zM143 6h1v1H143zM95 7h1v1H95zM104 7h1v1H104zM122 7h1v1H122zM6 8h1v1H6zM30 8h1v1H30zM32 8h1v1H32zM34 8h1v1H34zM60 8h1v1H60zM103 8h1v1H103zM120 8h1v1H120zM129 8h1v1H129zM11 9h1v1H11zM21 9h1v1H21zM83 9h1v1H83zM86 9h1v1H86zM57 10h1v1H57zM89 10h1v1H89zM90 11h1v1H90zM99 11h1v1H99zM13 12h2v1H13zM32 12h1v1H32zM40 12h1v1H40zM57 12h2v1H57zM66 12h1v1H66zM73 12h1v1H73zM87 12h1v1H87zM89 12h1v1H89zM96 12h1v1H96zM112 12h1v1H112zM146 12h1v1H146zM64 13h1v1H64zM73 13h1v1H73zM92 13h1v1H92zM99 13h1v1H99zM1 14h1v1H1zM45 14h1v1H45zM49 14h1v1H49zM71 14h1v1H71zM114 14h1v1H114zM69 17h1v1H69zM71 17h1v1H71zM77 18h1v1H77zM24 20h1v1H24zM27 20h1v1H27zM46 20h1v1H46zM82 24h1v1H82zM80 28h1v1H80zM93 30h1v1H93zM58 36h1v1H58zM99 36h1v1H99zM7 37h1v1H7zM9 37h1v1H9zM48 37h1v1H48zM65 37h1v1H65zM75 37h2v1H75zM79 37h1v1H79zM66 38h1v1H66zM56 39h1v1H56zM65 39h1v1H65zM75 39h1v1H75zM100 42h1v1H100z"/>
<path fill="#97b96e" d="M110 1h1v1H110zM118 1h1v1H118zM125 1h1v1H125zM131 1h1v1H131zM148 1h1v1H148zM131 2h1v1H131zM151 2h1v1H151zM155 2h1v1H155zM64 3h1v1H64zM73 3h1v1H73zM107 3h1v1H107zM114 3h1v1H114zM144 3h2v1H144zM77 4h1v1H77zM147 4h1v1H147zM156 4h1v1H156zM158 4h1v1H158zM74 5h1v1H74zM99 6h1v1H99zM107 6h1v1H107zM117 6h1v1H117zM123 6h1v1H123zM139 6h1v1H139zM142 6h1v1H142zM155 6h1v1H155zM99 7h1v1H99zM121 7h1v1H121zM150 7h1v1H150zM25 8h1v1H25zM33 8h1v1H33zM78 8h1v1H78zM100 8h1v1H100zM136 8h1v1H136zM77 10h1v1H77zM22 11h1v1H22zM61 11h2v1H61zM68 11h1v1H68zM74 11h1v1H74zM11 12h2v1H11zM43 12h1v1H43zM51 12h1v1H51zM55 12h1v1H55zM59 12h1v1H59zM76 12h1v1H76zM79 12h1v1H79zM107 12h1v1H107zM134 12h1v1H134zM86 13h1v1H86zM10 14h1v1H10zM38 14h1v1H38zM57 14h1v1H57zM62 14h4v1H62zM120 14h1v1H120zM133 14h1v1H133zM76 17h1v1H76zM73 18h1v1H73zM84 18h1v1H84zM75 20h1v1H75zM101 20h1v1H101zM81 21h1v1H81zM80 27h2v1H80zM94 30h1v1H94zM74 36h1v1H74zM24 37h1v1H24zM45 37h2v1H45zM57 37h1v1H57zM72 37h1v1H72zM56 38h1v1H56zM58 38h1v1H58zM67 38h1v1H67zM120 38h1v1H120zM58 39h1v1H58zM63 39h2v1H63zM73 39h1v1H73z"/>
<path fill="#a6b76a" d="M119 1h1v1H119zM119 2h1v1H119zM129 2h1v1H129zM138 2h1v1H138zM159 2h1v1H159zM60 3h1v1H60zM128 3h1v1H128zM131 3h1v1H131zM148 3h1v1H148zM131 4h1v1H131zM76 5h1v1H76zM146 5h1v1H146zM96 6h1v1H96zM98 6h1v1H98zM148 6h1v1H148zM151 6h1v1H151zM4 7h1v1H4zM97 7h1v1H97zM112 7h1v1H112zM159 7h1v1H159zM63 8h1v1H63zM70 8h1v1H70zM127 8h1v1H127zM12 9h1v1H12zM58 10h1v1H58zM69 10h1v1H69zM79 10h1v1H79zM95 10h1v1H95zM97 10h1v1H97zM101 10h1v1H101zM58 11h1v1H58zM67 11h1v1H67zM70 11h1v1H70zM85 11h1v1H85zM18 12h2v1H18zM30 12h1v1H30zM33 12h1v1H33zM42 12h1v1H42zM71 12h1v1H71zM77 12h1v1H77zM97 12h1v1H97zM101 13h1v1H101zM9 14h1v1H9zM53 14h1v1H53zM58 14h1v1H58zM68 14h1v1H68zM88 14h1v1H88zM86 15h1v1H86zM111 16h1v1H111zM82 21h1v1H82zM155 24h1v1H155zM81 25h1v1H81zM13 37h1v1H13zM37 37h1v1H37zM73 38h1v1H73zM125 40h1v1H125z"/>
<path fill="#b5b565" d="M80 2h1v1H80zM111 2h1v1H111zM114 2h1v1H114zM123 2h1v1H123zM112 3h1v1H112zM112 4h1v1H112zM118 4h2v1H118zM130 4h1v1H130zM104 6h1v1H104zM157 6h1v1H157zM62 8h1v1H62zM64 8h1v1H64zM67 8h1v1H67zM74 8h1v1H74zM59 10h1v1H59zM62 10h1v1H62zM85 10h1v1H85zM69 11h1v1H69zM77 11h1v1H77zM102 11h1v1H102zM15 12h1v1H15zM21 12h2v1H21zM26 12h1v1H26zM31 12h1v1H31zM35 12h1v1H35zM46 12h1v1H46zM49 12h1v1H49zM106 12h1v1H106zM90 13h1v1H90zM5 14h1v1H5zM17 14h1v1H17zM85 18h1v1H85zM84 19h1v1H84zM78 20h1v1H78zM81 26h1v1H81zM59 27h1v1H59zM114 33h1v1H114zM75 34h1v1H75zM68 37h1v1H68zM60 38h1v1H60zM70 38h1v1H70zM72 38h1v1H72zM67 39h1v1H67zM42 42h1v1H42z"/>
<path fill="#c0b260" d="M140 3h1v1H140zM71 5h1v1H71zM118 6h1v1H118zM61 8h1v1H61zM72 8h1v1H72zM61 10h1v1H61zM82 10h1v1H82zM90 10h1v1H90zM98 10h1v1H98zM56 11h1v1H56zM39 12h1v1H39zM44 12h1v1H44zM54 12h1v1H54zM99 12h1v1H99zM104 12h2v1H104zM21 13h1v1H21zM66 31h1v1H66zM76 32h1v1H76zM77 33h1v1H77zM49 34h1v1H49zM55 37h1v1H55zM58 37h1v1H58zM99 38h1v1H99zM103 38h1v1H103zM61 40h1v1H61zM53 41h1v1H53z"/>
<path fill="#cbae5b" d="M133 2h1v1H133zM108 6h1v1H108zM8 8h1v1H8zM75 8h1v1H75zM77 8h1v1H77zM104 10h1v1H104zM78 12h1v1H78zM85 17h1v1H85zM79 29h1v1H79zM76 34h1v1H76zM60 37h1v1H60zM57 38h1v1H57zM55 39h1v1H55zM72 39h1v1H72z"/>
<path fill="#d7ac55" d="M108 2h1v1H108zM79 8h1v1H79zM78 10h1v1H78zM96 10h1v1H96zM34 12h1v1H34zM74 12h1v1H74zM94 12h1v1H94zM68 20h1v1H68zM81 23h1v1H81zM8 30h1v1H8zM77 31h1v1H77z"/>
<path fill="#e3ac4b" d="M50 5h1v1H50zM89 13h1v1H89zM86 16h1v1H86zM27 18h1v1H27zM83 19h1v1H83zM44 20h1v1H44zM76 31h1v1H76zM78 31h1v1H78zM76 33h1v1H76zM74 35h1v1H74zM102 38h1v1H102z"/>
<path fill="#f0ac42" d="M87 14h1v1H87zM71 22h1v1H71zM81 24h1v1H81zM79 27h1v1H79z"/>
<path fill="#f7b338" d="M144 6h1v1H144zM76 35h1v1H76z"/>
<path fill="#f7be2f" d="M115 2h1v1H115zM150 4h1v1H150zM149 5h1v1H149zM85 16h1v1H85zM78 29h1v1H78zM75 33h1v1H75z"/>
<path fill="#f6c727" d="M112 19h1v1H112zM83 20h1v1H83z"/>
<path fill="#f5d120" d="M139 4h1v1H139zM118 12h1v1H118zM82 20h1v1H82zM15 31h1v1H15zM62 37h1v1H62z"/>
<path fill="#f3d820" d="M86 14h1v1H86zM75 35h1v1H75z"/>
<path fill="#eee426" d="M156 6h1v1H156zM87 13h2v1H87zM81 22h2v1H81zM79 26h1v1H79zM77 30h3v1H77zM98 38h1v1H98z"/>
</g>
<g shape-rendering="crispEdges">
<rect x="342.6" y="302.30" width="7.3" height="5.25" fill="#3245a6"/>
<rect x="342.6" y="307.25" width="7.3" height="5.25" fill="#3665b2"/>
<rect x="342.6" y="312.21" width="7.3" height="5.25" fill="#3665b2"/>
<rect x="342.6" y="317.16" width="7.3" height="5.25" fill="#3245a6"/>
<rect x="342.6" y="322.11" width="7.3" height="5.25" fill="#376cb6"/>
<rect x="342.6" y="327.07" width="7.3" height="5.25" fill="#2eb29c"/>
<rect x="342.6" y="332.02" width="7.3" height="5.25" fill="#373aa2"/>
<rect x="342.6" y="336.97" width="7.3" height="5.25" fill="#2592cd"/>
<rect x="342.6" y="341.92" width="7.3" height="5.25" fill="#343ea4"/>
<rect x="342.6" y="346.88" width="7.3" height="5.25" fill="#343ea4"/>
<rect x="342.6" y="351.83" width="7.3" height="5.25" fill="#54ba88"/>
<rect x="342.6" y="356.78" width="7.3" height="5.25" fill="#343ea4"/>
<rect x="342.6" y="361.74" width="7.3" height="5.25" fill="#3245a6"/>
<rect x="342.6" y="366.69" width="7.3" height="5.25" fill="#3251ab"/>
<rect x="342.6" y="371.64" width="7.3" height="5.25" fill="#343ea4"/>
<rect x="342.6" y="376.60" width="7.3" height="5.25" fill="#3245a6"/>
<rect x="342.6" y="381.55" width="7.3" height="5.25" fill="#343ea4"/>
<rect x="342.6" y="386.50" width="7.3" height="5.25" fill="#298fcc"/>
<rect x="342.6" y="391.46" width="7.3" height="5.25" fill="#3245a6"/>
<rect x="342.6" y="396.41" width="7.3" height="5.25" fill="#343ea4"/>
<rect x="342.6" y="401.36" width="7.3" height="5.25" fill="#3777bc"/>
<rect x="342.6" y="406.31" width="7.3" height="5.25" fill="#343ea4"/>
<rect x="342.6" y="411.27" width="7.3" height="5.25" fill="#3245a6"/>
<rect x="342.6" y="416.22" width="7.3" height="5.25" fill="#343ea4"/>
<rect x="342.6" y="421.17" width="7.3" height="5.25" fill="#343ea4"/>
<rect x="342.6" y="426.13" width="7.3" height="5.25" fill="#3245a6"/>
<rect x="342.6" y="431.08" width="7.3" height="5.25" fill="#3251ab"/>
<rect x="342.6" y="436.03" width="7.3" height="5.25" fill="#2f88c8"/>
<rect x="342.6" y="440.99" width="7.3" height="5.25" fill="#3245a6"/>
<rect x="342.6" y="445.94" width="7.3" height="5.25" fill="#343ea4"/>
<rect x="342.6" y="450.89" width="7.3" height="5.25" fill="#343ea4"/>
<rect x="342.6" y="455.84" width="7.3" height="5.25" fill="#1d98d0"/>
<rect x="342.6" y="460.80" width="7.3" height="5.25" fill="#3245a6"/>
<rect x="342.6" y="465.75" width="7.3" height="5.25" fill="#343ea4"/>
<rect x="342.6" y="470.70" width="7.3" height="5.25" fill="#3245a6"/>
<rect x="342.6" y="475.66" width="7.3" height="5.25" fill="#3665b2"/>
<rect x="342.6" y="480.61" width="7.3" height="5.25" fill="#343ea4"/>
<rect x="342.6" y="485.56" width="7.3" height="5.25" fill="#3245a6"/>
<rect x="342.6" y="490.52" width="7.3" height="5.25" fill="#343ea4"/>
<rect x="342.6" y="495.47" width="7.3" height="5.25" fill="#3251ab"/>
<rect x="342.6" y="500.42" width="7.3" height="5.25" fill="#1d98d0"/>
<rect x="342.6" y="505.38" width="7.3" height="5.25" fill="#3245a6"/>
<rect x="342.6" y="510.33" width="7.3" height="5.25" fill="#343ea4"/>
<rect x="342.6" y="515.28" width="7.3" height="5.25" fill="#3251ab"/>
<rect x="342.6" y="520.23" width="7.3" height="5.25" fill="#343ea4"/>
<rect x="342.6" y="525.19" width="7.3" height="5.25" fill="#3245a6"/>
<rect x="342.6" y="530.14" width="7.3" height="5.25" fill="#3665b2"/>
<rect x="342.6" y="535.09" width="7.3" height="5.25" fill="#343ea4"/>
<rect x="342.6" y="540.05" width="7.3" height="5.25" fill="#3245a6"/>
</g>
<g shape-rendering="crispEdges">
<rect x="673.1" y="302.30" width="7.7" height="5.94" fill="#3245a6"/>
<rect x="673.1" y="307.94" width="7.7" height="5.94" fill="#f7b536"/>
<rect x="673.1" y="313.59" width="7.7" height="5.94" fill="#376cb6"/>
<rect x="673.1" y="319.23" width="7.7" height="5.94" fill="#54ba88"/>
<rect x="673.1" y="324.88" width="7.7" height="5.94" fill="#3245a6"/>
<rect x="673.1" y="330.52" width="7.7" height="5.94" fill="#3665b2"/>
<rect x="673.1" y="336.17" width="7.7" height="5.94" fill="#343ea4"/>
<rect x="673.1" y="341.81" width="7.7" height="5.94" fill="#343ea4"/>
<rect x="673.1" y="347.45" width="7.7" height="5.94" fill="#3777bc"/>
<rect x="673.1" y="353.10" width="7.7" height="5.94" fill="#3665b2"/>
<rect x="673.1" y="358.74" width="7.7" height="5.94" fill="#3245a6"/>
<rect x="673.1" y="364.39" width="7.7" height="5.94" fill="#3245a6"/>
<rect x="673.1" y="370.03" width="7.7" height="5.94" fill="#159ed0"/>
<rect x="673.1" y="375.67" width="7.7" height="5.94" fill="#373aa2"/>
<rect x="673.1" y="381.32" width="7.7" height="5.94" fill="#159ed0"/>
<rect x="673.1" y="386.96" width="7.7" height="5.94" fill="#373aa2"/>
<rect x="673.1" y="392.61" width="7.7" height="5.94" fill="#2eb29c"/>
<rect x="673.1" y="398.25" width="7.7" height="5.94" fill="#343ea4"/>
<rect x="673.1" y="403.90" width="7.7" height="5.94" fill="#343ea4"/>
<rect x="673.1" y="409.54" width="7.7" height="5.94" fill="#3245a6"/>
<rect x="673.1" y="415.18" width="7.7" height="5.94" fill="#343ea4"/>
<rect x="673.1" y="420.83" width="7.7" height="5.94" fill="#343ea4"/>
<rect x="673.1" y="426.47" width="7.7" height="5.94" fill="#3bb592"/>
<rect x="673.1" y="432.12" width="7.7" height="5.94" fill="#343ea4"/>
<rect x="673.1" y="437.76" width="7.7" height="5.94" fill="#3245a6"/>
<rect x="673.1" y="443.40" width="7.7" height="5.94" fill="#343ea4"/>
<rect x="673.1" y="449.05" width="7.7" height="5.94" fill="#3245a6"/>
<rect x="673.1" y="454.69" width="7.7" height="5.94" fill="#3251ab"/>
<rect x="673.1" y="460.34" width="7.7" height="5.94" fill="#343ea4"/>
<rect x="673.1" y="465.98" width="7.7" height="5.94" fill="#3245a6"/>
<rect x="673.1" y="471.63" width="7.7" height="5.94" fill="#343ea4"/>
<rect x="673.1" y="477.27" width="7.7" height="5.94" fill="#3245a6"/>
<rect x="673.1" y="482.91" width="7.7" height="5.94" fill="#3251ab"/>
<rect x="673.1" y="488.56" width="7.7" height="5.94" fill="#343ea4"/>
<rect x="673.1" y="494.20" width="7.7" height="5.94" fill="#3245a6"/>
<rect x="673.1" y="499.85" width="7.7" height="5.94" fill="#343ea4"/>
<rect x="673.1" y="505.49" width="7.7" height="5.94" fill="#3251ab"/>
<rect x="673.1" y="511.13" width="7.7" height="5.94" fill="#3245a6"/>
<rect x="673.1" y="516.78" width="7.7" height="5.94" fill="#f3d920"/>
<rect x="673.1" y="522.42" width="7.7" height="5.94" fill="#3251ab"/>
<rect x="673.1" y="528.07" width="7.7" height="5.94" fill="#3665b2"/>
<rect x="673.1" y="533.71" width="7.7" height="5.94" fill="#3251ab"/>
<rect x="673.1" y="539.36" width="7.7" height="5.94" fill="#3665b2"/>
</g>
<defs><linearGradient id="cbar" x1="0" y1="0" x2="0" y2="1"><stop offset="0.00" stop-color="#eee426"/><stop offset="0.05" stop-color="#f3d920"/><stop offset="0.10" stop-color="#f6c827"/><stop offset="0.15" stop-color="#f7b536"/><stop offset="0.20" stop-color="#e6ac49"/><stop offset="0.25" stop-color="#cead5a"/><stop offset="0.30" stop-color="#b9b464"/><stop offset="0.35" stop-color="#9cb86c"/><stop offset="0.40" stop-color="#7bbc78"/><stop offset="0.45" stop-color="#54ba88"/><stop offset="0.50" stop-color="#2eb29c"/><stop offset="0.55" stop-color="#1baabb"/><stop offset="0.60" stop-color="#11a1ce"/><stop offset="0.65" stop-color="#1d98d0"/><stop offset="0.70" stop-color="#2f88c8"/><stop offset="0.75" stop-color="#3777bc"/><stop offset="0.80" stop-color="#3665b2"/><stop offset="0.85" stop-color="#3251ab"/><stop offset="0.90" stop-color="#343ea4"/><stop offset="0.95" stop-color="#3c32a0"/><stop offset="1.00" stop-color="#412896"/></linearGradient></defs><rect x="13.2" y="382.1" width="9.7" height="118.6" fill="url(#cbar)"/>
<text x="18.0" y="374.0" font-size="16.4" text-anchor="middle" fill="#111" font-weight="normal" >High</text>
<text x="17.8" y="513.4" font-size="16.4" text-anchor="middle" fill="#111" font-weight="normal" >Low</text>
<text x="345.2" y="297.7" font-size="16.4" text-anchor="middle" fill="#111" font-weight="normal" >BL</text>
<text x="676.5" y="297.7" font-size="16.4" text-anchor="middle" fill="#111" font-weight="normal" >BL</text>
<text x="40.0" y="312.6" font-size="16.4" text-anchor="end" fill="#111" font-weight="normal" >49</text>
<text x="37.9" y="544.6" font-size="16.4" text-anchor="end" fill="#111" font-weight="normal" >1</text>
<text x="369.9" y="312.9" font-size="16.4" text-anchor="end" fill="#111" font-weight="normal" >43</text>
<text x="368.0" y="544.6" font-size="16.4" text-anchor="end" fill="#111" font-weight="normal" >1</text>
<line x1="42.2" y1="551.4" x2="335.7" y2="551.4" stroke="#111" stroke-width="1.3"/>
<line x1="42.2" y1="550.8" x2="42.2" y2="555.8" stroke="#111" stroke-width="1.3"/>
<line x1="188.0" y1="550.8" x2="188.0" y2="555.8" stroke="#111" stroke-width="1.3"/>
<line x1="335.7" y1="550.8" x2="335.7" y2="555.8" stroke="#111" stroke-width="1.3"/>
<text x="41.9" y="570.2" font-size="16.4" text-anchor="middle" fill="#111" font-weight="normal" >−8</text>
<text x="188.0" y="570.2" font-size="16.4" text-anchor="middle" fill="#111" font-weight="normal" >0</text>
<text x="335.7" y="570.2" font-size="16.4" text-anchor="middle" fill="#111" font-weight="normal" >8</text>
<text x="188.5" y="588.0" font-size="16.4" text-anchor="middle" fill="#111" font-weight="normal" >Time (s)</text>
<line x1="372.0" y1="551.4" x2="665.7" y2="551.4" stroke="#111" stroke-width="1.3"/>
<line x1="372.0" y1="550.8" x2="372.0" y2="555.8" stroke="#111" stroke-width="1.3"/>
<line x1="517.9" y1="550.8" x2="517.9" y2="555.8" stroke="#111" stroke-width="1.3"/>
<line x1="665.7" y1="550.8" x2="665.7" y2="555.8" stroke="#111" stroke-width="1.3"/>
<text x="371.7" y="570.2" font-size="16.4" text-anchor="middle" fill="#111" font-weight="normal" >−8</text>
<text x="517.9" y="570.2" font-size="16.4" text-anchor="middle" fill="#111" font-weight="normal" >0</text>
<text x="665.7" y="570.2" font-size="16.4" text-anchor="middle" fill="#111" font-weight="normal" >8</text>
<text x="518.4" y="588.0" font-size="16.4" text-anchor="middle" fill="#111" font-weight="normal" >Time (s)</text>
<text x="0.2" y="625.3" font-size="21.8" text-anchor="start" fill="#000" font-weight="bold" stroke="#000" stroke-width="0.5">b</text>
<rect x="109.7" y="614.30" width="45.5" height="6.51" fill="#7dd791"/>
<rect x="155.3" y="614.30" width="3.7" height="6.51" fill="#fde47d"/>
<rect x="159.0" y="614.30" width="25.2" height="6.51" fill="#d47dcd"/>

<rect x="109.7" y="620.76" width="24.8" height="6.51" fill="#7dd791"/>
<rect x="134.5" y="620.76" width="8.3" height="6.51" fill="#fde47d"/>
<rect x="142.8" y="620.76" width="20.5" height="6.51" fill="#d47dcd"/>
<rect x="158.3" y="621.9" width="1.4" height="4.1" fill="#000"/><rect x="160.2" y="621.9" width="1.4" height="4.1" fill="#000"/><rect x="162.1" y="621.9" width="1.4" height="4.1" fill="#000"/><rect x="167.3" y="621.9" width="1.4" height="4.1" fill="#000"/><rect x="169.2" y="621.9" width="1.4" height="4.1" fill="#000"/><rect x="171.1" y="621.9" width="1.4" height="4.1" fill="#000"/><rect x="173.0" y="621.9" width="1.4" height="4.1" fill="#000"/><rect x="176.9" y="621.9" width="1.4" height="4.1" fill="#000"/><rect x="178.8" y="621.9" width="1.4" height="4.1" fill="#000"/>
<rect x="109.7" y="620.51" width="0" height="0"/>
<rect x="109.7" y="627.22" width="20.1" height="6.51" fill="#7dd791"/>
<rect x="129.8" y="627.22" width="8.1" height="6.51" fill="#fde47d"/>
<rect x="137.9" y="627.22" width="16.8" height="6.51" fill="#d47dcd"/>
<rect x="163.6" y="628.4" width="1.4" height="4.1" fill="#000"/><rect x="165.5" y="628.4" width="1.4" height="4.1" fill="#000"/><rect x="172.3" y="628.4" width="1.4" height="4.1" fill="#000"/><rect x="174.2" y="628.4" width="1.4" height="4.1" fill="#000"/><rect x="176.1" y="628.4" width="1.4" height="4.1" fill="#000"/><rect x="178.0" y="628.4" width="1.4" height="4.1" fill="#000"/><rect x="180.6" y="628.4" width="1.4" height="4.1" fill="#000"/><rect x="182.5" y="628.4" width="1.4" height="4.1" fill="#000"/>
<rect x="109.7" y="626.97" width="0" height="0"/>
<rect x="109.7" y="633.68" width="23.2" height="6.51" fill="#7dd791"/>
<rect x="132.9" y="633.68" width="9.3" height="6.51" fill="#fde47d"/>
<rect x="142.2" y="633.68" width="20.5" height="6.51" fill="#d47dcd"/>
<rect x="160.8" y="634.8" width="1.4" height="4.1" fill="#000"/><rect x="165.3" y="634.8" width="1.4" height="4.1" fill="#000"/><rect x="171.3" y="634.8" width="1.4" height="4.1" fill="#000"/><rect x="173.2" y="634.8" width="1.4" height="4.1" fill="#000"/><rect x="175.1" y="634.8" width="1.4" height="4.1" fill="#000"/><rect x="181.9" y="634.8" width="1.4" height="4.1" fill="#000"/>
<rect x="109.7" y="633.43" width="0" height="0"/>
<rect x="109.7" y="640.14" width="18.9" height="6.51" fill="#7dd791"/>
<rect x="128.6" y="640.14" width="9.7" height="6.51" fill="#fde47d"/>
<rect x="138.3" y="640.14" width="13.9" height="6.51" fill="#d47dcd"/>
<rect x="150.5" y="641.3" width="1.4" height="4.1" fill="#000"/><rect x="155.2" y="641.3" width="1.4" height="4.1" fill="#000"/><rect x="157.1" y="641.3" width="1.4" height="4.1" fill="#000"/><rect x="165.7" y="641.3" width="1.4" height="4.1" fill="#000"/><rect x="167.6" y="641.3" width="1.4" height="4.1" fill="#000"/><rect x="171.3" y="641.3" width="1.4" height="4.1" fill="#000"/><rect x="173.2" y="641.3" width="1.4" height="4.1" fill="#000"/><rect x="175.1" y="641.3" width="1.4" height="4.1" fill="#000"/><rect x="178.1" y="641.3" width="1.4" height="4.1" fill="#000"/><rect x="180.0" y="641.3" width="1.4" height="4.1" fill="#000"/>
<rect x="109.7" y="639.89" width="0" height="0"/>
<rect x="109.7" y="646.60" width="32.5" height="6.51" fill="#7dd791"/>
<rect x="142.2" y="646.60" width="8.7" height="6.51" fill="#fde47d"/>
<rect x="150.9" y="646.60" width="21.7" height="6.51" fill="#d47dcd"/>
<rect x="164.5" y="647.8" width="1.4" height="4.1" fill="#000"/><rect x="166.4" y="647.8" width="1.4" height="4.1" fill="#000"/><rect x="170.1" y="647.8" width="1.4" height="4.1" fill="#000"/><rect x="179.4" y="647.8" width="1.4" height="4.1" fill="#000"/>
<rect x="109.7" y="646.35" width="0" height="0"/>
<rect x="109.7" y="653.06" width="34.0" height="6.51" fill="#7dd791"/>
<rect x="143.7" y="653.06" width="9.9" height="6.51" fill="#fde47d"/>
<rect x="153.6" y="653.06" width="18.1" height="6.51" fill="#d47dcd"/>

<rect x="109.7" y="652.81" width="0" height="0"/>
<rect x="109.7" y="659.52" width="16.6" height="6.51" fill="#7dd791"/>
<rect x="126.3" y="659.52" width="9.4" height="6.51" fill="#fde47d"/>
<rect x="135.8" y="659.52" width="16.1" height="6.51" fill="#d47dcd"/>
<rect x="151.2" y="660.7" width="1.4" height="4.1" fill="#000"/><rect x="153.1" y="660.7" width="1.4" height="4.1" fill="#000"/><rect x="161.4" y="660.7" width="1.4" height="4.1" fill="#000"/><rect x="167.3" y="660.7" width="1.4" height="4.1" fill="#000"/><rect x="169.2" y="660.7" width="1.4" height="4.1" fill="#000"/><rect x="171.1" y="660.7" width="1.4" height="4.1" fill="#000"/><rect x="174.4" y="660.7" width="1.4" height="4.1" fill="#000"/>
<rect x="109.7" y="659.27" width="0" height="0"/>
<rect x="109.7" y="665.98" width="22.6" height="6.51" fill="#7dd791"/>
<rect x="132.3" y="665.98" width="11.8" height="6.51" fill="#fde47d"/>
<rect x="144.1" y="665.98" width="23.9" height="6.51" fill="#d47dcd"/>

<rect x="109.7" y="665.73" width="0" height="0"/>
<rect x="109.7" y="672.44" width="33.1" height="6.51" fill="#7dd791"/>
<rect x="142.8" y="672.44" width="12.8" height="6.51" fill="#fde47d"/>
<rect x="155.6" y="672.44" width="29.8" height="6.51" fill="#d47dcd"/>

<rect x="109.7" y="672.19" width="0" height="0"/>
<rect x="277.2" y="615.90" width="75.7" height="7.21" fill="#fdb97c"/>
<rect x="297.5" y="617.2" width="1.4" height="4.6" fill="#000"/><rect x="299.4" y="617.2" width="1.4" height="4.6" fill="#000"/><rect x="308.9" y="617.2" width="1.4" height="4.6" fill="#000"/><rect x="310.8" y="617.2" width="1.4" height="4.6" fill="#000"/><rect x="318.5" y="617.2" width="1.4" height="4.6" fill="#000"/><rect x="322.0" y="617.2" width="1.4" height="4.6" fill="#000"/><rect x="325.5" y="617.2" width="1.4" height="4.6" fill="#000"/><rect x="333.4" y="617.2" width="1.4" height="4.6" fill="#000"/><rect x="339.5" y="617.2" width="1.4" height="4.6" fill="#000"/><rect x="344.8" y="617.2" width="1.4" height="4.6" fill="#000"/><rect x="346.7" y="617.2" width="1.4" height="4.6" fill="#000"/>
<rect x="277.2" y="623.06" width="75.7" height="7.21" fill="#fdb97c"/>
<rect x="279.4" y="624.3" width="1.4" height="4.6" fill="#000"/><rect x="281.3" y="624.3" width="1.4" height="4.6" fill="#000"/><rect x="291.0" y="624.3" width="1.4" height="4.6" fill="#000"/><rect x="296.6" y="624.3" width="1.4" height="4.6" fill="#000"/><rect x="303.6" y="624.3" width="1.4" height="4.6" fill="#000"/><rect x="306.2" y="624.3" width="1.4" height="4.6" fill="#000"/>
<rect x="277.2" y="622.81" width="0" height="0"/>
<rect x="277.2" y="630.22" width="75.7" height="7.21" fill="#fdb97c"/>
<rect x="256.3" y="631.5" width="1.4" height="4.6" fill="#000"/><rect x="264.7" y="631.5" width="1.4" height="4.6" fill="#000"/><rect x="268.9" y="631.5" width="1.4" height="4.6" fill="#000"/><rect x="322.0" y="631.5" width="1.4" height="4.6" fill="#000"/><rect x="326.4" y="631.5" width="1.4" height="4.6" fill="#000"/><rect x="328.3" y="631.5" width="1.4" height="4.6" fill="#000"/><rect x="331.3" y="631.5" width="1.4" height="4.6" fill="#000"/><rect x="333.2" y="631.5" width="1.4" height="4.6" fill="#000"/><rect x="335.1" y="631.5" width="1.4" height="4.6" fill="#000"/><rect x="339.5" y="631.5" width="1.4" height="4.6" fill="#000"/><rect x="343.4" y="631.5" width="1.4" height="4.6" fill="#000"/><rect x="345.3" y="631.5" width="1.4" height="4.6" fill="#000"/><rect x="347.2" y="631.5" width="1.4" height="4.6" fill="#000"/><rect x="350.0" y="631.5" width="1.4" height="4.6" fill="#000"/>
<rect x="277.2" y="629.97" width="0" height="0"/>
<rect x="277.2" y="637.38" width="75.7" height="7.21" fill="#fdb97c"/>
<rect x="276.5" y="638.7" width="1.4" height="4.6" fill="#000"/><rect x="278.4" y="638.7" width="1.4" height="4.6" fill="#000"/><rect x="286.4" y="638.7" width="1.4" height="4.6" fill="#000"/><rect x="288.3" y="638.7" width="1.4" height="4.6" fill="#000"/><rect x="294.0" y="638.7" width="1.4" height="4.6" fill="#000"/><rect x="297.5" y="638.7" width="1.4" height="4.6" fill="#000"/><rect x="301.0" y="638.7" width="1.4" height="4.6" fill="#000"/><rect x="302.9" y="638.7" width="1.4" height="4.6" fill="#000"/><rect x="304.8" y="638.7" width="1.4" height="4.6" fill="#000"/><rect x="311.0" y="638.7" width="1.4" height="4.6" fill="#000"/><rect x="312.9" y="638.7" width="1.4" height="4.6" fill="#000"/><rect x="318.5" y="638.7" width="1.4" height="4.6" fill="#000"/><rect x="320.4" y="638.7" width="1.4" height="4.6" fill="#000"/><rect x="322.9" y="638.7" width="1.4" height="4.6" fill="#000"/><rect x="324.8" y="638.7" width="1.4" height="4.6" fill="#000"/><rect x="326.7" y="638.7" width="1.4" height="4.6" fill="#000"/><rect x="328.6" y="638.7" width="1.4" height="4.6" fill="#000"/><rect x="332.5" y="638.7" width="1.4" height="4.6" fill="#000"/><rect x="334.4" y="638.7" width="1.4" height="4.6" fill="#000"/><rect x="336.9" y="638.7" width="1.4" height="4.6" fill="#000"/><rect x="338.8" y="638.7" width="1.4" height="4.6" fill="#000"/><rect x="340.7" y="638.7" width="1.4" height="4.6" fill="#000"/><rect x="343.9" y="638.7" width="1.4" height="4.6" fill="#000"/><rect x="345.8" y="638.7" width="1.4" height="4.6" fill="#000"/><rect x="348.3" y="638.7" width="1.4" height="4.6" fill="#000"/><rect x="350.2" y="638.7" width="1.4" height="4.6" fill="#000"/><rect x="352.1" y="638.7" width="1.4" height="4.6" fill="#000"/>
<rect x="277.2" y="637.13" width="0" height="0"/>
<rect x="277.2" y="644.54" width="75.7" height="7.21" fill="#fdb97c"/>
<rect x="275.2" y="645.8" width="1.4" height="4.6" fill="#000"/><rect x="282.6" y="645.8" width="1.4" height="4.6" fill="#000"/><rect x="284.5" y="645.8" width="1.4" height="4.6" fill="#000"/><rect x="299.8" y="645.8" width="1.4" height="4.6" fill="#000"/><rect x="301.7" y="645.8" width="1.4" height="4.6" fill="#000"/><rect x="307.1" y="645.8" width="1.4" height="4.6" fill="#000"/><rect x="310.6" y="645.8" width="1.4" height="4.6" fill="#000"/><rect x="312.5" y="645.8" width="1.4" height="4.6" fill="#000"/><rect x="318.0" y="645.8" width="1.4" height="4.6" fill="#000"/><rect x="319.9" y="645.8" width="1.4" height="4.6" fill="#000"/><rect x="321.8" y="645.8" width="1.4" height="4.6" fill="#000"/><rect x="329.0" y="645.8" width="1.4" height="4.6" fill="#000"/><rect x="330.9" y="645.8" width="1.4" height="4.6" fill="#000"/><rect x="334.3" y="645.8" width="1.4" height="4.6" fill="#000"/><rect x="336.2" y="645.8" width="1.4" height="4.6" fill="#000"/><rect x="339.5" y="645.8" width="1.4" height="4.6" fill="#000"/><rect x="341.4" y="645.8" width="1.4" height="4.6" fill="#000"/><rect x="343.9" y="645.8" width="1.4" height="4.6" fill="#000"/><rect x="345.8" y="645.8" width="1.4" height="4.6" fill="#000"/><rect x="350.9" y="645.8" width="1.4" height="4.6" fill="#000"/>
<rect x="277.2" y="644.29" width="0" height="0"/>
<rect x="277.2" y="651.70" width="75.7" height="7.21" fill="#fdb97c"/>
<rect x="260.7" y="653.0" width="1.4" height="4.6" fill="#000"/><rect x="266.8" y="653.0" width="1.4" height="4.6" fill="#000"/><rect x="269.4" y="653.0" width="1.4" height="4.6" fill="#000"/><rect x="271.3" y="653.0" width="1.4" height="4.6" fill="#000"/><rect x="273.8" y="653.0" width="1.4" height="4.6" fill="#000"/><rect x="279.4" y="653.0" width="1.4" height="4.6" fill="#000"/><rect x="281.3" y="653.0" width="1.4" height="4.6" fill="#000"/><rect x="289.6" y="653.0" width="1.4" height="4.6" fill="#000"/><rect x="294.5" y="653.0" width="1.4" height="4.6" fill="#000"/><rect x="296.4" y="653.0" width="1.4" height="4.6" fill="#000"/><rect x="298.3" y="653.0" width="1.4" height="4.6" fill="#000"/><rect x="300.2" y="653.0" width="1.4" height="4.6" fill="#000"/><rect x="302.1" y="653.0" width="1.4" height="4.6" fill="#000"/><rect x="304.0" y="653.0" width="1.4" height="4.6" fill="#000"/><rect x="305.9" y="653.0" width="1.4" height="4.6" fill="#000"/><rect x="307.8" y="653.0" width="1.4" height="4.6" fill="#000"/><rect x="309.7" y="653.0" width="1.4" height="4.6" fill="#000"/><rect x="313.2" y="653.0" width="1.4" height="4.6" fill="#000"/><rect x="315.1" y="653.0" width="1.4" height="4.6" fill="#000"/><rect x="317.0" y="653.0" width="1.4" height="4.6" fill="#000"/><rect x="323.8" y="653.0" width="1.4" height="4.6" fill="#000"/><rect x="325.7" y="653.0" width="1.4" height="4.6" fill="#000"/><rect x="327.6" y="653.0" width="1.4" height="4.6" fill="#000"/><rect x="329.5" y="653.0" width="1.4" height="4.6" fill="#000"/><rect x="331.4" y="653.0" width="1.4" height="4.6" fill="#000"/><rect x="335.1" y="653.0" width="1.4" height="4.6" fill="#000"/><rect x="339.5" y="653.0" width="1.4" height="4.6" fill="#000"/><rect x="341.4" y="653.0" width="1.4" height="4.6" fill="#000"/><rect x="345.7" y="653.0" width="1.4" height="4.6" fill="#000"/><rect x="350.6" y="653.0" width="1.4" height="4.6" fill="#000"/>
<rect x="277.2" y="651.45" width="0" height="0"/>
<rect x="277.2" y="658.86" width="75.7" height="7.21" fill="#fdb97c"/>
<rect x="256.0" y="660.1" width="1.4" height="4.6" fill="#000"/><rect x="263.3" y="660.1" width="1.4" height="4.6" fill="#000"/><rect x="265.2" y="660.1" width="1.4" height="4.6" fill="#000"/><rect x="268.6" y="660.1" width="1.4" height="4.6" fill="#000"/><rect x="270.5" y="660.1" width="1.4" height="4.6" fill="#000"/><rect x="307.1" y="660.1" width="1.4" height="4.6" fill="#000"/><rect x="329.0" y="660.1" width="1.4" height="4.6" fill="#000"/><rect x="332.5" y="660.1" width="1.4" height="4.6" fill="#000"/><rect x="334.4" y="660.1" width="1.4" height="4.6" fill="#000"/><rect x="336.3" y="660.1" width="1.4" height="4.6" fill="#000"/><rect x="338.2" y="660.1" width="1.4" height="4.6" fill="#000"/><rect x="340.1" y="660.1" width="1.4" height="4.6" fill="#000"/><rect x="341.3" y="660.1" width="1.4" height="4.6" fill="#000"/><rect x="343.2" y="660.1" width="1.4" height="4.6" fill="#000"/><rect x="345.1" y="660.1" width="1.4" height="4.6" fill="#000"/><rect x="347.0" y="660.1" width="1.4" height="4.6" fill="#000"/><rect x="348.9" y="660.1" width="1.4" height="4.6" fill="#000"/><rect x="350.6" y="660.1" width="1.4" height="4.6" fill="#000"/>
<rect x="277.2" y="658.61" width="0" height="0"/>
<rect x="277.2" y="666.02" width="75.7" height="7.21" fill="#fdb97c"/>
<rect x="267.7" y="667.3" width="1.4" height="4.6" fill="#000"/><rect x="271.2" y="667.3" width="1.4" height="4.6" fill="#000"/><rect x="273.1" y="667.3" width="1.4" height="4.6" fill="#000"/><rect x="282.9" y="667.3" width="1.4" height="4.6" fill="#000"/><rect x="289.9" y="667.3" width="1.4" height="4.6" fill="#000"/><rect x="295.7" y="667.3" width="1.4" height="4.6" fill="#000"/><rect x="297.6" y="667.3" width="1.4" height="4.6" fill="#000"/><rect x="299.5" y="667.3" width="1.4" height="4.6" fill="#000"/><rect x="301.4" y="667.3" width="1.4" height="4.6" fill="#000"/><rect x="306.2" y="667.3" width="1.4" height="4.6" fill="#000"/><rect x="316.7" y="667.3" width="1.4" height="4.6" fill="#000"/><rect x="320.3" y="667.3" width="1.4" height="4.6" fill="#000"/><rect x="322.2" y="667.3" width="1.4" height="4.6" fill="#000"/><rect x="324.1" y="667.3" width="1.4" height="4.6" fill="#000"/><rect x="326.4" y="667.3" width="1.4" height="4.6" fill="#000"/><rect x="336.0" y="667.3" width="1.4" height="4.6" fill="#000"/><rect x="343.0" y="667.3" width="1.4" height="4.6" fill="#000"/><rect x="346.5" y="667.3" width="1.4" height="4.6" fill="#000"/><rect x="350.6" y="667.3" width="1.4" height="4.6" fill="#000"/>
<rect x="277.2" y="665.77" width="0" height="0"/>
<rect x="277.2" y="673.18" width="75.7" height="7.21" fill="#fdb97c"/>
<rect x="271.2" y="674.5" width="1.4" height="4.6" fill="#000"/><rect x="276.5" y="674.5" width="1.4" height="4.6" fill="#000"/><rect x="287.0" y="674.5" width="1.4" height="4.6" fill="#000"/><rect x="293.1" y="674.5" width="1.4" height="4.6" fill="#000"/><rect x="295.0" y="674.5" width="1.4" height="4.6" fill="#000"/><rect x="301.0" y="674.5" width="1.4" height="4.6" fill="#000"/><rect x="302.9" y="674.5" width="1.4" height="4.6" fill="#000"/><rect x="304.8" y="674.5" width="1.4" height="4.6" fill="#000"/><rect x="308.0" y="674.5" width="1.4" height="4.6" fill="#000"/><rect x="318.5" y="674.5" width="1.4" height="4.6" fill="#000"/><rect x="322.9" y="674.5" width="1.4" height="4.6" fill="#000"/><rect x="332.5" y="674.5" width="1.4" height="4.6" fill="#000"/><rect x="334.4" y="674.5" width="1.4" height="4.6" fill="#000"/><rect x="336.3" y="674.5" width="1.4" height="4.6" fill="#000"/><rect x="338.2" y="674.5" width="1.4" height="4.6" fill="#000"/><rect x="340.1" y="674.5" width="1.4" height="4.6" fill="#000"/><rect x="342.2" y="674.5" width="1.4" height="4.6" fill="#000"/><rect x="344.1" y="674.5" width="1.4" height="4.6" fill="#000"/><rect x="346.0" y="674.5" width="1.4" height="4.6" fill="#000"/><rect x="350.6" y="674.5" width="1.4" height="4.6" fill="#000"/>
<rect x="277.2" y="672.93" width="0" height="0"/>
<rect x="277.2" y="622.76" width="75.6" height="0.6" fill="#fff" fill-opacity="0.35"/>
<rect x="277.2" y="629.92" width="75.6" height="0.6" fill="#fff" fill-opacity="0.35"/>
<rect x="277.2" y="637.08" width="75.6" height="0.6" fill="#fff" fill-opacity="0.35"/>
<rect x="277.2" y="644.24" width="75.6" height="0.6" fill="#fff" fill-opacity="0.35"/>
<rect x="277.2" y="651.40" width="75.6" height="0.6" fill="#fff" fill-opacity="0.35"/>
<rect x="277.2" y="658.56" width="75.6" height="0.6" fill="#fff" fill-opacity="0.35"/>
<rect x="277.2" y="665.72" width="75.6" height="0.6" fill="#fff" fill-opacity="0.35"/>
<rect x="277.2" y="672.88" width="75.6" height="0.6" fill="#fff" fill-opacity="0.35"/>
<rect x="434.5" y="616.20" width="11.2" height="6.50" fill="#d2d2d2"/>
<rect x="445.7" y="616.20" width="18.1" height="6.50" fill="#7dd791"/>
<rect x="463.8" y="616.20" width="50.6" height="6.50" fill="#fde47d"/>
<rect x="514.5" y="616.20" width="6.2" height="6.50" fill="#d47dcd"/>

<rect x="412.7" y="622.65" width="33.0" height="6.50" fill="#d2d2d2"/>
<rect x="445.7" y="622.65" width="24.8" height="6.50" fill="#7dd791"/>
<rect x="470.5" y="622.65" width="24.8" height="6.50" fill="#fde47d"/>
<rect x="495.3" y="622.65" width="19.1" height="6.50" fill="#d47dcd"/>

<rect x="412.7" y="622.40" width="0" height="0"/>
<rect x="406.0" y="629.10" width="39.7" height="6.50" fill="#d2d2d2"/>
<rect x="445.7" y="629.10" width="18.6" height="6.50" fill="#7dd791"/>
<rect x="464.3" y="629.10" width="56.3" height="6.50" fill="#fde47d"/>

<rect x="406.0" y="628.85" width="0" height="0"/>
<rect x="424.1" y="635.55" width="21.6" height="6.50" fill="#d2d2d2"/>
<rect x="445.7" y="635.55" width="16.1" height="6.50" fill="#7dd791"/>
<rect x="461.8" y="635.55" width="42.2" height="6.50" fill="#fde47d"/>
<rect x="504.0" y="635.55" width="16.6" height="6.50" fill="#d47dcd"/>

<rect x="424.1" y="635.30" width="0" height="0"/>
<rect x="396.1" y="642.00" width="49.6" height="6.50" fill="#d2d2d2"/>
<rect x="445.7" y="642.00" width="27.3" height="6.50" fill="#7dd791"/>
<rect x="473.0" y="642.00" width="47.7" height="6.50" fill="#fde47d"/>

<rect x="396.1" y="641.75" width="0" height="0"/>
<rect x="396.1" y="648.45" width="49.6" height="6.50" fill="#d2d2d2"/>
<rect x="445.7" y="648.45" width="20.6" height="6.50" fill="#7dd791"/>
<rect x="466.3" y="648.45" width="36.5" height="6.50" fill="#fde47d"/>
<rect x="502.8" y="648.45" width="17.9" height="6.50" fill="#d47dcd"/>
<rect x="467.3" y="649.6" width="1.4" height="4.1" fill="#000"/>
<rect x="396.1" y="648.20" width="0" height="0"/>
<rect x="409.7" y="654.90" width="36.0" height="6.50" fill="#d2d2d2"/>
<rect x="445.7" y="654.90" width="14.1" height="6.50" fill="#7dd791"/>
<rect x="459.8" y="654.90" width="60.8" height="6.50" fill="#fde47d"/>

<rect x="409.7" y="654.65" width="0" height="0"/>
<rect x="396.1" y="661.35" width="49.6" height="6.50" fill="#d2d2d2"/>
<rect x="445.7" y="661.35" width="24.1" height="6.50" fill="#7dd791"/>
<rect x="469.8" y="661.35" width="44.7" height="6.50" fill="#fde47d"/>
<rect x="514.5" y="661.35" width="6.2" height="6.50" fill="#d47dcd"/>

<rect x="396.1" y="661.10" width="0" height="0"/>
<rect x="414.7" y="667.80" width="31.0" height="6.50" fill="#d2d2d2"/>
<rect x="445.7" y="667.80" width="18.6" height="6.50" fill="#7dd791"/>
<rect x="464.3" y="667.80" width="21.1" height="6.50" fill="#fde47d"/>
<rect x="485.4" y="667.80" width="17.4" height="6.50" fill="#d47dcd"/>

<rect x="414.7" y="667.55" width="0" height="0"/>
<rect x="396.1" y="674.25" width="49.6" height="6.50" fill="#d2d2d2"/>
<rect x="445.7" y="674.25" width="20.6" height="6.50" fill="#7dd791"/>
<rect x="466.3" y="674.25" width="12.9" height="6.50" fill="#fde47d"/>
<rect x="479.2" y="674.25" width="36.7" height="6.50" fill="#d47dcd"/>
<rect x="459.9" y="675.4" width="1.4" height="4.1" fill="#000"/><rect x="512.0" y="675.4" width="1.4" height="4.1" fill="#000"/>
<rect x="396.1" y="674.00" width="0" height="0"/>
<rect x="109.4" y="820.50" width="18.9" height="5.44" fill="#7dd791"/>
<rect x="128.3" y="820.50" width="8.6" height="5.44" fill="#fde47d"/>
<rect x="136.9" y="820.50" width="24.5" height="5.44" fill="#d47dcd"/>
<rect x="59.9" y="821.5" width="1.4" height="3.4" fill="#000"/><rect x="61.5" y="821.5" width="1.4" height="3.4" fill="#000"/><rect x="63.8" y="821.5" width="1.4" height="3.4" fill="#000"/><rect x="68.5" y="821.5" width="1.4" height="3.4" fill="#000"/><rect x="73.9" y="821.5" width="1.4" height="3.4" fill="#000"/><rect x="112.9" y="821.5" width="1.4" height="3.4" fill="#000"/><rect x="119.9" y="821.5" width="1.4" height="3.4" fill="#000"/><rect x="160.8" y="821.5" width="1.4" height="3.4" fill="#000"/>
<rect x="109.4" y="825.89" width="13.5" height="5.44" fill="#7dd791"/>
<rect x="122.9" y="825.89" width="7.0" height="5.44" fill="#fde47d"/>
<rect x="129.9" y="825.89" width="40.9" height="5.44" fill="#d47dcd"/>
<rect x="60.3" y="826.9" width="1.4" height="3.4" fill="#000"/><rect x="62.2" y="826.9" width="1.4" height="3.4" fill="#000"/><rect x="64.5" y="826.9" width="1.4" height="3.4" fill="#000"/><rect x="66.9" y="826.9" width="1.4" height="3.4" fill="#000"/><rect x="68.5" y="826.9" width="1.4" height="3.4" fill="#000"/><rect x="75.5" y="826.9" width="1.4" height="3.4" fill="#000"/><rect x="77.1" y="826.9" width="1.4" height="3.4" fill="#000"/><rect x="79.5" y="826.9" width="1.4" height="3.4" fill="#000"/><rect x="81.3" y="826.9" width="1.4" height="3.4" fill="#000"/><rect x="83.7" y="826.9" width="1.4" height="3.4" fill="#000"/><rect x="91.2" y="826.9" width="1.4" height="3.4" fill="#000"/><rect x="101.9" y="826.9" width="1.4" height="3.4" fill="#000"/><rect x="110.5" y="826.9" width="1.4" height="3.4" fill="#000"/><rect x="112.9" y="826.9" width="1.4" height="3.4" fill="#000"/><rect x="115.2" y="826.9" width="1.4" height="3.4" fill="#000"/><rect x="117.6" y="826.9" width="1.4" height="3.4" fill="#000"/><rect x="121.1" y="826.9" width="1.4" height="3.4" fill="#000"/>
<rect x="109.4" y="825.64" width="0" height="0"/>
<rect x="109.4" y="831.28" width="12.4" height="5.44" fill="#7dd791"/>
<rect x="121.8" y="831.28" width="7.0" height="5.44" fill="#fde47d"/>
<rect x="128.8" y="831.28" width="5.8" height="5.44" fill="#d47dcd"/>
<rect x="76.7" y="832.3" width="1.4" height="3.4" fill="#000"/><rect x="79.0" y="832.3" width="1.4" height="3.4" fill="#000"/><rect x="82.5" y="832.3" width="1.4" height="3.4" fill="#000"/><rect x="113.6" y="832.3" width="1.4" height="3.4" fill="#000"/><rect x="135.1" y="832.3" width="1.4" height="3.4" fill="#000"/><rect x="137.4" y="832.3" width="1.4" height="3.4" fill="#000"/><rect x="139.3" y="832.3" width="1.4" height="3.4" fill="#000"/><rect x="142.1" y="832.3" width="1.4" height="3.4" fill="#000"/><rect x="146.3" y="832.3" width="1.4" height="3.4" fill="#000"/>
<rect x="109.4" y="831.03" width="0" height="0"/>
<rect x="109.4" y="836.67" width="12.4" height="5.44" fill="#7dd791"/>
<rect x="121.8" y="836.67" width="9.8" height="5.44" fill="#fde47d"/>
<rect x="131.6" y="836.67" width="41.6" height="5.44" fill="#d47dcd"/>
<rect x="59.9" y="837.6" width="1.4" height="3.4" fill="#000"/><rect x="61.5" y="837.6" width="1.4" height="3.4" fill="#000"/><rect x="63.8" y="837.6" width="1.4" height="3.4" fill="#000"/><rect x="80.9" y="837.6" width="1.4" height="3.4" fill="#000"/><rect x="105.9" y="837.6" width="1.4" height="3.4" fill="#000"/><rect x="109.4" y="837.6" width="1.4" height="3.4" fill="#000"/><rect x="111.2" y="837.6" width="1.4" height="3.4" fill="#000"/><rect x="113.6" y="837.6" width="1.4" height="3.4" fill="#000"/><rect x="115.9" y="837.6" width="1.4" height="3.4" fill="#000"/><rect x="118.7" y="837.6" width="1.4" height="3.4" fill="#000"/>
<rect x="109.4" y="836.42" width="0" height="0"/>
<rect x="109.4" y="842.06" width="17.5" height="5.44" fill="#7dd791"/>
<rect x="126.9" y="842.06" width="11.2" height="5.44" fill="#fde47d"/>
<rect x="138.1" y="842.06" width="21.0" height="5.44" fill="#d47dcd"/>
<rect x="61.5" y="843.0" width="1.4" height="3.4" fill="#000"/><rect x="68.5" y="843.0" width="1.4" height="3.4" fill="#000"/><rect x="80.2" y="843.0" width="1.4" height="3.4" fill="#000"/><rect x="109.4" y="843.0" width="1.4" height="3.4" fill="#000"/><rect x="110.5" y="843.0" width="1.4" height="3.4" fill="#000"/><rect x="112.2" y="843.0" width="1.4" height="3.4" fill="#000"/><rect x="114.0" y="843.0" width="1.4" height="3.4" fill="#000"/><rect x="116.4" y="843.0" width="1.4" height="3.4" fill="#000"/><rect x="118.7" y="843.0" width="1.4" height="3.4" fill="#000"/><rect x="139.7" y="843.0" width="1.4" height="3.4" fill="#000"/><rect x="141.6" y="843.0" width="1.4" height="3.4" fill="#000"/><rect x="143.2" y="843.0" width="1.4" height="3.4" fill="#000"/><rect x="149.6" y="843.0" width="1.4" height="3.4" fill="#000"/><rect x="164.3" y="843.0" width="1.4" height="3.4" fill="#000"/>
<rect x="109.4" y="841.81" width="0" height="0"/>
<rect x="109.4" y="847.45" width="22.9" height="5.44" fill="#7dd791"/>
<rect x="132.3" y="847.45" width="4.7" height="5.44" fill="#fde47d"/>
<rect x="136.9" y="847.45" width="9.3" height="5.44" fill="#d47dcd"/>
<rect x="59.2" y="848.4" width="1.4" height="3.4" fill="#000"/><rect x="96.5" y="848.4" width="1.4" height="3.4" fill="#000"/><rect x="98.9" y="848.4" width="1.4" height="3.4" fill="#000"/><rect x="100.5" y="848.4" width="1.4" height="3.4" fill="#000"/><rect x="105.9" y="848.4" width="1.4" height="3.4" fill="#000"/><rect x="116.4" y="848.4" width="1.4" height="3.4" fill="#000"/><rect x="118.3" y="848.4" width="1.4" height="3.4" fill="#000"/><rect x="119.9" y="848.4" width="1.4" height="3.4" fill="#000"/><rect x="122.2" y="848.4" width="1.4" height="3.4" fill="#000"/><rect x="171.3" y="848.4" width="1.4" height="3.4" fill="#000"/>
<rect x="109.4" y="847.20" width="0" height="0"/>
<rect x="109.4" y="852.84" width="17.1" height="5.44" fill="#7dd791"/>
<rect x="126.4" y="852.84" width="8.2" height="5.44" fill="#fde47d"/>
<rect x="134.6" y="852.84" width="17.1" height="5.44" fill="#d47dcd"/>
<rect x="92.6" y="853.8" width="1.4" height="3.4" fill="#000"/><rect x="98.2" y="853.8" width="1.4" height="3.4" fill="#000"/><rect x="104.2" y="853.8" width="1.4" height="3.4" fill="#000"/><rect x="111.7" y="853.8" width="1.4" height="3.4" fill="#000"/><rect x="113.6" y="853.8" width="1.4" height="3.4" fill="#000"/><rect x="115.9" y="853.8" width="1.4" height="3.4" fill="#000"/><rect x="118.3" y="853.8" width="1.4" height="3.4" fill="#000"/><rect x="119.9" y="853.8" width="1.4" height="3.4" fill="#000"/><rect x="151.0" y="853.8" width="1.4" height="3.4" fill="#000"/><rect x="156.1" y="853.8" width="1.4" height="3.4" fill="#000"/><rect x="158.4" y="853.8" width="1.4" height="3.4" fill="#000"/>
<rect x="109.4" y="852.59" width="0" height="0"/>
<rect x="109.4" y="858.23" width="10.0" height="5.44" fill="#7dd791"/>
<rect x="119.4" y="858.23" width="12.8" height="5.44" fill="#fde47d"/>
<rect x="132.3" y="858.23" width="19.4" height="5.44" fill="#d47dcd"/>
<rect x="74.3" y="859.2" width="1.4" height="3.4" fill="#000"/><rect x="88.4" y="859.2" width="1.4" height="3.4" fill="#000"/><rect x="89.8" y="859.2" width="1.4" height="3.4" fill="#000"/><rect x="91.2" y="859.2" width="1.4" height="3.4" fill="#000"/><rect x="107.0" y="859.2" width="1.4" height="3.4" fill="#000"/><rect x="108.9" y="859.2" width="1.4" height="3.4" fill="#000"/><rect x="110.8" y="859.2" width="1.4" height="3.4" fill="#000"/><rect x="112.9" y="859.2" width="1.4" height="3.4" fill="#000"/><rect x="151.0" y="859.2" width="1.4" height="3.4" fill="#000"/><rect x="153.8" y="859.2" width="1.4" height="3.4" fill="#000"/>
<rect x="109.4" y="857.98" width="0" height="0"/>
<rect x="109.4" y="863.62" width="31.1" height="5.44" fill="#7dd791"/>
<rect x="140.4" y="863.62" width="11.2" height="5.44" fill="#fde47d"/>
<rect x="151.7" y="863.62" width="21.0" height="5.44" fill="#d47dcd"/>
<rect x="104.7" y="864.6" width="1.4" height="3.4" fill="#000"/><rect x="107.0" y="864.6" width="1.4" height="3.4" fill="#000"/><rect x="116.4" y="864.6" width="1.4" height="3.4" fill="#000"/><rect x="119.9" y="864.6" width="1.4" height="3.4" fill="#000"/><rect x="121.5" y="864.6" width="1.4" height="3.4" fill="#000"/><rect x="125.7" y="864.6" width="1.4" height="3.4" fill="#000"/><rect x="128.1" y="864.6" width="1.4" height="3.4" fill="#000"/><rect x="131.6" y="864.6" width="1.4" height="3.4" fill="#000"/><rect x="135.1" y="864.6" width="1.4" height="3.4" fill="#000"/><rect x="152.6" y="864.6" width="1.4" height="3.4" fill="#000"/><rect x="154.9" y="864.6" width="1.4" height="3.4" fill="#000"/><rect x="179.5" y="864.6" width="1.4" height="3.4" fill="#000"/><rect x="180.6" y="864.6" width="1.4" height="3.4" fill="#000"/>
<rect x="109.4" y="863.37" width="0" height="0"/>
<rect x="109.4" y="869.01" width="15.9" height="5.44" fill="#7dd791"/>
<rect x="125.3" y="869.01" width="8.6" height="5.44" fill="#fde47d"/>
<rect x="133.9" y="869.01" width="17.8" height="5.44" fill="#d47dcd"/>
<rect x="109.4" y="870.0" width="1.4" height="3.4" fill="#000"/><rect x="111.2" y="870.0" width="1.4" height="3.4" fill="#000"/><rect x="113.6" y="870.0" width="1.4" height="3.4" fill="#000"/><rect x="116.4" y="870.0" width="1.4" height="3.4" fill="#000"/><rect x="118.7" y="870.0" width="1.4" height="3.4" fill="#000"/><rect x="121.1" y="870.0" width="1.4" height="3.4" fill="#000"/><rect x="143.2" y="870.0" width="1.4" height="3.4" fill="#000"/><rect x="147.9" y="870.0" width="1.4" height="3.4" fill="#000"/><rect x="149.6" y="870.0" width="1.4" height="3.4" fill="#000"/><rect x="151.4" y="870.0" width="1.4" height="3.4" fill="#000"/><rect x="159.6" y="870.0" width="1.4" height="3.4" fill="#000"/>
<rect x="109.4" y="868.76" width="0" height="0"/>
<rect x="109.4" y="874.40" width="16.6" height="5.44" fill="#7dd791"/>
<rect x="126.0" y="874.40" width="9.8" height="5.44" fill="#fde47d"/>
<rect x="135.8" y="874.40" width="15.9" height="5.44" fill="#d47dcd"/>
<rect x="72.0" y="875.4" width="1.4" height="3.4" fill="#000"/><rect x="103.5" y="875.4" width="1.4" height="3.4" fill="#000"/><rect x="112.9" y="875.4" width="1.4" height="3.4" fill="#000"/><rect x="114.5" y="875.4" width="1.4" height="3.4" fill="#000"/><rect x="116.4" y="875.4" width="1.4" height="3.4" fill="#000"/><rect x="118.7" y="875.4" width="1.4" height="3.4" fill="#000"/><rect x="121.1" y="875.4" width="1.4" height="3.4" fill="#000"/>
<rect x="109.4" y="874.15" width="0" height="0"/>
<rect x="109.4" y="879.79" width="17.1" height="5.44" fill="#7dd791"/>
<rect x="126.4" y="879.79" width="10.5" height="5.44" fill="#fde47d"/>
<rect x="136.9" y="879.79" width="21.0" height="5.44" fill="#d47dcd"/>
<rect x="62.7" y="880.8" width="1.4" height="3.4" fill="#000"/><rect x="65.5" y="880.8" width="1.4" height="3.4" fill="#000"/><rect x="67.3" y="880.8" width="1.4" height="3.4" fill="#000"/><rect x="115.2" y="880.8" width="1.4" height="3.4" fill="#000"/><rect x="116.9" y="880.8" width="1.4" height="3.4" fill="#000"/><rect x="118.7" y="880.8" width="1.4" height="3.4" fill="#000"/><rect x="144.4" y="880.8" width="1.4" height="3.4" fill="#000"/>
<rect x="109.4" y="879.54" width="0" height="0"/>
<rect x="275.5" y="820.8" width="73" height="63.9" fill="#fdb97c"/>
<rect x="341.8" y="843.6" width="7" height="6.4" fill="#fff"/>
<rect x="275.5" y="826.3000000000001" width="73" height="0.6" fill="#fff" fill-opacity="0.4"/>
<rect x="275.5" y="849.7" width="73" height="0.6" fill="#fff" fill-opacity="0.4"/>
<rect x="275.5" y="878.9000000000001" width="73" height="0.6" fill="#fff" fill-opacity="0.4"/>
<rect x="252.1" y="851.0" width="1.4" height="3.6" fill="#000"/><rect x="255.2" y="851.0" width="1.4" height="3.6" fill="#000"/><rect x="338.8" y="851.0" width="1.4" height="3.6" fill="#000"/>
<rect x="439.4" y="815.80" width="6.1" height="6.54" fill="#d2d2d2"/>
<rect x="445.5" y="815.80" width="18.1" height="6.54" fill="#7dd791"/>
<rect x="463.6" y="815.80" width="7.3" height="6.54" fill="#fde47d"/>
<rect x="470.9" y="815.80" width="14.0" height="6.54" fill="#d47dcd"/>
<rect x="425.9" y="817.0" width="1.4" height="4.2" fill="#000"/><rect x="446.9" y="817.0" width="1.4" height="4.2" fill="#000"/><rect x="449.8" y="817.0" width="1.4" height="4.2" fill="#000"/><rect x="452.7" y="817.0" width="1.4" height="4.2" fill="#000"/><rect x="455.7" y="817.0" width="1.4" height="4.2" fill="#000"/><rect x="478.4" y="817.0" width="1.4" height="4.2" fill="#000"/><rect x="492.1" y="817.0" width="1.4" height="4.2" fill="#000"/><rect x="503.8" y="817.0" width="1.4" height="4.2" fill="#000"/>
<rect x="397.4" y="822.29" width="48.2" height="6.54" fill="#d2d2d2"/>
<rect x="445.5" y="822.29" width="15.2" height="6.54" fill="#7dd791"/>
<rect x="460.7" y="822.29" width="9.6" height="6.54" fill="#fde47d"/>
<rect x="470.4" y="822.29" width="9.3" height="6.54" fill="#d47dcd"/>
<rect x="398.7" y="823.5" width="1.4" height="4.2" fill="#000"/><rect x="400.8" y="823.5" width="1.4" height="4.2" fill="#000"/><rect x="403.1" y="823.5" width="1.4" height="4.2" fill="#000"/><rect x="406.0" y="823.5" width="1.4" height="4.2" fill="#000"/><rect x="408.9" y="823.5" width="1.4" height="4.2" fill="#000"/><rect x="444.0" y="823.5" width="1.4" height="4.2" fill="#000"/><rect x="446.9" y="823.5" width="1.4" height="4.2" fill="#000"/><rect x="449.8" y="823.5" width="1.4" height="4.2" fill="#000"/>
<rect x="397.4" y="822.04" width="0" height="0"/>
<rect x="414.0" y="828.78" width="31.5" height="6.54" fill="#d2d2d2"/>
<rect x="445.5" y="828.78" width="15.2" height="6.54" fill="#7dd791"/>
<rect x="460.7" y="828.78" width="13.7" height="6.54" fill="#fde47d"/>
<rect x="474.5" y="828.78" width="8.2" height="6.54" fill="#d47dcd"/>
<rect x="482.6" y="828.78" width="19.0" height="6.54" fill="#7dd791"/>
<rect x="501.6" y="828.78" width="7.9" height="6.54" fill="#fde47d"/>
<rect x="509.5" y="828.78" width="8.2" height="6.54" fill="#d47dcd"/>
<rect x="422.9" y="829.9" width="1.4" height="4.2" fill="#000"/><rect x="429.4" y="829.9" width="1.4" height="4.2" fill="#000"/><rect x="436.7" y="829.9" width="1.4" height="4.2" fill="#000"/><rect x="438.7" y="829.9" width="1.4" height="4.2" fill="#000"/><rect x="441.1" y="829.9" width="1.4" height="4.2" fill="#000"/><rect x="446.9" y="829.9" width="1.4" height="4.2" fill="#000"/><rect x="483.4" y="829.9" width="1.4" height="4.2" fill="#000"/><rect x="485.4" y="829.9" width="1.4" height="4.2" fill="#000"/><rect x="487.8" y="829.9" width="1.4" height="4.2" fill="#000"/>
<rect x="414.0" y="828.53" width="0" height="0"/>
<rect x="409.6" y="835.27" width="35.9" height="6.54" fill="#d2d2d2"/>
<rect x="445.5" y="835.27" width="16.1" height="6.54" fill="#7dd791"/>
<rect x="461.6" y="835.27" width="7.9" height="6.54" fill="#fde47d"/>
<rect x="469.5" y="835.27" width="23.4" height="6.54" fill="#d47dcd"/>
<rect x="408.9" y="836.4" width="1.4" height="4.2" fill="#000"/><rect x="411.3" y="836.4" width="1.4" height="4.2" fill="#000"/><rect x="413.3" y="836.4" width="1.4" height="4.2" fill="#000"/><rect x="435.2" y="836.4" width="1.4" height="4.2" fill="#000"/><rect x="437.5" y="836.4" width="1.4" height="4.2" fill="#000"/><rect x="439.6" y="836.4" width="1.4" height="4.2" fill="#000"/><rect x="442.5" y="836.4" width="1.4" height="4.2" fill="#000"/><rect x="474.6" y="836.4" width="1.4" height="4.2" fill="#000"/><rect x="476.1" y="836.4" width="1.4" height="4.2" fill="#000"/><rect x="477.5" y="836.4" width="1.4" height="4.2" fill="#000"/>
<rect x="409.6" y="835.02" width="0" height="0"/>
<rect x="433.0" y="841.76" width="12.6" height="6.54" fill="#d2d2d2"/>
<rect x="445.5" y="841.76" width="19.6" height="6.54" fill="#7dd791"/>
<rect x="465.1" y="841.76" width="7.3" height="6.54" fill="#fde47d"/>
<rect x="472.4" y="841.76" width="8.8" height="6.54" fill="#d47dcd"/>
<rect x="481.2" y="841.76" width="13.1" height="6.54" fill="#7dd791"/>
<rect x="494.3" y="841.76" width="10.2" height="6.54" fill="#fde47d"/>
<rect x="504.5" y="841.76" width="15.5" height="6.54" fill="#d47dcd"/>
<rect x="431.7" y="842.9" width="1.4" height="4.2" fill="#000"/><rect x="446.9" y="842.9" width="1.4" height="4.2" fill="#000"/><rect x="449.2" y="842.9" width="1.4" height="4.2" fill="#000"/><rect x="452.1" y="842.9" width="1.4" height="4.2" fill="#000"/><rect x="473.2" y="842.9" width="1.4" height="4.2" fill="#000"/><rect x="476.1" y="842.9" width="1.4" height="4.2" fill="#000"/><rect x="479.0" y="842.9" width="1.4" height="4.2" fill="#000"/><rect x="509.7" y="842.9" width="1.4" height="4.2" fill="#000"/><rect x="511.7" y="842.9" width="1.4" height="4.2" fill="#000"/>
<rect x="433.0" y="841.51" width="0" height="0"/>
<rect x="397.4" y="848.25" width="48.2" height="6.54" fill="#d2d2d2"/>
<rect x="445.5" y="848.25" width="18.1" height="6.54" fill="#7dd791"/>
<rect x="463.6" y="848.25" width="14.6" height="6.54" fill="#fde47d"/>
<rect x="478.2" y="848.25" width="7.3" height="6.54" fill="#d47dcd"/>
<rect x="397.3" y="849.4" width="1.4" height="4.2" fill="#000"/><rect x="411.9" y="849.4" width="1.4" height="4.2" fill="#000"/><rect x="414.2" y="849.4" width="1.4" height="4.2" fill="#000"/><rect x="416.2" y="849.4" width="1.4" height="4.2" fill="#000"/><rect x="435.8" y="849.4" width="1.4" height="4.2" fill="#000"/><rect x="445.7" y="849.4" width="1.4" height="4.2" fill="#000"/><rect x="452.1" y="849.4" width="1.4" height="4.2" fill="#000"/><rect x="455.7" y="849.4" width="1.4" height="4.2" fill="#000"/><rect x="480.5" y="849.4" width="1.4" height="4.2" fill="#000"/><rect x="482.5" y="849.4" width="1.4" height="4.2" fill="#000"/><rect x="484.8" y="849.4" width="1.4" height="4.2" fill="#000"/><rect x="498.9" y="849.4" width="1.4" height="4.2" fill="#000"/>
<rect x="397.4" y="848.00" width="0" height="0"/>
<rect x="416.9" y="854.74" width="28.6" height="6.54" fill="#d2d2d2"/>
<rect x="445.5" y="854.74" width="18.1" height="6.54" fill="#7dd791"/>
<rect x="463.6" y="854.74" width="4.4" height="6.54" fill="#fde47d"/>
<rect x="468.0" y="854.74" width="2.3" height="6.54" fill="#d47dcd"/>
<rect x="470.4" y="854.74" width="9.3" height="6.54" fill="#7dd791"/>
<rect x="479.7" y="854.74" width="24.8" height="6.54" fill="#fde47d"/>
<rect x="504.5" y="854.74" width="15.5" height="6.54" fill="#d47dcd"/>
<rect x="438.1" y="855.9" width="1.4" height="4.2" fill="#000"/><rect x="442.5" y="855.9" width="1.4" height="4.2" fill="#000"/><rect x="444.6" y="855.9" width="1.4" height="4.2" fill="#000"/><rect x="446.9" y="855.9" width="1.4" height="4.2" fill="#000"/><rect x="467.9" y="855.9" width="1.4" height="4.2" fill="#000"/><rect x="473.2" y="855.9" width="1.4" height="4.2" fill="#000"/><rect x="480.5" y="855.9" width="1.4" height="4.2" fill="#000"/><rect x="483.4" y="855.9" width="1.4" height="4.2" fill="#000"/><rect x="486.3" y="855.9" width="1.4" height="4.2" fill="#000"/><rect x="489.2" y="855.9" width="1.4" height="4.2" fill="#000"/>
<rect x="416.9" y="854.49" width="0" height="0"/>
<rect x="424.2" y="861.23" width="21.3" height="6.54" fill="#d2d2d2"/>
<rect x="445.5" y="861.23" width="16.6" height="6.54" fill="#7dd791"/>
<rect x="462.2" y="861.23" width="5.3" height="6.54" fill="#fde47d"/>
<rect x="467.4" y="861.23" width="7.9" height="6.54" fill="#d47dcd"/>
<rect x="420.0" y="862.4" width="1.4" height="4.2" fill="#000"/><rect x="445.4" y="862.4" width="1.4" height="4.2" fill="#000"/><rect x="446.9" y="862.4" width="1.4" height="4.2" fill="#000"/><rect x="448.4" y="862.4" width="1.4" height="4.2" fill="#000"/><rect x="469.7" y="862.4" width="1.4" height="4.2" fill="#000"/><rect x="471.7" y="862.4" width="1.4" height="4.2" fill="#000"/><rect x="473.2" y="862.4" width="1.4" height="4.2" fill="#000"/><rect x="476.7" y="862.4" width="1.4" height="4.2" fill="#000"/>
<rect x="424.2" y="860.98" width="0" height="0"/>
<rect x="425.7" y="867.72" width="19.9" height="6.54" fill="#d2d2d2"/>
<rect x="445.5" y="867.72" width="23.1" height="6.54" fill="#7dd791"/>
<rect x="468.6" y="867.72" width="5.3" height="6.54" fill="#d47dcd"/>
<rect x="473.9" y="867.72" width="16.1" height="6.54" fill="#fde47d"/>
<rect x="489.9" y="867.72" width="10.2" height="6.54" fill="#d47dcd"/>
<rect x="405.4" y="868.9" width="1.4" height="4.2" fill="#000"/><rect x="414.2" y="868.9" width="1.4" height="4.2" fill="#000"/><rect x="446.9" y="868.9" width="1.4" height="4.2" fill="#000"/><rect x="449.8" y="868.9" width="1.4" height="4.2" fill="#000"/><rect x="452.7" y="868.9" width="1.4" height="4.2" fill="#000"/><rect x="455.7" y="868.9" width="1.4" height="4.2" fill="#000"/><rect x="473.8" y="868.9" width="1.4" height="4.2" fill="#000"/>
<rect x="425.7" y="867.47" width="0" height="0"/>
<rect x="398.0" y="874.21" width="47.6" height="6.54" fill="#d2d2d2"/>
<rect x="445.5" y="874.21" width="13.7" height="6.54" fill="#7dd791"/>
<rect x="459.3" y="874.21" width="2.9" height="6.54" fill="#fde47d"/>
<rect x="462.2" y="874.21" width="14.0" height="6.54" fill="#d47dcd"/>
<rect x="413.3" y="875.4" width="1.4" height="4.2" fill="#000"/><rect x="417.7" y="875.4" width="1.4" height="4.2" fill="#000"/><rect x="444.0" y="875.4" width="1.4" height="4.2" fill="#000"/><rect x="446.3" y="875.4" width="1.4" height="4.2" fill="#000"/><rect x="448.4" y="875.4" width="1.4" height="4.2" fill="#000"/><rect x="450.4" y="875.4" width="1.4" height="4.2" fill="#000"/><rect x="452.7" y="875.4" width="1.4" height="4.2" fill="#000"/><rect x="454.2" y="875.4" width="1.4" height="4.2" fill="#000"/><rect x="509.7" y="875.4" width="1.4" height="4.2" fill="#000"/>
<rect x="398.0" y="873.96" width="0" height="0"/>
<polygon points="144.5,776.2 146.0,775.0 151.8,767.6 159.1,751.5 164.1,726.1 169.3,734.0 175.2,738.4 179.6,742.8 184.2,732.6 184.2,750.0 179.6,760.3 175.2,755.9 169.3,754.5 165.0,750.0 159.1,767.6 154.7,773.4 148.9,776.2 144.5,776.2" fill="#999" fill-opacity="0.75"/>
<polyline points="59.8,775.9 144.5,775.9 148.9,770.5 153.9,770.5 158.5,760.3 164.1,738.4 168.8,744.2 174.6,747.7 180.4,754.5 184.2,741.3" fill="none" stroke="#3b2a9e" stroke-width="2.3" stroke-linejoin="round"/>
<path d="M59.8,692.0 V775.9 H184.3" fill="none" stroke="#111" stroke-width="1.3"/>
<line x1="56.0" y1="692.0" x2="59.8" y2="692.0" stroke="#111" stroke-width="1.3"/>
<line x1="56.0" y1="775.9" x2="59.8" y2="775.9" stroke="#111" stroke-width="1.3"/>
<line x1="59.8" y1="775.9" x2="59.8" y2="779.1" stroke="#111" stroke-width="1.3"/>
<line x1="109.3" y1="775.9" x2="109.3" y2="779.1" stroke="#111" stroke-width="1.3"/>
<line x1="184.3" y1="775.9" x2="184.3" y2="779.1" stroke="#111" stroke-width="1.3"/>
<text x="54.8" y="696.6" font-size="13.4" text-anchor="end" fill="#111" font-weight="normal" >50</text>
<text x="54.8" y="780.5" font-size="13.4" text-anchor="end" fill="#111" font-weight="normal" >0</text>
<text x="57.6" y="792.0" font-size="13.4" text-anchor="middle" fill="#111" font-weight="normal" >−0.50</text>
<text x="109.3" y="792.0" font-size="13.4" text-anchor="middle" fill="#111" font-weight="normal" >0</text>
<text x="181.0" y="792.0" font-size="13.4" text-anchor="middle" fill="#111" font-weight="normal" >0.75</text>
<text x="121.5" y="807.1" font-size="13.2" text-anchor="middle" fill="#111" font-weight="normal" >Time (s)</text>
<rect x="68.8" y="691.4" width="8.8" height="8.5" fill="#00a555" stroke="#333" stroke-width="1.2"/>
<text x="80.8" y="700.0" font-size="13.4" text-anchor="start" fill="#111" font-weight="normal" >Reach</text>
<rect x="68.8" y="704.0" width="8.8" height="8.5" fill="#fadc14" stroke="#333" stroke-width="1.2"/>
<text x="80.8" y="712.6" font-size="13.4" text-anchor="start" fill="#111" font-weight="normal" >Grasp</text>
<rect x="68.8" y="716.6" width="8.8" height="8.5" fill="#af1ea5" stroke="#333" stroke-width="1.2"/>
<text x="80.8" y="725.2" font-size="13.4" text-anchor="start" fill="#111" font-weight="normal" >Retract</text>
<polygon points="248.4,776.1 255.7,766.1 262.4,758.8 267.4,731.1 273.2,741.3 277.6,739.9 282.8,753.0 287.8,741.3 292.2,748.6 297.4,707.7 302.4,713.6 308.2,720.9 312.6,734.0 317.0,712.1 322.8,716.5 327.2,718.0 332.5,693.1 337.4,700.4 342.4,696.1 347.7,701.9 352.0,688.2 352.0,723.8 347.7,731.1 342.4,720.9 337.4,731.1 332.5,716.5 327.2,744.8 322.0,738.4 317.0,742.8 312.6,761.8 308.2,742.8 302.4,739.9 297.4,731.1 292.2,765.3 287.8,758.8 282.8,776.4 277.6,758.8 273.2,760.3 267.4,751.5 262.4,772.8 255.7,773.4 248.4,776.1" fill="#999" fill-opacity="0.75"/>
<polyline points="228.0,776.1 248.4,776.1 255.7,769.1 262.4,765.3 267.4,742.2 273.2,750.1 277.6,750.1 282.8,765.3 287.8,749.5 292.2,758.2 297.4,720.0 302.4,726.7 308.2,732.0 312.6,750.1 317.0,727.3 322.0,727.3 327.2,732.0 332.5,704.8 337.4,716.5 342.4,708.6 347.7,716.5 352.0,705.7" fill="none" stroke="#3b2a9e" stroke-width="2.3" stroke-linejoin="round"/>
<path d="M227.9,692.0 V775.9 H352.0" fill="none" stroke="#111" stroke-width="1.3"/>
<line x1="224.1" y1="692.0" x2="227.9" y2="692.0" stroke="#111" stroke-width="1.3"/>
<line x1="224.1" y1="775.9" x2="227.9" y2="775.9" stroke="#111" stroke-width="1.3"/>
<line x1="227.9" y1="775.9" x2="227.9" y2="779.1" stroke="#111" stroke-width="1.3"/>
<line x1="277.4" y1="775.9" x2="277.4" y2="779.1" stroke="#111" stroke-width="1.3"/>
<line x1="352.0" y1="775.9" x2="352.0" y2="779.1" stroke="#111" stroke-width="1.3"/>
<text x="222.9" y="696.6" font-size="13.4" text-anchor="end" fill="#111" font-weight="normal" >50</text>
<text x="222.9" y="780.5" font-size="13.4" text-anchor="end" fill="#111" font-weight="normal" >0</text>
<text x="224.3" y="792.0" font-size="13.4" text-anchor="middle" fill="#111" font-weight="normal" >−0.50</text>
<text x="277.4" y="792.0" font-size="13.4" text-anchor="middle" fill="#111" font-weight="normal" >0</text>
<text x="347.9" y="792.0" font-size="13.4" text-anchor="middle" fill="#111" font-weight="normal" >0.75</text>
<text x="291.1" y="807.1" font-size="13.2" text-anchor="middle" fill="#111" font-weight="normal" >Time (s)</text>
<rect x="235.0" y="691.6" width="8.8" height="8.5" fill="#f08200" stroke="#333" stroke-width="1.2"/>
<text x="247.6" y="700.2" font-size="13.4" text-anchor="start" fill="#111" font-weight="normal" >Handling</text>
<polyline points="397.7,775.9 417.0,775.9 420.8,772.7 424.6,775.9 451.7,775.9 455.5,772.7 459.3,775.9 461.9,775.9 465.7,772.7 469.5,775.9 506.9,775.9 510.7,772.7 514.5,775.9 519.9,775.9" fill="none" stroke="#3b2a9e" stroke-width="2.3" stroke-linejoin="round"/>
<path d="M397.7,692.0 V775.9 H519.9" fill="none" stroke="#111" stroke-width="1.3"/>
<line x1="393.9" y1="692.0" x2="397.7" y2="692.0" stroke="#111" stroke-width="1.3"/>
<line x1="393.9" y1="775.9" x2="397.7" y2="775.9" stroke="#111" stroke-width="1.3"/>
<line x1="397.7" y1="775.9" x2="397.7" y2="779.1" stroke="#111" stroke-width="1.3"/>
<line x1="445.9" y1="775.9" x2="445.9" y2="779.1" stroke="#111" stroke-width="1.3"/>
<line x1="519.9" y1="775.9" x2="519.9" y2="779.1" stroke="#111" stroke-width="1.3"/>
<text x="392.7" y="696.6" font-size="13.4" text-anchor="end" fill="#111" font-weight="normal" >50</text>
<text x="392.7" y="780.5" font-size="13.4" text-anchor="end" fill="#111" font-weight="normal" >0</text>
<text x="393.6" y="792.0" font-size="13.4" text-anchor="middle" fill="#111" font-weight="normal" >−0.50</text>
<text x="445.9" y="792.0" font-size="13.4" text-anchor="middle" fill="#111" font-weight="normal" >0</text>
<text x="516.4" y="792.0" font-size="13.4" text-anchor="middle" fill="#111" font-weight="normal" >0.75</text>
<text x="458.0" y="807.1" font-size="13.2" text-anchor="middle" fill="#111" font-weight="normal" >Time (s)</text>
<rect x="459.90000000000003" y="691.5" width="8.8" height="8.5" fill="#aaaaaa" stroke="#333" stroke-width="1.2"/>
<text x="474.5" y="700.1" font-size="13.4" text-anchor="start" fill="#111" font-weight="normal" >Arrival</text>
<rect x="459.90000000000003" y="704.55" width="8.8" height="8.5" fill="#00a555" stroke="#333" stroke-width="1.2"/>
<text x="474.5" y="713.1" font-size="13.4" text-anchor="start" fill="#111" font-weight="normal" >Reach</text>
<rect x="459.90000000000003" y="717.6" width="8.8" height="8.5" fill="#fadc14" stroke="#333" stroke-width="1.2"/>
<text x="474.5" y="726.2" font-size="13.4" text-anchor="start" fill="#111" font-weight="normal" >Lever</text>
<rect x="459.90000000000003" y="730.65" width="8.8" height="8.5" fill="#af1ea5" stroke="#333" stroke-width="1.2"/>
<text x="474.5" y="739.2" font-size="13.4" text-anchor="start" fill="#111" font-weight="normal" >Retract</text>
<polygon points="59.3,947.2 64.2,953.5 69.5,964.2 75.3,962.0 80.3,950.9 84.7,962.8 89.6,950.1 94.9,967.9 99.9,959.1 105.1,947.2 109.5,922.1 114.5,887.9 119.7,920.0 124.1,967.3 129.1,970.3 134.3,961.8 139.6,953.8 144.5,957.0 149.5,952.2 154.2,958.9 159.1,955.9 164.1,965.2 168.8,968.5 173.7,968.5 178.7,964.1 183.4,975.3 183.4,978.7 178.7,978.7 173.7,978.7 168.8,978.7 164.1,978.7 159.1,975.0 154.2,976.6 149.5,972.1 144.5,976.1 139.6,975.0 134.3,978.7 129.1,978.7 124.1,977.9 119.7,951.8 114.5,921.8 109.5,951.8 105.1,966.2 99.9,976.1 94.9,978.7 89.6,971.3 84.7,978.7 80.3,972.1 75.3,976.9 69.5,976.9 64.2,970.5 59.3,966.2" fill="#999" fill-opacity="0.75"/>
<polyline points="59.3,956.5 64.2,961.2 69.5,970.5 75.3,970.5 80.3,962.3 84.7,973.4 89.6,959.4 94.9,976.4 99.9,967.6 105.1,956.5 109.5,936.9 114.5,904.8 119.7,936.9 124.1,972.8 129.1,975.8 134.3,971.1 139.6,965.3 144.5,967.6 149.5,962.3 154.2,968.2 159.1,965.3 164.1,972.8 168.8,974.9 173.7,974.9 178.7,973.4 183.4,978.7" fill="none" stroke="#3b2a9e" stroke-width="2.3" stroke-linejoin="round"/>
<path d="M58.6,896.2 V978.8 H183.9" fill="none" stroke="#111" stroke-width="1.3"/>
<line x1="54.800000000000004" y1="896.2" x2="58.6" y2="896.2" stroke="#111" stroke-width="1.3"/>
<line x1="54.800000000000004" y1="978.8" x2="58.6" y2="978.8" stroke="#111" stroke-width="1.3"/>
<line x1="58.6" y1="978.8" x2="58.6" y2="982.0" stroke="#111" stroke-width="1.3"/>
<line x1="109.3" y1="978.8" x2="109.3" y2="982.0" stroke="#111" stroke-width="1.3"/>
<line x1="183.9" y1="978.8" x2="183.9" y2="982.0" stroke="#111" stroke-width="1.3"/>
<text x="53.6" y="900.8" font-size="13.4" text-anchor="end" fill="#111" font-weight="normal" >50</text>
<text x="53.6" y="983.4" font-size="13.4" text-anchor="end" fill="#111" font-weight="normal" >0</text>
<text x="57.8" y="994.9" font-size="13.4" text-anchor="middle" fill="#111" font-weight="normal" >−0.50</text>
<text x="109.3" y="994.9" font-size="13.4" text-anchor="middle" fill="#111" font-weight="normal" >0</text>
<text x="181.0" y="994.9" font-size="13.4" text-anchor="middle" fill="#111" font-weight="normal" >0.75</text>
<text x="121.5" y="1010.0" font-size="13.2" text-anchor="middle" fill="#111" font-weight="normal" >Time (s)</text>
<rect x="132.0" y="896.2" width="8.8" height="8.5" fill="#00a555" stroke="#333" stroke-width="1.2"/>
<text x="144.0" y="904.8" font-size="13.4" text-anchor="start" fill="#111" font-weight="normal" >Reach</text>
<rect x="132.0" y="908.8000000000001" width="8.8" height="8.5" fill="#fadc14" stroke="#333" stroke-width="1.2"/>
<text x="144.0" y="917.4" font-size="13.4" text-anchor="start" fill="#111" font-weight="normal" >Grasp</text>
<rect x="132.0" y="921.4000000000001" width="8.8" height="8.5" fill="#af1ea5" stroke="#333" stroke-width="1.2"/>
<text x="144.0" y="930.0" font-size="13.4" text-anchor="start" fill="#111" font-weight="normal" >Retract</text>
<polyline points="228.1,978.8 250.1,978.8 254.6,976.8 259.1,978.8 333.9,978.8 338.4,976.8 342.9,978.8 348.2,978.8" fill="none" stroke="#3b2a9e" stroke-width="2.3" stroke-linejoin="round"/>
<path d="M228.1,896.2 V978.8 H348.2" fill="none" stroke="#111" stroke-width="1.3"/>
<line x1="224.29999999999998" y1="896.2" x2="228.1" y2="896.2" stroke="#111" stroke-width="1.3"/>
<line x1="224.29999999999998" y1="978.8" x2="228.1" y2="978.8" stroke="#111" stroke-width="1.3"/>
<line x1="228.1" y1="978.8" x2="228.1" y2="982.0" stroke="#111" stroke-width="1.3"/>
<line x1="275.7" y1="978.8" x2="275.7" y2="982.0" stroke="#111" stroke-width="1.3"/>
<line x1="348.2" y1="978.8" x2="348.2" y2="982.0" stroke="#111" stroke-width="1.3"/>
<text x="223.1" y="900.8" font-size="13.4" text-anchor="end" fill="#111" font-weight="normal" >50</text>
<text x="223.1" y="983.4" font-size="13.4" text-anchor="end" fill="#111" font-weight="normal" >0</text>
<text x="224.0" y="994.9" font-size="13.4" text-anchor="middle" fill="#111" font-weight="normal" >−0.50</text>
<text x="275.7" y="994.9" font-size="13.4" text-anchor="middle" fill="#111" font-weight="normal" >0</text>
<text x="347.9" y="994.9" font-size="13.4" text-anchor="middle" fill="#111" font-weight="normal" >0.75</text>
<text x="290.9" y="1010.0" font-size="13.2" text-anchor="middle" fill="#111" font-weight="normal" >Time (s)</text>
<rect x="235.0" y="895.9" width="8.8" height="8.5" fill="#f08200" stroke="#333" stroke-width="1.2"/>
<text x="247.6" y="904.5" font-size="13.4" text-anchor="start" fill="#111" font-weight="normal" >Handling</text>
<polygon points="397.1,960.1 402.3,952.8 406.7,962.1 412.6,950.7 417.8,965.0 422.8,958.3 427.2,967.1 432.4,956.3 436.5,957.7 441.2,939.1 446.1,911.6 451.1,957.2 455.8,967.4 460.7,972.6 465.7,966.5 470.9,953.9 475.9,941.7 481.2,959.2 486.1,963.3 490.8,965.9 494.9,965.0 500.1,970.9 505.1,972.6 510.4,969.7 514.7,976.7 519.1,972.9 519.1,978.8 514.7,978.8 510.4,976.1 505.1,978.8 500.1,977.9 494.9,973.2 490.8,974.1 486.1,972.0 481.2,969.1 475.9,955.7 470.9,963.9 465.7,974.7 460.7,978.8 455.8,975.5 451.1,966.5 446.1,929.1 441.2,950.7 436.5,965.9 432.4,964.5 427.2,975.3 422.8,966.5 417.8,973.2 412.6,960.1 406.7,970.3 402.3,962.1 397.1,968.2" fill="#999" fill-opacity="0.75"/>
<polyline points="397.1,964.2 402.3,957.4 406.7,966.2 412.6,955.4 417.8,969.1 422.8,962.4 427.2,971.2 432.4,960.4 436.5,961.8 441.2,944.9 446.1,920.4 451.1,961.8 455.8,971.5 460.7,975.8 465.7,970.6 470.9,958.9 475.9,948.7 481.2,964.2 486.1,967.7 490.8,970.0 494.9,969.1 500.1,974.4 505.1,975.8 510.4,972.9 514.7,978.8 519.1,975.8" fill="none" stroke="#3b2a9e" stroke-width="2.3" stroke-linejoin="round"/>
<path d="M397.3,896.2 V978.8 H519.5" fill="none" stroke="#111" stroke-width="1.3"/>
<line x1="393.5" y1="896.2" x2="397.3" y2="896.2" stroke="#111" stroke-width="1.3"/>
<line x1="393.5" y1="978.8" x2="397.3" y2="978.8" stroke="#111" stroke-width="1.3"/>
<line x1="397.3" y1="978.8" x2="397.3" y2="982.0" stroke="#111" stroke-width="1.3"/>
<line x1="446.3" y1="978.8" x2="446.3" y2="982.0" stroke="#111" stroke-width="1.3"/>
<line x1="519.5" y1="978.8" x2="519.5" y2="982.0" stroke="#111" stroke-width="1.3"/>
<text x="392.3" y="900.8" font-size="13.4" text-anchor="end" fill="#111" font-weight="normal" >50</text>
<text x="392.3" y="983.4" font-size="13.4" text-anchor="end" fill="#111" font-weight="normal" >0</text>
<text x="393.3" y="994.9" font-size="13.4" text-anchor="middle" fill="#111" font-weight="normal" >−0.50</text>
<text x="446.3" y="994.9" font-size="13.4" text-anchor="middle" fill="#111" font-weight="normal" >0</text>
<text x="516.9" y="994.9" font-size="13.4" text-anchor="middle" fill="#111" font-weight="normal" >0.75</text>
<text x="458.1" y="1010.0" font-size="13.2" text-anchor="middle" fill="#111" font-weight="normal" >Time (s)</text>
<rect x="459.90000000000003" y="890.9" width="8.8" height="8.5" fill="#aaaaaa" stroke="#333" stroke-width="1.2"/>
<text x="474.5" y="899.5" font-size="13.4" text-anchor="start" fill="#111" font-weight="normal" >Arrival</text>
<rect x="459.90000000000003" y="904.0" width="8.8" height="8.5" fill="#00a555" stroke="#333" stroke-width="1.2"/>
<text x="474.5" y="912.6" font-size="13.4" text-anchor="start" fill="#111" font-weight="normal" >Reach</text>
<rect x="459.90000000000003" y="917.1" width="8.8" height="8.5" fill="#fadc14" stroke="#333" stroke-width="1.2"/>
<text x="474.5" y="925.7" font-size="13.4" text-anchor="start" fill="#111" font-weight="normal" >Lever</text>
<rect x="459.90000000000003" y="930.1999999999999" width="8.8" height="8.5" fill="#af1ea5" stroke="#333" stroke-width="1.2"/>
<text x="474.5" y="938.8" font-size="13.4" text-anchor="start" fill="#111" font-weight="normal" >Retract</text>
<text transform="translate(18.6,732.6) rotate(-90)" font-size="15.8" text-anchor="middle" fill="#111">Firing rate (Hz)</text>
<text transform="translate(18.6,937.4) rotate(-90)" font-size="15.8" text-anchor="middle" fill="#111">Firing rate (Hz)</text>
<text x="575.0" y="638.3" font-size="15.4" text-anchor="middle" fill="#111" font-weight="normal" >latRM</text>
<text x="575.0" y="654.1999999999999" font-size="15.4" text-anchor="middle" fill="#111" font-weight="normal" >population</text>
<text x="575.0" y="846.5" font-size="15.4" text-anchor="middle" fill="#111" font-weight="normal" >latRM</text>
<text x="575.0" y="862.4" font-size="15.4" text-anchor="middle" fill="#111" font-weight="normal" >population</text>
<text x="575.0" y="719.1" font-size="15.4" text-anchor="middle" fill="#111" font-weight="normal" >Behavioural</text>
<text x="575.0" y="735.1" font-size="15.4" text-anchor="middle" fill="#111" font-weight="normal" >tuning</text>
<text x="575.0" y="924.5" font-size="15.4" text-anchor="middle" fill="#111" font-weight="normal" >Behavioural</text>
<text x="575.0" y="940.5" font-size="15.4" text-anchor="middle" fill="#111" font-weight="normal" >tuning</text>
<text x="652.0" y="720.9" font-size="15.4" text-anchor="middle" fill="#f08a1e" font-weight="normal" >Handling</text>
<text x="652.4" y="736.7" font-size="15.4" text-anchor="middle" fill="#111" font-weight="normal" >Tuned</text>
<text x="652.4" y="892.9" font-size="15.4" text-anchor="middle" fill="#62b9c4" font-weight="normal" >Reach</text>
<text x="652.2" y="908.7" font-size="15.4" text-anchor="middle" fill="#62b9c4" font-weight="normal" >for pellet</text>
<text x="654.0" y="928.2" font-size="15.4" text-anchor="middle" fill="#b928a8" font-weight="normal" >Reach</text>
<text x="653.9" y="944.5" font-size="15.4" text-anchor="middle" fill="#b928a8" font-weight="normal" >for lever</text>
<text x="653.8" y="960.8" font-size="15.4" text-anchor="middle" fill="#111" font-weight="normal" >Cotuned</text>
<circle cx="652.3" cy="642.4" r="17.2" fill="#fa9f46" stroke="#5a5a5a" stroke-width="1.4"/>
<circle cx="647.4" cy="634.5" r="3.4" fill="#f08200" stroke="#111" stroke-width="1.2"/>
<circle cx="658.4" cy="635" r="3.4" fill="#f08200" stroke="#111" stroke-width="1.2"/>
<circle cx="643.9" cy="643.3" r="3.4" fill="#f08200" stroke="#111" stroke-width="1.2"/>
<circle cx="655.3" cy="643" r="3.4" fill="#f08200" stroke="#111" stroke-width="1.2"/>
<circle cx="662.9" cy="648.8" r="3.4" fill="#f08200" stroke="#111" stroke-width="1.2"/>
<circle cx="649.4" cy="652.1" r="3.4" fill="#f08200" stroke="#111" stroke-width="1.2"/>
<defs><clipPath id="c2"><circle cx="652.2" cy="850" r="17.3"/></clipPath><pattern id="stripes" patternUnits="userSpaceOnUse" width="6.8" height="6.8" patternTransform="rotate(45 652.2 850)"><rect width="6.8" height="6.8" fill="#62b9c4"/><rect width="3.4" height="6.8" fill="#b928a8"/></pattern></defs>
<circle cx="652.2" cy="850" r="17.3" fill="url(#stripes)" stroke="#111" stroke-width="1.4"/>
<circle cx="646.1" cy="841.5" r="3.5" fill="#62b9c4" stroke="#111" stroke-width="1.2"/>
<circle cx="655.6" cy="840.2" r="3.5" fill="#b928a8" stroke="#111" stroke-width="1.2"/>
<circle cx="663.5" cy="846.4" r="3.5" fill="#62b9c4" stroke="#111" stroke-width="1.2"/>
<circle cx="641.8" cy="852" r="3.5" fill="#b928a8" stroke="#111" stroke-width="1.2"/>
<circle cx="653" cy="851" r="3.5" fill="#62b9c4" stroke="#111" stroke-width="1.2"/>
<circle cx="661.9" cy="855.9" r="3.5" fill="#b928a8" stroke="#111" stroke-width="1.2"/>
<circle cx="645.1" cy="860.1" r="3.5" fill="#62b9c4" stroke="#111" stroke-width="1.2"/>
<circle cx="655" cy="861.2" r="3.5" fill="#b928a8" stroke="#111" stroke-width="1.2"/>
</svg>
</body></html>
